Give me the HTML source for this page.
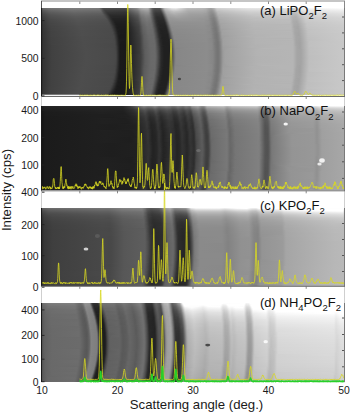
<!DOCTYPE html>
<html><head><meta charset="utf-8"><style>
html,body{margin:0;padding:0;background:#fff;width:350px;height:413px;overflow:hidden;position:relative}
#im{position:absolute;left:0;top:0;width:350px;height:413px}
#im div{position:absolute;left:42px;width:303px;height:1px}
svg{position:absolute;left:0;top:0;display:block}
text{font-family:"Liberation Sans",sans-serif}
</style></head><body>
<div id="im">
<div style="top:8px;background:linear-gradient(90deg,#5c5c5c 0px,#686868 1px,#737373 7px,#7e7e7e 33px,#797979 57px,#4d4d4d 61px,#4b4b4b 83px,#4d4d4d 84px,#737373 87px,#8b8b8b 95px,#a6a6a6 98px,#b3b3b3 103px,#b3b3b3 106px,#a3a3a3 107px,#767676 109px,#656565 110px,#5a5a5a 111px,#535353 113px,#535353 118px,#878787 120px,#b4b4b4 122px,#c2c2c2 123px,#e4e4e4 130px,#e8e8e8 134px,#d1d1d1 140px,#bdbdbd 145px,#bbbbbb 154px,#b6b6b6 163px,#a5a5a5 167px,#a1a1a1 169px,#b3b3b3 172px,#cacaca 174px,#d0d0d0 175px,#e3e3e3 206px,#e7e7e7 233px,#e7e7e7 245px,#d5d5d5 248px,#d2d2d2 252px,#ededed 259px,#f3f3f3 262px,#fbfbfb 302px)"></div>
<div style="top:9px;background:linear-gradient(90deg,#545454 0px,#606060 1px,#6c6c6c 7px,#777777 32px,#737373 57px,#717171 58px,#4d4d4d 61px,#454545 62px,#434343 83px,#454545 84px,#696969 87px,#818181 95px,#a0a0a0 99px,#a9a9a9 103px,#a9a9a9 106px,#9d9d9d 107px,#737373 109px,#545454 111px,#4b4b4b 113px,#4b4b4b 118px,#5c5c5c 119px,#a5a5a5 122px,#b9b9b9 123px,#d6d6d6 130px,#d9d9d9 134px,#c2c2c2 141px,#b4b4b4 146px,#b2b2b2 160px,#adadad 164px,#9f9f9f 167px,#9d9d9d 170px,#aaaaaa 172px,#c9c9c9 175px,#dcdcdc 206px,#e0e0e0 233px,#e0e0e0 245px,#cfcfcf 248px,#cbcbcb 252px,#ebebeb 261px,#f4f4f4 302px)"></div>
<div style="top:10px;background:linear-gradient(90deg,#4d4d4d 0px,#595959 1px,#656565 7px,#707070 30px,#6e6e6e 57px,#6d6d6d 58px,#666666 59px,#4d4d4d 61px,#3f3f3f 63px,#3c3c3c 83px,#3f3f3f 84px,#5f5f5f 87px,#767676 94px,#7e7e7e 96px,#979797 99px,#a1a1a1 104px,#a1a1a1 106px,#989898 107px,#707070 109px,#4f4f4f 111px,#454545 113px,#444444 118px,#4c4c4c 119px,#818181 121px,#acacac 123px,#b5b5b5 124px,#cccccc 131px,#cbcbcb 135px,#afafaf 146px,#adadad 160px,#a9a9a9 164px,#999999 168px,#969696 170px,#a2a2a2 172px,#c2c2c2 175px,#d6d6d6 205px,#dadada 231px,#dadada 245px,#c8c8c8 249px,#c7c7c7 253px,#e5e5e5 261px,#eeeeee 302px)"></div>
<div style="top:11px;background:linear-gradient(90deg,#484848 0px,#545454 1px,#606060 7px,#6c6c6c 32px,#686868 58px,#676767 59px,#4e4e4e 61px,#3b3b3b 64px,#373737 83px,#393939 84px,#575757 87px,#757575 96px,#8f8f8f 99px,#9a9a9a 104px,#9a9a9a 106px,#949494 107px,#5e5e5e 110px,#4e4e4e 111px,#404040 113px,#404040 119px,#898989 122px,#9e9e9e 123px,#aeaeae 124px,#c2c2c2 132px,#bbbbbb 138px,#aaaaaa 146px,#a9a9a9 160px,#a6a6a6 164px,#959595 168px,#919191 170px,#9c9c9c 172px,#bababa 175px,#c1c1c1 180px,#d2d2d2 209px,#d5d5d5 245px,#cecece 247px,#c3c3c3 249px,#c1c1c1 253px,#dcdcdc 260px,#e2e2e2 263px,#e9e9e9 302px)"></div>
<div style="top:12px;background:linear-gradient(90deg,#434343 0px,#4f4f4f 1px,#5b5b5b 7px,#676767 32px,#646464 58px,#5f5f5f 60px,#484848 62px,#363636 65px,#323232 83px,#343434 84px,#505050 87px,#6e6e6e 96px,#898989 99px,#939393 104px,#939393 106px,#8e8e8e 107px,#4e4e4e 111px,#424242 112px,#3a3a3a 114px,#3b3b3b 119px,#494949 120px,#7d7d7d 122px,#a7a7a7 124px,#b9b9b9 131px,#b6b6b6 137px,#a6a6a6 147px,#a5a5a5 160px,#a3a3a3 164px,#919191 168px,#8e8e8e 170px,#969696 172px,#bababa 176px,#cdcdcd 208px,#d1d1d1 238px,#d1d1d1 246px,#bfbfbf 249px,#bbbbbb 253px,#d6d6d6 260px,#dddddd 263px,#e5e5e5 302px)"></div>
<div style="top:13px;background:linear-gradient(90deg,#3f3f3f 0px,#4b4b4b 1px,#585858 8px,#636363 33px,#5f5f5f 59px,#5e5e5e 60px,#444444 63px,#323232 66px,#303030 84px,#4a4a4a 87px,#676767 96px,#838383 99px,#8e8e8e 104px,#8e8e8e 106px,#898989 107px,#3f3f3f 112px,#363636 114px,#373737 119px,#3b3b3b 120px,#717171 122px,#9b9b9b 124px,#a6a6a6 125px,#b3b3b3 132px,#aaaaaa 140px,#a2a2a2 148px,#a2a2a2 160px,#9c9c9c 165px,#8d8d8d 169px,#8b8b8b 171px,#989898 173px,#b6b6b6 176px,#cacaca 209px,#cdcdcd 246px,#bcbcbc 249px,#b8b8b8 253px,#d8d8d8 262px,#e1e1e1 302px)"></div>
<div style="top:14px;background:linear-gradient(90deg,#3b3b3b 0px,#474747 1px,#545454 8px,#606060 33px,#5c5c5c 59px,#5b5b5b 61px,#3a3a3a 65px,#2e2e2e 67px,#2d2d2d 84px,#454545 87px,#616161 96px,#7d7d7d 99px,#898989 104px,#898989 106px,#858585 107px,#7c7c7c 108px,#3f3f3f 112px,#343434 114px,#343434 120px,#494949 121px,#7b7b7b 123px,#a1a1a1 125px,#adadad 133px,#9f9f9f 148px,#9e9e9e 161px,#9b9b9b 165px,#8a8a8a 169px,#878787 171px,#939393 173px,#b2b2b2 176px,#c6c6c6 208px,#cacaca 238px,#cacaca 246px,#b8b8b8 250px,#b7b7b7 254px,#d4d4d4 262px,#dedede 302px)"></div>
<div style="top:15px;background:linear-gradient(90deg,#383838 0px,#454545 1px,#515151 8px,#5d5d5d 34px,#595959 60px,#555555 62px,#303030 67px,#2a2a2a 68px,#2a2a2a 84px,#404040 87px,#5b5b5b 96px,#787878 99px,#858585 104px,#818181 107px,#7b7b7b 108px,#404040 112px,#323232 114px,#313131 120px,#3d3d3d 121px,#717171 123px,#999999 125px,#a1a1a1 127px,#a7a7a7 134px,#9d9d9d 148px,#9c9c9c 161px,#999999 165px,#888888 169px,#858585 171px,#8e8e8e 173px,#adadad 176px,#b2b2b2 179px,#c6c6c6 215px,#c5c5c5 247px,#b6b6b6 250px,#b4b4b4 254px,#d3d3d3 263px,#dbdbdb 302px)"></div>
<div style="top:16px;background:linear-gradient(90deg,#363636 0px,#424242 1px,#4f4f4f 8px,#5a5a5a 34px,#565656 61px,#525252 63px,#2c2c2c 68px,#272727 70px,#272727 84px,#404040 88px,#575757 96px,#737373 99px,#818181 104px,#7e7e7e 107px,#7a7a7a 108px,#363636 113px,#2d2d2d 115px,#313131 121px,#666666 123px,#8f8f8f 125px,#9c9c9c 126px,#a3a3a3 134px,#9b9b9b 149px,#9a9a9a 161px,#949494 166px,#868686 169px,#858585 172px,#9d9d9d 175px,#afafaf 177px,#c2c2c2 213px,#c4c4c4 247px,#b4b4b4 250px,#b0b0b0 254px,#d0d0d0 263px,#d8d8d8 302px)"></div>
<div style="top:17px;background:linear-gradient(90deg,#343434 0px,#404040 1px,#4d4d4d 8px,#585858 34px,#555555 61px,#545454 63px,#282828 69px,#252525 84px,#3c3c3c 88px,#535353 96px,#6f6f6f 99px,#7e7e7e 104px,#7b7b7b 107px,#787878 108px,#444444 112px,#353535 113px,#2c2c2c 115px,#2d2d2d 121px,#404040 122px,#727272 124px,#989898 126px,#9f9f9f 135px,#999999 150px,#989898 162px,#939393 166px,#838383 170px,#818181 172px,#8e8e8e 174px,#acacac 177px,#bfbfbf 211px,#c2c2c2 247px,#b2b2b2 250px,#aeaeae 254px,#cdcdcd 263px,#d6d6d6 302px)"></div>
<div style="top:18px;background:linear-gradient(90deg,#323232 0px,#3e3e3e 1px,#4b4b4b 8px,#565656 34px,#535353 62px,#525252 64px,#2a2a2a 69px,#232323 71px,#232323 84px,#393939 88px,#505050 96px,#717171 100px,#7b7b7b 105px,#767676 108px,#6e6e6e 109px,#373737 113px,#2b2b2b 115px,#2b2b2b 121px,#363636 122px,#696969 124px,#909090 126px,#979797 127px,#9b9b9b 136px,#979797 151px,#959595 163px,#939393 166px,#838383 169px,#7e7e7e 172px,#8a8a8a 174px,#aaaaaa 177px,#bcbcbc 208px,#c0c0c0 238px,#c0c0c0 247px,#afafaf 251px,#afafaf 255px,#cccccc 264px,#d4d4d4 302px)"></div>
<div style="top:19px;background:linear-gradient(90deg,#303030 0px,#3d3d3d 1px,#494949 8px,#555555 35px,#515151 63px,#4f4f4f 65px,#2d2d2d 69px,#222222 71px,#222222 84px,#373737 88px,#4d4d4d 96px,#6f6f6f 100px,#797979 105px,#747474 108px,#6f6f6f 109px,#393939 113px,#2b2b2b 115px,#292929 120px,#2c2c2c 122px,#5f5f5f 124px,#888888 126px,#959595 127px,#989898 137px,#969696 153px,#939393 164px,#929292 166px,#818181 170px,#7d7d7d 172px,#878787 174px,#a6a6a6 177px,#acacac 182px,#bdbdbd 214px,#bcbcbc 248px,#aeaeae 251px,#adadad 255px,#cbcbcb 264px,#d3d3d3 302px)"></div>
<div style="top:20px;background:linear-gradient(90deg,#2f2f2f 0px,#3b3b3b 1px,#484848 8px,#545454 36px,#505050 64px,#4b4b4b 66px,#2a2a2a 70px,#212121 72px,#212121 84px,#383838 89px,#4a4a4a 96px,#6c6c6c 100px,#777777 105px,#707070 109px,#303030 114px,#272727 116px,#292929 122px,#3b3b3b 123px,#6d6d6d 125px,#939393 127px,#969696 138px,#949494 162px,#8d8d8d 167px,#808080 170px,#7c7c7c 172px,#858585 174px,#a2a2a2 177px,#a8a8a8 178px,#bbbbbb 211px,#bcbcbc 248px,#adadad 251px,#ababab 255px,#c9c9c9 264px,#d1d1d1 302px)"></div>
<div style="top:21px;background:linear-gradient(90deg,#2e2e2e 0px,#3a3a3a 1px,#474747 8px,#535353 35px,#4f4f4f 64px,#4e4e4e 66px,#2d2d2d 70px,#202020 73px,#1f1f1f 84px,#363636 89px,#4e4e4e 97px,#6a6a6a 100px,#757575 105px,#707070 109px,#3e3e3e 113px,#303030 114px,#272727 116px,#282828 122px,#323232 123px,#656565 125px,#8b8b8b 127px,#929292 128px,#939393 143px,#939393 162px,#8e8e8e 167px,#7d7d7d 171px,#7c7c7c 173px,#8a8a8a 175px,#a7a7a7 178px,#b9b9b9 211px,#bcbcbc 248px,#acacac 251px,#a9a9a9 255px,#c8c8c8 264px,#d0d0d0 302px)"></div>
<div style="top:22px;background:linear-gradient(90deg,#2d2d2d 0px,#393939 1px,#464646 8px,#525252 36px,#4e4e4e 65px,#4b4b4b 67px,#303030 70px,#1f1f1f 73px,#1f1f1f 84px,#373737 90px,#4b4b4b 97px,#676767 100px,#737373 105px,#6f6f6f 109px,#5b5b5b 111px,#323232 114px,#252525 117px,#292929 123px,#717171 126px,#848484 127px,#909090 128px,#929292 162px,#8e8e8e 167px,#7d7d7d 171px,#7a7a7a 173px,#878787 175px,#a6a6a6 178px,#b8b8b8 211px,#bbbbbb 248px,#acacac 251px,#a8a8a8 255px,#c6c6c6 264px,#cfcfcf 302px)"></div>
<div style="top:23px;background:linear-gradient(90deg,#2c2c2c 0px,#393939 1px,#454545 8px,#515151 36px,#4d4d4d 66px,#4c4c4c 67px,#2c2c2c 71px,#1e1e1e 74px,#1e1e1e 84px,#353535 90px,#494949 97px,#656565 100px,#727272 105px,#6e6e6e 109px,#696969 110px,#353535 114px,#272727 116px,#252525 120px,#262626 123px,#3a3a3a 124px,#6a6a6a 126px,#8f8f8f 128px,#919191 162px,#8e8e8e 167px,#7c7c7c 171px,#797979 173px,#848484 175px,#a3a3a3 178px,#b6b6b6 208px,#bababa 239px,#bababa 248px,#aaaaaa 252px,#a9a9a9 256px,#c6c6c6 265px,#cecece 302px)"></div>
<div style="top:24px;background:linear-gradient(90deg,#2b2b2b 0px,#383838 1px,#454545 8px,#515151 37px,#4d4d4d 66px,#4a4a4a 68px,#2f2f2f 71px,#1d1d1d 74px,#1d1d1d 84px,#373737 91px,#474747 97px,#626262 100px,#717171 105px,#6b6b6b 110px,#2c2c2c 115px,#242424 117px,#252525 123px,#323232 124px,#636363 126px,#898989 128px,#8f8f8f 130px,#919191 162px,#8d8d8d 167px,#7c7c7c 171px,#797979 173px,#828282 175px,#a1a1a1 178px,#a6a6a6 181px,#b7b7b7 213px,#b7b7b7 249px,#a9a9a9 252px,#a8a8a8 256px,#c5c5c5 265px,#cdcdcd 302px)"></div>
<div style="top:25px;background:linear-gradient(90deg,#2b2b2b 0px,#373737 1px,#444444 8px,#505050 37px,#4c4c4c 67px,#4b4b4b 68px,#252525 73px,#1d1d1d 75px,#1d1d1d 84px,#393939 92px,#454545 97px,#606060 100px,#707070 105px,#6d6d6d 110px,#2d2d2d 115px,#232323 118px,#242424 123px,#2a2a2a 124px,#707070 127px,#828282 128px,#8d8d8d 129px,#909090 162px,#8a8a8a 168px,#7c7c7c 171px,#7a7a7a 174px,#939393 177px,#a4a4a4 179px,#b6b6b6 212px,#b8b8b8 249px,#a9a9a9 252px,#a7a7a7 256px,#c5c5c5 265px,#cccccc 302px)"></div>
<div style="top:26px;background:linear-gradient(90deg,#2a2a2a 0px,#373737 1px,#434343 8px,#4f4f4f 37px,#4c4c4c 67px,#484848 69px,#202020 74px,#1c1c1c 77px,#1c1c1c 84px,#3a3a3a 93px,#434343 97px,#646464 101px,#6f6f6f 106px,#6c6c6c 110px,#3d3d3d 114px,#2f2f2f 115px,#232323 118px,#242424 124px,#6a6a6a 127px,#8c8c8c 129px,#909090 162px,#8a8a8a 168px,#7a7a7a 172px,#797979 174px,#868686 176px,#a3a3a3 179px,#b6b6b6 212px,#b8b8b8 249px,#a8a8a8 252px,#a5a5a5 256px,#c4c4c4 265px,#cccccc 302px)"></div>
<div style="top:27px;background:linear-gradient(90deg,#2a2a2a 0px,#373737 1px,#444444 9px,#4f4f4f 38px,#4c4c4c 67px,#4a4a4a 69px,#222222 74px,#1c1c1c 75px,#1c1c1c 84px,#3b3b3b 94px,#424242 97px,#636363 101px,#6e6e6e 106px,#6c6c6c 110px,#595959 112px,#323232 115px,#252525 117px,#232323 122px,#232323 124px,#333333 125px,#636363 127px,#898989 129px,#8d8d8d 134px,#8f8f8f 163px,#8b8b8b 168px,#7a7a7a 172px,#777777 174px,#848484 176px,#a3a3a3 179px,#b5b5b5 212px,#b8b8b8 249px,#a8a8a8 252px,#a5a5a5 256px,#c3c3c3 265px,#cbcbcb 302px)"></div>
<div style="top:28px;background:linear-gradient(90deg,#292929 0px,#363636 1px,#434343 9px,#4f4f4f 39px,#4b4b4b 68px,#464646 70px,#1d1d1d 75px,#1b1b1b 84px,#3a3a3a 94px,#414141 97px,#626262 101px,#6e6e6e 106px,#6c6c6c 110px,#676767 111px,#2a2a2a 116px,#222222 118px,#232323 124px,#2c2c2c 125px,#5d5d5d 127px,#838383 129px,#8b8b8b 130px,#8f8f8f 163px,#8b8b8b 168px,#7b7b7b 171px,#767676 174px,#828282 176px,#a1a1a1 179px,#b4b4b4 210px,#b8b8b8 244px,#b8b8b8 249px,#a7a7a7 253px,#a4a4a4 256px,#c3c3c3 266px,#cbcbcb 302px)"></div>
<div style="top:29px;background:linear-gradient(90deg,#292929 0px,#363636 1px,#434343 9px,#4f4f4f 39px,#4b4b4b 68px,#494949 70px,#1f1f1f 75px,#1b1b1b 79px,#1b1b1b 84px,#3c3c3c 95px,#404040 97px,#616161 101px,#6d6d6d 106px,#696969 111px,#2b2b2b 116px,#222222 118px,#232323 124px,#262626 125px,#6c6c6c 128px,#7e7e7e 129px,#8a8a8a 130px,#8e8e8e 163px,#8b8b8b 168px,#7a7a7a 172px,#767676 174px,#818181 176px,#9f9f9f 179px,#b2b2b2 205px,#b7b7b7 234px,#b7b7b7 249px,#a7a7a7 253px,#a6a6a6 257px,#c1c1c1 265px,#cbcbcb 302px)"></div>
<div style="top:30px;background:linear-gradient(90deg,#292929 0px,#363636 1px,#434343 9px,#4e4e4e 39px,#4a4a4a 69px,#4a4a4a 70px,#202020 75px,#1b1b1b 77px,#1b1b1b 84px,#3b3b3b 95px,#3f3f3f 97px,#606060 101px,#6c6c6c 106px,#6a6a6a 111px,#3a3a3a 115px,#2c2c2c 116px,#212121 119px,#222222 125px,#666666 128px,#8a8a8a 130px,#8e8e8e 163px,#8b8b8b 168px,#7a7a7a 172px,#767676 174px,#7f7f7f 176px,#9d9d9d 179px,#a3a3a3 181px,#b5b5b5 214px,#b5b5b5 250px,#a7a7a7 253px,#a5a5a5 257px,#c2c2c2 266px,#cacaca 302px)"></div>
<div style="top:31px;background:linear-gradient(90deg,#282828 0px,#353535 1px,#424242 9px,#4e4e4e 39px,#4a4a4a 69px,#464646 71px,#222222 75px,#1b1b1b 76px,#1b1b1b 84px,#3a3a3a 95px,#3f3f3f 97px,#5f5f5f 101px,#6c6c6c 106px,#6b6b6b 111px,#3c3c3c 115px,#2e2e2e 116px,#212121 119px,#222222 125px,#313131 126px,#616161 128px,#858585 130px,#8a8a8a 132px,#8e8e8e 163px,#888888 169px,#7a7a7a 172px,#787878 175px,#919191 178px,#a2a2a2 180px,#b4b4b4 213px,#b7b7b7 249px,#a7a7a7 253px,#a5a5a5 257px,#c2c2c2 266px,#cacaca 302px)"></div>
<div style="top:32px;background:linear-gradient(90deg,#282828 0px,#353535 1px,#424242 9px,#4e4e4e 39px,#4a4a4a 69px,#494949 71px,#1c1c1c 76px,#1a1a1a 84px,#3c3c3c 96px,#444444 98px,#5e5e5e 101px,#6b6b6b 106px,#6b6b6b 111px,#4b4b4b 114px,#313131 116px,#242424 118px,#212121 121px,#222222 125px,#2b2b2b 126px,#5b5b5b 128px,#808080 130px,#898989 131px,#8e8e8e 163px,#888888 169px,#787878 173px,#777777 175px,#848484 177px,#a1a1a1 180px,#b4b4b4 213px,#b6b6b6 250px,#a6a6a6 253px,#a4a4a4 257px,#c2c2c2 266px,#cacaca 302px)"></div>
<div style="top:33px;background:linear-gradient(90deg,#282828 0px,#353535 1px,#424242 9px,#4e4e4e 40px,#4a4a4a 70px,#494949 71px,#1d1d1d 76px,#1a1a1a 84px,#3b3b3b 96px,#434343 98px,#5d5d5d 101px,#6b6b6b 106px,#6b6b6b 111px,#646464 112px,#292929 117px,#212121 119px,#222222 125px,#262626 126px,#6a6a6a 129px,#898989 131px,#8e8e8e 163px,#898989 169px,#787878 173px,#767676 175px,#838383 177px,#a1a1a1 180px,#b4b4b4 213px,#b6b6b6 250px,#a6a6a6 253px,#a3a3a3 257px,#c1c1c1 266px,#c9c9c9 302px)"></div>
<div style="top:34px;background:linear-gradient(90deg,#282828 0px,#353535 1px,#424242 9px,#4e4e4e 40px,#4a4a4a 70px,#444444 72px,#1f1f1f 76px,#1a1a1a 78px,#1a1a1a 84px,#3b3b3b 96px,#424242 98px,#5b5b5b 101px,#6a6a6a 106px,#6a6a6a 111px,#666666 112px,#2a2a2a 117px,#212121 120px,#212121 126px,#666666 129px,#888888 131px,#8d8d8d 164px,#898989 169px,#7a7a7a 172px,#757575 175px,#818181 177px,#a1a1a1 180px,#b3b3b3 213px,#b6b6b6 250px,#a7a7a7 253px,#a3a3a3 257px,#c1c1c1 266px,#c9c9c9 302px)"></div>
<div style="top:35px;background:linear-gradient(90deg,#282828 0px,#353535 1px,#424242 9px,#4e4e4e 40px,#4a4a4a 70px,#474747 72px,#202020 76px,#1a1a1a 77px,#1a1a1a 84px,#3b3b3b 96px,#414141 98px,#606060 102px,#6a6a6a 107px,#686868 112px,#383838 116px,#2b2b2b 117px,#212121 120px,#212121 126px,#333333 127px,#616161 129px,#848484 131px,#898989 133px,#8d8d8d 164px,#8a8a8a 169px,#787878 173px,#757575 175px,#808080 177px,#9f9f9f 180px,#b2b2b2 210px,#b6b6b6 241px,#b6b6b6 250px,#a5a5a5 254px,#a3a3a3 257px,#c0c0c0 266px,#c9c9c9 302px)"></div>
<div style="top:36px;background:linear-gradient(90deg,#282828 0px,#353535 1px,#424242 9px,#4d4d4d 40px,#4a4a4a 70px,#494949 72px,#212121 76px,#1a1a1a 77px,#1a1a1a 84px,#3a3a3a 96px,#404040 98px,#5f5f5f 102px,#6a6a6a 107px,#6a6a6a 112px,#2d2d2d 117px,#212121 120px,#212121 126px,#2e2e2e 127px,#5d5d5d 129px,#808080 131px,#888888 132px,#8d8d8d 164px,#8a8a8a 169px,#787878 173px,#757575 175px,#7f7f7f 177px,#9e9e9e 180px,#b1b1b1 206px,#b6b6b6 234px,#b6b6b6 250px,#a5a5a5 254px,#a5a5a5 258px,#c0c0c0 266px,#c9c9c9 302px)"></div>
<div style="top:37px;background:linear-gradient(90deg,#272727 0px,#353535 1px,#414141 9px,#4d4d4d 40px,#4a4a4a 70px,#494949 72px,#1a1a1a 77px,#1a1a1a 84px,#3f3f3f 98px,#5f5f5f 102px,#6a6a6a 107px,#6a6a6a 112px,#2f2f2f 117px,#202020 120px,#212121 126px,#292929 127px,#595959 129px,#7d7d7d 131px,#888888 132px,#8d8d8d 164px,#8a8a8a 169px,#787878 173px,#757575 175px,#7e7e7e 177px,#9d9d9d 180px,#a2a2a2 183px,#b4b4b4 215px,#b6b6b6 250px,#a5a5a5 254px,#a5a5a5 258px,#bfbfbf 266px,#c9c9c9 302px)"></div>
<div style="top:38px;background:linear-gradient(90deg,#272727 0px,#343434 1px,#414141 9px,#4d4d4d 40px,#494949 71px,#494949 72px,#424242 73px,#1b1b1b 77px,#1a1a1a 84px,#3e3e3e 98px,#5e5e5e 102px,#696969 107px,#6a6a6a 112px,#3f3f3f 116px,#282828 118px,#202020 120px,#212121 126px,#252525 127px,#686868 130px,#888888 132px,#8d8d8d 164px,#868686 170px,#787878 173px,#757575 175px,#7d7d7d 177px,#9b9b9b 180px,#a1a1a1 182px,#b3b3b3 215px,#b3b3b3 251px,#a5a5a5 254px,#a4a4a4 258px,#bfbfbf 266px,#c9c9c9 302px)"></div>
<div style="top:39px;background:linear-gradient(90deg,#272727 0px,#343434 1px,#414141 9px,#4d4d4d 41px,#4a4a4a 71px,#444444 73px,#252525 76px,#1c1c1c 77px,#1a1a1a 84px,#3e3e3e 98px,#5e5e5e 102px,#696969 107px,#6a6a6a 112px,#585858 114px,#292929 118px,#202020 121px,#212121 127px,#656565 130px,#878787 132px,#8d8d8d 164px,#878787 170px,#777777 174px,#767676 176px,#8f8f8f 179px,#a1a1a1 181px,#b3b3b3 214px,#b6b6b6 250px,#a5a5a5 254px,#a4a4a4 258px,#bebebe 266px,#c9c9c9 302px)"></div>
<div style="top:40px;background:linear-gradient(90deg,#272727 0px,#343434 1px,#414141 9px,#4d4d4d 41px,#4a4a4a 71px,#464646 73px,#262626 76px,#1d1d1d 77px,#1a1a1a 84px,#3b3b3b 97px,#3d3d3d 98px,#5e5e5e 102px,#696969 108px,#6a6a6a 112px,#646464 113px,#292929 118px,#202020 121px,#212121 127px,#616161 130px,#848484 132px,#888888 136px,#8d8d8d 164px,#878787 170px,#777777 174px,#767676 176px,#8e8e8e 179px,#a0a0a0 181px,#b3b3b3 214px,#b4b4b4 251px,#a5a5a5 254px,#a3a3a3 258px,#bebebe 266px,#c9c9c9 302px)"></div>
<div style="top:41px;background:linear-gradient(90deg,#272727 0px,#343434 1px,#414141 9px,#4d4d4d 42px,#4a4a4a 71px,#484848 73px,#272727 76px,#1e1e1e 77px,#191919 81px,#1c1c1c 85px,#3d3d3d 98px,#5d5d5d 102px,#696969 108px,#6a6a6a 112px,#656565 113px,#2a2a2a 118px,#202020 121px,#212121 127px,#303030 128px,#5e5e5e 130px,#828282 132px,#888888 133px,#8d8d8d 164px,#888888 170px,#777777 174px,#757575 176px,#828282 178px,#a0a0a0 181px,#b3b3b3 214px,#b5b5b5 251px,#a5a5a5 254px,#a3a3a3 258px,#c0c0c0 267px,#c8c8c8 302px)"></div>
<div style="top:42px;background:linear-gradient(90deg,#272727 0px,#343434 1px,#414141 9px,#4d4d4d 42px,#4a4a4a 71px,#484848 73px,#1e1e1e 77px,#1a1a1a 79px,#1a1a1a 84px,#3d3d3d 98px,#5d5d5d 102px,#696969 108px,#6a6a6a 112px,#676767 113px,#2b2b2b 118px,#202020 121px,#202020 127px,#2d2d2d 128px,#5b5b5b 130px,#7f7f7f 132px,#888888 133px,#8c8c8c 165px,#888888 170px,#797979 173px,#747474 176px,#818181 178px,#a0a0a0 181px,#b3b3b3 214px,#b5b5b5 251px,#a5a5a5 254px,#a2a2a2 258px,#c0c0c0 267px,#c8c8c8 302px)"></div>
<div style="top:43px;background:linear-gradient(90deg,#272727 0px,#343434 1px,#414141 9px,#4d4d4d 42px,#494949 72px,#484848 73px,#1f1f1f 77px,#1a1a1a 79px,#1a1a1a 84px,#3c3c3c 98px,#5c5c5c 102px,#696969 108px,#686868 113px,#2d2d2d 118px,#202020 121px,#202020 127px,#2a2a2a 128px,#585858 130px,#7d7d7d 132px,#878787 133px,#8c8c8c 165px,#898989 170px,#797979 173px,#747474 176px,#818181 178px,#a0a0a0 181px,#b3b3b3 214px,#b5b5b5 251px,#a5a5a5 254px,#a2a2a2 258px,#c0c0c0 267px,#c8c8c8 302px)"></div>
<div style="top:44px;background:linear-gradient(90deg,#272727 0px,#343434 1px,#424242 10px,#4d4d4d 42px,#494949 72px,#484848 73px,#202020 77px,#1a1a1a 78px,#191919 84px,#3c3c3c 98px,#5c5c5c 102px,#696969 108px,#696969 113px,#2e2e2e 118px,#202020 121px,#202020 127px,#272727 128px,#696969 131px,#878787 133px,#8c8c8c 165px,#898989 170px,#797979 173px,#747474 176px,#808080 178px,#a0a0a0 181px,#b2b2b2 213px,#b5b5b5 251px,#a6a6a6 254px,#a2a2a2 258px,#c0c0c0 267px,#c8c8c8 302px)"></div>
<div style="top:45px;background:linear-gradient(90deg,#272727 0px,#343434 1px,#414141 10px,#4d4d4d 42px,#494949 72px,#484848 73px,#414141 74px,#202020 77px,#1a1a1a 78px,#191919 84px,#3c3c3c 98px,#5b5b5b 102px,#696969 108px,#6a6a6a 113px,#2f2f2f 118px,#242424 120px,#202020 123px,#202020 127px,#242424 128px,#676767 131px,#878787 133px,#8c8c8c 165px,#898989 170px,#777777 174px,#747474 176px,#7f7f7f 178px,#9f9f9f 181px,#b1b1b1 211px,#b5b5b5 241px,#b5b5b5 251px,#a6a6a6 254px,#a2a2a2 258px,#c0c0c0 267px,#c8c8c8 302px)"></div>
<div style="top:46px;background:linear-gradient(90deg,#272727 0px,#343434 1px,#414141 10px,#4d4d4d 42px,#494949 72px,#494949 73px,#434343 74px,#212121 77px,#1a1a1a 78px,#191919 84px,#3c3c3c 98px,#5b5b5b 102px,#696969 108px,#6a6a6a 113px,#282828 119px,#202020 121px,#212121 128px,#656565 131px,#878787 133px,#8c8c8c 165px,#898989 170px,#777777 174px,#747474 176px,#7f7f7f 178px,#9e9e9e 181px,#b1b1b1 210px,#b5b5b5 239px,#b5b5b5 251px,#a5a5a5 255px,#a2a2a2 258px,#c0c0c0 267px,#c8c8c8 302px)"></div>
<div style="top:47px;background:linear-gradient(90deg,#272727 0px,#343434 1px,#414141 10px,#4d4d4d 43px,#494949 72px,#444444 74px,#222222 77px,#1a1a1a 78px,#191919 84px,#3c3c3c 98px,#5a5a5a 102px,#686868 108px,#6a6a6a 113px,#282828 119px,#202020 122px,#202020 128px,#636363 131px,#868686 133px,#8c8c8c 165px,#898989 170px,#777777 174px,#747474 176px,#7f7f7f 178px,#9d9d9d 181px,#b1b1b1 210px,#b5b5b5 239px,#b5b5b5 251px,#a5a5a5 255px,#a2a2a2 258px,#bfbfbf 267px,#c8c8c8 302px)"></div>
<div style="top:48px;background:linear-gradient(90deg,#272727 0px,#343434 1px,#414141 10px,#4d4d4d 43px,#4a4a4a 72px,#444444 74px,#222222 77px,#1a1a1a 78px,#191919 84px,#3c3c3c 98px,#5a5a5a 102px,#686868 108px,#6a6a6a 113px,#404040 117px,#292929 119px,#202020 122px,#202020 128px,#737373 132px,#848484 133px,#8a8a8a 147px,#8c8c8c 165px,#898989 170px,#787878 174px,#747474 176px,#7e7e7e 178px,#9d9d9d 181px,#a5a5a5 189px,#b5b5b5 222px,#b5b5b5 251px,#a5a5a5 255px,#a2a2a2 258px,#bfbfbf 267px,#c8c8c8 302px)"></div>
<div style="top:49px;background:linear-gradient(90deg,#272727 0px,#343434 1px,#414141 10px,#4d4d4d 43px,#4a4a4a 72px,#454545 74px,#222222 77px,#1a1a1a 78px,#191919 84px,#3c3c3c 98px,#5e5e5e 103px,#696969 109px,#6a6a6a 113px,#414141 117px,#292929 119px,#202020 122px,#202020 128px,#323232 129px,#5f5f5f 131px,#838383 133px,#878787 135px,#8c8c8c 165px,#898989 170px,#787878 174px,#747474 176px,#7e7e7e 178px,#9c9c9c 181px,#a2a2a2 185px,#b3b3b3 216px,#b5b5b5 251px,#a5a5a5 255px,#a4a4a4 259px,#bfbfbf 267px,#c8c8c8 302px)"></div>
<div style="top:50px;background:linear-gradient(90deg,#272727 0px,#343434 1px,#414141 10px,#4d4d4d 43px,#4a4a4a 72px,#464646 74px,#232323 77px,#1a1a1a 78px,#191919 84px,#3c3c3c 98px,#5e5e5e 103px,#696969 109px,#6a6a6a 113px,#585858 115px,#292929 119px,#202020 122px,#202020 128px,#313131 129px,#5e5e5e 131px,#828282 133px,#878787 134px,#8c8c8c 165px,#858585 171px,#787878 174px,#747474 176px,#7e7e7e 178px,#9c9c9c 181px,#a2a2a2 184px,#b3b3b3 216px,#b5b5b5 251px,#a5a5a5 255px,#a4a4a4 259px,#bfbfbf 267px,#c8c8c8 302px)"></div>
<div style="top:51px;background:linear-gradient(90deg,#272727 0px,#343434 1px,#414141 10px,#4d4d4d 43px,#4a4a4a 72px,#474747 74px,#232323 77px,#1a1a1a 78px,#191919 84px,#3b3b3b 98px,#5e5e5e 103px,#696969 109px,#6a6a6a 113px,#585858 115px,#292929 119px,#202020 122px,#202020 128px,#2f2f2f 129px,#5d5d5d 131px,#818181 133px,#878787 134px,#8c8c8c 165px,#868686 171px,#787878 174px,#747474 176px,#7d7d7d 178px,#9b9b9b 181px,#a1a1a1 183px,#b3b3b3 215px,#b5b5b5 251px,#a5a5a5 255px,#a4a4a4 259px,#bfbfbf 267px,#c8c8c8 302px)"></div>
<div style="top:52px;background:linear-gradient(90deg,#272727 0px,#343434 1px,#414141 10px,#4d4d4d 44px,#4a4a4a 72px,#474747 74px,#232323 77px,#1a1a1a 78px,#191919 84px,#3b3b3b 98px,#5e5e5e 103px,#696969 109px,#6a6a6a 113px,#595959 115px,#2a2a2a 119px,#202020 122px,#202020 128px,#2e2e2e 129px,#5c5c5c 131px,#808080 133px,#878787 134px,#8c8c8c 165px,#868686 171px,#787878 174px,#747474 176px,#7d7d7d 178px,#9b9b9b 181px,#a1a1a1 183px,#b3b3b3 215px,#b5b5b5 251px,#a5a5a5 255px,#a4a4a4 259px,#bfbfbf 267px,#c8c8c8 302px)"></div>
<div style="top:53px;background:linear-gradient(90deg,#272727 0px,#343434 1px,#414141 10px,#4d4d4d 44px,#4a4a4a 72px,#474747 74px,#242424 77px,#1a1a1a 78px,#191919 84px,#3b3b3b 98px,#5e5e5e 103px,#696969 109px,#6a6a6a 113px,#646464 114px,#2a2a2a 119px,#202020 122px,#202020 128px,#2d2d2d 129px,#5b5b5b 131px,#7f7f7f 133px,#878787 134px,#8c8c8c 165px,#868686 171px,#787878 174px,#747474 176px,#7d7d7d 178px,#9b9b9b 181px,#a1a1a1 183px,#b3b3b3 215px,#b5b5b5 251px,#a5a5a5 255px,#a4a4a4 259px,#bfbfbf 267px,#c8c8c8 302px)"></div>
<div style="top:54px;background:linear-gradient(90deg,#272727 0px,#343434 1px,#414141 10px,#4d4d4d 44px,#4a4a4a 72px,#484848 74px,#242424 77px,#1a1a1a 78px,#191919 84px,#404040 99px,#5d5d5d 103px,#696969 109px,#6a6a6a 113px,#646464 114px,#2a2a2a 119px,#202020 122px,#202020 128px,#2c2c2c 129px,#5b5b5b 131px,#7f7f7f 133px,#878787 134px,#8c8c8c 165px,#868686 171px,#787878 174px,#747474 176px,#7d7d7d 178px,#9b9b9b 181px,#a1a1a1 183px,#b3b3b3 215px,#b5b5b5 251px,#a5a5a5 255px,#a4a4a4 259px,#bfbfbf 267px,#c8c8c8 302px)"></div>
<div style="top:55px;background:linear-gradient(90deg,#272727 0px,#343434 1px,#414141 10px,#4d4d4d 44px,#4a4a4a 72px,#484848 74px,#242424 77px,#1a1a1a 78px,#191919 84px,#404040 99px,#5d5d5d 103px,#696969 109px,#6a6a6a 113px,#646464 114px,#373737 118px,#2a2a2a 119px,#202020 122px,#202020 128px,#2c2c2c 129px,#5a5a5a 131px,#7f7f7f 133px,#878787 134px,#8c8c8c 165px,#868686 171px,#787878 174px,#747474 176px,#7d7d7d 178px,#9b9b9b 181px,#a1a1a1 183px,#b3b3b3 215px,#b5b5b5 251px,#a5a5a5 255px,#a4a4a4 259px,#bebebe 267px,#c8c8c8 302px)"></div>
<div style="top:56px;background:linear-gradient(90deg,#272727 0px,#343434 1px,#414141 10px,#4d4d4d 44px,#4a4a4a 72px,#484848 74px,#242424 77px,#1a1a1a 78px,#191919 84px,#404040 99px,#5d5d5d 103px,#696969 109px,#6a6a6a 113px,#656565 114px,#373737 118px,#2a2a2a 119px,#202020 122px,#202020 128px,#2c2c2c 129px,#5a5a5a 131px,#7e7e7e 133px,#878787 134px,#8c8c8c 165px,#868686 171px,#787878 174px,#747474 176px,#7d7d7d 178px,#9b9b9b 181px,#a1a1a1 183px,#b2b2b2 215px,#b5b5b5 251px,#a5a5a5 255px,#a4a4a4 259px,#bebebe 267px,#c8c8c8 302px)"></div>
<div style="top:57px;background:linear-gradient(90deg,#272727 0px,#343434 1px,#414141 10px,#4d4d4d 44px,#4a4a4a 72px,#484848 74px,#242424 77px,#1a1a1a 78px,#191919 84px,#404040 99px,#5d5d5d 103px,#696969 109px,#6a6a6a 113px,#656565 114px,#373737 118px,#2a2a2a 119px,#202020 122px,#202020 128px,#2c2c2c 129px,#5a5a5a 131px,#7e7e7e 133px,#878787 134px,#8c8c8c 165px,#868686 171px,#787878 174px,#747474 176px,#7d7d7d 178px,#9a9a9a 181px,#a1a1a1 183px,#b2b2b2 215px,#b5b5b5 251px,#a5a5a5 255px,#a4a4a4 259px,#bebebe 267px,#c8c8c8 302px)"></div>
<div style="top:58px;background:linear-gradient(90deg,#272727 0px,#343434 1px,#414141 10px,#4d4d4d 44px,#4a4a4a 72px,#484848 74px,#242424 77px,#1a1a1a 78px,#191919 84px,#404040 99px,#5d5d5d 103px,#696969 109px,#6a6a6a 113px,#646464 114px,#373737 118px,#2a2a2a 119px,#202020 122px,#202020 128px,#2c2c2c 129px,#5a5a5a 131px,#7f7f7f 133px,#878787 134px,#8c8c8c 165px,#868686 171px,#787878 174px,#747474 176px,#7d7d7d 178px,#9b9b9b 181px,#a1a1a1 183px,#b2b2b2 215px,#b5b5b5 251px,#a5a5a5 255px,#a4a4a4 259px,#bebebe 267px,#c8c8c8 302px)"></div>
<div style="top:59px;background:linear-gradient(90deg,#272727 0px,#343434 1px,#414141 10px,#4d4d4d 44px,#4a4a4a 72px,#484848 74px,#242424 77px,#1a1a1a 78px,#191919 84px,#404040 99px,#5d5d5d 103px,#696969 109px,#6a6a6a 113px,#646464 114px,#2a2a2a 119px,#202020 122px,#202020 128px,#2c2c2c 129px,#5b5b5b 131px,#7f7f7f 133px,#878787 134px,#8c8c8c 165px,#868686 171px,#787878 174px,#747474 176px,#7d7d7d 178px,#9b9b9b 181px,#a1a1a1 183px,#b2b2b2 215px,#b5b5b5 251px,#a5a5a5 255px,#a4a4a4 259px,#bebebe 267px,#c8c8c8 302px)"></div>
<div style="top:60px;background:linear-gradient(90deg,#272727 0px,#343434 1px,#414141 10px,#4d4d4d 44px,#4a4a4a 72px,#474747 74px,#242424 77px,#1a1a1a 78px,#191919 84px,#3b3b3b 98px,#5d5d5d 103px,#696969 109px,#6a6a6a 113px,#646464 114px,#2a2a2a 119px,#202020 122px,#202020 128px,#2d2d2d 129px,#5b5b5b 131px,#7f7f7f 133px,#878787 134px,#8c8c8c 165px,#868686 171px,#787878 174px,#747474 176px,#7d7d7d 178px,#9b9b9b 181px,#a1a1a1 183px,#b2b2b2 215px,#b5b5b5 251px,#a5a5a5 255px,#a4a4a4 259px,#bfbfbf 267px,#c8c8c8 302px)"></div>
<div style="top:61px;background:linear-gradient(90deg,#272727 0px,#343434 1px,#414141 10px,#4d4d4d 44px,#4a4a4a 72px,#474747 74px,#232323 77px,#1a1a1a 78px,#191919 84px,#3b3b3b 98px,#5d5d5d 103px,#696969 109px,#6a6a6a 113px,#595959 115px,#2a2a2a 119px,#202020 122px,#202020 128px,#2e2e2e 129px,#5c5c5c 131px,#808080 133px,#878787 134px,#8c8c8c 165px,#868686 171px,#787878 174px,#747474 176px,#7d7d7d 178px,#9b9b9b 181px,#a1a1a1 183px,#b2b2b2 215px,#b5b5b5 251px,#a5a5a5 255px,#a4a4a4 259px,#bfbfbf 267px,#c8c8c8 302px)"></div>
<div style="top:62px;background:linear-gradient(90deg,#272727 0px,#343434 1px,#414141 10px,#4d4d4d 43px,#4a4a4a 72px,#464646 74px,#232323 77px,#1a1a1a 78px,#191919 84px,#3b3b3b 98px,#5d5d5d 103px,#696969 109px,#6a6a6a 113px,#585858 115px,#292929 119px,#202020 122px,#202020 128px,#2f2f2f 129px,#5d5d5d 131px,#818181 133px,#878787 134px,#8c8c8c 165px,#868686 171px,#787878 174px,#747474 176px,#7d7d7d 178px,#9b9b9b 181px,#a1a1a1 183px,#b2b2b2 215px,#b5b5b5 251px,#a5a5a5 255px,#a4a4a4 259px,#bfbfbf 267px,#c8c8c8 302px)"></div>
<div style="top:63px;background:linear-gradient(90deg,#272727 0px,#343434 1px,#414141 10px,#4d4d4d 43px,#4a4a4a 72px,#464646 74px,#232323 77px,#1a1a1a 78px,#191919 84px,#3b3b3b 98px,#5e5e5e 103px,#696969 109px,#6a6a6a 113px,#585858 115px,#292929 119px,#202020 122px,#202020 128px,#313131 129px,#5e5e5e 131px,#828282 133px,#878787 134px,#8c8c8c 165px,#858585 171px,#787878 174px,#747474 176px,#7d7d7d 178px,#9c9c9c 181px,#a2a2a2 184px,#b3b3b3 216px,#b5b5b5 251px,#a5a5a5 255px,#a4a4a4 259px,#bfbfbf 267px,#c8c8c8 302px)"></div>
<div style="top:64px;background:linear-gradient(90deg,#272727 0px,#343434 1px,#414141 10px,#4d4d4d 43px,#4a4a4a 72px,#454545 74px,#222222 77px,#1a1a1a 78px,#191919 84px,#3b3b3b 98px,#5e5e5e 103px,#696969 109px,#6a6a6a 113px,#414141 117px,#292929 119px,#202020 122px,#202020 128px,#323232 129px,#5f5f5f 131px,#838383 133px,#878787 135px,#8c8c8c 165px,#898989 170px,#777777 174px,#747474 176px,#7e7e7e 178px,#9c9c9c 181px,#a2a2a2 185px,#b3b3b3 216px,#b5b5b5 251px,#a5a5a5 255px,#a4a4a4 259px,#bfbfbf 267px,#c8c8c8 302px)"></div>
<div style="top:65px;background:linear-gradient(90deg,#272727 0px,#343434 1px,#414141 10px,#4d4d4d 43px,#494949 72px,#444444 74px,#222222 77px,#1a1a1a 78px,#191919 84px,#3b3b3b 98px,#595959 102px,#686868 108px,#6a6a6a 113px,#404040 117px,#292929 119px,#202020 122px,#202020 128px,#737373 132px,#848484 133px,#8a8a8a 147px,#8c8c8c 165px,#898989 170px,#777777 174px,#747474 176px,#7e7e7e 178px,#9d9d9d 181px,#a5a5a5 189px,#b5b5b5 222px,#b5b5b5 251px,#a5a5a5 255px,#a2a2a2 258px,#bfbfbf 267px,#c8c8c8 302px)"></div>
<div style="top:66px;background:linear-gradient(90deg,#272727 0px,#343434 1px,#414141 10px,#4d4d4d 43px,#494949 72px,#434343 74px,#212121 77px,#1a1a1a 78px,#191919 84px,#3b3b3b 98px,#5a5a5a 102px,#686868 108px,#6a6a6a 113px,#282828 119px,#202020 122px,#202020 128px,#626262 131px,#868686 133px,#8c8c8c 165px,#898989 170px,#777777 174px,#747474 176px,#7e7e7e 178px,#9d9d9d 181px,#b1b1b1 210px,#b5b5b5 239px,#b5b5b5 251px,#a4a4a4 255px,#a2a2a2 258px,#bfbfbf 267px,#c8c8c8 302px)"></div>
<div style="top:67px;background:linear-gradient(90deg,#272727 0px,#343434 1px,#414141 10px,#4d4d4d 42px,#494949 72px,#484848 73px,#424242 74px,#212121 77px,#1a1a1a 78px,#191919 84px,#3b3b3b 98px,#5a5a5a 102px,#686868 108px,#6a6a6a 113px,#282828 119px,#202020 121px,#212121 128px,#646464 131px,#878787 133px,#8c8c8c 165px,#898989 170px,#777777 174px,#747474 176px,#7f7f7f 178px,#9e9e9e 181px,#b1b1b1 210px,#b5b5b5 239px,#b5b5b5 251px,#a4a4a4 255px,#a2a2a2 258px,#bfbfbf 267px,#c8c8c8 302px)"></div>
<div style="top:68px;background:linear-gradient(90deg,#272727 0px,#343434 1px,#414141 10px,#4d4d4d 42px,#494949 72px,#484848 73px,#414141 74px,#202020 77px,#1a1a1a 78px,#191919 84px,#3c3c3c 98px,#5b5b5b 102px,#686868 108px,#6a6a6a 113px,#2f2f2f 118px,#242424 120px,#202020 123px,#202020 127px,#242424 128px,#666666 131px,#878787 133px,#8c8c8c 165px,#898989 170px,#777777 174px,#747474 176px,#7f7f7f 178px,#9f9f9f 181px,#b1b1b1 211px,#b5b5b5 241px,#b5b5b5 251px,#a6a6a6 254px,#a2a2a2 258px,#c0c0c0 267px,#c8c8c8 302px)"></div>
<div style="top:69px;background:linear-gradient(90deg,#272727 0px,#343434 1px,#414141 10px,#4d4d4d 42px,#494949 72px,#484848 73px,#202020 77px,#1a1a1a 78px,#191919 84px,#3c3c3c 98px,#5b5b5b 102px,#686868 108px,#696969 113px,#2e2e2e 118px,#202020 121px,#202020 127px,#262626 128px,#696969 131px,#878787 133px,#8c8c8c 165px,#898989 170px,#797979 173px,#737373 176px,#808080 178px,#9f9f9f 181px,#b2b2b2 213px,#b5b5b5 251px,#a5a5a5 254px,#a2a2a2 258px,#c0c0c0 267px,#c8c8c8 302px)"></div>
<div style="top:70px;background:linear-gradient(90deg,#272727 0px,#343434 1px,#414141 9px,#4d4d4d 42px,#494949 72px,#484848 73px,#1f1f1f 77px,#1a1a1a 79px,#191919 84px,#3c3c3c 98px,#5b5b5b 102px,#686868 108px,#686868 113px,#2c2c2c 118px,#202020 121px,#202020 127px,#292929 128px,#585858 130px,#7c7c7c 132px,#878787 133px,#8c8c8c 165px,#888888 170px,#797979 173px,#747474 176px,#808080 178px,#a0a0a0 181px,#b2b2b2 214px,#b5b5b5 251px,#a5a5a5 254px,#a2a2a2 258px,#c0c0c0 267px,#c8c8c8 302px)"></div>
<div style="top:71px;background:linear-gradient(90deg,#272727 0px,#343434 1px,#414141 9px,#4d4d4d 42px,#4a4a4a 71px,#484848 73px,#1e1e1e 77px,#191919 79px,#191919 84px,#3c3c3c 98px,#5c5c5c 102px,#686868 108px,#6a6a6a 112px,#676767 113px,#2b2b2b 118px,#202020 121px,#202020 127px,#2c2c2c 128px,#5b5b5b 130px,#7e7e7e 132px,#878787 133px,#8d8d8d 164px,#888888 170px,#787878 173px,#747474 176px,#818181 178px,#a0a0a0 181px,#b2b2b2 214px,#b5b5b5 251px,#a5a5a5 254px,#a2a2a2 258px,#c0c0c0 267px,#c8c8c8 302px)"></div>
<div style="top:72px;background:linear-gradient(90deg,#272727 0px,#343434 1px,#414141 9px,#4d4d4d 42px,#4a4a4a 71px,#484848 73px,#262626 76px,#1d1d1d 77px,#191919 81px,#1c1c1c 85px,#3c3c3c 98px,#5c5c5c 102px,#686868 108px,#6a6a6a 112px,#656565 113px,#2a2a2a 118px,#202020 121px,#202020 127px,#303030 128px,#5e5e5e 130px,#818181 132px,#878787 133px,#8c8c8c 164px,#878787 170px,#777777 174px,#757575 176px,#828282 178px,#a0a0a0 181px,#b2b2b2 214px,#b4b4b4 251px,#a5a5a5 254px,#a2a2a2 258px,#bdbdbd 266px,#c8c8c8 302px)"></div>
<div style="top:73px;background:linear-gradient(90deg,#272727 0px,#343434 1px,#414141 9px,#4d4d4d 41px,#494949 71px,#464646 73px,#252525 76px,#1c1c1c 77px,#191919 84px,#3c3c3c 98px,#5c5c5c 102px,#686868 108px,#6a6a6a 112px,#646464 113px,#292929 118px,#202020 121px,#202020 127px,#616161 130px,#848484 132px,#888888 136px,#8c8c8c 164px,#878787 170px,#767676 174px,#757575 176px,#8e8e8e 179px,#a0a0a0 181px,#b2b2b2 214px,#b4b4b4 251px,#a5a5a5 254px,#a3a3a3 258px,#bebebe 266px,#c8c8c8 302px)"></div>
<div style="top:74px;background:linear-gradient(90deg,#272727 0px,#343434 1px,#414141 9px,#4d4d4d 41px,#494949 71px,#444444 73px,#242424 76px,#1b1b1b 77px,#191919 84px,#3c3c3c 98px,#5d5d5d 102px,#696969 108px,#6a6a6a 112px,#575757 114px,#292929 118px,#202020 121px,#202020 127px,#646464 130px,#868686 132px,#8c8c8c 164px,#868686 170px,#767676 174px,#767676 176px,#8f8f8f 179px,#a0a0a0 181px,#b2b2b2 214px,#b5b5b5 250px,#a5a5a5 254px,#a3a3a3 258px,#bebebe 266px,#c8c8c8 302px)"></div>
<div style="top:75px;background:linear-gradient(90deg,#272727 0px,#343434 1px,#414141 9px,#4d4d4d 40px,#494949 71px,#484848 72px,#424242 73px,#1a1a1a 77px,#191919 84px,#3d3d3d 98px,#5d5d5d 102px,#696969 108px,#6a6a6a 112px,#3e3e3e 116px,#282828 118px,#202020 120px,#202020 126px,#242424 127px,#676767 130px,#878787 132px,#8c8c8c 164px,#868686 170px,#787878 173px,#747474 175px,#7d7d7d 177px,#9b9b9b 180px,#a1a1a1 182px,#b3b3b3 215px,#b3b3b3 251px,#a5a5a5 254px,#a3a3a3 258px,#bebebe 266px,#c8c8c8 302px)"></div>
<div style="top:76px;background:linear-gradient(90deg,#272727 0px,#343434 1px,#414141 9px,#4d4d4d 40px,#4a4a4a 70px,#484848 72px,#1a1a1a 77px,#191919 84px,#3d3d3d 98px,#5d5d5d 102px,#696969 108px,#6a6a6a 112px,#2f2f2f 117px,#202020 120px,#202020 126px,#282828 127px,#585858 129px,#7c7c7c 131px,#878787 132px,#8c8c8c 164px,#898989 169px,#787878 173px,#747474 175px,#7d7d7d 177px,#9c9c9c 180px,#a2a2a2 183px,#b3b3b3 215px,#b5b5b5 250px,#a5a5a5 254px,#a4a4a4 258px,#bebebe 266px,#c8c8c8 302px)"></div>
<div style="top:77px;background:linear-gradient(90deg,#272727 0px,#343434 1px,#414141 9px,#4d4d4d 40px,#4a4a4a 70px,#484848 72px,#212121 76px,#1a1a1a 77px,#191919 84px,#3e3e3e 98px,#5d5d5d 102px,#686868 107px,#696969 112px,#2c2c2c 117px,#202020 120px,#202020 126px,#2d2d2d 127px,#5c5c5c 129px,#7f7f7f 131px,#878787 132px,#8c8c8c 164px,#898989 169px,#777777 173px,#747474 175px,#7e7e7e 177px,#9d9d9d 180px,#b0b0b0 206px,#b5b5b5 234px,#b5b5b5 250px,#a5a5a5 254px,#a4a4a4 258px,#bfbfbf 266px,#c8c8c8 302px)"></div>
<div style="top:78px;background:linear-gradient(90deg,#272727 0px,#343434 1px,#414141 9px,#4d4d4d 40px,#494949 70px,#464646 72px,#1f1f1f 76px,#1a1a1a 77px,#191919 84px,#3e3e3e 98px,#5d5d5d 102px,#686868 107px,#676767 112px,#383838 116px,#2a2a2a 117px,#202020 120px,#202020 126px,#323232 127px,#606060 129px,#838383 131px,#878787 133px,#8c8c8c 164px,#898989 169px,#777777 173px,#747474 175px,#7f7f7f 177px,#9e9e9e 180px,#b1b1b1 210px,#b5b5b5 241px,#b5b5b5 250px,#a4a4a4 254px,#a2a2a2 257px,#bfbfbf 266px,#c8c8c8 302px)"></div>
<div style="top:79px;background:linear-gradient(90deg,#272727 0px,#343434 1px,#414141 9px,#4d4d4d 40px,#494949 70px,#444444 72px,#1e1e1e 76px,#1a1a1a 78px,#191919 84px,#3f3f3f 98px,#595959 101px,#686868 107px,#6a6a6a 111px,#666666 112px,#292929 117px,#202020 120px,#202020 126px,#646464 129px,#868686 131px,#8d8d8d 163px,#888888 169px,#797979 172px,#737373 175px,#808080 177px,#a0a0a0 180px,#b2b2b2 213px,#b5b5b5 250px,#a6a6a6 253px,#a2a2a2 257px,#bfbfbf 266px,#c8c8c8 302px)"></div>
<div style="top:80px;background:linear-gradient(90deg,#272727 0px,#343434 1px,#414141 9px,#4d4d4d 40px,#494949 70px,#484848 71px,#1c1c1c 76px,#191919 84px,#404040 98px,#5a5a5a 101px,#686868 107px,#6a6a6a 111px,#646464 112px,#282828 117px,#202020 119px,#202020 125px,#242424 126px,#686868 129px,#878787 131px,#8c8c8c 163px,#888888 169px,#777777 173px,#747474 175px,#818181 177px,#a0a0a0 180px,#b2b2b2 213px,#b5b5b5 250px,#a5a5a5 253px,#a2a2a2 257px,#c0c0c0 266px,#c8c8c8 302px)"></div>
<div style="top:81px;background:linear-gradient(90deg,#272727 0px,#343434 1px,#414141 9px,#4d4d4d 39px,#494949 69px,#484848 71px,#1b1b1b 76px,#191919 84px,#3b3b3b 97px,#5b5b5b 101px,#686868 107px,#6a6a6a 111px,#4b4b4b 114px,#303030 116px,#232323 118px,#202020 122px,#202020 125px,#292929 126px,#595959 128px,#7e7e7e 130px,#878787 131px,#8c8c8c 163px,#878787 169px,#767676 173px,#757575 175px,#838383 177px,#a0a0a0 180px,#b2b2b2 213px,#b4b4b4 250px,#a5a5a5 253px,#a2a2a2 257px,#c0c0c0 266px,#c8c8c8 302px)"></div>
<div style="top:82px;background:linear-gradient(90deg,#272727 0px,#343434 1px,#414141 9px,#4d4d4d 39px,#494949 69px,#454545 71px,#212121 75px,#1a1a1a 76px,#191919 84px,#3b3b3b 97px,#5b5b5b 101px,#696969 107px,#6a6a6a 111px,#3b3b3b 115px,#2d2d2d 116px,#202020 119px,#202020 125px,#2f2f2f 126px,#5e5e5e 128px,#828282 130px,#878787 132px,#8c8c8c 163px,#868686 169px,#787878 172px,#767676 175px,#8f8f8f 178px,#a0a0a0 180px,#b2b2b2 213px,#b5b5b5 249px,#a5a5a5 253px,#a3a3a3 257px,#bebebe 265px,#c8c8c8 302px)"></div>
<div style="top:83px;background:linear-gradient(90deg,#272727 0px,#343434 1px,#414141 9px,#4d4d4d 39px,#494949 69px,#484848 70px,#1f1f1f 75px,#1a1a1a 77px,#191919 84px,#3b3b3b 97px,#5c5c5c 101px,#696969 107px,#696969 111px,#383838 115px,#2a2a2a 116px,#202020 119px,#202020 125px,#636363 128px,#878787 130px,#8c8c8c 163px,#898989 168px,#787878 172px,#747474 174px,#7d7d7d 176px,#9b9b9b 179px,#a1a1a1 181px,#b3b3b3 214px,#b3b3b3 250px,#a5a5a5 253px,#a3a3a3 257px,#bebebe 265px,#c8c8c8 302px)"></div>
<div style="top:84px;background:linear-gradient(90deg,#282828 0px,#343434 1px,#414141 9px,#4d4d4d 39px,#494949 68px,#484848 70px,#1d1d1d 75px,#191919 79px,#191919 84px,#3b3b3b 97px,#5c5c5c 101px,#686868 106px,#676767 111px,#292929 116px,#212121 118px,#202020 124px,#232323 125px,#686868 128px,#7a7a7a 129px,#878787 130px,#8c8c8c 163px,#898989 168px,#777777 172px,#747474 174px,#7e7e7e 176px,#9d9d9d 179px,#b0b0b0 205px,#b5b5b5 234px,#b5b5b5 249px,#a5a5a5 253px,#a4a4a4 257px,#bebebe 265px,#c8c8c8 302px)"></div>
<div style="top:85px;background:linear-gradient(90deg,#282828 0px,#343434 1px,#414141 9px,#4d4d4d 39px,#494949 68px,#444444 70px,#1b1b1b 75px,#191919 84px,#3c3c3c 97px,#5d5d5d 101px,#686868 106px,#6a6a6a 110px,#656565 111px,#282828 116px,#202020 118px,#202020 124px,#292929 125px,#595959 127px,#7f7f7f 129px,#878787 130px,#8c8c8c 163px,#898989 168px,#797979 171px,#737373 174px,#7f7f7f 176px,#9f9f9f 179px,#b1b1b1 210px,#b5b5b5 244px,#b5b5b5 249px,#a4a4a4 253px,#a2a2a2 256px,#bfbfbf 265px,#c8c8c8 302px)"></div>
<div style="top:86px;background:linear-gradient(90deg,#282828 0px,#343434 1px,#414141 9px,#4d4d4d 38px,#4a4a4a 67px,#484848 69px,#202020 74px,#1a1a1a 75px,#191919 84px,#3c3c3c 97px,#5d5d5d 101px,#686868 106px,#6a6a6a 110px,#575757 112px,#2f2f2f 115px,#232323 117px,#202020 124px,#303030 125px,#5f5f5f 127px,#848484 129px,#898989 137px,#8c8c8c 162px,#888888 168px,#777777 172px,#747474 174px,#818181 176px,#a0a0a0 179px,#b2b2b2 212px,#b5b5b5 249px,#a5a5a5 252px,#a2a2a2 256px,#bfbfbf 265px,#c8c8c8 302px)"></div>
<div style="top:87px;background:linear-gradient(90deg,#282828 0px,#343434 1px,#414141 8px,#4d4d4d 37px,#494949 67px,#454545 69px,#1e1e1e 74px,#191919 77px,#191919 84px,#3c3c3c 97px,#5d5d5d 101px,#686868 106px,#6a6a6a 110px,#3b3b3b 114px,#2c2c2c 115px,#202020 118px,#202020 124px,#646464 127px,#878787 129px,#8c8c8c 162px,#878787 168px,#767676 172px,#757575 174px,#838383 176px,#a0a0a0 179px,#b2b2b2 212px,#b5b5b5 249px,#a5a5a5 252px,#a2a2a2 256px,#c0c0c0 265px,#c8c8c8 302px)"></div>
<div style="top:88px;background:linear-gradient(90deg,#282828 0px,#343434 1px,#414141 8px,#4d4d4d 37px,#494949 67px,#484848 68px,#222222 73px,#1a1a1a 75px,#191919 84px,#3d3d3d 97px,#585858 100px,#686868 105px,#6a6a6a 110px,#2a2a2a 115px,#202020 118px,#202020 123px,#252525 124px,#6a6a6a 127px,#7d7d7d 128px,#878787 129px,#8c8c8c 162px,#868686 168px,#787878 171px,#767676 174px,#8f8f8f 177px,#a0a0a0 179px,#b2b2b2 212px,#b4b4b4 249px,#a5a5a5 252px,#a3a3a3 256px,#c0c0c0 265px,#c8c8c8 302px)"></div>
<div style="top:89px;background:linear-gradient(90deg,#282828 0px,#343434 1px,#414141 8px,#4d4d4d 37px,#494949 66px,#464646 68px,#2c2c2c 71px,#1a1a1a 74px,#191919 84px,#3e3e3e 97px,#595959 100px,#686868 105px,#676767 110px,#292929 115px,#202020 117px,#202020 123px,#2c2c2c 124px,#5c5c5c 126px,#828282 128px,#878787 130px,#8c8c8c 162px,#898989 167px,#777777 171px,#747474 173px,#7e7e7e 175px,#9c9c9c 178px,#a2a2a2 181px,#b3b3b3 213px,#b3b3b3 249px,#a5a5a5 252px,#a3a3a3 256px,#bebebe 264px,#c8c8c8 302px)"></div>
<div style="top:90px;background:linear-gradient(90deg,#282828 0px,#353535 1px,#414141 8px,#4d4d4d 36px,#494949 66px,#484848 67px,#282828 71px,#1a1a1a 74px,#191919 84px,#3e3e3e 97px,#5a5a5a 100px,#686868 105px,#6a6a6a 109px,#656565 110px,#313131 114px,#232323 116px,#202020 121px,#202020 123px,#333333 124px,#626262 126px,#878787 128px,#8c8c8c 162px,#898989 167px,#777777 171px,#747474 173px,#7f7f7f 175px,#9e9e9e 178px,#b1b1b1 208px,#b5b5b5 239px,#b5b5b5 248px,#a5a5a5 252px,#a4a4a4 256px,#bebebe 264px,#c8c8c8 302px)"></div>
<div style="top:91px;background:linear-gradient(90deg,#282828 0px,#353535 1px,#414141 8px,#4d4d4d 36px,#494949 65px,#464646 67px,#2b2b2b 70px,#1a1a1a 73px,#191919 84px,#3f3f3f 97px,#5c5c5c 100px,#686868 105px,#6a6a6a 109px,#565656 111px,#2d2d2d 114px,#202020 117px,#222222 123px,#696969 126px,#7b7b7b 127px,#878787 128px,#8c8c8c 161px,#888888 167px,#777777 171px,#747474 173px,#808080 175px,#a0a0a0 178px,#b2b2b2 211px,#b5b5b5 248px,#a6a6a6 251px,#a2a2a2 255px,#bfbfbf 264px,#c8c8c8 302px)"></div>
<div style="top:92px;background:linear-gradient(90deg,#282828 0px,#353535 1px,#414141 8px,#4d4d4d 35px,#494949 64px,#484848 66px,#272727 70px,#1a1a1a 73px,#191919 84px,#404040 97px,#5c5c5c 100px,#686868 105px,#6a6a6a 109px,#383838 113px,#2a2a2a 114px,#212121 116px,#202020 122px,#2a2a2a 123px,#5b5b5b 125px,#818181 127px,#878787 128px,#8c8c8c 161px,#868686 167px,#767676 171px,#757575 173px,#838383 175px,#a0a0a0 178px,#b2b2b2 211px,#b5b5b5 248px,#a5a5a5 251px,#a2a2a2 255px,#bdbdbd 263px,#c2c2c2 273px,#c8c8c8 302px)"></div>
<div style="top:93px;background:linear-gradient(90deg,#282828 0px,#353535 1px,#414141 8px,#4d4d4d 36px,#494949 64px,#444444 66px,#232323 70px,#1a1a1a 72px,#191919 84px,#3b3b3b 96px,#5d5d5d 100px,#686868 105px,#696969 109px,#292929 114px,#202020 116px,#202020 122px,#323232 123px,#616161 125px,#878787 127px,#8c8c8c 161px,#898989 166px,#787878 170px,#747474 172px,#7d7d7d 174px,#9a9a9a 177px,#a0a0a0 178px,#b2b2b2 211px,#b4b4b4 248px,#a5a5a5 251px,#a2a2a2 255px,#bdbdbd 263px,#c7c7c7 296px,#c8c8c8 302px)"></div>
<div style="top:94px;background:linear-gradient(90deg,#282828 0px,#353535 1px,#414141 8px,#4d4d4d 35px,#494949 63px,#474747 65px,#252525 69px,#1a1a1a 71px,#191919 84px,#3b3b3b 96px,#5d5d5d 100px,#686868 105px,#6a6a6a 108px,#676767 109px,#313131 113px,#232323 115px,#202020 121px,#212121 122px,#686868 125px,#7b7b7b 126px,#878787 127px,#8c8c8c 161px,#898989 166px,#777777 170px,#747474 172px,#7e7e7e 174px,#9c9c9c 177px,#a3a3a3 182px,#b3b3b3 214px,#b3b3b3 248px,#a5a5a5 251px,#a3a3a3 255px,#bebebe 263px,#c8c8c8 302px)"></div>
<div style="top:106px;background:linear-gradient(90deg,#1f1f1f 0px,#252525 3px,#292929 51px,#292929 66px,#292929 80px,#3f3f3f 88px,#858585 102px,#797979 106px,#7e7e7e 110px,#8a8a8a 113px,#777777 117px,#858585 124px,#7e7e7e 128px,#737373 130px,#757575 133px,#828282 136px,#747474 141px,#848484 144px,#7b7b7b 147px,#7c7c7c 148px,#979797 150px,#a7a7a7 156px,#909090 159px,#8b8b8b 160px,#909090 162px,#b7b7b7 165px,#c4c4c4 181px,#b2b2b2 185px,#c1c1c1 190px,#cccccc 214px,#cdcdcd 215px,#a2a2a2 221px,#9f9f9f 223px,#a4a4a4 225px,#bdbdbd 227px,#c5c5c5 228px,#e1e1e1 247px,#e6e6e6 270px,#dedede 274px,#ededed 278px,#f5f5f5 302px)"></div>
<div style="top:107px;background:linear-gradient(90deg,#1c1c1c 0px,#222222 3px,#262626 51px,#262626 66px,#272727 81px,#3d3d3d 90px,#737373 102px,#656565 106px,#696969 110px,#787878 113px,#636363 117px,#737373 124px,#6d6d6d 128px,#616161 130px,#626262 133px,#727272 136px,#626262 141px,#737373 144px,#686868 148px,#858585 150px,#989898 156px,#797979 160px,#7b7b7b 162px,#a6a6a6 165px,#b1b1b1 182px,#a0a0a0 185px,#b0b0b0 190px,#bbbbbb 214px,#b6b6b6 216px,#919191 221px,#8d8d8d 223px,#929292 225px,#b4b4b4 228px,#d0d0d0 248px,#d4d4d4 270px,#cccccc 274px,#dbdbdb 278px,#e3e3e3 302px)"></div>
<div style="top:108px;background:linear-gradient(90deg,#1a1a1a 0px,#202020 3px,#242424 51px,#232323 67px,#242424 81px,#3a3a3a 91px,#616161 101px,#656565 102px,#575757 106px,#5a5a5a 110px,#696969 113px,#565656 117px,#646464 125px,#616161 128px,#555555 130px,#555555 133px,#646464 136px,#565656 141px,#666666 144px,#5c5c5c 148px,#767676 150px,#8b8b8b 156px,#6e6e6e 160px,#6f6f6f 162px,#979797 165px,#a6a6a6 181px,#a6a6a6 182px,#949494 185px,#a3a3a3 190px,#afafaf 215px,#a3a3a3 217px,#808080 222px,#858585 225px,#a7a7a7 228px,#c3c3c3 248px,#c8c8c8 270px,#bfbfbf 274px,#cecece 278px,#d6d6d6 302px)"></div>
<div style="top:109px;background:linear-gradient(90deg,#191919 0px,#1f1f1f 3px,#232323 51px,#222222 67px,#242424 82px,#343434 91px,#565656 101px,#5b5b5b 102px,#525252 105px,#4c4c4c 107px,#525252 111px,#5d5d5d 113px,#575757 115px,#4d4d4d 117px,#525252 121px,#5b5b5b 125px,#535353 129px,#4b4b4b 131px,#4f4f4f 134px,#5a5a5a 136px,#535353 139px,#4d4d4d 141px,#5b5b5b 144px,#565656 147px,#535353 148px,#5b5b5b 149px,#6a6a6a 150px,#757575 152px,#818181 156px,#757575 158px,#666666 160px,#656565 162px,#6e6e6e 163px,#8b8b8b 165px,#919191 166px,#9e9e9e 182px,#8c8c8c 185px,#9b9b9b 191px,#a5a5a5 215px,#a3a3a3 216px,#777777 222px,#7b7b7b 225px,#9e9e9e 228px,#bababa 248px,#bebebe 270px,#b6b6b6 274px,#c5c5c5 278px,#cdcdcd 302px)"></div>
<div style="top:110px;background:linear-gradient(90deg,#181818 0px,#1e1e1e 3px,#222222 51px,#232323 60px,#212121 81px,#2f2f2f 91px,#535353 103px,#444444 107px,#494949 111px,#545454 113px,#555555 114px,#434343 118px,#535353 125px,#4d4d4d 129px,#434343 131px,#474747 134px,#535353 137px,#464646 141px,#474747 142px,#555555 145px,#4c4c4c 148px,#515151 149px,#6a6a6a 151px,#7a7a7a 156px,#787878 157px,#616161 160px,#5e5e5e 162px,#646464 163px,#818181 165px,#8a8a8a 166px,#979797 182px,#868686 185px,#898989 187px,#949494 191px,#9e9e9e 215px,#9c9c9c 216px,#707070 222px,#737373 225px,#979797 228px,#b3b3b3 248px,#b8b8b8 270px,#aeaeae 274px,#bebebe 278px,#c5c5c5 302px)"></div>
<div style="top:111px;background:linear-gradient(90deg,#171717 0px,#1d1d1d 3px,#212121 51px,#222222 60px,#202020 81px,#2f2f2f 92px,#484848 101px,#4e4e4e 103px,#3d3d3d 107px,#424242 111px,#505050 114px,#3d3d3d 118px,#4d4d4d 125px,#484848 129px,#3d3d3d 131px,#404040 134px,#4e4e4e 137px,#404040 142px,#505050 145px,#474747 148px,#484848 149px,#646464 151px,#757575 157px,#575757 161px,#5c5c5c 163px,#848484 166px,#919191 182px,#808080 186px,#8e8e8e 191px,#999999 215px,#989898 216px,#6b6b6b 222px,#6d6d6d 225px,#919191 228px,#adadad 247px,#b0b0b0 271px,#a9a9a9 274px,#b8b8b8 278px,#c0c0c0 302px)"></div>
<div style="top:112px;background:linear-gradient(90deg,#171717 0px,#1c1c1c 3px,#202020 51px,#212121 60px,#202020 82px,#2c2c2c 92px,#434343 101px,#4a4a4a 103px,#383838 107px,#3c3c3c 111px,#4c4c4c 114px,#373737 118px,#494949 125px,#454545 129px,#393939 131px,#3b3b3b 134px,#4a4a4a 137px,#3b3b3b 142px,#4c4c4c 145px,#414141 149px,#5f5f5f 151px,#727272 157px,#525252 161px,#555555 163px,#808080 166px,#8d8d8d 182px,#848484 184px,#7b7b7b 186px,#8a8a8a 191px,#959595 215px,#949494 216px,#676767 222px,#686868 225px,#8c8c8c 228px,#a9a9a9 247px,#acacac 271px,#a5a5a5 274px,#b4b4b4 279px,#bcbcbc 302px)"></div>
<div style="top:113px;background:linear-gradient(90deg,#161616 0px,#1c1c1c 3px,#202020 51px,#212121 60px,#1f1f1f 82px,#2a2a2a 92px,#3e3e3e 101px,#464646 103px,#353535 107px,#383838 111px,#474747 114px,#343434 118px,#444444 126px,#414141 129px,#363636 131px,#373737 134px,#464646 137px,#373737 142px,#484848 145px,#3d3d3d 149px,#585858 151px,#6e6e6e 157px,#505050 161px,#515151 163px,#7a7a7a 166px,#888888 183px,#777777 186px,#868686 191px,#919191 215px,#919191 216px,#646464 222px,#656565 225px,#888888 228px,#a5a5a5 246px,#a9a9a9 271px,#a1a1a1 274px,#b1b1b1 279px,#b8b8b8 302px)"></div>
<div style="top:114px;background:linear-gradient(90deg,#161616 0px,#1c1c1c 3px,#1f1f1f 52px,#1f1f1f 67px,#202020 84px,#2b2b2b 93px,#3f3f3f 102px,#434343 103px,#313131 108px,#383838 112px,#434343 114px,#373737 117px,#323232 119px,#424242 126px,#3a3a3a 130px,#323232 132px,#373737 135px,#424242 137px,#353535 142px,#444444 145px,#3b3b3b 149px,#444444 150px,#535353 151px,#5d5d5d 153px,#6b6b6b 157px,#5d5d5d 159px,#4e4e4e 161px,#4e4e4e 163px,#666666 165px,#747474 166px,#7b7b7b 168px,#868686 183px,#747474 186px,#838383 191px,#8e8e8e 215px,#8f8f8f 216px,#626262 222px,#626262 225px,#848484 228px,#9c9c9c 242px,#a5a5a5 253px,#a6a6a6 271px,#9f9f9f 274px,#aeaeae 279px,#b5b5b5 302px)"></div>
<div style="top:115px;background:linear-gradient(90deg,#161616 0px,#1c1c1c 3px,#1f1f1f 52px,#1f1f1f 68px,#212121 86px,#292929 93px,#3c3c3c 102px,#3f3f3f 104px,#2f2f2f 108px,#353535 112px,#3f3f3f 114px,#404040 115px,#2f2f2f 119px,#3f3f3f 126px,#393939 130px,#303030 132px,#343434 135px,#3f3f3f 137px,#3d3d3d 139px,#333333 142px,#3a3a3a 144px,#424242 146px,#393939 149px,#3f3f3f 150px,#4e4e4e 151px,#575757 152px,#686868 157px,#656565 158px,#4d4d4d 161px,#4b4b4b 163px,#535353 164px,#707070 166px,#777777 167px,#858585 183px,#727272 186px,#818181 191px,#8c8c8c 215px,#8c8c8c 216px,#606060 222px,#5f5f5f 225px,#818181 228px,#8b8b8b 232px,#a1a1a1 249px,#a4a4a4 271px,#9d9d9d 274px,#ababab 279px,#b3b3b3 302px)"></div>
<div style="top:116px;background:linear-gradient(90deg,#151515 0px,#1b1b1b 3px,#1f1f1f 52px,#1f1f1f 68px,#202020 86px,#272727 93px,#393939 102px,#3e3e3e 104px,#2c2c2c 108px,#323232 112px,#3e3e3e 115px,#2c2c2c 119px,#3d3d3d 126px,#383838 130px,#2e2e2e 132px,#313131 135px,#3f3f3f 138px,#313131 143px,#414141 146px,#383838 149px,#3a3a3a 150px,#555555 152px,#656565 157px,#656565 158px,#4c4c4c 161px,#484848 162px,#4e4e4e 164px,#6b6b6b 166px,#757575 167px,#828282 183px,#717171 186px,#808080 192px,#8a8a8a 215px,#8a8a8a 216px,#5e5e5e 222px,#5d5d5d 225px,#727272 227px,#7e7e7e 228px,#858585 230px,#9f9f9f 249px,#a2a2a2 271px,#9b9b9b 274px,#aaaaaa 279px,#b1b1b1 302px)"></div>
<div style="top:117px;background:linear-gradient(90deg,#151515 0px,#1b1b1b 3px,#1f1f1f 52px,#1e1e1e 68px,#212121 87px,#262626 93px,#373737 102px,#3d3d3d 104px,#2a2a2a 108px,#2f2f2f 112px,#3d3d3d 115px,#2a2a2a 119px,#3c3c3c 126px,#373737 130px,#2c2c2c 132px,#2f2f2f 135px,#3d3d3d 138px,#2f2f2f 143px,#3f3f3f 146px,#363636 150px,#525252 152px,#656565 158px,#464646 162px,#4a4a4a 164px,#747474 167px,#818181 183px,#707070 186px,#737373 188px,#7e7e7e 192px,#898989 215px,#898989 216px,#5d5d5d 222px,#5c5c5c 225px,#636363 226px,#7c7c7c 228px,#848484 230px,#9d9d9d 249px,#a1a1a1 271px,#999999 274px,#a8a8a8 279px,#afafaf 302px)"></div>
<div style="top:118px;background:linear-gradient(90deg,#151515 0px,#1b1b1b 3px,#1f1f1f 52px,#212121 62px,#1e1e1e 82px,#252525 93px,#353535 102px,#3c3c3c 104px,#292929 108px,#2d2d2d 112px,#3d3d3d 115px,#292929 119px,#3b3b3b 126px,#373737 130px,#2b2b2b 132px,#2d2d2d 135px,#3c3c3c 138px,#2d2d2d 143px,#3e3e3e 146px,#333333 150px,#505050 152px,#646464 158px,#454545 162px,#474747 164px,#727272 167px,#7f7f7f 183px,#6e6e6e 187px,#7d7d7d 192px,#878787 215px,#878787 216px,#5c5c5c 222px,#5a5a5a 224px,#5a5a5a 225px,#616161 226px,#797979 228px,#818181 229px,#9c9c9c 249px,#9f9f9f 271px,#999999 275px,#a7a7a7 279px,#aeaeae 302px)"></div>
<div style="top:119px;background:linear-gradient(90deg,#151515 0px,#1b1b1b 3px,#1f1f1f 52px,#202020 61px,#1f1f1f 85px,#242424 93px,#343434 102px,#3b3b3b 104px,#282828 108px,#2b2b2b 112px,#3b3b3b 115px,#282828 119px,#393939 127px,#363636 130px,#2a2a2a 132px,#2b2b2b 135px,#3a3a3a 138px,#2c2c2c 143px,#3c3c3c 146px,#323232 150px,#4d4d4d 152px,#636363 158px,#454545 162px,#454545 164px,#6f6f6f 167px,#7e7e7e 183px,#767676 185px,#6c6c6c 187px,#7b7b7b 192px,#868686 216px,#7a7a7a 218px,#5b5b5b 222px,#585858 224px,#595959 225px,#5f5f5f 226px,#787878 228px,#7f7f7f 229px,#9b9b9b 249px,#9e9e9e 271px,#979797 275px,#a5a5a5 279px,#adadad 302px)"></div>
<div style="top:120px;background:linear-gradient(90deg,#151515 0px,#1b1b1b 3px,#1f1f1f 52px,#202020 61px,#1f1f1f 85px,#252525 94px,#323232 102px,#393939 104px,#282828 108px,#2a2a2a 112px,#393939 115px,#2d2d2d 118px,#282828 120px,#383838 127px,#353535 130px,#292929 133px,#2e2e2e 136px,#393939 138px,#2b2b2b 143px,#3a3a3a 146px,#313131 150px,#3b3b3b 151px,#4a4a4a 152px,#545454 154px,#616161 158px,#454545 162px,#444444 164px,#5d5d5d 166px,#6b6b6b 167px,#717171 169px,#7c7c7c 184px,#6b6b6b 187px,#7a7a7a 192px,#858585 216px,#797979 218px,#5b5b5b 222px,#575757 224px,#5d5d5d 226px,#767676 228px,#7e7e7e 229px,#9a9a9a 249px,#9e9e9e 271px,#969696 275px,#a4a4a4 279px,#acacac 302px)"></div>
<div style="top:121px;background:linear-gradient(90deg,#151515 0px,#1b1b1b 3px,#1f1f1f 52px,#202020 61px,#1f1f1f 86px,#252525 94px,#343434 103px,#373737 105px,#262626 109px,#2c2c2c 113px,#373737 115px,#323232 117px,#272727 120px,#373737 127px,#303030 131px,#282828 133px,#2c2c2c 136px,#373737 138px,#343434 140px,#2b2b2b 143px,#333333 145px,#3a3a3a 147px,#313131 150px,#383838 151px,#474747 152px,#4f4f4f 153px,#606060 158px,#5d5d5d 159px,#454545 162px,#434343 164px,#4b4b4b 165px,#696969 167px,#707070 168px,#7c7c7c 184px,#6a6a6a 187px,#7a7a7a 192px,#848484 216px,#797979 218px,#565656 223px,#5b5b5b 226px,#7d7d7d 229px,#999999 249px,#9d9d9d 271px,#959595 275px,#a4a4a4 279px,#ababab 302px)"></div>
<div style="top:122px;background:linear-gradient(90deg,#151515 0px,#1b1b1b 3px,#1f1f1f 52px,#202020 61px,#1f1f1f 87px,#242424 94px,#333333 103px,#373737 105px,#252525 109px,#2b2b2b 113px,#363636 115px,#373737 116px,#262626 120px,#363636 127px,#313131 131px,#272727 133px,#2b2b2b 136px,#383838 139px,#2b2b2b 143px,#2b2b2b 144px,#3a3a3a 147px,#313131 150px,#353535 151px,#4e4e4e 153px,#5f5f5f 158px,#5d5d5d 159px,#454545 162px,#424242 164px,#494949 165px,#666666 167px,#6f6f6f 168px,#7c7c7c 184px,#696969 187px,#797979 192px,#848484 216px,#818181 217px,#555555 223px,#5a5a5a 226px,#7d7d7d 229px,#989898 249px,#9c9c9c 271px,#949494 275px,#a3a3a3 279px,#ababab 302px)"></div>
<div style="top:123px;background:linear-gradient(90deg,#151515 0px,#1b1b1b 3px,#1f1f1f 52px,#202020 62px,#1e1e1e 85px,#232323 94px,#323232 103px,#373737 105px,#252525 109px,#2a2a2a 113px,#373737 116px,#252525 120px,#363636 127px,#313131 131px,#262626 133px,#2a2a2a 136px,#373737 139px,#2a2a2a 144px,#393939 147px,#303030 150px,#323232 151px,#4d4d4d 153px,#5e5e5e 158px,#5e5e5e 159px,#454545 162px,#414141 163px,#464646 165px,#636363 167px,#6e6e6e 168px,#7b7b7b 184px,#696969 187px,#787878 192px,#838383 216px,#818181 217px,#545454 223px,#595959 226px,#7c7c7c 229px,#979797 249px,#9c9c9c 271px,#949494 275px,#a2a2a2 279px,#aaaaaa 302px)"></div>
<div style="top:124px;background:linear-gradient(90deg,#151515 0px,#1b1b1b 3px,#1f1f1f 53px,#1e1e1e 69px,#212121 93px,#313131 103px,#373737 105px,#242424 109px,#282828 113px,#373737 116px,#242424 120px,#363636 127px,#313131 131px,#262626 133px,#282828 136px,#373737 139px,#292929 144px,#393939 147px,#303030 151px,#4c4c4c 153px,#5f5f5f 159px,#404040 163px,#444444 165px,#6e6e6e 168px,#7b7b7b 184px,#696969 187px,#787878 192px,#838383 216px,#818181 217px,#545454 223px,#585858 226px,#7b7b7b 229px,#979797 249px,#9c9c9c 271px,#939393 275px,#a2a2a2 279px,#a9a9a9 302px)"></div>
<div style="top:125px;background:linear-gradient(90deg,#151515 0px,#1b1b1b 3px,#1f1f1f 53px,#1e1e1e 69px,#202020 93px,#313131 103px,#373737 105px,#232323 109px,#272727 113px,#373737 116px,#232323 120px,#353535 127px,#313131 131px,#252525 133px,#272727 136px,#373737 139px,#272727 144px,#393939 147px,#2d2d2d 151px,#4b4b4b 153px,#5f5f5f 159px,#3f3f3f 163px,#414141 165px,#6d6d6d 168px,#7a7a7a 184px,#6a6a6a 187px,#717171 190px,#787878 194px,#828282 216px,#818181 217px,#535353 223px,#575757 226px,#7b7b7b 229px,#979797 249px,#9b9b9b 271px,#929292 275px,#a1a1a1 279px,#a9a9a9 302px)"></div>
<div style="top:126px;background:linear-gradient(90deg,#151515 0px,#1b1b1b 3px,#1f1f1f 53px,#1e1e1e 69px,#202020 93px,#303030 103px,#373737 105px,#242424 109px,#272727 113px,#363636 116px,#242424 120px,#353535 127px,#313131 131px,#262626 133px,#272727 136px,#363636 139px,#272727 144px,#383838 147px,#2d2d2d 151px,#494949 153px,#5f5f5f 159px,#404040 163px,#414141 165px,#6b6b6b 168px,#7a7a7a 184px,#6a6a6a 187px,#6d6d6d 189px,#777777 193px,#828282 216px,#818181 217px,#535353 223px,#565656 226px,#7a7a7a 229px,#969696 249px,#9b9b9b 271px,#929292 275px,#a1a1a1 279px,#a9a9a9 302px)"></div>
<div style="top:127px;background:linear-gradient(90deg,#151515 0px,#1b1b1b 3px,#1f1f1f 53px,#1e1e1e 69px,#202020 93px,#2f2f2f 103px,#363636 105px,#242424 109px,#262626 113px,#353535 116px,#242424 120px,#313131 126px,#333333 129px,#313131 131px,#262626 133px,#272727 136px,#353535 139px,#272727 144px,#373737 147px,#2d2d2d 151px,#474747 153px,#5e5e5e 159px,#404040 163px,#404040 165px,#696969 168px,#707070 172px,#7a7a7a 184px,#6a6a6a 187px,#686868 188px,#767676 192px,#828282 216px,#818181 217px,#535353 223px,#555555 226px,#7a7a7a 229px,#969696 249px,#9b9b9b 271px,#919191 275px,#a1a1a1 279px,#a8a8a8 302px)"></div>
<div style="top:128px;background:linear-gradient(90deg,#151515 0px,#1b1b1b 3px,#1f1f1f 53px,#1e1e1e 69px,#202020 93px,#2f2f2f 103px,#353535 105px,#242424 109px,#262626 113px,#353535 116px,#292929 119px,#242424 121px,#343434 128px,#2c2c2c 132px,#252525 134px,#2a2a2a 137px,#353535 139px,#272727 144px,#363636 147px,#2d2d2d 151px,#363636 152px,#454545 153px,#505050 155px,#5d5d5d 159px,#414141 163px,#404040 165px,#595959 167px,#676767 168px,#6e6e6e 170px,#797979 184px,#717171 186px,#686868 188px,#777777 193px,#818181 216px,#818181 217px,#535353 223px,#545454 226px,#797979 229px,#959595 248px,#989898 272px,#919191 275px,#a0a0a0 279px,#a8a8a8 302px)"></div>
<div style="top:129px;background:linear-gradient(90deg,#151515 0px,#1b1b1b 3px,#1f1f1f 53px,#1e1e1e 69px,#212121 94px,#313131 104px,#333333 106px,#232323 110px,#292929 114px,#343434 116px,#2e2e2e 118px,#242424 120px,#2a2a2a 124px,#343434 128px,#2d2d2d 132px,#252525 134px,#292929 137px,#343434 139px,#313131 141px,#282828 144px,#2f2f2f 146px,#373737 148px,#2e2e2e 151px,#343434 152px,#434343 153px,#4c4c4c 154px,#5d5d5d 159px,#595959 160px,#414141 163px,#404040 165px,#484848 166px,#666666 168px,#6c6c6c 169px,#777777 185px,#676767 188px,#767676 193px,#818181 216px,#818181 217px,#535353 223px,#545454 226px,#797979 229px,#959595 248px,#989898 272px,#919191 275px,#a1a1a1 280px,#a8a8a8 302px)"></div>
<div style="top:130px;background:linear-gradient(90deg,#151515 0px,#1b1b1b 3px,#1f1f1f 53px,#212121 63px,#1e1e1e 85px,#222222 95px,#313131 104px,#343434 106px,#222222 110px,#282828 114px,#333333 116px,#343434 117px,#232323 121px,#343434 128px,#2d2d2d 132px,#242424 134px,#282828 137px,#333333 139px,#313131 141px,#282828 144px,#2f2f2f 146px,#373737 148px,#2e2e2e 151px,#333333 152px,#424242 153px,#4c4c4c 154px,#5c5c5c 159px,#5a5a5a 160px,#424242 163px,#3f3f3f 165px,#474747 166px,#646464 168px,#6c6c6c 169px,#787878 185px,#676767 188px,#767676 193px,#818181 216px,#818181 217px,#535353 223px,#545454 226px,#787878 229px,#949494 247px,#989898 272px,#919191 275px,#a0a0a0 280px,#a8a8a8 302px)"></div>
<div style="top:131px;background:linear-gradient(90deg,#151515 0px,#1b1b1b 3px,#1f1f1f 53px,#202020 62px,#1f1f1f 90px,#242424 96px,#303030 104px,#343434 106px,#222222 110px,#282828 114px,#343434 117px,#232323 121px,#343434 128px,#2e2e2e 132px,#242424 134px,#282828 137px,#353535 140px,#282828 144px,#282828 145px,#373737 148px,#2e2e2e 151px,#313131 152px,#4b4b4b 154px,#5c5c5c 159px,#5b5b5b 160px,#424242 163px,#3e3e3e 164px,#454545 166px,#626262 168px,#6c6c6c 169px,#787878 185px,#666666 188px,#767676 193px,#818181 216px,#818181 217px,#535353 223px,#545454 226px,#777777 229px,#949494 247px,#989898 272px,#919191 275px,#a0a0a0 280px,#a8a8a8 302px)"></div>
<div style="top:132px;background:linear-gradient(90deg,#151515 0px,#1b1b1b 3px,#1f1f1f 53px,#202020 62px,#1f1f1f 90px,#242424 96px,#303030 104px,#343434 106px,#222222 110px,#272727 114px,#343434 117px,#222222 121px,#333333 128px,#2e2e2e 132px,#242424 134px,#272727 137px,#353535 140px,#272727 145px,#373737 148px,#2e2e2e 151px,#303030 152px,#4b4b4b 154px,#5b5b5b 159px,#5b5b5b 160px,#434343 163px,#3e3e3e 164px,#444444 166px,#616161 168px,#6c6c6c 169px,#787878 185px,#666666 188px,#757575 192px,#818181 216px,#818181 217px,#535353 223px,#545454 226px,#777777 229px,#939393 246px,#9a9a9a 271px,#919191 275px,#a0a0a0 280px,#a7a7a7 302px)"></div>
<div style="top:133px;background:linear-gradient(90deg,#151515 0px,#1b1b1b 3px,#1f1f1f 53px,#202020 62px,#1f1f1f 91px,#242424 96px,#303030 104px,#353535 106px,#222222 110px,#272727 114px,#353535 117px,#222222 121px,#333333 128px,#2f2f2f 132px,#242424 134px,#272727 137px,#353535 140px,#272727 145px,#373737 148px,#2e2e2e 152px,#4a4a4a 154px,#5c5c5c 160px,#434343 163px,#3e3e3e 164px,#424242 166px,#6c6c6c 169px,#797979 185px,#666666 188px,#767676 193px,#808080 216px,#818181 217px,#535353 223px,#535353 226px,#767676 229px,#909090 244px,#989898 259px,#989898 272px,#919191 275px,#a0a0a0 280px,#a7a7a7 302px)"></div>
<div style="top:134px;background:linear-gradient(90deg,#151515 0px,#1b1b1b 3px,#1f1f1f 53px,#202020 62px,#1f1f1f 91px,#242424 96px,#2f2f2f 104px,#353535 106px,#222222 110px,#262626 114px,#353535 117px,#222222 121px,#333333 128px,#2f2f2f 132px,#242424 134px,#262626 137px,#353535 140px,#262626 145px,#373737 148px,#2d2d2d 152px,#4a4a4a 154px,#5d5d5d 160px,#3e3e3e 164px,#414141 166px,#6b6b6b 169px,#797979 185px,#666666 188px,#767676 193px,#808080 216px,#818181 217px,#535353 223px,#535353 226px,#767676 229px,#878787 238px,#959595 250px,#989898 272px,#919191 275px,#a0a0a0 280px,#a7a7a7 302px)"></div>
<div style="top:135px;background:linear-gradient(90deg,#151515 0px,#1b1b1b 3px,#1f1f1f 53px,#202020 62px,#1f1f1f 92px,#2f2f2f 104px,#353535 106px,#212121 110px,#262626 114px,#353535 117px,#212121 121px,#333333 128px,#2f2f2f 132px,#232323 134px,#262626 137px,#353535 140px,#262626 145px,#373737 148px,#2c2c2c 152px,#4a4a4a 154px,#5d5d5d 160px,#3d3d3d 164px,#404040 166px,#6b6b6b 169px,#797979 185px,#666666 188px,#767676 193px,#808080 216px,#818181 217px,#545454 223px,#535353 226px,#757575 229px,#818181 234px,#959595 250px,#989898 272px,#919191 275px,#a0a0a0 280px,#a7a7a7 302px)"></div>
<div style="top:136px;background:linear-gradient(90deg,#151515 0px,#1b1b1b 3px,#1f1f1f 53px,#202020 62px,#1f1f1f 93px,#2f2f2f 104px,#353535 106px,#222222 110px,#252525 114px,#353535 117px,#222222 121px,#333333 128px,#2f2f2f 132px,#242424 134px,#252525 137px,#353535 140px,#262626 145px,#373737 148px,#2c2c2c 152px,#494949 154px,#5d5d5d 160px,#3e3e3e 164px,#3f3f3f 166px,#6b6b6b 169px,#797979 185px,#666666 188px,#757575 193px,#808080 216px,#808080 217px,#545454 223px,#535353 226px,#757575 229px,#7d7d7d 232px,#959595 250px,#989898 272px,#919191 275px,#a0a0a0 280px,#a7a7a7 302px)"></div>
<div style="top:137px;background:linear-gradient(90deg,#151515 0px,#1b1b1b 3px,#1f1f1f 53px,#202020 63px,#1e1e1e 88px,#212121 95px,#2e2e2e 104px,#353535 106px,#222222 110px,#252525 114px,#353535 117px,#222222 121px,#333333 128px,#2f2f2f 132px,#242424 134px,#252525 137px,#353535 140px,#262626 145px,#373737 148px,#2c2c2c 152px,#484848 154px,#5d5d5d 160px,#3e3e3e 164px,#3f3f3f 166px,#6a6a6a 169px,#797979 185px,#676767 188px,#757575 193px,#808080 216px,#808080 217px,#545454 223px,#535353 226px,#686868 228px,#747474 229px,#7d7d7d 232px,#959595 250px,#989898 272px,#919191 275px,#a0a0a0 280px,#a7a7a7 302px)"></div>
<div style="top:138px;background:linear-gradient(90deg,#151515 0px,#1b1b1b 3px,#1f1f1f 53px,#202020 63px,#1e1e1e 89px,#232323 96px,#2e2e2e 104px,#353535 106px,#222222 110px,#252525 114px,#343434 117px,#222222 121px,#323232 129px,#2f2f2f 132px,#242424 134px,#252525 137px,#343434 140px,#262626 145px,#363636 148px,#2c2c2c 152px,#474747 154px,#5d5d5d 160px,#3e3e3e 164px,#3f3f3f 166px,#696969 169px,#787878 185px,#676767 188px,#757575 193px,#808080 216px,#808080 217px,#545454 223px,#535353 226px,#686868 228px,#747474 229px,#7b7b7b 231px,#959595 250px,#989898 272px,#919191 275px,#a0a0a0 280px,#a7a7a7 302px)"></div>
<div style="top:139px;background:linear-gradient(90deg,#151515 0px,#1b1b1b 3px,#1f1f1f 53px,#202020 63px,#1e1e1e 89px,#232323 96px,#2e2e2e 104px,#343434 106px,#222222 110px,#252525 114px,#343434 117px,#222222 121px,#303030 127px,#313131 130px,#2f2f2f 132px,#252525 134px,#252525 137px,#343434 140px,#262626 145px,#363636 148px,#2c2c2c 152px,#464646 154px,#5c5c5c 160px,#3f3f3f 164px,#3f3f3f 166px,#686868 169px,#707070 175px,#787878 185px,#676767 188px,#757575 193px,#808080 216px,#808080 217px,#545454 223px,#535353 226px,#686868 228px,#747474 229px,#7b7b7b 231px,#959595 250px,#989898 272px,#919191 275px,#9f9f9f 280px,#a7a7a7 302px)"></div>
<div style="top:140px;background:linear-gradient(90deg,#151515 0px,#1b1b1b 3px,#1f1f1f 53px,#202020 63px,#1e1e1e 89px,#232323 96px,#2e2e2e 104px,#343434 106px,#232323 110px,#252525 114px,#343434 117px,#232323 121px,#2f2f2f 127px,#313131 130px,#2b2b2b 133px,#242424 135px,#292929 138px,#343434 140px,#262626 145px,#363636 148px,#2c2c2c 152px,#454545 154px,#565656 158px,#5c5c5c 160px,#3f3f3f 164px,#3f3f3f 166px,#676767 169px,#6d6d6d 172px,#787878 185px,#676767 188px,#707070 191px,#767676 195px,#808080 217px,#545454 223px,#535353 226px,#676767 228px,#747474 229px,#7b7b7b 231px,#959595 250px,#989898 272px,#919191 275px,#9f9f9f 280px,#a7a7a7 302px)"></div>
<div style="top:141px;background:linear-gradient(90deg,#151515 0px,#1b1b1b 3px,#1f1f1f 53px,#202020 63px,#1e1e1e 89px,#222222 96px,#2d2d2d 104px,#343434 106px,#232323 110px,#252525 114px,#333333 117px,#232323 121px,#2f2f2f 127px,#313131 130px,#2b2b2b 133px,#242424 135px,#292929 138px,#333333 140px,#262626 145px,#353535 148px,#2c2c2c 152px,#353535 153px,#444444 154px,#525252 157px,#5c5c5c 160px,#3f3f3f 164px,#3f3f3f 166px,#585858 168px,#666666 169px,#6c6c6c 171px,#787878 185px,#686868 188px,#6c6c6c 190px,#757575 193px,#808080 216px,#7b7b7b 218px,#545454 223px,#535353 226px,#5a5a5a 227px,#737373 229px,#7b7b7b 231px,#959595 250px,#989898 272px,#919191 275px,#9f9f9f 280px,#a7a7a7 302px)"></div>
<div style="top:142px;background:linear-gradient(90deg,#151515 0px,#1b1b1b 3px,#1f1f1f 53px,#202020 63px,#1e1e1e 89px,#222222 96px,#2d2d2d 104px,#343434 106px,#222222 111px,#292929 115px,#333333 117px,#282828 120px,#222222 122px,#323232 129px,#2b2b2b 133px,#242424 135px,#292929 138px,#333333 140px,#262626 145px,#353535 148px,#2c2c2c 152px,#353535 153px,#444444 154px,#4f4f4f 156px,#5c5c5c 160px,#4e4e4e 162px,#404040 164px,#3f3f3f 166px,#575757 168px,#666666 169px,#6c6c6c 171px,#787878 185px,#686868 188px,#6b6b6b 190px,#757575 193px,#808080 216px,#7c7c7c 218px,#545454 223px,#535353 226px,#5a5a5a 227px,#737373 229px,#7b7b7b 231px,#959595 250px,#989898 272px,#919191 275px,#9f9f9f 280px,#a7a7a7 302px)"></div>
<div style="top:143px;background:linear-gradient(90deg,#151515 0px,#1b1b1b 3px,#1f1f1f 54px,#1e1e1e 70px,#202020 95px,#2d2d2d 104px,#343434 106px,#222222 111px,#282828 115px,#333333 117px,#2d2d2d 119px,#232323 121px,#292929 125px,#333333 129px,#2b2b2b 133px,#242424 135px,#282828 138px,#333333 140px,#2c2c2c 143px,#262626 145px,#353535 148px,#2f2f2f 151px,#2c2c2c 152px,#343434 153px,#434343 154px,#4e4e4e 156px,#5c5c5c 160px,#4f4f4f 162px,#404040 164px,#3f3f3f 166px,#484848 167px,#656565 169px,#6b6b6b 170px,#787878 185px,#686868 188px,#6b6b6b 190px,#757575 193px,#808080 216px,#7c7c7c 218px,#545454 223px,#535353 226px,#5a5a5a 227px,#737373 229px,#7b7b7b 231px,#959595 250px,#989898 272px,#919191 275px,#9f9f9f 280px,#a7a7a7 302px)"></div>
<div style="top:144px;background:linear-gradient(90deg,#151515 0px,#1b1b1b 3px,#1f1f1f 54px,#1e1e1e 70px,#202020 95px,#303030 105px,#323232 107px,#232323 110px,#252525 114px,#333333 117px,#2d2d2d 119px,#232323 121px,#292929 125px,#333333 129px,#2c2c2c 133px,#232323 135px,#282828 138px,#333333 140px,#2d2d2d 143px,#262626 145px,#2f2f2f 147px,#353535 148px,#323232 150px,#2c2c2c 152px,#343434 153px,#434343 154px,#4e4e4e 156px,#5c5c5c 160px,#585858 161px,#404040 164px,#3f3f3f 166px,#484848 167px,#656565 169px,#6b6b6b 170px,#787878 185px,#686868 188px,#6b6b6b 190px,#767676 194px,#808080 217px,#737373 219px,#555555 223px,#525252 225px,#535353 226px,#5a5a5a 227px,#737373 229px,#7b7b7b 231px,#959595 250px,#989898 272px,#929292 276px,#9f9f9f 280px,#a7a7a7 302px)"></div>
<div style="top:145px;background:linear-gradient(90deg,#151515 0px,#1b1b1b 3px,#1f1f1f 54px,#1e1e1e 70px,#202020 95px,#303030 105px,#323232 107px,#222222 111px,#282828 115px,#333333 117px,#2d2d2d 119px,#232323 121px,#292929 125px,#333333 129px,#2c2c2c 133px,#232323 135px,#282828 138px,#333333 140px,#303030 142px,#262626 145px,#2e2e2e 147px,#353535 149px,#2c2c2c 152px,#333333 153px,#424242 154px,#4b4b4b 155px,#5c5c5c 160px,#585858 161px,#404040 164px,#3f3f3f 166px,#474747 167px,#646464 169px,#6b6b6b 170px,#787878 185px,#686868 188px,#6b6b6b 190px,#767676 194px,#808080 217px,#737373 219px,#555555 223px,#525252 225px,#535353 226px,#5a5a5a 227px,#737373 229px,#797979 230px,#959595 250px,#989898 272px,#929292 276px,#9f9f9f 280px,#a7a7a7 302px)"></div>
<div style="top:146px;background:linear-gradient(90deg,#151515 0px,#1b1b1b 3px,#1f1f1f 54px,#1e1e1e 70px,#202020 95px,#303030 105px,#323232 107px,#222222 111px,#282828 115px,#333333 117px,#2d2d2d 119px,#222222 122px,#333333 129px,#2c2c2c 133px,#232323 135px,#282828 138px,#333333 140px,#303030 142px,#262626 145px,#2e2e2e 147px,#353535 149px,#2c2c2c 152px,#333333 153px,#424242 154px,#4b4b4b 155px,#5c5c5c 160px,#585858 161px,#404040 164px,#3f3f3f 166px,#474747 167px,#646464 169px,#6b6b6b 170px,#787878 185px,#686868 188px,#6b6b6b 190px,#767676 194px,#808080 217px,#747474 219px,#555555 223px,#525252 225px,#535353 226px,#5a5a5a 227px,#727272 229px,#797979 230px,#959595 250px,#989898 272px,#929292 276px,#9f9f9f 280px,#a7a7a7 302px)"></div>
<div style="top:147px;background:linear-gradient(90deg,#151515 0px,#1b1b1b 3px,#1f1f1f 54px,#1e1e1e 70px,#202020 95px,#303030 105px,#323232 107px,#222222 111px,#282828 115px,#323232 117px,#323232 118px,#232323 121px,#262626 124px,#333333 129px,#2c2c2c 133px,#232323 135px,#282828 138px,#323232 140px,#303030 142px,#272727 145px,#2e2e2e 147px,#363636 149px,#2d2d2d 152px,#333333 153px,#424242 154px,#4b4b4b 155px,#5b5b5b 160px,#585858 161px,#404040 164px,#3f3f3f 166px,#474747 167px,#646464 169px,#6b6b6b 170px,#787878 185px,#686868 188px,#676767 189px,#757575 193px,#808080 216px,#7c7c7c 218px,#555555 223px,#525252 225px,#535353 226px,#595959 227px,#727272 229px,#797979 230px,#949494 250px,#989898 272px,#929292 276px,#9f9f9f 280px,#a7a7a7 302px)"></div>
<div style="top:148px;background:linear-gradient(90deg,#151515 0px,#1b1b1b 3px,#1f1f1f 54px,#1e1e1e 70px,#202020 95px,#303030 105px,#333333 107px,#222222 111px,#282828 115px,#323232 117px,#333333 118px,#242424 121px,#262626 124px,#333333 129px,#2c2c2c 133px,#232323 135px,#282828 138px,#323232 140px,#303030 142px,#272727 145px,#2e2e2e 147px,#363636 149px,#2d2d2d 152px,#333333 153px,#424242 154px,#4b4b4b 155px,#5b5b5b 160px,#585858 161px,#414141 164px,#3f3f3f 166px,#464646 167px,#646464 169px,#6b6b6b 170px,#787878 185px,#686868 188px,#676767 189px,#757575 193px,#808080 216px,#7c7c7c 218px,#555555 223px,#525252 225px,#535353 226px,#595959 227px,#727272 229px,#797979 230px,#949494 250px,#989898 272px,#929292 276px,#9f9f9f 280px,#a7a7a7 302px)"></div>
<div style="top:149px;background:linear-gradient(90deg,#151515 0px,#1b1b1b 3px,#1f1f1f 54px,#1e1e1e 70px,#202020 95px,#303030 105px,#333333 107px,#222222 111px,#282828 115px,#323232 117px,#333333 118px,#242424 121px,#262626 124px,#333333 129px,#2c2c2c 133px,#232323 135px,#282828 138px,#323232 140px,#303030 142px,#272727 145px,#2e2e2e 147px,#363636 149px,#2d2d2d 152px,#333333 153px,#424242 154px,#4b4b4b 155px,#5b5b5b 160px,#595959 161px,#414141 164px,#3f3f3f 166px,#464646 167px,#646464 169px,#6b6b6b 170px,#787878 185px,#686868 188px,#676767 189px,#757575 193px,#808080 217px,#747474 219px,#555555 223px,#525252 225px,#535353 226px,#595959 227px,#727272 229px,#797979 230px,#949494 250px,#989898 272px,#929292 276px,#9f9f9f 280px,#a7a7a7 302px)"></div>
<div style="top:150px;background:linear-gradient(90deg,#151515 0px,#1b1b1b 3px,#1f1f1f 54px,#1e1e1e 70px,#202020 95px,#303030 105px,#333333 107px,#222222 111px,#282828 115px,#323232 117px,#333333 118px,#242424 121px,#262626 124px,#333333 129px,#2c2c2c 133px,#232323 135px,#282828 138px,#323232 140px,#303030 142px,#272727 145px,#2e2e2e 147px,#363636 149px,#2d2d2d 152px,#333333 153px,#424242 154px,#4b4b4b 155px,#5b5b5b 160px,#595959 161px,#414141 164px,#3f3f3f 166px,#464646 167px,#646464 169px,#6b6b6b 170px,#787878 185px,#686868 188px,#676767 189px,#757575 193px,#808080 217px,#747474 219px,#555555 223px,#525252 225px,#535353 226px,#595959 227px,#727272 229px,#797979 230px,#949494 250px,#989898 272px,#929292 276px,#9f9f9f 280px,#a7a7a7 302px)"></div>
<div style="top:151px;background:linear-gradient(90deg,#151515 0px,#1b1b1b 3px,#1f1f1f 54px,#1e1e1e 70px,#202020 95px,#303030 105px,#333333 107px,#222222 111px,#282828 115px,#323232 117px,#333333 118px,#242424 121px,#262626 124px,#333333 129px,#2c2c2c 133px,#232323 135px,#282828 138px,#323232 140px,#303030 142px,#272727 145px,#2e2e2e 147px,#363636 149px,#2d2d2d 152px,#333333 153px,#424242 154px,#4b4b4b 155px,#5b5b5b 160px,#585858 161px,#404040 164px,#3f3f3f 166px,#464646 167px,#646464 169px,#6b6b6b 170px,#787878 185px,#686868 188px,#676767 189px,#757575 193px,#808080 216px,#7c7c7c 218px,#555555 223px,#525252 225px,#535353 226px,#595959 227px,#727272 229px,#797979 230px,#949494 250px,#989898 272px,#929292 276px,#9f9f9f 280px,#a7a7a7 302px)"></div>
<div style="top:152px;background:linear-gradient(90deg,#151515 0px,#1b1b1b 3px,#1f1f1f 54px,#1e1e1e 70px,#202020 95px,#303030 105px,#323232 107px,#222222 111px,#282828 115px,#323232 117px,#323232 118px,#232323 121px,#262626 124px,#333333 129px,#2c2c2c 133px,#232323 135px,#282828 138px,#323232 140px,#303030 142px,#262626 145px,#2e2e2e 147px,#353535 149px,#2c2c2c 152px,#333333 153px,#424242 154px,#4b4b4b 155px,#5b5b5b 160px,#585858 161px,#404040 164px,#3f3f3f 166px,#474747 167px,#646464 169px,#6b6b6b 170px,#787878 185px,#686868 188px,#676767 189px,#757575 193px,#808080 216px,#7c7c7c 218px,#555555 223px,#525252 225px,#535353 226px,#595959 227px,#727272 229px,#797979 230px,#949494 250px,#989898 272px,#929292 276px,#9f9f9f 280px,#a7a7a7 302px)"></div>
<div style="top:153px;background:linear-gradient(90deg,#151515 0px,#1b1b1b 3px,#1f1f1f 54px,#1e1e1e 70px,#202020 95px,#303030 105px,#323232 107px,#222222 111px,#282828 115px,#333333 117px,#2d2d2d 119px,#222222 122px,#323232 129px,#2c2c2c 133px,#232323 135px,#282828 138px,#333333 140px,#303030 142px,#262626 145px,#2e2e2e 147px,#353535 149px,#2c2c2c 152px,#333333 153px,#424242 154px,#4b4b4b 155px,#5b5b5b 160px,#585858 161px,#404040 164px,#3f3f3f 166px,#474747 167px,#646464 169px,#6b6b6b 170px,#787878 185px,#686868 188px,#6b6b6b 190px,#767676 194px,#808080 217px,#737373 219px,#555555 223px,#525252 225px,#535353 226px,#5a5a5a 227px,#727272 229px,#797979 230px,#949494 250px,#989898 272px,#929292 276px,#9f9f9f 280px,#a7a7a7 302px)"></div>
<div style="top:154px;background:linear-gradient(90deg,#151515 0px,#1b1b1b 3px,#1f1f1f 54px,#1e1e1e 70px,#202020 95px,#303030 105px,#323232 107px,#222222 111px,#282828 115px,#333333 117px,#2d2d2d 119px,#232323 121px,#292929 125px,#323232 129px,#2c2c2c 133px,#232323 135px,#282828 138px,#333333 140px,#303030 142px,#262626 145px,#2e2e2e 147px,#353535 149px,#2c2c2c 152px,#333333 153px,#424242 154px,#4b4b4b 155px,#5c5c5c 160px,#585858 161px,#404040 164px,#3f3f3f 166px,#474747 167px,#646464 169px,#6b6b6b 170px,#787878 185px,#686868 188px,#6b6b6b 190px,#767676 194px,#808080 217px,#737373 219px,#555555 223px,#525252 225px,#535353 226px,#5a5a5a 227px,#737373 229px,#797979 230px,#949494 250px,#989898 272px,#929292 276px,#9f9f9f 280px,#a7a7a7 302px)"></div>
<div style="top:155px;background:linear-gradient(90deg,#151515 0px,#1b1b1b 3px,#1f1f1f 54px,#1e1e1e 70px,#202020 95px,#303030 105px,#323232 107px,#232323 110px,#252525 114px,#333333 117px,#2d2d2d 119px,#232323 121px,#292929 125px,#323232 129px,#2c2c2c 133px,#232323 135px,#282828 138px,#333333 140px,#2c2c2c 143px,#262626 145px,#2e2e2e 147px,#343434 148px,#323232 150px,#2c2c2c 152px,#343434 153px,#434343 154px,#4e4e4e 156px,#5c5c5c 160px,#585858 161px,#404040 164px,#3f3f3f 166px,#474747 167px,#656565 169px,#6b6b6b 170px,#787878 185px,#686868 188px,#6b6b6b 190px,#767676 194px,#808080 217px,#737373 219px,#545454 223px,#525252 225px,#535353 226px,#5a5a5a 227px,#737373 229px,#7b7b7b 231px,#949494 250px,#989898 272px,#929292 276px,#9f9f9f 280px,#a7a7a7 302px)"></div>
<div style="top:156px;background:linear-gradient(90deg,#151515 0px,#1b1b1b 3px,#1f1f1f 54px,#1e1e1e 70px,#202020 95px,#2d2d2d 104px,#343434 106px,#222222 111px,#282828 115px,#333333 117px,#2d2d2d 119px,#232323 121px,#292929 125px,#323232 129px,#2b2b2b 133px,#232323 135px,#282828 138px,#333333 140px,#2c2c2c 143px,#262626 145px,#353535 148px,#2f2f2f 151px,#2c2c2c 152px,#343434 153px,#434343 154px,#4e4e4e 156px,#5c5c5c 160px,#4f4f4f 162px,#404040 164px,#3f3f3f 166px,#484848 167px,#656565 169px,#6b6b6b 170px,#787878 185px,#686868 188px,#6b6b6b 190px,#757575 193px,#808080 216px,#7c7c7c 218px,#545454 223px,#535353 226px,#5a5a5a 227px,#737373 229px,#7b7b7b 231px,#949494 250px,#989898 272px,#919191 275px,#9f9f9f 280px,#a7a7a7 302px)"></div>
<div style="top:157px;background:linear-gradient(90deg,#151515 0px,#1b1b1b 3px,#1f1f1f 53px,#202020 63px,#1e1e1e 90px,#222222 96px,#2d2d2d 104px,#343434 106px,#222222 111px,#282828 115px,#333333 117px,#282828 120px,#222222 122px,#323232 129px,#2b2b2b 133px,#232323 135px,#282828 138px,#333333 140px,#262626 145px,#353535 148px,#2c2c2c 152px,#353535 153px,#444444 154px,#4e4e4e 156px,#5c5c5c 160px,#4e4e4e 162px,#404040 164px,#3f3f3f 166px,#575757 168px,#666666 169px,#6c6c6c 171px,#787878 185px,#686868 188px,#6b6b6b 190px,#757575 193px,#808080 216px,#7b7b7b 218px,#545454 223px,#535353 226px,#5a5a5a 227px,#737373 229px,#7b7b7b 231px,#949494 250px,#989898 272px,#919191 275px,#9f9f9f 280px,#a7a7a7 302px)"></div>
<div style="top:158px;background:linear-gradient(90deg,#151515 0px,#1b1b1b 3px,#1f1f1f 53px,#202020 63px,#1e1e1e 89px,#222222 96px,#2d2d2d 104px,#343434 106px,#232323 110px,#252525 114px,#333333 117px,#232323 121px,#2f2f2f 127px,#313131 130px,#2b2b2b 133px,#232323 135px,#292929 138px,#333333 140px,#262626 145px,#353535 148px,#2c2c2c 152px,#353535 153px,#444444 154px,#525252 157px,#5c5c5c 160px,#3f3f3f 164px,#3f3f3f 166px,#585858 168px,#666666 169px,#6c6c6c 171px,#787878 185px,#676767 188px,#6b6b6b 190px,#757575 193px,#808080 216px,#7b7b7b 218px,#545454 223px,#535353 226px,#5a5a5a 227px,#737373 229px,#7b7b7b 231px,#949494 250px,#989898 272px,#919191 275px,#9f9f9f 280px,#a7a7a7 302px)"></div>
<div style="top:159px;background:linear-gradient(90deg,#151515 0px,#1b1b1b 3px,#1f1f1f 53px,#202020 63px,#1e1e1e 89px,#222222 96px,#2d2d2d 104px,#343434 106px,#222222 110px,#252525 114px,#343434 117px,#222222 121px,#2f2f2f 127px,#313131 130px,#2b2b2b 133px,#232323 135px,#292929 138px,#343434 140px,#262626 145px,#353535 148px,#2c2c2c 152px,#454545 154px,#555555 158px,#5c5c5c 160px,#3f3f3f 164px,#3f3f3f 166px,#676767 169px,#6d6d6d 172px,#787878 185px,#676767 188px,#6f6f6f 191px,#767676 195px,#808080 217px,#545454 223px,#535353 226px,#676767 228px,#737373 229px,#7b7b7b 231px,#949494 250px,#989898 272px,#919191 275px,#9f9f9f 280px,#a7a7a7 302px)"></div>
<div style="top:160px;background:linear-gradient(90deg,#151515 0px,#1b1b1b 3px,#1f1f1f 53px,#202020 63px,#1e1e1e 89px,#232323 96px,#2e2e2e 104px,#343434 106px,#222222 110px,#252525 114px,#343434 117px,#222222 121px,#2f2f2f 127px,#313131 130px,#2f2f2f 132px,#242424 134px,#252525 137px,#343434 140px,#262626 145px,#363636 148px,#2c2c2c 152px,#464646 154px,#5c5c5c 160px,#3f3f3f 164px,#3f3f3f 166px,#686868 169px,#707070 175px,#787878 185px,#676767 188px,#757575 193px,#808080 216px,#808080 217px,#545454 223px,#535353 226px,#676767 228px,#747474 229px,#7b7b7b 231px,#949494 250px,#989898 272px,#919191 275px,#9f9f9f 280px,#a7a7a7 302px)"></div>
<div style="top:161px;background:linear-gradient(90deg,#151515 0px,#1b1b1b 3px,#1f1f1f 53px,#202020 63px,#1e1e1e 89px,#232323 96px,#2e2e2e 104px,#343434 106px,#222222 110px,#252525 114px,#343434 117px,#222222 121px,#323232 129px,#2f2f2f 132px,#242424 134px,#252525 137px,#343434 140px,#262626 145px,#363636 148px,#2c2c2c 152px,#464646 154px,#5c5c5c 160px,#3e3e3e 164px,#3f3f3f 166px,#686868 169px,#787878 185px,#676767 188px,#757575 193px,#808080 216px,#808080 217px,#545454 223px,#535353 226px,#686868 228px,#747474 229px,#7b7b7b 231px,#949494 250px,#989898 272px,#909090 275px,#9f9f9f 280px,#a7a7a7 302px)"></div>
<div style="top:162px;background:linear-gradient(90deg,#151515 0px,#1b1b1b 3px,#1f1f1f 53px,#202020 63px,#1e1e1e 89px,#232323 96px,#2e2e2e 104px,#353535 106px,#222222 110px,#252525 114px,#343434 117px,#222222 121px,#333333 128px,#2f2f2f 132px,#242424 134px,#252525 137px,#343434 140px,#252525 145px,#363636 148px,#2b2b2b 152px,#474747 154px,#5d5d5d 160px,#3e3e3e 164px,#3f3f3f 166px,#696969 169px,#787878 185px,#666666 188px,#757575 193px,#808080 216px,#808080 217px,#545454 223px,#535353 226px,#686868 228px,#747474 229px,#7d7d7d 232px,#949494 250px,#989898 272px,#909090 275px,#9f9f9f 280px,#a7a7a7 302px)"></div>
<div style="top:163px;background:linear-gradient(90deg,#151515 0px,#1b1b1b 3px,#1f1f1f 53px,#202020 62px,#1f1f1f 94px,#2e2e2e 104px,#353535 106px,#212121 110px,#252525 114px,#353535 117px,#212121 121px,#333333 128px,#2f2f2f 132px,#232323 134px,#252525 137px,#353535 140px,#252525 145px,#373737 148px,#2b2b2b 152px,#484848 154px,#5d5d5d 160px,#3d3d3d 164px,#3f3f3f 166px,#6a6a6a 169px,#787878 185px,#666666 188px,#757575 193px,#808080 216px,#808080 217px,#535353 223px,#535353 226px,#757575 229px,#7d7d7d 232px,#959595 250px,#989898 272px,#909090 275px,#9f9f9f 280px,#a7a7a7 302px)"></div>
<div style="top:164px;background:linear-gradient(90deg,#151515 0px,#1b1b1b 3px,#1f1f1f 53px,#202020 62px,#1f1f1f 93px,#2e2e2e 104px,#353535 106px,#212121 110px,#252525 114px,#353535 117px,#212121 121px,#333333 128px,#2f2f2f 132px,#232323 134px,#252525 137px,#353535 140px,#252525 145px,#373737 148px,#2b2b2b 152px,#494949 154px,#5d5d5d 160px,#3d3d3d 164px,#3f3f3f 166px,#6b6b6b 169px,#787878 185px,#666666 188px,#757575 193px,#808080 216px,#808080 217px,#535353 223px,#535353 226px,#757575 229px,#808080 234px,#959595 250px,#989898 272px,#909090 275px,#9f9f9f 280px,#a7a7a7 302px)"></div>
<div style="top:165px;background:linear-gradient(90deg,#151515 0px,#1b1b1b 3px,#1f1f1f 53px,#202020 62px,#1f1f1f 92px,#2f2f2f 104px,#343434 106px,#212121 110px,#262626 114px,#343434 117px,#212121 121px,#333333 128px,#2e2e2e 132px,#232323 134px,#262626 137px,#353535 140px,#262626 145px,#373737 148px,#2d2d2d 152px,#494949 154px,#5c5c5c 160px,#3d3d3d 164px,#404040 166px,#6b6b6b 169px,#787878 185px,#656565 188px,#757575 193px,#808080 216px,#808080 217px,#535353 223px,#535353 226px,#757575 229px,#878787 238px,#959595 250px,#979797 272px,#909090 275px,#9f9f9f 280px,#a7a7a7 302px)"></div>
<div style="top:166px;background:linear-gradient(90deg,#151515 0px,#1b1b1b 3px,#1f1f1f 53px,#202020 62px,#1f1f1f 92px,#2f2f2f 104px,#343434 106px,#212121 110px,#262626 114px,#343434 117px,#212121 121px,#333333 128px,#2e2e2e 132px,#232323 134px,#262626 137px,#343434 140px,#262626 145px,#363636 148px,#2e2e2e 152px,#4a4a4a 154px,#5b5b5b 160px,#434343 163px,#3d3d3d 164px,#424242 166px,#6b6b6b 169px,#787878 185px,#656565 188px,#757575 193px,#808080 216px,#808080 217px,#535353 223px,#535353 226px,#767676 229px,#8f8f8f 244px,#989898 259px,#979797 272px,#909090 275px,#9f9f9f 280px,#a7a7a7 302px)"></div>
<div style="top:167px;background:linear-gradient(90deg,#151515 0px,#1b1b1b 3px,#1f1f1f 53px,#202020 62px,#1f1f1f 92px,#2f2f2f 104px,#343434 106px,#212121 110px,#262626 114px,#343434 117px,#222222 121px,#333333 128px,#2d2d2d 132px,#232323 134px,#262626 137px,#343434 140px,#272727 145px,#363636 148px,#2d2d2d 151px,#2f2f2f 152px,#4a4a4a 154px,#5b5b5b 159px,#5b5b5b 160px,#424242 163px,#3d3d3d 164px,#434343 166px,#606060 168px,#6b6b6b 169px,#787878 185px,#656565 188px,#757575 192px,#808080 216px,#808080 217px,#525252 223px,#535353 226px,#767676 229px,#929292 246px,#999999 271px,#909090 275px,#9f9f9f 280px,#a7a7a7 302px)"></div>
<div style="top:168px;background:linear-gradient(90deg,#151515 0px,#1b1b1b 3px,#1f1f1f 53px,#202020 62px,#1f1f1f 91px,#2c2c2c 103px,#333333 106px,#212121 110px,#272727 114px,#333333 117px,#222222 121px,#333333 128px,#2d2d2d 132px,#232323 134px,#272727 137px,#343434 140px,#272727 144px,#272727 145px,#363636 148px,#2d2d2d 151px,#303030 152px,#4a4a4a 154px,#5b5b5b 159px,#5a5a5a 160px,#424242 163px,#3d3d3d 164px,#444444 166px,#626262 168px,#6b6b6b 169px,#777777 185px,#666666 188px,#757575 193px,#808080 216px,#808080 217px,#525252 223px,#535353 226px,#767676 229px,#939393 247px,#979797 272px,#909090 275px,#9f9f9f 280px,#a7a7a7 302px)"></div>
<div style="top:169px;background:linear-gradient(90deg,#151515 0px,#1b1b1b 3px,#1f1f1f 53px,#212121 63px,#1e1e1e 86px,#222222 95px,#303030 104px,#333333 106px,#212121 110px,#272727 114px,#323232 116px,#333333 117px,#222222 121px,#333333 128px,#2c2c2c 132px,#232323 134px,#272727 137px,#323232 139px,#303030 141px,#272727 144px,#2e2e2e 146px,#363636 148px,#2d2d2d 151px,#323232 152px,#414141 153px,#4b4b4b 154px,#5b5b5b 159px,#595959 160px,#414141 163px,#3e3e3e 165px,#464646 166px,#636363 168px,#6b6b6b 169px,#777777 185px,#666666 188px,#757575 193px,#808080 216px,#808080 217px,#525252 223px,#535353 226px,#777777 229px,#939393 247px,#979797 272px,#909090 275px,#9f9f9f 280px,#a7a7a7 302px)"></div>
<div style="top:170px;background:linear-gradient(90deg,#151515 0px,#1b1b1b 3px,#1f1f1f 53px,#1e1e1e 69px,#202020 94px,#303030 104px,#323232 106px,#222222 110px,#282828 114px,#333333 116px,#2d2d2d 118px,#232323 120px,#292929 124px,#323232 128px,#2c2c2c 132px,#232323 134px,#282828 137px,#333333 139px,#303030 141px,#262626 144px,#2e2e2e 146px,#353535 148px,#2c2c2c 151px,#333333 152px,#424242 153px,#4b4b4b 154px,#5c5c5c 159px,#585858 160px,#404040 163px,#3f3f3f 165px,#474747 166px,#646464 168px,#6b6b6b 169px,#767676 185px,#666666 188px,#757575 193px,#808080 216px,#808080 217px,#525252 223px,#535353 226px,#777777 229px,#949494 248px,#979797 272px,#909090 275px,#9f9f9f 280px,#a7a7a7 302px)"></div>
<div style="top:171px;background:linear-gradient(90deg,#151515 0px,#1b1b1b 3px,#1f1f1f 53px,#1e1e1e 69px,#202020 94px,#2d2d2d 103px,#343434 105px,#232323 109px,#252525 113px,#333333 116px,#282828 119px,#222222 121px,#323232 128px,#2b2b2b 132px,#232323 134px,#282828 137px,#333333 139px,#262626 144px,#353535 147px,#2c2c2c 151px,#353535 152px,#444444 153px,#4f4f4f 155px,#5c5c5c 159px,#3f3f3f 163px,#3f3f3f 165px,#575757 167px,#666666 168px,#6c6c6c 170px,#787878 184px,#6f6f6f 186px,#666666 188px,#757575 193px,#808080 216px,#808080 217px,#515151 223px,#535353 226px,#787878 229px,#949494 248px,#979797 272px,#909090 275px,#9f9f9f 279px,#a7a7a7 302px)"></div>
<div style="top:172px;background:linear-gradient(90deg,#151515 0px,#1b1b1b 3px,#1f1f1f 53px,#1e1e1e 69px,#202020 94px,#2e2e2e 103px,#343434 105px,#222222 109px,#252525 113px,#343434 116px,#222222 120px,#2f2f2f 126px,#313131 129px,#2f2f2f 131px,#242424 133px,#252525 136px,#343434 139px,#262626 144px,#363636 147px,#2c2c2c 151px,#454545 153px,#5c5c5c 159px,#3f3f3f 163px,#3f3f3f 165px,#686868 168px,#6e6e6e 172px,#787878 184px,#686868 187px,#676767 188px,#757575 192px,#808080 216px,#808080 217px,#515151 223px,#535353 226px,#787878 229px,#949494 249px,#999999 271px,#909090 275px,#9f9f9f 279px,#a7a7a7 302px)"></div>
<div style="top:173px;background:linear-gradient(90deg,#151515 0px,#1b1b1b 3px,#1f1f1f 53px,#1e1e1e 69px,#212121 94px,#2e2e2e 103px,#353535 105px,#222222 109px,#252525 113px,#343434 116px,#222222 120px,#333333 127px,#2f2f2f 131px,#242424 133px,#252525 136px,#343434 139px,#252525 144px,#363636 147px,#2b2b2b 151px,#474747 153px,#5d5d5d 159px,#3e3e3e 163px,#3f3f3f 165px,#696969 168px,#787878 184px,#686868 187px,#6b6b6b 189px,#757575 193px,#808080 216px,#7f7f7f 217px,#515151 223px,#545454 226px,#787878 229px,#949494 249px,#999999 271px,#909090 275px,#9f9f9f 279px,#a7a7a7 302px)"></div>
<div style="top:174px;background:linear-gradient(90deg,#151515 0px,#1b1b1b 3px,#1f1f1f 53px,#1e1e1e 69px,#212121 94px,#2e2e2e 103px,#353535 105px,#212121 109px,#252525 113px,#353535 116px,#212121 120px,#333333 127px,#2f2f2f 131px,#232323 133px,#252525 136px,#353535 139px,#252525 144px,#373737 147px,#2b2b2b 151px,#494949 153px,#5d5d5d 159px,#3d3d3d 163px,#3f3f3f 165px,#6b6b6b 168px,#787878 184px,#676767 187px,#6f6f6f 190px,#767676 194px,#808080 216px,#7f7f7f 217px,#515151 223px,#545454 226px,#797979 229px,#949494 249px,#999999 271px,#909090 275px,#9f9f9f 279px,#a7a7a7 302px)"></div>
<div style="top:175px;background:linear-gradient(90deg,#151515 0px,#1b1b1b 3px,#1f1f1f 53px,#1e1e1e 69px,#1f1f1f 93px,#2f2f2f 103px,#343434 105px,#212121 109px,#262626 113px,#343434 116px,#212121 120px,#333333 127px,#2e2e2e 131px,#232323 133px,#262626 136px,#353535 139px,#262626 144px,#373737 147px,#2d2d2d 151px,#494949 153px,#5c5c5c 159px,#3d3d3d 163px,#414141 165px,#6b6b6b 168px,#787878 184px,#676767 187px,#757575 192px,#808080 216px,#7e7e7e 217px,#515151 223px,#555555 226px,#797979 229px,#949494 249px,#999999 271px,#909090 275px,#9f9f9f 279px,#a7a7a7 302px)"></div>
<div style="top:176px;background:linear-gradient(90deg,#151515 0px,#1b1b1b 3px,#1f1f1f 52px,#202020 62px,#1e1e1e 87px,#212121 94px,#2f2f2f 103px,#343434 105px,#212121 109px,#262626 113px,#343434 116px,#222222 120px,#333333 127px,#2d2d2d 131px,#232323 133px,#262626 136px,#343434 139px,#272727 144px,#363636 147px,#2d2d2d 150px,#2f2f2f 151px,#4a4a4a 153px,#5b5b5b 158px,#5b5b5b 159px,#424242 162px,#3d3d3d 163px,#434343 165px,#6b6b6b 168px,#787878 184px,#666666 187px,#757575 192px,#808080 216px,#7e7e7e 217px,#515151 223px,#565656 226px,#797979 229px,#949494 249px,#999999 271px,#909090 275px,#9f9f9f 279px,#a7a7a7 302px)"></div>
<div style="top:177px;background:linear-gradient(90deg,#151515 0px,#1b1b1b 3px,#1f1f1f 52px,#202020 61px,#1f1f1f 92px,#303030 103px,#333333 105px,#212121 109px,#272727 113px,#323232 115px,#333333 116px,#222222 120px,#333333 127px,#2d2d2d 131px,#232323 133px,#272727 136px,#343434 139px,#272727 143px,#272727 144px,#363636 147px,#2d2d2d 150px,#313131 151px,#4a4a4a 153px,#5b5b5b 158px,#595959 159px,#414141 162px,#3e3e3e 164px,#454545 165px,#626262 167px,#6b6b6b 168px,#787878 184px,#656565 187px,#757575 192px,#808080 216px,#7d7d7d 217px,#515151 223px,#565656 226px,#797979 229px,#949494 249px,#999999 271px,#919191 275px,#9f9f9f 279px,#a7a7a7 302px)"></div>
<div style="top:178px;background:linear-gradient(90deg,#151515 0px,#1b1b1b 3px,#1f1f1f 52px,#202020 61px,#1f1f1f 91px,#2d2d2d 102px,#333333 104px,#2d2d2d 106px,#222222 109px,#282828 113px,#323232 115px,#2d2d2d 117px,#222222 120px,#323232 127px,#2c2c2c 131px,#232323 133px,#282828 136px,#323232 138px,#303030 140px,#262626 143px,#2e2e2e 145px,#353535 147px,#2c2c2c 150px,#333333 151px,#424242 152px,#4b4b4b 153px,#5b5b5b 158px,#585858 159px,#404040 162px,#3f3f3f 164px,#474747 165px,#646464 167px,#6b6b6b 168px,#777777 184px,#656565 187px,#757575 192px,#808080 216px,#757575 218px,#515151 223px,#575757 226px,#797979 229px,#949494 249px,#999999 271px,#919191 275px,#9f9f9f 279px,#a7a7a7 302px)"></div>
<div style="top:179px;background:linear-gradient(90deg,#151515 0px,#1b1b1b 3px,#1f1f1f 52px,#202020 61px,#1f1f1f 90px,#2d2d2d 102px,#343434 104px,#232323 108px,#252525 112px,#333333 115px,#282828 118px,#222222 120px,#323232 127px,#2f2f2f 130px,#232323 133px,#292929 136px,#333333 138px,#262626 143px,#353535 146px,#2c2c2c 150px,#353535 151px,#444444 152px,#4f4f4f 154px,#5c5c5c 158px,#3f3f3f 162px,#3f3f3f 164px,#585858 166px,#666666 167px,#6c6c6c 169px,#777777 184px,#666666 187px,#757575 192px,#808080 216px,#747474 218px,#565656 222px,#525252 224px,#585858 226px,#717171 228px,#797979 229px,#949494 249px,#989898 271px,#919191 275px,#9f9f9f 279px,#a7a7a7 302px)"></div>
<div style="top:180px;background:linear-gradient(90deg,#151515 0px,#1b1b1b 3px,#1f1f1f 52px,#202020 61px,#1f1f1f 90px,#2e2e2e 102px,#343434 104px,#222222 108px,#252525 112px,#343434 115px,#222222 119px,#323232 127px,#2f2f2f 130px,#242424 132px,#252525 135px,#343434 138px,#262626 143px,#363636 146px,#2c2c2c 150px,#464646 152px,#5c5c5c 158px,#3e3e3e 162px,#3f3f3f 164px,#686868 167px,#787878 183px,#707070 185px,#666666 187px,#757575 192px,#808080 216px,#737373 218px,#555555 222px,#525252 224px,#535353 225px,#585858 226px,#717171 228px,#797979 229px,#949494 249px,#989898 271px,#919191 275px,#9f9f9f 279px,#a7a7a7 302px)"></div>
<div style="top:181px;background:linear-gradient(90deg,#151515 0px,#1b1b1b 3px,#1f1f1f 52px,#212121 62px,#1e1e1e 84px,#212121 93px,#2e2e2e 102px,#353535 104px,#212121 108px,#252525 112px,#353535 115px,#212121 119px,#333333 126px,#2f2f2f 130px,#232323 132px,#252525 135px,#353535 138px,#252525 143px,#373737 146px,#2b2b2b 150px,#494949 152px,#5d5d5d 158px,#3d3d3d 162px,#3f3f3f 164px,#6b6b6b 167px,#787878 183px,#676767 187px,#757575 192px,#808080 215px,#808080 216px,#555555 222px,#525252 224px,#535353 225px,#595959 226px,#727272 228px,#797979 229px,#949494 249px,#989898 271px,#929292 275px,#9f9f9f 279px,#a7a7a7 302px)"></div>
<div style="top:182px;background:linear-gradient(90deg,#151515 0px,#1b1b1b 3px,#1f1f1f 52px,#1e1e1e 68px,#1f1f1f 92px,#2f2f2f 102px,#343434 104px,#212121 108px,#262626 112px,#343434 115px,#212121 119px,#333333 126px,#2e2e2e 130px,#232323 132px,#262626 135px,#353535 138px,#262626 143px,#373737 146px,#2d2d2d 150px,#494949 152px,#5c5c5c 158px,#3d3d3d 162px,#414141 164px,#6b6b6b 167px,#787878 183px,#686868 186px,#6b6b6b 188px,#757575 192px,#808080 215px,#808080 216px,#545454 222px,#535353 225px,#5a5a5a 226px,#737373 228px,#7b7b7b 230px,#949494 249px,#989898 271px,#919191 274px,#9f9f9f 279px,#a7a7a7 302px)"></div>
<div style="top:183px;background:linear-gradient(90deg,#151515 0px,#1b1b1b 3px,#1f1f1f 52px,#1e1e1e 68px,#1f1f1f 92px,#2f2f2f 102px,#333333 104px,#212121 108px,#272727 112px,#333333 115px,#222222 119px,#333333 126px,#2d2d2d 130px,#232323 132px,#272727 135px,#343434 138px,#272727 143px,#363636 146px,#2d2d2d 149px,#303030 150px,#4a4a4a 152px,#5b5b5b 157px,#5a5a5a 158px,#424242 161px,#3d3d3d 162px,#434343 164px,#616161 166px,#6b6b6b 167px,#787878 183px,#676767 186px,#757575 192px,#808080 215px,#808080 216px,#545454 222px,#535353 225px,#686868 227px,#747474 228px,#7b7b7b 230px,#949494 249px,#989898 271px,#919191 274px,#9f9f9f 279px,#a7a7a7 302px)"></div>
<div style="top:184px;background:linear-gradient(90deg,#151515 0px,#1b1b1b 3px,#1f1f1f 52px,#1e1e1e 68px,#202020 92px,#303030 102px,#333333 104px,#212121 108px,#282828 112px,#323232 114px,#333333 115px,#222222 119px,#333333 126px,#2c2c2c 130px,#232323 132px,#282828 135px,#323232 137px,#303030 139px,#272727 142px,#2e2e2e 144px,#363636 146px,#2d2d2d 149px,#323232 150px,#414141 151px,#4b4b4b 152px,#5b5b5b 157px,#595959 158px,#414141 161px,#3e3e3e 163px,#464646 164px,#636363 166px,#6b6b6b 167px,#787878 183px,#666666 186px,#757575 191px,#808080 215px,#808080 216px,#535353 222px,#535353 225px,#757575 228px,#7f7f7f 232px,#959595 249px,#989898 271px,#909090 274px,#9f9f9f 279px,#a7a7a7 302px)"></div>
<div style="top:185px;background:linear-gradient(90deg,#151515 0px,#1b1b1b 3px,#1f1f1f 52px,#1f1f1f 67px,#202020 92px,#2d2d2d 101px,#343434 103px,#232323 107px,#252525 111px,#333333 114px,#282828 117px,#222222 119px,#323232 126px,#2b2b2b 130px,#232323 132px,#282828 135px,#333333 137px,#262626 142px,#353535 145px,#2c2c2c 149px,#353535 150px,#444444 151px,#4f4f4f 153px,#5c5c5c 157px,#3f3f3f 161px,#3f3f3f 163px,#575757 165px,#666666 166px,#6c6c6c 168px,#787878 183px,#656565 186px,#757575 191px,#808080 215px,#808080 216px,#535353 222px,#535353 225px,#757575 228px,#8e8e8e 242px,#969696 253px,#979797 271px,#909090 274px,#9f9f9f 279px,#a7a7a7 302px)"></div>
<div style="top:186px;background:linear-gradient(90deg,#151515 0px,#1b1b1b 3px,#1f1f1f 51px,#202020 60px,#1f1f1f 90px,#2e2e2e 101px,#343434 103px,#222222 107px,#252525 111px,#343434 114px,#222222 118px,#323232 126px,#2f2f2f 129px,#242424 131px,#252525 134px,#343434 137px,#262626 142px,#363636 145px,#2c2c2c 149px,#464646 151px,#5c5c5c 157px,#3e3e3e 161px,#3f3f3f 163px,#686868 166px,#777777 183px,#656565 186px,#757575 191px,#808080 215px,#808080 216px,#525252 222px,#535353 225px,#767676 228px,#939393 246px,#979797 271px,#909090 274px,#9f9f9f 279px,#a7a7a7 302px)"></div>
<div style="top:187px;background:linear-gradient(90deg,#151515 0px,#1b1b1b 3px,#1f1f1f 51px,#202020 60px,#1f1f1f 89px,#2e2e2e 101px,#353535 103px,#212121 107px,#252525 111px,#353535 114px,#212121 118px,#333333 125px,#2f2f2f 129px,#232323 131px,#252525 134px,#353535 137px,#252525 142px,#373737 145px,#2b2b2b 149px,#494949 151px,#5d5d5d 157px,#3d3d3d 161px,#3f3f3f 163px,#6b6b6b 166px,#787878 182px,#707070 184px,#666666 186px,#757575 191px,#808080 215px,#7f7f7f 216px,#525252 222px,#535353 225px,#777777 228px,#949494 247px,#979797 271px,#909090 274px,#9f9f9f 279px,#a7a7a7 302px)"></div>
<div style="top:188px;background:linear-gradient(90deg,#151515 0px,#1b1b1b 3px,#1f1f1f 51px,#202020 60px,#1e1e1e 88px,#232323 93px,#2f2f2f 101px,#343434 103px,#212121 107px,#262626 111px,#343434 114px,#212121 118px,#333333 125px,#2e2e2e 129px,#232323 131px,#262626 134px,#343434 137px,#262626 142px,#363636 145px,#2d2d2d 148px,#2e2e2e 149px,#4a4a4a 151px,#5b5b5b 157px,#434343 160px,#3d3d3d 161px,#424242 163px,#6b6b6b 166px,#787878 182px,#676767 186px,#757575 191px,#808080 215px,#7f7f7f 216px,#515151 222px,#535353 225px,#787878 228px,#949494 247px,#979797 271px,#909090 274px,#9f9f9f 278px,#a7a7a7 302px)"></div>
<div style="top:189px;background:linear-gradient(90deg,#151515 0px,#1b1b1b 3px,#1f1f1f 51px,#202020 60px,#1f1f1f 88px,#2a2a2a 99px,#333333 103px,#212121 107px,#272727 111px,#323232 113px,#333333 114px,#222222 118px,#333333 125px,#2d2d2d 129px,#232323 131px,#272727 134px,#343434 137px,#272727 141px,#272727 142px,#363636 145px,#2d2d2d 148px,#313131 149px,#4a4a4a 151px,#5b5b5b 156px,#595959 157px,#414141 160px,#3e3e3e 162px,#454545 163px,#626262 165px,#6b6b6b 166px,#787878 182px,#686868 185px,#6b6b6b 187px,#757575 191px,#808080 215px,#7e7e7e 216px,#515151 222px,#545454 225px,#797979 228px,#949494 248px,#999999 270px,#909090 274px,#9f9f9f 278px,#a7a7a7 302px)"></div>
<div style="top:208px;background:linear-gradient(90deg,#565656 0px,#606060 1px,#6b6b6b 7px,#757575 59px,#757575 67px,#828282 81px,#878787 100px,#767676 103px,#636363 105px,#585858 109px,#646464 117px,#787878 120px,#9b9b9b 122px,#afafaf 128px,#8b8b8b 132px,#888888 134px,#8f8f8f 140px,#969696 144px,#bebebe 147px,#e2e2e2 149px,#f3f3f3 154px,#f4f4f4 177px,#eaeaea 183px,#fbfbfb 195px,#ffffff 205px,#ededed 209px,#e9e9e9 214px,#fefefe 217px,#fefefe 302px)"></div>
<div style="top:209px;background:linear-gradient(90deg,#4e4e4e 0px,#585858 1px,#636363 7px,#6d6d6d 59px,#6c6c6c 66px,#7b7b7b 80px,#808080 100px,#707070 103px,#5c5c5c 105px,#505050 109px,#595959 117px,#6c6c6c 120px,#909090 122px,#a4a4a4 128px,#808080 132px,#7a7a7a 133px,#7e7e7e 139px,#858585 144px,#ababab 147px,#cdcdcd 149px,#e0e0e0 154px,#e1e1e1 177px,#d7d7d7 183px,#e8e8e8 195px,#ececec 205px,#dadada 210px,#d7d7d7 214px,#eaeaea 217px,#f5f5f5 239px,#ffffff 242px,#ffffff 301px,#f3f3f3 302px)"></div>
<div style="top:210px;background:linear-gradient(90deg,#474747 0px,#515151 1px,#5c5c5c 7px,#676767 59px,#676767 67px,#757575 80px,#7b7b7b 100px,#6b6b6b 103px,#575757 105px,#494949 109px,#515151 117px,#636363 120px,#858585 122px,#8f8f8f 124px,#9a9a9a 128px,#828282 131px,#6f6f6f 133px,#727272 139px,#787878 144px,#9b9b9b 147px,#bababa 149px,#cccccc 153px,#d1d1d1 157px,#d0d0d0 178px,#c7c7c7 183px,#d9d9d9 195px,#dcdcdc 205px,#cacaca 210px,#c7c7c7 214px,#dddddd 218px,#e5e5e5 239px,#f1f1f1 242px,#ffffff 278px,#ffffff 301px,#eaeaea 302px)"></div>
<div style="top:211px;background:linear-gradient(90deg,#424242 0px,#4b4b4b 1px,#575757 7px,#616161 59px,#616161 67px,#707070 80px,#747474 101px,#5e5e5e 104px,#4d4d4d 106px,#434343 110px,#4b4b4b 117px,#5b5b5b 120px,#7c7c7c 122px,#858585 123px,#929292 128px,#8e8e8e 129px,#656565 133px,#656565 139px,#6c6c6c 144px,#818181 146px,#adadad 149px,#b5b5b5 150px,#c3c3c3 155px,#c3c3c3 178px,#bababa 183px,#cccccc 196px,#cfcfcf 205px,#bdbdbd 210px,#bababa 214px,#c5c5c5 216px,#cfcfcf 218px,#d7d7d7 239px,#e3e3e3 242px,#f5f5f5 275px,#fbfbfb 301px,#e2e2e2 302px)"></div>
<div style="top:212px;background:linear-gradient(90deg,#3d3d3d 0px,#474747 1px,#515151 6px,#5d5d5d 59px,#5d5d5d 67px,#6b6b6b 80px,#707070 101px,#494949 106px,#3f3f3f 110px,#484848 118px,#545454 120px,#5f5f5f 121px,#737373 122px,#7f7f7f 123px,#8b8b8b 128px,#898989 129px,#6a6a6a 132px,#5d5d5d 133px,#5b5b5b 139px,#616161 144px,#686868 145px,#a1a1a1 149px,#ababab 150px,#b9b9b9 155px,#b9b9b9 178px,#b1b1b1 183px,#c1c1c1 197px,#c2c2c2 206px,#b4b4b4 210px,#b3b3b3 215px,#c4c4c4 218px,#cbcbcb 239px,#d8d8d8 242px,#e9e9e9 275px,#f0f0f0 301px,#dcdcdc 302px)"></div>
<div style="top:213px;background:linear-gradient(90deg,#393939 0px,#434343 1px,#4d4d4d 6px,#595959 59px,#595959 67px,#686868 80px,#6e6e6e 101px,#4f4f4f 105px,#464646 106px,#3b3b3b 110px,#434343 118px,#575757 121px,#6b6b6b 122px,#7a7a7a 123px,#858585 129px,#656565 132px,#585858 133px,#515151 137px,#585858 144px,#5c5c5c 145px,#a3a3a3 150px,#b2b2b2 156px,#b2b2b2 178px,#aaaaaa 184px,#b9b9b9 197px,#bababa 206px,#acacac 210px,#ababab 215px,#bcbcbc 218px,#c2c2c2 239px,#cfcfcf 242px,#e0e0e0 275px,#e7e7e7 301px,#d6d6d6 302px)"></div>
<div style="top:214px;background:linear-gradient(90deg,#363636 0px,#404040 1px,#4a4a4a 6px,#565656 59px,#565656 67px,#656565 80px,#6c6c6c 101px,#575757 104px,#434343 106px,#383838 110px,#3e3e3e 118px,#505050 121px,#767676 123px,#828282 129px,#545454 133px,#4e4e4e 134px,#4b4b4b 139px,#525252 145px,#9c9c9c 150px,#ababab 156px,#ababab 178px,#a4a4a4 184px,#b2b2b2 197px,#b4b4b4 206px,#a5a5a5 211px,#a4a4a4 215px,#b5b5b5 218px,#bababa 239px,#c7c7c7 242px,#d8d8d8 275px,#dfdfdf 301px,#d2d2d2 302px)"></div>
<div style="top:215px;background:linear-gradient(90deg,#343434 0px,#424242 2px,#4a4a4a 10px,#535353 60px,#535353 67px,#626262 80px,#696969 101px,#565656 104px,#424242 106px,#363636 110px,#3b3b3b 118px,#4b4b4b 121px,#717171 123px,#7f7f7f 129px,#5e5e5e 132px,#505050 133px,#484848 134px,#454545 139px,#4b4b4b 145px,#959595 150px,#a6a6a6 156px,#a6a6a6 178px,#9e9e9e 184px,#adadad 197px,#afafaf 206px,#a0a0a0 211px,#9e9e9e 215px,#b0b0b0 218px,#b5b5b5 239px,#c1c1c1 243px,#d2d2d2 275px,#d9d9d9 301px,#cecece 302px)"></div>
<div style="top:216px;background:linear-gradient(90deg,#323232 0px,#404040 2px,#484848 10px,#515151 60px,#515151 67px,#606060 81px,#676767 101px,#4c4c4c 105px,#424242 106px,#343434 111px,#383838 118px,#474747 121px,#6b6b6b 123px,#737373 125px,#7b7b7b 129px,#686868 131px,#444444 134px,#404040 139px,#454545 145px,#6f6f6f 148px,#8e8e8e 150px,#a0a0a0 155px,#a0a0a0 179px,#999999 184px,#a8a8a8 197px,#ababab 206px,#9b9b9b 211px,#999999 215px,#ababab 218px,#b0b0b0 239px,#bcbcbc 243px,#cdcdcd 275px,#d4d4d4 301px,#cacaca 302px)"></div>
<div style="top:217px;background:linear-gradient(90deg,#303030 0px,#3e3e3e 2px,#464646 10px,#505050 60px,#4f4f4f 67px,#5f5f5f 81px,#656565 101px,#545454 104px,#414141 106px,#333333 110px,#363636 118px,#444444 121px,#525252 122px,#666666 123px,#6e6e6e 124px,#787878 129px,#727272 130px,#414141 134px,#3d3d3d 140px,#414141 145px,#595959 147px,#888888 150px,#939393 152px,#9d9d9d 156px,#9d9d9d 179px,#959595 184px,#a4a4a4 197px,#a7a7a7 206px,#979797 211px,#959595 215px,#a7a7a7 218px,#acacac 239px,#b8b8b8 243px,#c7c7c7 274px,#cfcfcf 301px,#c8c8c8 302px)"></div>
<div style="top:218px;background:linear-gradient(90deg,#2f2f2f 0px,#3d3d3d 2px,#454545 10px,#4f4f4f 60px,#4d4d4d 67px,#5d5d5d 81px,#646464 101px,#5a5a5a 103px,#3b3b3b 107px,#313131 111px,#373737 119px,#414141 121px,#4e4e4e 122px,#616161 123px,#6c6c6c 124px,#767676 129px,#727272 130px,#3e3e3e 134px,#393939 140px,#3d3d3d 145px,#454545 146px,#838383 150px,#8c8c8c 151px,#9a9a9a 156px,#9a9a9a 179px,#929292 184px,#a1a1a1 197px,#a4a4a4 206px,#949494 211px,#929292 215px,#a3a3a3 218px,#acacac 240px,#b5b5b5 243px,#c3c3c3 274px,#cbcbcb 301px,#c5c5c5 302px)"></div>
<div style="top:219px;background:linear-gradient(90deg,#2e2e2e 0px,#3c3c3c 2px,#444444 10px,#4d4d4d 60px,#4e4e4e 68px,#5c5c5c 81px,#616161 102px,#3a3a3a 107px,#2f2f2f 111px,#353535 119px,#3f3f3f 121px,#494949 122px,#5d5d5d 123px,#6a6a6a 124px,#747474 129px,#717171 130px,#3d3d3d 134px,#353535 139px,#3a3a3a 145px,#3f3f3f 146px,#6e6e6e 149px,#7e7e7e 150px,#898989 151px,#979797 156px,#979797 179px,#8f8f8f 184px,#9e9e9e 197px,#a1a1a1 206px,#929292 211px,#8f8f8f 215px,#a0a0a0 218px,#a9a9a9 240px,#b3b3b3 243px,#c1c1c1 275px,#c8c8c8 301px,#c3c3c3 302px)"></div>
<div style="top:220px;background:linear-gradient(90deg,#2d2d2d 0px,#3b3b3b 2px,#434343 10px,#4d4d4d 60px,#4d4d4d 68px,#5b5b5b 81px,#616161 102px,#424242 106px,#393939 107px,#2e2e2e 111px,#333333 119px,#454545 122px,#686868 124px,#727272 129px,#717171 130px,#3d3d3d 134px,#343434 138px,#373737 145px,#3b3b3b 146px,#696969 149px,#878787 151px,#959595 157px,#959595 179px,#8d8d8d 184px,#9c9c9c 197px,#9f9f9f 206px,#909090 211px,#8d8d8d 215px,#9f9f9f 219px,#a6a6a6 240px,#b0b0b0 243px,#c4c4c4 296px,#c6c6c6 301px,#c1c1c1 302px)"></div>
<div style="top:221px;background:linear-gradient(90deg,#2c2c2c 0px,#3a3a3a 2px,#424242 11px,#4c4c4c 60px,#4c4c4c 68px,#5a5a5a 81px,#616161 102px,#424242 106px,#393939 107px,#2e2e2e 111px,#323232 119px,#424242 122px,#676767 124px,#717171 130px,#3d3d3d 134px,#353535 136px,#313131 140px,#373737 146px,#656565 149px,#848484 151px,#939393 157px,#939393 179px,#8c8c8c 185px,#9b9b9b 198px,#9b9b9b 207px,#8e8e8e 211px,#8b8b8b 215px,#9e9e9e 219px,#a4a4a4 240px,#aeaeae 243px,#c2c2c2 296px,#c3c3c3 301px,#c0c0c0 302px)"></div>
<div style="top:222px;background:linear-gradient(90deg,#2b2b2b 0px,#3a3a3a 2px,#424242 11px,#4b4b4b 60px,#4b4b4b 68px,#5a5a5a 81px,#616161 102px,#4d4d4d 105px,#393939 107px,#2d2d2d 111px,#303030 119px,#3f3f3f 122px,#656565 124px,#717171 130px,#3d3d3d 134px,#353535 135px,#2f2f2f 140px,#343434 146px,#616161 149px,#828282 151px,#929292 157px,#929292 179px,#8b8b8b 185px,#999999 198px,#9a9a9a 207px,#8c8c8c 211px,#8a8a8a 215px,#9c9c9c 219px,#a2a2a2 240px,#adadad 244px,#c0c0c0 294px,#c2c2c2 301px,#bfbfbf 302px)"></div>
<div style="top:223px;background:linear-gradient(90deg,#2b2b2b 0px,#393939 2px,#414141 11px,#4b4b4b 60px,#4a4a4a 68px,#595959 81px,#606060 102px,#444444 106px,#393939 107px,#2d2d2d 111px,#2f2f2f 119px,#3d3d3d 122px,#626262 124px,#6f6f6f 130px,#3d3d3d 134px,#343434 135px,#2e2e2e 140px,#323232 146px,#5d5d5d 149px,#7f7f7f 151px,#909090 157px,#919191 179px,#898989 185px,#989898 198px,#999999 207px,#8b8b8b 211px,#8b8b8b 216px,#9b9b9b 219px,#a1a1a1 240px,#acacac 244px,#bebebe 292px,#bebebe 302px)"></div>
<div style="top:224px;background:linear-gradient(90deg,#2a2a2a 0px,#393939 2px,#414141 11px,#4a4a4a 60px,#4a4a4a 68px,#595959 81px,#606060 102px,#444444 106px,#3a3a3a 107px,#2c2c2c 112px,#2f2f2f 119px,#3c3c3c 122px,#5f5f5f 124px,#676767 126px,#6e6e6e 130px,#4b4b4b 133px,#333333 135px,#2d2d2d 140px,#313131 146px,#5a5a5a 149px,#7d7d7d 151px,#8f8f8f 156px,#909090 179px,#888888 185px,#979797 198px,#989898 207px,#8a8a8a 211px,#898989 216px,#9a9a9a 219px,#a0a0a0 240px,#ababab 244px,#bdbdbd 292px,#bdbdbd 302px)"></div>
<div style="top:225px;background:linear-gradient(90deg,#2a2a2a 0px,#383838 2px,#404040 11px,#4a4a4a 61px,#494949 68px,#595959 82px,#5f5f5f 102px,#4e4e4e 105px,#3b3b3b 107px,#2c2c2c 112px,#2e2e2e 119px,#3b3b3b 122px,#5d5d5d 124px,#646464 125px,#6d6d6d 130px,#595959 132px,#323232 135px,#2c2c2c 140px,#2f2f2f 146px,#484848 148px,#7a7a7a 151px,#848484 153px,#8e8e8e 157px,#8e8e8e 180px,#878787 185px,#969696 198px,#979797 207px,#888888 212px,#888888 216px,#999999 219px,#9e9e9e 240px,#a9a9a9 243px,#bcbcbc 292px,#bcbcbc 302px)"></div>
<div style="top:226px;background:linear-gradient(90deg,#2a2a2a 0px,#383838 2px,#404040 11px,#4a4a4a 61px,#4a4a4a 69px,#585858 82px,#5f5f5f 102px,#4e4e4e 105px,#363636 108px,#2b2b2b 112px,#313131 120px,#3a3a3a 122px,#474747 123px,#5a5a5a 124px,#646464 125px,#6d6d6d 130px,#666666 131px,#323232 135px,#2b2b2b 141px,#2e2e2e 146px,#373737 147px,#545454 149px,#787878 151px,#808080 152px,#8e8e8e 157px,#8d8d8d 180px,#868686 185px,#959595 198px,#979797 207px,#888888 212px,#868686 216px,#989898 219px,#9d9d9d 240px,#a9a9a9 243px,#bbbbbb 292px,#bcbcbc 302px)"></div>
<div style="top:227px;background:linear-gradient(90deg,#2a2a2a 0px,#383838 2px,#404040 11px,#494949 61px,#494949 68px,#585858 82px,#5f5f5f 102px,#555555 104px,#363636 108px,#2b2b2b 112px,#303030 120px,#393939 122px,#454545 123px,#585858 124px,#636363 125px,#6c6c6c 130px,#676767 131px,#323232 135px,#2b2b2b 141px,#2e2e2e 146px,#353535 147px,#515151 149px,#767676 151px,#7f7f7f 152px,#8d8d8d 157px,#8c8c8c 180px,#858585 185px,#949494 198px,#969696 207px,#878787 212px,#858585 216px,#979797 219px,#9c9c9c 240px,#a8a8a8 243px,#bababa 292px,#bbbbbb 302px)"></div>
<div style="top:228px;background:linear-gradient(90deg,#292929 0px,#383838 2px,#404040 11px,#494949 61px,#484848 68px,#585858 82px,#5c5c5c 103px,#363636 108px,#2b2b2b 112px,#2f2f2f 120px,#393939 122px,#434343 123px,#565656 124px,#626262 125px,#6b6b6b 130px,#686868 131px,#333333 135px,#292929 140px,#2d2d2d 146px,#333333 147px,#616161 150px,#747474 151px,#7e7e7e 152px,#8c8c8c 157px,#8c8c8c 180px,#848484 185px,#949494 198px,#969696 207px,#878787 212px,#848484 216px,#979797 219px,#9c9c9c 240px,#a7a7a7 243px,#bababa 292px,#bbbbbb 302px)"></div>
<div style="top:229px;background:linear-gradient(90deg,#292929 0px,#373737 2px,#3f3f3f 11px,#494949 61px,#484848 68px,#585858 82px,#5d5d5d 103px,#363636 108px,#2b2b2b 112px,#2f2f2f 120px,#383838 122px,#414141 123px,#626262 125px,#6b6b6b 130px,#686868 131px,#333333 135px,#292929 140px,#2c2c2c 146px,#313131 147px,#5f5f5f 150px,#727272 151px,#7e7e7e 152px,#8c8c8c 158px,#8c8c8c 180px,#848484 185px,#939393 198px,#969696 207px,#868686 212px,#848484 216px,#969696 219px,#9b9b9b 240px,#a7a7a7 243px,#b9b9b9 292px,#bbbbbb 302px)"></div>
<div style="top:230px;background:linear-gradient(90deg,#292929 0px,#373737 2px,#3f3f3f 11px,#494949 61px,#484848 68px,#585858 82px,#5d5d5d 103px,#3f3f3f 107px,#363636 108px,#2b2b2b 113px,#2e2e2e 120px,#3f3f3f 123px,#626262 125px,#696969 131px,#343434 135px,#2b2b2b 138px,#2a2a2a 142px,#2f2f2f 147px,#5d5d5d 150px,#707070 151px,#7d7d7d 152px,#8c8c8c 158px,#8b8b8b 180px,#838383 185px,#939393 198px,#969696 207px,#868686 212px,#838383 216px,#959595 219px,#9b9b9b 240px,#a7a7a7 244px,#b9b9b9 292px,#bababa 302px)"></div>
<div style="top:231px;background:linear-gradient(90deg,#292929 0px,#373737 2px,#3f3f3f 11px,#494949 61px,#484848 68px,#575757 82px,#5e5e5e 103px,#3f3f3f 107px,#363636 108px,#2b2b2b 112px,#2d2d2d 120px,#3d3d3d 123px,#616161 125px,#6a6a6a 131px,#353535 135px,#2d2d2d 137px,#292929 141px,#2e2e2e 147px,#5b5b5b 150px,#7c7c7c 152px,#8b8b8b 158px,#8b8b8b 180px,#838383 185px,#929292 198px,#959595 207px,#868686 212px,#838383 216px,#959595 219px,#9a9a9a 240px,#a7a7a7 244px,#b9b9b9 293px,#bababa 302px)"></div>
<div style="top:232px;background:linear-gradient(90deg,#292929 0px,#373737 2px,#3f3f3f 11px,#494949 61px,#494949 69px,#575757 82px,#5e5e5e 103px,#404040 107px,#363636 108px,#2a2a2a 112px,#2d2d2d 120px,#3c3c3c 123px,#616161 125px,#6b6b6b 131px,#363636 135px,#2e2e2e 136px,#282828 141px,#2c2c2c 147px,#5a5a5a 150px,#7c7c7c 152px,#8b8b8b 158px,#8b8b8b 180px,#838383 185px,#929292 198px,#959595 207px,#858585 212px,#838383 216px,#949494 219px,#9a9a9a 240px,#a6a6a6 244px,#b9b9b9 293px,#bababa 302px)"></div>
<div style="top:233px;background:linear-gradient(90deg,#292929 0px,#373737 2px,#3f3f3f 11px,#494949 61px,#494949 69px,#575757 82px,#5e5e5e 103px,#4a4a4a 106px,#363636 108px,#2a2a2a 112px,#2d2d2d 120px,#3b3b3b 123px,#606060 125px,#6b6b6b 131px,#363636 135px,#2e2e2e 136px,#282828 141px,#2b2b2b 147px,#585858 150px,#7b7b7b 152px,#8b8b8b 158px,#8b8b8b 180px,#838383 185px,#929292 199px,#959595 207px,#858585 212px,#828282 216px,#949494 219px,#9a9a9a 240px,#a6a6a6 244px,#b8b8b8 293px,#bababa 302px)"></div>
<div style="top:234px;background:linear-gradient(90deg,#292929 0px,#373737 2px,#3f3f3f 11px,#494949 61px,#494949 69px,#575757 82px,#5e5e5e 103px,#414141 107px,#373737 108px,#2b2b2b 112px,#2c2c2c 120px,#3a3a3a 123px,#5f5f5f 125px,#6b6b6b 131px,#373737 135px,#2e2e2e 136px,#282828 141px,#2b2b2b 147px,#575757 150px,#7a7a7a 152px,#8b8b8b 158px,#8b8b8b 180px,#848484 186px,#929292 199px,#959595 207px,#858585 212px,#828282 216px,#939393 219px,#9a9a9a 240px,#a6a6a6 244px,#b8b8b8 293px,#bababa 302px)"></div>
<div style="top:235px;background:linear-gradient(90deg,#292929 0px,#373737 2px,#3f3f3f 11px,#494949 61px,#494949 69px,#575757 82px,#5e5e5e 103px,#424242 107px,#383838 108px,#2a2a2a 113px,#2c2c2c 120px,#3a3a3a 123px,#5e5e5e 125px,#6a6a6a 131px,#2e2e2e 136px,#272727 141px,#2b2b2b 147px,#565656 150px,#797979 152px,#8b8b8b 158px,#8b8b8b 180px,#838383 186px,#929292 199px,#959595 207px,#858585 212px,#828282 216px,#939393 219px,#9c9c9c 241px,#a6a6a6 244px,#b8b8b8 293px,#bababa 302px)"></div>
<div style="top:236px;background:linear-gradient(90deg,#292929 0px,#373737 2px,#3f3f3f 11px,#494949 61px,#484848 69px,#575757 82px,#5e5e5e 103px,#424242 107px,#383838 108px,#2a2a2a 113px,#2c2c2c 120px,#393939 123px,#5d5d5d 125px,#656565 128px,#6a6a6a 131px,#464646 134px,#2e2e2e 136px,#272727 141px,#2b2b2b 147px,#545454 150px,#787878 152px,#8a8a8a 158px,#8b8b8b 180px,#838383 186px,#929292 199px,#949494 207px,#858585 212px,#828282 216px,#939393 219px,#9c9c9c 241px,#a6a6a6 244px,#b8b8b8 293px,#b9b9b9 302px)"></div>
<div style="top:237px;background:linear-gradient(90deg,#292929 0px,#373737 2px,#3f3f3f 11px,#494949 61px,#484848 69px,#575757 82px,#5e5e5e 103px,#434343 107px,#393939 108px,#2a2a2a 113px,#2c2c2c 120px,#393939 123px,#5c5c5c 125px,#636363 127px,#6a6a6a 131px,#474747 134px,#2e2e2e 136px,#272727 141px,#2b2b2b 147px,#444444 149px,#777777 152px,#898989 157px,#8b8b8b 180px,#838383 186px,#929292 199px,#929292 208px,#858585 212px,#828282 216px,#959595 220px,#9c9c9c 241px,#a5a5a5 244px,#b8b8b8 293px,#b9b9b9 302px)"></div>
<div style="top:238px;background:linear-gradient(90deg,#292929 0px,#373737 2px,#3f3f3f 11px,#494949 61px,#484848 69px,#575757 82px,#5e5e5e 103px,#434343 107px,#343434 109px,#2a2a2a 113px,#2c2c2c 120px,#393939 123px,#5b5b5b 125px,#626262 126px,#6a6a6a 131px,#555555 133px,#2e2e2e 136px,#272727 141px,#2a2a2a 147px,#434343 149px,#767676 152px,#838383 155px,#8a8a8a 158px,#8b8b8b 180px,#838383 186px,#919191 199px,#929292 208px,#858585 212px,#828282 216px,#949494 220px,#9c9c9c 241px,#a5a5a5 244px,#b8b8b8 293px,#b9b9b9 302px)"></div>
<div style="top:239px;background:linear-gradient(90deg,#292929 0px,#373737 2px,#3f3f3f 11px,#494949 61px,#484848 69px,#575757 82px,#5e5e5e 103px,#434343 107px,#343434 109px,#2a2a2a 113px,#2c2c2c 120px,#393939 123px,#5a5a5a 125px,#616161 126px,#6a6a6a 131px,#555555 133px,#2e2e2e 136px,#272727 141px,#2a2a2a 147px,#424242 149px,#767676 152px,#808080 154px,#8a8a8a 158px,#8b8b8b 180px,#838383 186px,#919191 199px,#929292 208px,#858585 212px,#828282 216px,#949494 220px,#9c9c9c 241px,#a5a5a5 244px,#b8b8b8 293px,#b9b9b9 302px)"></div>
<div style="top:240px;background:linear-gradient(90deg,#292929 0px,#373737 2px,#3f3f3f 11px,#494949 61px,#484848 69px,#575757 82px,#5e5e5e 103px,#444444 107px,#343434 109px,#2a2a2a 113px,#2f2f2f 121px,#383838 123px,#464646 124px,#595959 125px,#616161 126px,#6a6a6a 131px,#626262 132px,#2e2e2e 136px,#272727 141px,#2a2a2a 147px,#333333 148px,#636363 151px,#757575 152px,#808080 154px,#8a8a8a 158px,#8b8b8b 180px,#838383 186px,#919191 199px,#929292 208px,#858585 212px,#828282 216px,#949494 220px,#9b9b9b 241px,#a5a5a5 244px,#b8b8b8 293px,#b9b9b9 302px)"></div>
<div style="top:241px;background:linear-gradient(90deg,#292929 0px,#373737 2px,#3f3f3f 11px,#494949 61px,#484848 69px,#575757 82px,#5e5e5e 103px,#4d4d4d 106px,#343434 109px,#2a2a2a 113px,#2f2f2f 121px,#383838 123px,#464646 124px,#595959 125px,#616161 126px,#6a6a6a 131px,#636363 132px,#2e2e2e 136px,#272727 142px,#2a2a2a 147px,#333333 148px,#505050 150px,#747474 152px,#7d7d7d 153px,#8a8a8a 158px,#8b8b8b 180px,#828282 186px,#919191 199px,#929292 208px,#848484 212px,#828282 216px,#949494 220px,#9b9b9b 241px,#a5a5a5 244px,#b7b7b7 293px,#b9b9b9 302px)"></div>
<div style="top:242px;background:linear-gradient(90deg,#292929 0px,#373737 2px,#3f3f3f 11px,#494949 61px,#484848 69px,#575757 82px,#5e5e5e 103px,#4d4d4d 106px,#343434 109px,#2a2a2a 113px,#2f2f2f 121px,#383838 123px,#454545 124px,#585858 125px,#616161 126px,#696969 131px,#636363 132px,#2e2e2e 136px,#272727 142px,#2a2a2a 147px,#323232 148px,#505050 150px,#747474 152px,#7c7c7c 153px,#8a8a8a 158px,#8b8b8b 180px,#828282 186px,#919191 199px,#929292 208px,#848484 212px,#828282 216px,#949494 220px,#9b9b9b 241px,#a5a5a5 244px,#b7b7b7 293px,#b9b9b9 302px)"></div>
<div style="top:243px;background:linear-gradient(90deg,#292929 0px,#373737 2px,#3f3f3f 11px,#494949 61px,#484848 69px,#575757 82px,#5e5e5e 103px,#4d4d4d 106px,#343434 109px,#2a2a2a 113px,#2f2f2f 121px,#383838 123px,#454545 124px,#585858 125px,#616161 126px,#696969 131px,#636363 132px,#2e2e2e 136px,#272727 142px,#2a2a2a 147px,#323232 148px,#4f4f4f 150px,#747474 152px,#7c7c7c 153px,#8a8a8a 158px,#898989 181px,#828282 186px,#919191 199px,#929292 208px,#848484 212px,#828282 216px,#949494 220px,#9b9b9b 241px,#a5a5a5 244px,#b7b7b7 293px,#b9b9b9 302px)"></div>
<div style="top:244px;background:linear-gradient(90deg,#292929 0px,#373737 2px,#3f3f3f 11px,#494949 61px,#484848 69px,#575757 82px,#5e5e5e 103px,#4d4d4d 106px,#343434 109px,#2a2a2a 113px,#2f2f2f 121px,#383838 123px,#444444 124px,#575757 125px,#616161 126px,#696969 131px,#636363 132px,#2e2e2e 136px,#272727 142px,#2a2a2a 147px,#323232 148px,#4f4f4f 150px,#737373 152px,#7c7c7c 153px,#8a8a8a 158px,#898989 181px,#828282 186px,#919191 199px,#929292 208px,#848484 212px,#828282 216px,#949494 220px,#9b9b9b 241px,#a5a5a5 244px,#b7b7b7 293px,#b9b9b9 302px)"></div>
<div style="top:245px;background:linear-gradient(90deg,#292929 0px,#373737 2px,#3f3f3f 11px,#494949 61px,#484848 69px,#575757 82px,#5e5e5e 103px,#4d4d4d 106px,#343434 109px,#2a2a2a 113px,#2e2e2e 121px,#383838 123px,#444444 124px,#575757 125px,#616161 126px,#696969 131px,#646464 132px,#2e2e2e 136px,#272727 142px,#2a2a2a 147px,#323232 148px,#4e4e4e 150px,#737373 152px,#7c7c7c 153px,#8a8a8a 158px,#898989 181px,#828282 186px,#919191 199px,#929292 208px,#848484 212px,#828282 216px,#949494 220px,#9b9b9b 241px,#a5a5a5 244px,#b7b7b7 293px,#b9b9b9 302px)"></div>
<div style="top:246px;background:linear-gradient(90deg,#292929 0px,#373737 2px,#3f3f3f 11px,#494949 61px,#484848 69px,#575757 82px,#5e5e5e 103px,#4d4d4d 106px,#353535 109px,#2a2a2a 113px,#2e2e2e 121px,#383838 123px,#444444 124px,#575757 125px,#616161 126px,#696969 131px,#646464 132px,#2e2e2e 136px,#272727 142px,#2a2a2a 147px,#313131 148px,#4e4e4e 150px,#737373 152px,#7c7c7c 153px,#8a8a8a 158px,#898989 181px,#828282 186px,#919191 199px,#929292 208px,#848484 212px,#828282 216px,#949494 220px,#9b9b9b 241px,#a5a5a5 244px,#b7b7b7 293px,#b9b9b9 302px)"></div>
<div style="top:247px;background:linear-gradient(90deg,#292929 0px,#373737 2px,#3f3f3f 11px,#494949 61px,#484848 69px,#575757 82px,#5e5e5e 103px,#4d4d4d 106px,#353535 109px,#2a2a2a 113px,#2e2e2e 121px,#383838 123px,#444444 124px,#575757 125px,#616161 126px,#696969 131px,#646464 132px,#2e2e2e 136px,#272727 142px,#2a2a2a 147px,#313131 148px,#4e4e4e 150px,#737373 152px,#7c7c7c 153px,#8a8a8a 158px,#898989 181px,#828282 186px,#919191 199px,#929292 208px,#848484 212px,#828282 216px,#949494 220px,#9b9b9b 241px,#a5a5a5 244px,#b7b7b7 293px,#b9b9b9 302px)"></div>
<div style="top:248px;background:linear-gradient(90deg,#292929 0px,#373737 2px,#3f3f3f 11px,#494949 61px,#484848 69px,#575757 82px,#5e5e5e 103px,#4d4d4d 106px,#353535 109px,#2a2a2a 113px,#2e2e2e 121px,#383838 123px,#444444 124px,#575757 125px,#616161 126px,#696969 131px,#646464 132px,#2e2e2e 136px,#272727 142px,#2a2a2a 147px,#313131 148px,#4e4e4e 150px,#737373 152px,#7c7c7c 153px,#8a8a8a 158px,#898989 181px,#828282 186px,#919191 199px,#929292 208px,#848484 212px,#828282 216px,#949494 220px,#9b9b9b 241px,#a5a5a5 244px,#b7b7b7 293px,#b9b9b9 302px)"></div>
<div style="top:249px;background:linear-gradient(90deg,#292929 0px,#373737 2px,#3f3f3f 11px,#494949 61px,#484848 69px,#575757 82px,#5e5e5e 103px,#4d4d4d 106px,#343434 109px,#2a2a2a 113px,#2e2e2e 121px,#383838 123px,#444444 124px,#575757 125px,#616161 126px,#696969 131px,#646464 132px,#2e2e2e 136px,#272727 142px,#2a2a2a 147px,#313131 148px,#4e4e4e 150px,#737373 152px,#7c7c7c 153px,#8a8a8a 158px,#898989 181px,#828282 186px,#919191 199px,#929292 208px,#848484 212px,#828282 216px,#949494 220px,#9b9b9b 241px,#a5a5a5 244px,#b7b7b7 293px,#b9b9b9 302px)"></div>
<div style="top:250px;background:linear-gradient(90deg,#292929 0px,#373737 2px,#3f3f3f 11px,#494949 61px,#484848 69px,#575757 82px,#5e5e5e 103px,#4d4d4d 106px,#343434 109px,#2a2a2a 113px,#2e2e2e 121px,#383838 123px,#444444 124px,#575757 125px,#616161 126px,#696969 131px,#636363 132px,#2e2e2e 136px,#272727 142px,#2a2a2a 147px,#313131 148px,#4e4e4e 150px,#737373 152px,#7c7c7c 153px,#8a8a8a 158px,#898989 181px,#828282 186px,#919191 199px,#929292 208px,#848484 212px,#828282 216px,#949494 220px,#9b9b9b 241px,#a5a5a5 244px,#b7b7b7 293px,#b9b9b9 302px)"></div>
<div style="top:251px;background:linear-gradient(90deg,#292929 0px,#373737 2px,#3f3f3f 11px,#494949 61px,#484848 69px,#575757 82px,#5e5e5e 103px,#4d4d4d 106px,#343434 109px,#2a2a2a 113px,#2e2e2e 121px,#383838 123px,#444444 124px,#575757 125px,#616161 126px,#696969 131px,#636363 132px,#2e2e2e 136px,#272727 142px,#2a2a2a 147px,#323232 148px,#4f4f4f 150px,#737373 152px,#7c7c7c 153px,#8a8a8a 158px,#898989 181px,#828282 186px,#919191 199px,#929292 208px,#848484 212px,#828282 216px,#949494 220px,#9b9b9b 241px,#a5a5a5 244px,#b7b7b7 293px,#b9b9b9 302px)"></div>
<div style="top:252px;background:linear-gradient(90deg,#292929 0px,#373737 2px,#3f3f3f 11px,#494949 61px,#484848 69px,#575757 82px,#5e5e5e 103px,#4d4d4d 106px,#343434 109px,#2a2a2a 113px,#2f2f2f 121px,#383838 123px,#444444 124px,#575757 125px,#616161 126px,#696969 131px,#636363 132px,#2e2e2e 136px,#272727 142px,#2a2a2a 147px,#323232 148px,#4f4f4f 150px,#737373 152px,#7c7c7c 153px,#8a8a8a 158px,#898989 181px,#828282 186px,#919191 199px,#929292 208px,#848484 212px,#828282 216px,#949494 220px,#9b9b9b 241px,#a5a5a5 244px,#b7b7b7 293px,#b9b9b9 302px)"></div>
<div style="top:253px;background:linear-gradient(90deg,#292929 0px,#373737 2px,#3f3f3f 11px,#494949 61px,#484848 69px,#575757 82px,#5e5e5e 103px,#4d4d4d 106px,#343434 109px,#2a2a2a 113px,#2f2f2f 121px,#383838 123px,#454545 124px,#585858 125px,#616161 126px,#696969 131px,#636363 132px,#2e2e2e 136px,#272727 142px,#2a2a2a 147px,#323232 148px,#4f4f4f 150px,#747474 152px,#7c7c7c 153px,#8a8a8a 158px,#8a8a8a 180px,#828282 186px,#919191 199px,#929292 208px,#848484 212px,#828282 216px,#949494 220px,#9b9b9b 241px,#a5a5a5 244px,#b7b7b7 293px,#b9b9b9 302px)"></div>
<div style="top:254px;background:linear-gradient(90deg,#292929 0px,#373737 2px,#3f3f3f 11px,#494949 61px,#484848 69px,#575757 82px,#5e5e5e 103px,#4d4d4d 106px,#343434 109px,#2a2a2a 113px,#2f2f2f 121px,#383838 123px,#454545 124px,#585858 125px,#616161 126px,#696969 131px,#626262 132px,#2e2e2e 136px,#262626 141px,#2a2a2a 147px,#333333 148px,#505050 150px,#747474 152px,#7c7c7c 153px,#8a8a8a 158px,#8a8a8a 180px,#828282 186px,#919191 199px,#929292 208px,#848484 212px,#828282 216px,#949494 220px,#9b9b9b 241px,#a5a5a5 244px,#b7b7b7 293px,#b9b9b9 302px)"></div>
<div style="top:255px;background:linear-gradient(90deg,#292929 0px,#373737 2px,#3f3f3f 11px,#494949 61px,#484848 69px,#575757 82px,#5e5e5e 103px,#444444 107px,#343434 109px,#2a2a2a 113px,#2f2f2f 121px,#383838 123px,#464646 124px,#595959 125px,#616161 126px,#696969 131px,#626262 132px,#2e2e2e 136px,#262626 141px,#2a2a2a 147px,#333333 148px,#636363 151px,#757575 152px,#7f7f7f 154px,#8a8a8a 158px,#8a8a8a 180px,#828282 186px,#919191 199px,#929292 208px,#848484 212px,#828282 216px,#949494 220px,#9b9b9b 241px,#a5a5a5 244px,#b7b7b7 293px,#b9b9b9 302px)"></div>
<div style="top:256px;background:linear-gradient(90deg,#292929 0px,#373737 2px,#3f3f3f 11px,#494949 61px,#484848 69px,#575757 82px,#5e5e5e 103px,#434343 107px,#343434 109px,#2a2a2a 113px,#2c2c2c 120px,#383838 123px,#5a5a5a 125px,#616161 126px,#696969 131px,#555555 133px,#2e2e2e 136px,#262626 141px,#2a2a2a 147px,#424242 149px,#757575 152px,#808080 154px,#8a8a8a 158px,#8a8a8a 180px,#828282 186px,#919191 199px,#919191 208px,#848484 212px,#818181 216px,#949494 220px,#9b9b9b 241px,#a5a5a5 244px,#b7b7b7 293px,#b9b9b9 302px)"></div>
<div style="top:257px;background:linear-gradient(90deg,#292929 0px,#373737 2px,#3f3f3f 11px,#494949 61px,#484848 69px,#575757 82px,#5e5e5e 103px,#434343 107px,#343434 109px,#2a2a2a 113px,#2c2c2c 120px,#393939 123px,#5a5a5a 125px,#616161 126px,#6a6a6a 131px,#545454 133px,#2e2e2e 136px,#262626 141px,#2a2a2a 147px,#434343 149px,#767676 152px,#838383 155px,#8a8a8a 158px,#8a8a8a 180px,#828282 186px,#919191 199px,#919191 208px,#848484 212px,#818181 216px,#949494 220px,#9b9b9b 241px,#a5a5a5 244px,#b7b7b7 293px,#b9b9b9 302px)"></div>
<div style="top:258px;background:linear-gradient(90deg,#292929 0px,#373737 2px,#3f3f3f 11px,#494949 61px,#484848 69px,#575757 82px,#5e5e5e 103px,#424242 107px,#383838 108px,#2a2a2a 113px,#2c2c2c 120px,#393939 123px,#5b5b5b 125px,#636363 127px,#6a6a6a 131px,#464646 134px,#2e2e2e 136px,#262626 141px,#2a2a2a 147px,#434343 149px,#777777 152px,#898989 157px,#8a8a8a 180px,#828282 186px,#919191 199px,#919191 208px,#848484 212px,#818181 216px,#949494 220px,#9b9b9b 241px,#a5a5a5 244px,#b7b7b7 293px,#b9b9b9 302px)"></div>
<div style="top:259px;background:linear-gradient(90deg,#292929 0px,#373737 2px,#3f3f3f 11px,#494949 61px,#484848 69px,#575757 82px,#5e5e5e 103px,#424242 107px,#383838 108px,#2a2a2a 113px,#2c2c2c 120px,#393939 123px,#5c5c5c 125px,#656565 128px,#6a6a6a 131px,#464646 134px,#2d2d2d 136px,#262626 141px,#2a2a2a 147px,#545454 150px,#777777 152px,#8a8a8a 158px,#8a8a8a 180px,#828282 186px,#919191 199px,#949494 207px,#848484 212px,#818181 216px,#929292 219px,#9c9c9c 241px,#a5a5a5 244px,#b7b7b7 293px,#b9b9b9 302px)"></div>
<div style="top:260px;background:linear-gradient(90deg,#292929 0px,#373737 2px,#3f3f3f 11px,#484848 61px,#484848 69px,#575757 82px,#5e5e5e 103px,#414141 107px,#373737 108px,#2a2a2a 113px,#2c2c2c 120px,#393939 123px,#5d5d5d 125px,#6a6a6a 131px,#2d2d2d 136px,#272727 141px,#2a2a2a 147px,#555555 150px,#787878 152px,#8a8a8a 158px,#8a8a8a 180px,#838383 186px,#919191 199px,#949494 207px,#848484 212px,#818181 216px,#929292 219px,#9c9c9c 241px,#a5a5a5 244px,#b7b7b7 293px,#b9b9b9 302px)"></div>
<div style="top:261px;background:linear-gradient(90deg,#292929 0px,#373737 2px,#3f3f3f 11px,#484848 61px,#484848 69px,#575757 82px,#5e5e5e 103px,#414141 107px,#373737 108px,#2a2a2a 112px,#2c2c2c 120px,#3a3a3a 123px,#5e5e5e 125px,#6a6a6a 131px,#363636 135px,#2d2d2d 136px,#272727 141px,#2a2a2a 147px,#565656 150px,#797979 152px,#8a8a8a 158px,#8a8a8a 180px,#838383 186px,#919191 199px,#949494 207px,#848484 212px,#818181 216px,#929292 219px,#999999 240px,#a5a5a5 244px,#b7b7b7 293px,#b9b9b9 302px)"></div>
<div style="top:262px;background:linear-gradient(90deg,#292929 0px,#373737 2px,#3f3f3f 11px,#484848 61px,#484848 69px,#575757 82px,#5e5e5e 103px,#4a4a4a 106px,#363636 108px,#2a2a2a 112px,#2c2c2c 120px,#3a3a3a 123px,#606060 125px,#6a6a6a 131px,#353535 135px,#2d2d2d 136px,#272727 141px,#2a2a2a 147px,#575757 150px,#7a7a7a 152px,#8a8a8a 158px,#8a8a8a 180px,#818181 185px,#919191 199px,#949494 207px,#848484 212px,#818181 216px,#939393 219px,#999999 240px,#a5a5a5 244px,#b7b7b7 293px,#b9b9b9 302px)"></div>
<div style="top:263px;background:linear-gradient(90deg,#292929 0px,#373737 2px,#3f3f3f 11px,#484848 61px,#494949 69px,#575757 82px,#5e5e5e 103px,#3f3f3f 107px,#363636 108px,#2a2a2a 112px,#2c2c2c 120px,#3b3b3b 123px,#606060 125px,#696969 131px,#343434 135px,#2d2d2d 136px,#272727 141px,#2b2b2b 147px,#585858 150px,#7b7b7b 152px,#8a8a8a 158px,#8a8a8a 180px,#818181 185px,#919191 198px,#949494 207px,#848484 212px,#818181 216px,#939393 219px,#999999 240px,#a5a5a5 244px,#b7b7b7 293px,#b9b9b9 302px)"></div>
<div style="top:264px;background:linear-gradient(90deg,#292929 0px,#373737 2px,#3f3f3f 11px,#484848 61px,#474747 68px,#575757 82px,#5d5d5d 103px,#3f3f3f 107px,#363636 108px,#2a2a2a 112px,#2d2d2d 120px,#3c3c3c 123px,#606060 125px,#686868 131px,#333333 135px,#2b2b2b 137px,#272727 141px,#2c2c2c 147px,#5a5a5a 150px,#7b7b7b 152px,#8a8a8a 158px,#8a8a8a 180px,#818181 185px,#919191 198px,#949494 207px,#848484 212px,#818181 216px,#939393 219px,#999999 240px,#a5a5a5 244px,#b7b7b7 293px,#b9b9b9 302px)"></div>
<div style="top:265px;background:linear-gradient(90deg,#292929 0px,#373737 2px,#3f3f3f 11px,#484848 61px,#474747 68px,#575757 82px,#5d5d5d 103px,#3e3e3e 107px,#353535 108px,#2a2a2a 113px,#2d2d2d 120px,#3e3e3e 123px,#606060 125px,#676767 131px,#323232 135px,#292929 138px,#272727 142px,#2d2d2d 147px,#5b5b5b 150px,#7b7b7b 152px,#8a8a8a 158px,#898989 180px,#818181 185px,#919191 198px,#949494 207px,#848484 212px,#818181 216px,#949494 219px,#999999 240px,#a5a5a5 244px,#b7b7b7 292px,#b9b9b9 302px)"></div>
<div style="top:266px;background:linear-gradient(90deg,#292929 0px,#373737 2px,#3f3f3f 11px,#484848 61px,#474747 68px,#575757 82px,#5c5c5c 103px,#353535 108px,#2a2a2a 112px,#2d2d2d 120px,#373737 122px,#3f3f3f 123px,#606060 125px,#696969 130px,#666666 131px,#313131 135px,#262626 140px,#2a2a2a 146px,#2e2e2e 147px,#5c5c5c 150px,#6f6f6f 151px,#7b7b7b 152px,#8a8a8a 158px,#898989 180px,#818181 185px,#919191 198px,#949494 207px,#848484 212px,#818181 216px,#949494 219px,#999999 240px,#a5a5a5 243px,#b7b7b7 292px,#b9b9b9 302px)"></div>
<div style="top:267px;background:linear-gradient(90deg,#292929 0px,#373737 2px,#3f3f3f 11px,#484848 61px,#484848 68px,#575757 82px,#5c5c5c 103px,#353535 108px,#2a2a2a 112px,#2e2e2e 120px,#373737 122px,#414141 123px,#545454 124px,#616161 125px,#696969 130px,#656565 131px,#303030 135px,#262626 140px,#2a2a2a 146px,#2f2f2f 147px,#5e5e5e 150px,#707070 151px,#7c7c7c 152px,#8a8a8a 157px,#898989 180px,#828282 185px,#919191 198px,#939393 207px,#848484 212px,#828282 216px,#949494 219px,#999999 240px,#a5a5a5 243px,#b7b7b7 292px,#b9b9b9 302px)"></div>
<div style="top:268px;background:linear-gradient(90deg,#292929 0px,#373737 2px,#3f3f3f 11px,#484848 61px,#484848 68px,#575757 82px,#5e5e5e 102px,#545454 104px,#353535 108px,#2a2a2a 112px,#2e2e2e 120px,#383838 122px,#434343 123px,#565656 124px,#616161 125px,#696969 130px,#646464 131px,#2e2e2e 135px,#272727 141px,#2a2a2a 146px,#313131 147px,#4e4e4e 149px,#727272 151px,#7c7c7c 152px,#8a8a8a 157px,#898989 180px,#828282 185px,#919191 198px,#939393 207px,#848484 212px,#828282 216px,#949494 219px,#999999 240px,#a5a5a5 243px,#b7b7b7 292px,#b9b9b9 302px)"></div>
<div style="top:269px;background:linear-gradient(90deg,#292929 0px,#373737 2px,#3f3f3f 11px,#484848 61px,#494949 69px,#575757 82px,#5e5e5e 102px,#4d4d4d 105px,#343434 108px,#2a2a2a 112px,#2f2f2f 120px,#383838 122px,#454545 123px,#585858 124px,#616161 125px,#696969 130px,#636363 131px,#2e2e2e 135px,#272727 141px,#2a2a2a 146px,#323232 147px,#4f4f4f 149px,#747474 151px,#7c7c7c 152px,#8a8a8a 157px,#898989 180px,#828282 185px,#919191 198px,#939393 207px,#848484 212px,#828282 216px,#949494 219px,#999999 240px,#a5a5a5 243px,#b7b7b7 292px,#b9b9b9 302px)"></div>
<div style="top:270px;background:linear-gradient(90deg,#292929 0px,#373737 2px,#3f3f3f 11px,#484848 61px,#484848 68px,#575757 82px,#5e5e5e 102px,#4c4c4c 105px,#393939 107px,#2a2a2a 112px,#2c2c2c 119px,#383838 122px,#5a5a5a 124px,#616161 125px,#696969 130px,#555555 132px,#2e2e2e 135px,#262626 140px,#2a2a2a 146px,#424242 148px,#757575 151px,#7f7f7f 153px,#8a8a8a 157px,#898989 180px,#828282 185px,#919191 198px,#939393 207px,#848484 212px,#838383 216px,#949494 219px,#9a9a9a 240px,#a5a5a5 243px,#b7b7b7 292px,#b9b9b9 302px)"></div>
<div style="top:271px;background:linear-gradient(90deg,#292929 0px,#373737 2px,#3f3f3f 11px,#494949 60px,#484848 68px,#575757 81px,#5e5e5e 102px,#424242 106px,#383838 107px,#2a2a2a 112px,#2c2c2c 119px,#393939 122px,#5c5c5c 124px,#636363 126px,#6a6a6a 130px,#464646 133px,#2e2e2e 135px,#262626 140px,#2a2a2a 146px,#535353 149px,#777777 151px,#898989 156px,#8a8a8a 179px,#828282 185px,#919191 198px,#929292 207px,#848484 211px,#838383 216px,#949494 219px,#9a9a9a 240px,#a5a5a5 244px,#b7b7b7 292px,#b9b9b9 302px)"></div>
<div style="top:272px;background:linear-gradient(90deg,#292929 0px,#373737 2px,#3f3f3f 11px,#494949 60px,#484848 68px,#575757 81px,#5e5e5e 102px,#414141 106px,#373737 107px,#2a2a2a 112px,#2c2c2c 119px,#393939 122px,#5e5e5e 124px,#6a6a6a 130px,#373737 134px,#2d2d2d 135px,#272727 140px,#2a2a2a 146px,#555555 149px,#797979 151px,#8a8a8a 157px,#8a8a8a 179px,#828282 185px,#919191 198px,#929292 207px,#848484 211px,#848484 216px,#949494 219px,#9a9a9a 240px,#a5a5a5 244px,#b7b7b7 292px,#b9b9b9 302px)"></div>
<div style="top:273px;background:linear-gradient(90deg,#292929 0px,#373737 2px,#3f3f3f 11px,#494949 60px,#484848 68px,#575757 81px,#5e5e5e 102px,#4a4a4a 105px,#363636 107px,#2a2a2a 111px,#2c2c2c 119px,#3a3a3a 122px,#606060 124px,#6a6a6a 130px,#353535 134px,#2d2d2d 135px,#272727 140px,#2a2a2a 146px,#575757 149px,#7a7a7a 151px,#8a8a8a 157px,#8a8a8a 179px,#828282 185px,#919191 198px,#929292 207px,#848484 211px,#828282 215px,#949494 219px,#9a9a9a 240px,#a5a5a5 244px,#b7b7b7 292px,#b9b9b9 302px)"></div>
<div style="top:274px;background:linear-gradient(90deg,#292929 0px,#373737 2px,#3f3f3f 11px,#494949 60px,#484848 68px,#575757 81px,#5e5e5e 102px,#3f3f3f 106px,#363636 107px,#2a2a2a 111px,#2d2d2d 119px,#3c3c3c 122px,#606060 124px,#696969 130px,#333333 134px,#2b2b2b 136px,#272727 140px,#2c2c2c 146px,#595959 149px,#7b7b7b 151px,#8a8a8a 157px,#8a8a8a 179px,#838383 185px,#919191 198px,#919191 207px,#848484 211px,#818181 215px,#949494 219px,#9b9b9b 240px,#a5a5a5 243px,#b7b7b7 292px,#b9b9b9 302px)"></div>
<div style="top:275px;background:linear-gradient(90deg,#292929 0px,#373737 2px,#3f3f3f 10px,#494949 60px,#484848 68px,#575757 81px,#5d5d5d 102px,#3e3e3e 106px,#353535 107px,#2a2a2a 112px,#2d2d2d 119px,#3f3f3f 122px,#606060 124px,#696969 129px,#676767 130px,#323232 134px,#272727 138px,#2a2a2a 145px,#2d2d2d 146px,#5c5c5c 149px,#6e6e6e 150px,#7b7b7b 151px,#8a8a8a 157px,#8a8a8a 179px,#818181 184px,#919191 197px,#949494 206px,#848484 211px,#818181 215px,#949494 219px,#9b9b9b 240px,#a5a5a5 243px,#b7b7b7 292px,#b9b9b9 302px)"></div>
<div style="top:276px;background:linear-gradient(90deg,#292929 0px,#373737 2px,#3f3f3f 10px,#484848 60px,#494949 68px,#575757 81px,#5c5c5c 102px,#353535 107px,#2a2a2a 111px,#2e2e2e 119px,#373737 121px,#414141 122px,#545454 123px,#616161 124px,#696969 129px,#656565 130px,#303030 134px,#262626 139px,#2a2a2a 145px,#2f2f2f 146px,#5e5e5e 149px,#707070 150px,#7c7c7c 151px,#8a8a8a 156px,#898989 179px,#818181 184px,#919191 197px,#949494 206px,#848484 211px,#818181 215px,#929292 218px,#9b9b9b 240px,#a5a5a5 243px,#b7b7b7 292px,#b9b9b9 302px)"></div>
<div style="top:277px;background:linear-gradient(90deg,#292929 0px,#373737 2px,#3f3f3f 10px,#484848 60px,#474747 67px,#575757 81px,#5e5e5e 101px,#545454 103px,#353535 107px,#2a2a2a 111px,#2e2e2e 119px,#383838 121px,#444444 122px,#575757 123px,#616161 124px,#696969 129px,#646464 130px,#2e2e2e 134px,#272727 140px,#2a2a2a 145px,#313131 146px,#4e4e4e 148px,#737373 150px,#7c7c7c 151px,#8a8a8a 156px,#898989 179px,#818181 184px,#919191 197px,#949494 206px,#848484 211px,#818181 215px,#939393 218px,#9c9c9c 240px,#a5a5a5 243px,#b7b7b7 292px,#b9b9b9 302px)"></div>
<div style="top:278px;background:linear-gradient(90deg,#292929 0px,#373737 2px,#3f3f3f 10px,#484848 60px,#474747 67px,#575757 81px,#5e5e5e 101px,#4d4d4d 104px,#3a3a3a 106px,#2b2b2b 110px,#2c2c2c 118px,#383838 121px,#464646 122px,#595959 123px,#616161 124px,#696969 129px,#626262 130px,#2e2e2e 134px,#262626 139px,#2a2a2a 145px,#424242 147px,#757575 150px,#7f7f7f 152px,#8a8a8a 156px,#898989 179px,#828282 184px,#919191 197px,#949494 206px,#848484 211px,#818181 215px,#939393 218px,#999999 239px,#a5a5a5 243px,#b7b7b7 292px,#b9b9b9 302px)"></div>
<div style="top:279px;background:linear-gradient(90deg,#292929 0px,#373737 2px,#3f3f3f 10px,#484848 60px,#484848 67px,#575757 81px,#5e5e5e 101px,#434343 105px,#383838 106px,#2a2a2a 111px,#2c2c2c 118px,#393939 121px,#5c5c5c 123px,#636363 125px,#6a6a6a 129px,#464646 132px,#2d2d2d 134px,#262626 139px,#2a2a2a 145px,#535353 148px,#777777 150px,#898989 155px,#898989 179px,#828282 184px,#919191 197px,#939393 206px,#848484 211px,#818181 215px,#949494 218px,#999999 239px,#a5a5a5 243px,#b7b7b7 292px,#b9b9b9 302px)"></div>
<div style="top:280px;background:linear-gradient(90deg,#292929 0px,#373737 2px,#3f3f3f 10px,#484848 60px,#484848 67px,#575757 80px,#5e5e5e 101px,#4b4b4b 104px,#373737 106px,#2a2a2a 110px,#2c2c2c 118px,#3a3a3a 121px,#5f5f5f 123px,#6a6a6a 129px,#363636 133px,#2d2d2d 134px,#272727 139px,#2a2a2a 145px,#565656 148px,#797979 150px,#8a8a8a 156px,#8a8a8a 178px,#828282 184px,#919191 197px,#939393 206px,#848484 211px,#828282 215px,#949494 218px,#999999 239px,#a5a5a5 243px,#b7b7b7 292px,#b9b9b9 302px)"></div>
<div style="top:281px;background:linear-gradient(90deg,#292929 0px,#323232 1px,#3d3d3d 6px,#494949 59px,#484848 67px,#575757 80px,#5e5e5e 101px,#4a4a4a 104px,#363636 106px,#2a2a2a 110px,#2c2c2c 118px,#3c3c3c 121px,#606060 123px,#696969 129px,#343434 133px,#2d2d2d 134px,#272727 139px,#2b2b2b 145px,#595959 148px,#7b7b7b 150px,#8a8a8a 156px,#8a8a8a 178px,#828282 184px,#919191 197px,#929292 206px,#848484 211px,#838383 215px,#949494 218px,#999999 239px,#a5a5a5 242px,#b7b7b7 292px,#b9b9b9 302px)"></div>
<div style="top:282px;background:linear-gradient(90deg,#292929 0px,#323232 1px,#3d3d3d 6px,#494949 59px,#484848 67px,#575757 80px,#5d5d5d 101px,#3e3e3e 105px,#353535 106px,#2a2a2a 111px,#2d2d2d 118px,#3f3f3f 121px,#606060 123px,#696969 128px,#676767 129px,#323232 133px,#272727 137px,#2a2a2a 144px,#2d2d2d 145px,#5c5c5c 148px,#6e6e6e 149px,#7b7b7b 150px,#8a8a8a 156px,#8a8a8a 178px,#838383 184px,#919191 197px,#929292 206px,#848484 210px,#838383 215px,#949494 218px,#999999 239px,#a5a5a5 242px,#b7b7b7 291px,#b9b9b9 302px)"></div>
<div style="top:283px;background:linear-gradient(90deg,#292929 0px,#323232 1px,#3d3d3d 6px,#494949 59px,#484848 67px,#575757 80px,#5c5c5c 101px,#353535 106px,#2a2a2a 110px,#2e2e2e 118px,#373737 120px,#424242 121px,#555555 122px,#616161 123px,#696969 128px,#656565 129px,#2f2f2f 133px,#262626 138px,#2a2a2a 144px,#303030 145px,#5f5f5f 148px,#717171 149px,#7c7c7c 150px,#8a8a8a 155px,#8a8a8a 178px,#818181 183px,#919191 197px,#929292 206px,#848484 210px,#848484 215px,#949494 218px,#9a9a9a 239px,#a5a5a5 243px,#b7b7b7 291px,#b9b9b9 302px)"></div>
<div style="top:284px;background:linear-gradient(90deg,#292929 0px,#323232 1px,#3e3e3e 7px,#494949 59px,#484848 67px,#575757 80px,#5e5e5e 100px,#545454 102px,#343434 106px,#2a2a2a 110px,#2f2f2f 118px,#383838 120px,#454545 121px,#585858 122px,#616161 123px,#696969 128px,#636363 129px,#2e2e2e 133px,#272727 139px,#2a2a2a 144px,#323232 145px,#4f4f4f 147px,#747474 149px,#7c7c7c 150px,#8a8a8a 155px,#898989 178px,#818181 183px,#919191 196px,#949494 205px,#848484 210px,#828282 214px,#949494 218px,#9a9a9a 239px,#a5a5a5 243px,#b7b7b7 291px,#b9b9b9 302px)"></div>
<div style="top:285px;background:linear-gradient(90deg,#292929 0px,#333333 1px,#3e3e3e 7px,#494949 59px,#494949 67px,#575757 80px,#5e5e5e 100px,#4c4c4c 103px,#393939 105px,#2a2a2a 110px,#2c2c2c 117px,#393939 120px,#5b5b5b 122px,#636363 124px,#6a6a6a 128px,#545454 130px,#2e2e2e 133px,#262626 138px,#2a2a2a 144px,#434343 146px,#767676 149px,#868686 153px,#8a8a8a 158px,#898989 178px,#828282 183px,#919191 196px,#949494 205px,#848484 210px,#818181 214px,#949494 218px,#9b9b9b 239px,#a5a5a5 242px,#b7b7b7 291px,#b9b9b9 302px)"></div>
<div style="top:303px;background:linear-gradient(90deg,#626262 0px,#707070 1px,#7c7c7c 7px,#808080 32px,#6e6e6e 37px,#6b6b6b 39px,#7a7a7a 41px,#929292 42px,#949494 44px,#919191 47px,#8c8c8c 48px,#5b5b5b 49px,#3f3f3f 50px,#313131 51px,#313131 55px,#383838 56px,#4e4e4e 57px,#717171 60px,#777777 68px,#757575 72px,#6d6d6d 75px,#727272 79px,#7a7a7a 81px,#717171 87px,#6e6e6e 89px,#838383 98px,#737373 100px,#5f5f5f 102px,#3c3c3c 104px,#373737 110px,#4b4b4b 111px,#5a5a5a 112px,#6d6d6d 114px,#585858 118px,#6f6f6f 119px,#999999 120px,#b3b3b3 122px,#b9b9b9 126px,#929292 128px,#5f5f5f 130px,#787878 134px,#939393 136px,#aaaaaa 138px,#ededed 140px,#ffffff 141px,#ffffff 180px,#fdfdfd 182px,#ffffff 203px,#f1f1f1 204px,#f5f5f5 207px,#ffffff 208px,#ffffff 302px)"></div>
<div style="top:304px;background:linear-gradient(90deg,#5e5e5e 0px,#6c6c6c 1px,#787878 7px,#7c7c7c 32px,#6b6b6b 37px,#686868 39px,#747474 41px,#929292 43px,#8d8d8d 48px,#434343 50px,#2f2f2f 51px,#2d2d2d 56px,#545454 58px,#717171 61px,#737373 72px,#6a6a6a 75px,#6d6d6d 79px,#767676 82px,#6c6c6c 88px,#696969 89px,#7f7f7f 98px,#7c7c7c 99px,#5d5d5d 102px,#3b3b3b 104px,#363636 106px,#333333 110px,#545454 112px,#686868 114px,#555555 118px,#636363 119px,#909090 120px,#aeaeae 122px,#b8b8b8 126px,#929292 128px,#5a5a5a 130px,#6e6e6e 134px,#898989 136px,#9b9b9b 138px,#dcdcdc 140px,#f7f7f7 141px,#ffffff 142px,#ffffff 179px,#f3f3f3 181px,#f8f8f8 184px,#ffffff 185px,#ffffff 202px,#f9f9f9 203px,#eaeaea 204px,#ededed 207px,#fafafa 208px,#ffffff 210px,#ffffff 302px)"></div>
<div style="top:305px;background:linear-gradient(90deg,#5b5b5b 0px,#696969 1px,#767676 7px,#787878 33px,#696969 37px,#676767 40px,#7a7a7a 42px,#909090 43px,#8b8b8b 48px,#767676 49px,#484848 50px,#343434 51px,#2a2a2a 52px,#2a2a2a 56px,#353535 57px,#4a4a4a 58px,#6d6d6d 61px,#717171 72px,#666666 75px,#696969 79px,#737373 82px,#6a6a6a 88px,#696969 90px,#7c7c7c 98px,#7b7b7b 99px,#5c5c5c 102px,#3b3b3b 104px,#343434 105px,#313131 110px,#3d3d3d 111px,#505050 112px,#636363 114px,#5e5e5e 116px,#545454 118px,#585858 119px,#858585 120px,#9c9c9c 121px,#a9a9a9 122px,#b4b4b4 126px,#a6a6a6 127px,#929292 128px,#5b5b5b 130px,#585858 131px,#676767 134px,#888888 137px,#909090 138px,#e8e8e8 141px,#ffffff 142px,#fdfdfd 159px,#fafafa 161px,#ffffff 164px,#fdfdfd 179px,#ebebeb 181px,#efefef 184px,#ffffff 186px,#ffffff 202px,#e5e5e5 204px,#e5e5e5 207px,#ffffff 209px,#ffffff 302px)"></div>
<div style="top:306px;background:linear-gradient(90deg,#595959 0px,#676767 1px,#727272 6px,#767676 33px,#676767 37px,#636363 40px,#727272 42px,#8c8c8c 43px,#898989 48px,#848484 49px,#555555 50px,#393939 51px,#282828 52px,#2a2a2a 57px,#505050 59px,#666666 61px,#6c6c6c 62px,#6f6f6f 72px,#646464 75px,#666666 79px,#717171 82px,#696969 88px,#656565 90px,#797979 98px,#7b7b7b 99px,#5c5c5c 102px,#3c3c3c 104px,#323232 105px,#2e2e2e 110px,#383838 111px,#4c4c4c 112px,#5f5f5f 114px,#626262 115px,#4e4e4e 119px,#7c7c7c 120px,#979797 121px,#a4a4a4 122px,#acacac 124px,#b1b1b1 126px,#a7a7a7 127px,#939393 128px,#5c5c5c 130px,#535353 131px,#606060 134px,#808080 137px,#888888 138px,#9f9f9f 139px,#dbdbdb 141px,#f4f4f4 142px,#fdfdfd 143px,#fdfdfd 156px,#f3f3f3 161px,#fefefe 166px,#ffffff 178px,#e5e5e5 181px,#e8e8e8 184px,#ffffff 187px,#fbfbfb 189px,#ffffff 194px,#fcfcfc 202px,#dfdfdf 204px,#dbdbdb 205px,#dedede 207px,#e8e8e8 208px,#f8f8f8 209px,#ffffff 210px,#ffffff 302px)"></div>
<div style="top:307px;background:linear-gradient(90deg,#575757 0px,#646464 1px,#717171 6px,#757575 33px,#646464 38px,#606060 40px,#6e6e6e 42px,#828282 43px,#8b8b8b 44px,#868686 49px,#3e3e3e 51px,#2a2a2a 52px,#262626 54px,#262626 57px,#353535 58px,#4a4a4a 59px,#6a6a6a 62px,#6c6c6c 73px,#626262 76px,#676767 80px,#6f6f6f 83px,#656565 89px,#626262 90px,#777777 98px,#787878 99px,#5c5c5c 102px,#303030 105px,#2c2c2c 110px,#323232 111px,#474747 112px,#5c5c5c 114px,#606060 115px,#4b4b4b 119px,#737373 120px,#939393 121px,#a0a0a0 122px,#a9a9a9 123px,#afafaf 126px,#a8a8a8 127px,#7c7c7c 129px,#5e5e5e 130px,#4f4f4f 131px,#5b5b5b 134px,#808080 138px,#939393 139px,#cecece 141px,#e7e7e7 142px,#f4f4f4 143px,#fdfdfd 150px,#f1f1f1 159px,#ececec 161px,#f8f8f8 166px,#fafafa 178px,#e0e0e0 181px,#e2e2e2 184px,#fafafa 187px,#f6f6f6 190px,#fefefe 193px,#ffffff 201px,#f8f8f8 202px,#dbdbdb 204px,#d5d5d5 205px,#d7d7d7 207px,#e0e0e0 208px,#ffffff 210px,#ffffff 302px)"></div>
<div style="top:308px;background:linear-gradient(90deg,#555555 0px,#636363 1px,#6d6d6d 5px,#747474 33px,#626262 38px,#5f5f5f 40px,#6b6b6b 42px,#8a8a8a 44px,#858585 49px,#717171 50px,#454545 51px,#2f2f2f 52px,#242424 53px,#242424 57px,#2b2b2b 58px,#404040 59px,#5a5a5a 61px,#666666 62px,#6b6b6b 73px,#606060 76px,#646464 80px,#6e6e6e 83px,#676767 88px,#616161 90px,#777777 99px,#727272 100px,#505050 103px,#2e2e2e 105px,#2b2b2b 110px,#2e2e2e 111px,#424242 112px,#595959 114px,#5f5f5f 115px,#4a4a4a 119px,#6a6a6a 120px,#8f8f8f 121px,#a7a7a7 123px,#adadad 126px,#aaaaaa 127px,#7e7e7e 129px,#616161 130px,#4c4c4c 131px,#5c5c5c 135px,#727272 137px,#797979 138px,#888888 139px,#c3c3c3 141px,#dcdcdc 142px,#ededed 143px,#f8f8f8 150px,#ececec 159px,#e7e7e7 161px,#f3f3f3 166px,#f4f4f4 178px,#dcdcdc 181px,#dbdbdb 183px,#e2e2e2 185px,#f3f3f3 187px,#f4f4f4 188px,#f0f0f0 190px,#f9f9f9 194px,#fafafa 201px,#f4f4f4 202px,#d7d7d7 204px,#cfcfcf 205px,#d2d2d2 207px,#d9d9d9 208px,#f8f8f8 210px,#ffffff 211px,#ffffff 225px,#f7f7f7 227px,#ffffff 234px,#ffffff 302px)"></div>
<div style="top:309px;background:linear-gradient(90deg,#545454 0px,#616161 1px,#6c6c6c 5px,#727272 33px,#616161 38px,#5f5f5f 41px,#6f6f6f 43px,#898989 44px,#848484 49px,#7f7f7f 50px,#535353 51px,#353535 52px,#232323 53px,#232323 58px,#4a4a4a 60px,#616161 62px,#676767 63px,#6b6b6b 73px,#5f5f5f 76px,#626262 80px,#6d6d6d 83px,#666666 88px,#616161 91px,#717171 97px,#757575 99px,#737373 100px,#515151 103px,#2d2d2d 105px,#292929 111px,#3d3d3d 112px,#565656 114px,#5f5f5f 115px,#4a4a4a 119px,#616161 120px,#8c8c8c 121px,#a6a6a6 123px,#acacac 127px,#818181 129px,#484848 131px,#565656 135px,#6d6d6d 137px,#7e7e7e 139px,#b9b9b9 141px,#e6e6e6 143px,#f2f2f2 150px,#e7e7e7 159px,#e2e2e2 161px,#eeeeee 166px,#efefef 178px,#e1e1e1 180px,#d8d8d8 181px,#d4d4d4 182px,#dcdcdc 185px,#ededed 187px,#f0f0f0 188px,#ebebeb 190px,#f4f4f4 194px,#f5f5f5 201px,#f1f1f1 202px,#d4d4d4 204px,#cacaca 205px,#cccccc 207px,#d2d2d2 208px,#f2f2f2 210px,#fefefe 211px,#fefefe 225px,#f2f2f2 227px,#f8f8f8 231px,#ffffff 233px,#ffffff 302px)"></div>
<div style="top:310px;background:linear-gradient(90deg,#535353 0px,#606060 1px,#696969 4px,#6e6e6e 11px,#707070 34px,#616161 38px,#5c5c5c 41px,#6c6c6c 43px,#838383 44px,#878787 45px,#838383 50px,#3a3a3a 52px,#262626 53px,#222222 55px,#222222 58px,#2e2e2e 59px,#444444 60px,#666666 63px,#6a6a6a 73px,#5e5e5e 77px,#636363 81px,#6b6b6b 83px,#636363 89px,#5f5f5f 91px,#6f6f6f 97px,#747474 100px,#525252 103px,#2f2f2f 105px,#282828 111px,#4a4a4a 113px,#5d5d5d 115px,#4a4a4a 119px,#595959 120px,#878787 121px,#a4a4a4 123px,#acacac 127px,#848484 129px,#474747 131px,#515151 135px,#676767 137px,#747474 139px,#b0b0b0 141px,#e0e0e0 143px,#ededed 151px,#e3e3e3 159px,#dfdfdf 162px,#e9e9e9 166px,#ebebeb 178px,#e7e7e7 179px,#d4d4d4 181px,#cfcfcf 182px,#d6d6d6 185px,#e7e7e7 187px,#ececec 188px,#e6e6e6 190px,#efefef 194px,#f1f1f1 201px,#eeeeee 202px,#c5c5c5 205px,#cccccc 208px,#f9f9f9 211px,#ffffff 224px,#ededed 227px,#f3f3f3 231px,#ffffff 233px,#ffffff 302px)"></div>
<div style="top:311px;background:linear-gradient(90deg,#525252 0px,#5f5f5f 1px,#686868 4px,#6d6d6d 10px,#707070 34px,#5f5f5f 39px,#5b5b5b 41px,#696969 43px,#878787 45px,#828282 50px,#6e6e6e 51px,#414141 52px,#2c2c2c 53px,#212121 54px,#212121 58px,#262626 59px,#3c3c3c 60px,#575757 62px,#636363 63px,#676767 74px,#5d5d5d 77px,#616161 81px,#6a6a6a 84px,#636363 89px,#5d5d5d 91px,#727272 99px,#747474 100px,#535353 103px,#313131 105px,#2b2b2b 106px,#272727 111px,#474747 113px,#5b5b5b 115px,#505050 118px,#4a4a4a 119px,#525252 120px,#7f7f7f 121px,#939393 122px,#a1a1a1 123px,#ababab 127px,#868686 129px,#494949 131px,#464646 132px,#4d4d4d 135px,#696969 138px,#6f6f6f 139px,#a8a8a8 141px,#d8d8d8 143px,#e3e3e3 147px,#e8e8e8 151px,#dfdfdf 159px,#dadada 162px,#e5e5e5 167px,#e7e7e7 178px,#e4e4e4 179px,#cbcbcb 182px,#d1d1d1 185px,#e8e8e8 188px,#e2e2e2 190px,#ebebeb 194px,#ebebeb 202px,#c1c1c1 205px,#c6c6c6 208px,#f5f5f5 211px,#fdfdfd 224px,#e9e9e9 227px,#efefef 231px,#ffffff 234px,#ffffff 302px)"></div>
<div style="top:312px;background:linear-gradient(90deg,#515151 0px,#5e5e5e 1px,#676767 4px,#6d6d6d 10px,#707070 34px,#5e5e5e 39px,#5b5b5b 41px,#666666 43px,#727272 44px,#868686 45px,#828282 50px,#7a7a7a 51px,#4e4e4e 52px,#313131 53px,#202020 54px,#202020 59px,#474747 61px,#5e5e5e 63px,#646464 64px,#676767 74px,#5c5c5c 77px,#606060 81px,#6a6a6a 84px,#636363 89px,#5d5d5d 91px,#737373 100px,#545454 103px,#323232 105px,#2a2a2a 106px,#272727 111px,#323232 112px,#454545 113px,#585858 115px,#595959 116px,#4a4a4a 119px,#4a4a4a 120px,#787878 121px,#919191 122px,#9e9e9e 123px,#a5a5a5 125px,#aaaaaa 127px,#9d9d9d 128px,#878787 129px,#4c4c4c 131px,#444444 132px,#4a4a4a 135px,#656565 138px,#6b6b6b 139px,#828282 140px,#b8b8b8 142px,#d0d0d0 143px,#d8d8d8 144px,#e5e5e5 151px,#dcdcdc 159px,#d6d6d6 162px,#e1e1e1 167px,#e1e1e1 179px,#c7c7c7 182px,#cccccc 185px,#e5e5e5 188px,#dddddd 190px,#e7e7e7 194px,#e9e9e9 202px,#bdbdbd 205px,#c1c1c1 208px,#f0f0f0 211px,#f9f9f9 224px,#e6e6e6 227px,#ebebeb 231px,#fcfcfc 234px,#ffffff 290px,#fbfbfb 294px,#ffffff 298px,#ffffff 302px)"></div>
<div style="top:313px;background:linear-gradient(90deg,#505050 0px,#5d5d5d 1px,#676767 4px,#6c6c6c 10px,#6f6f6f 34px,#5e5e5e 39px,#5c5c5c 42px,#6b6b6b 44px,#868686 45px,#808080 51px,#373737 53px,#232323 54px,#202020 59px,#2d2d2d 60px,#434343 61px,#646464 64px,#686868 74px,#5c5c5c 77px,#5e5e5e 81px,#6a6a6a 84px,#636363 89px,#5d5d5d 92px,#6e6e6e 98px,#727272 100px,#6c6c6c 101px,#464646 104px,#343434 105px,#292929 106px,#262626 111px,#2f2f2f 112px,#434343 113px,#575757 115px,#595959 116px,#444444 120px,#727272 121px,#8e8e8e 122px,#9c9c9c 123px,#a3a3a3 124px,#a9a9a9 127px,#9f9f9f 128px,#6f6f6f 130px,#4f4f4f 131px,#424242 132px,#474747 135px,#666666 139px,#7a7a7a 140px,#b1b1b1 142px,#c8c8c8 143px,#d4d4d4 144px,#e2e2e2 151px,#d6d6d6 160px,#d2d2d2 162px,#dedede 167px,#dfdfdf 179px,#c4c4c4 182px,#c8c8c8 185px,#e2e2e2 188px,#dadada 190px,#e4e4e4 194px,#e6e6e6 202px,#bbbbbb 205px,#bebebe 208px,#ebebeb 211px,#f6f6f6 224px,#e3e3e3 227px,#e7e7e7 231px,#f8f8f8 234px,#ffffff 283px,#fefefe 292px,#f7f7f7 294px,#ffffff 297px,#ffffff 302px)"></div>
<div style="top:314px;background:linear-gradient(90deg,#505050 0px,#5d5d5d 1px,#646464 3px,#6b6b6b 9px,#6d6d6d 35px,#5e5e5e 39px,#5a5a5a 42px,#696969 44px,#7f7f7f 45px,#858585 46px,#808080 51px,#686868 52px,#3c3c3c 53px,#282828 54px,#1f1f1f 55px,#1f1f1f 59px,#262626 60px,#3c3c3c 61px,#636363 64px,#676767 74px,#5c5c5c 77px,#5d5d5d 81px,#696969 84px,#606060 90px,#5c5c5c 92px,#6d6d6d 98px,#727272 100px,#6e6e6e 101px,#484848 104px,#363636 105px,#292929 106px,#262626 111px,#2c2c2c 112px,#404040 113px,#555555 115px,#5a5a5a 116px,#444444 120px,#6b6b6b 121px,#8c8c8c 122px,#a3a3a3 124px,#a8a8a8 127px,#a1a1a1 128px,#727272 130px,#525252 131px,#404040 132px,#454545 135px,#4a4a4a 136px,#636363 139px,#737373 140px,#ababab 142px,#c1c1c1 143px,#d0d0d0 144px,#dfdfdf 151px,#d3d3d3 160px,#cfcfcf 162px,#dbdbdb 167px,#dddddd 179px,#c1c1c1 182px,#c5c5c5 185px,#dedede 188px,#d7d7d7 190px,#e1e1e1 194px,#e3e3e3 202px,#bababa 205px,#bbbbbb 208px,#e7e7e7 211px,#ececec 214px,#f2f2f2 224px,#e1e1e1 227px,#e4e4e4 231px,#f7f7f7 235px,#fbfbfb 292px,#f4f4f4 294px,#fdfdfd 298px,#ffffff 302px)"></div>
<div style="top:315px;background:linear-gradient(90deg,#4f4f4f 0px,#5c5c5c 1px,#646464 3px,#6b6b6b 9px,#6d6d6d 35px,#5c5c5c 40px,#595959 42px,#676767 44px,#858585 46px,#808080 51px,#737373 52px,#474747 53px,#2d2d2d 54px,#1f1f1f 55px,#1f1f1f 60px,#474747 62px,#5f5f5f 64px,#646464 67px,#656565 75px,#5b5b5b 78px,#5f5f5f 82px,#686868 85px,#616161 90px,#5b5b5b 92px,#6d6d6d 98px,#717171 100px,#6f6f6f 101px,#4a4a4a 104px,#292929 106px,#252525 111px,#292929 112px,#3d3d3d 113px,#535353 115px,#5a5a5a 116px,#454545 120px,#8a8a8a 122px,#a2a2a2 124px,#a7a7a7 127px,#a3a3a3 128px,#757575 130px,#555555 131px,#3e3e3e 132px,#474747 136px,#595959 138px,#5f5f5f 139px,#6c6c6c 140px,#a5a5a5 142px,#bbbbbb 143px,#cccccc 144px,#dcdcdc 151px,#d3d3d3 159px,#cccccc 162px,#d8d8d8 167px,#dadada 179px,#bfbfbf 182px,#c2c2c2 185px,#dadada 188px,#d5d5d5 190px,#dedede 194px,#e0e0e0 202px,#c7c7c7 204px,#b8b8b8 205px,#b7b7b7 207px,#b8b8b8 208px,#d3d3d3 210px,#e3e3e3 211px,#e9e9e9 213px,#f0f0f0 224px,#dfdfdf 227px,#e0e0e0 230px,#ebebeb 233px,#f4f4f4 235px,#f8f8f8 292px,#f1f1f1 294px,#fbfbfb 298px,#fcfcfc 302px)"></div>
<div style="top:316px;background:linear-gradient(90deg,#4f4f4f 0px,#5c5c5c 1px,#636363 3px,#6b6b6b 9px,#6e6e6e 35px,#5c5c5c 40px,#595959 42px,#656565 44px,#717171 45px,#858585 46px,#7f7f7f 52px,#535353 53px,#323232 54px,#1e1e1e 55px,#1e1e1e 60px,#444444 62px,#5c5c5c 64px,#636363 65px,#656565 75px,#5b5b5b 78px,#5e5e5e 82px,#686868 85px,#616161 90px,#5b5b5b 92px,#707070 100px,#707070 101px,#4c4c4c 104px,#282828 106px,#262626 112px,#3a3a3a 113px,#525252 115px,#5a5a5a 116px,#454545 120px,#5f5f5f 121px,#888888 122px,#a2a2a2 124px,#a5a5a5 128px,#797979 130px,#3d3d3d 132px,#434343 136px,#565656 138px,#666666 140px,#9f9f9f 142px,#c9c9c9 144px,#d9d9d9 151px,#cfcfcf 160px,#cacaca 162px,#d5d5d5 167px,#d7d7d7 179px,#bebebe 182px,#bfbfbf 185px,#d7d7d7 188px,#d4d4d4 191px,#dbdbdb 194px,#dddddd 202px,#d4d4d4 203px,#b7b7b7 205px,#b3b3b3 206px,#b5b5b5 208px,#bfbfbf 209px,#dfdfdf 211px,#e6e6e6 212px,#ededed 224px,#dadada 228px,#e2e2e2 232px,#f1f1f1 235px,#f6f6f6 292px,#eeeeee 294px,#f8f8f8 298px,#f9f9f9 302px)"></div>
<div style="top:317px;background:linear-gradient(90deg,#4f4f4f 0px,#5c5c5c 1px,#636363 3px,#6a6a6a 9px,#6e6e6e 35px,#5c5c5c 40px,#5b5b5b 43px,#6a6a6a 45px,#858585 46px,#7f7f7f 52px,#5e5e5e 53px,#373737 54px,#232323 55px,#1e1e1e 57px,#1e1e1e 60px,#292929 61px,#404040 62px,#626262 65px,#666666 75px,#5a5a5a 78px,#5d5d5d 82px,#686868 85px,#616161 90px,#5b5b5b 92px,#717171 101px,#4d4d4d 104px,#292929 106px,#242424 112px,#474747 114px,#5a5a5a 116px,#464646 120px,#595959 121px,#868686 122px,#a1a1a1 124px,#a8a8a8 128px,#7c7c7c 130px,#3c3c3c 132px,#404040 136px,#545454 138px,#606060 140px,#9a9a9a 142px,#c6c6c6 144px,#d7d7d7 151px,#cdcdcd 160px,#c8c8c8 162px,#d3d3d3 167px,#d5d5d5 179px,#bcbcbc 182px,#bdbdbd 185px,#d4d4d4 188px,#d1d1d1 191px,#d9d9d9 195px,#dbdbdb 202px,#d3d3d3 203px,#b6b6b6 205px,#b1b1b1 206px,#b3b3b3 208px,#bcbcbc 209px,#dbdbdb 211px,#e3e3e3 212px,#ebebeb 224px,#e1e1e1 226px,#d8d8d8 228px,#e0e0e0 232px,#efefef 235px,#f4f4f4 292px,#ececec 294px,#f6f6f6 298px,#f7f7f7 302px)"></div>
<div style="top:318px;background:linear-gradient(90deg,#4e4e4e 0px,#5b5b5b 1px,#636363 3px,#6a6a6a 9px,#6e6e6e 35px,#5c5c5c 40px,#595959 43px,#686868 45px,#808080 46px,#838383 48px,#7f7f7f 52px,#696969 53px,#3c3c3c 54px,#282828 55px,#1e1e1e 56px,#1e1e1e 60px,#242424 61px,#3a3a3a 62px,#626262 65px,#666666 75px,#5a5a5a 78px,#5c5c5c 82px,#686868 85px,#5f5f5f 91px,#5c5c5c 93px,#6f6f6f 100px,#717171 101px,#4e4e4e 104px,#2b2b2b 106px,#242424 112px,#454545 114px,#595959 116px,#464646 120px,#545454 121px,#818181 122px,#a0a0a0 124px,#a7a7a7 128px,#7e7e7e 130px,#3e3e3e 132px,#3e3e3e 136px,#565656 139px,#5b5b5b 140px,#949494 142px,#c2c2c2 144px,#d4d4d4 151px,#cbcbcb 160px,#c7c7c7 163px,#d1d1d1 167px,#d3d3d3 179px,#c4c4c4 181px,#bbbbbb 182px,#b9b9b9 184px,#c0c0c0 186px,#d1d1d1 188px,#d3d3d3 189px,#cfcfcf 191px,#d7d7d7 195px,#d9d9d9 202px,#d2d2d2 203px,#b5b5b5 205px,#aeaeae 206px,#b1b1b1 208px,#b8b8b8 209px,#d8d8d8 211px,#e1e1e1 212px,#e9e9e9 224px,#e0e0e0 226px,#d5d5d5 228px,#dddddd 232px,#ededed 235px,#f2f2f2 292px,#e9e9e9 294px,#f3f3f3 298px,#f5f5f5 302px)"></div>
<div style="top:319px;background:linear-gradient(90deg,#4e4e4e 0px,#5b5b5b 1px,#636363 3px,#6a6a6a 9px,#6b6b6b 36px,#5d5d5d 40px,#585858 43px,#676767 45px,#7a7a7a 46px,#848484 47px,#7f7f7f 52px,#737373 53px,#474747 54px,#2d2d2d 55px,#1e1e1e 56px,#1e1e1e 61px,#474747 63px,#5f5f5f 65px,#666666 75px,#5a5a5a 79px,#5f5f5f 83px,#676767 85px,#626262 90px,#5b5b5b 93px,#6d6d6d 99px,#717171 101px,#5c5c5c 103px,#3f3f3f 105px,#2d2d2d 106px,#272727 108px,#242424 112px,#444444 114px,#575757 116px,#4d4d4d 119px,#474747 120px,#4e4e4e 121px,#7c7c7c 122px,#909090 123px,#9e9e9e 124px,#a7a7a7 128px,#969696 129px,#808080 130px,#404040 132px,#3a3a3a 133px,#3d3d3d 136px,#545454 139px,#595959 140px,#a7a7a7 143px,#bdbdbd 144px,#c6c6c6 146px,#d2d2d2 152px,#c9c9c9 160px,#c5c5c5 163px,#cfcfcf 167px,#d1d1d1 179px,#c3c3c3 181px,#bababa 182px,#b6b6b6 183px,#bdbdbd 186px,#cecece 188px,#d1d1d1 189px,#cccccc 191px,#d5d5d5 195px,#d7d7d7 202px,#d1d1d1 203px,#b5b5b5 205px,#adadad 206px,#afafaf 208px,#b5b5b5 209px,#d5d5d5 211px,#dfdfdf 212px,#e5e5e5 225px,#d3d3d3 228px,#dbdbdb 232px,#ebebeb 235px,#f1f1f1 292px,#e7e7e7 294px,#f2f2f2 298px,#f3f3f3 302px)"></div>
<div style="top:320px;background:linear-gradient(90deg,#4e4e4e 0px,#5b5b5b 1px,#626262 3px,#6a6a6a 9px,#6c6c6c 36px,#5b5b5b 41px,#585858 43px,#656565 45px,#848484 47px,#7d7d7d 53px,#515151 54px,#313131 55px,#1e1e1e 56px,#1e1e1e 61px,#444444 63px,#5d5d5d 65px,#626262 67px,#636363 76px,#5a5a5a 79px,#5e5e5e 83px,#676767 86px,#5f5f5f 91px,#5a5a5a 93px,#6c6c6c 99px,#707070 101px,#6a6a6a 102px,#414141 105px,#2e2e2e 106px,#272727 107px,#242424 112px,#303030 113px,#434343 114px,#565656 116px,#575757 117px,#474747 120px,#494949 121px,#777777 122px,#8f8f8f 123px,#9c9c9c 124px,#a3a3a3 126px,#a6a6a6 128px,#989898 129px,#818181 130px,#434343 132px,#393939 133px,#3b3b3b 136px,#575757 140px,#6e6e6e 141px,#a3a3a3 143px,#b9b9b9 144px,#c2c2c2 145px,#d1d1d1 152px,#c7c7c7 160px,#c3c3c3 163px,#cdcdcd 167px,#cfcfcf 179px,#cbcbcb 180px,#b9b9b9 182px,#b4b4b4 183px,#bbbbbb 186px,#cccccc 188px,#d0d0d0 189px,#cacaca 191px,#d4d4d4 195px,#d5d5d5 202px,#d1d1d1 203px,#b4b4b4 205px,#ababab 206px,#adadad 208px,#b3b3b3 209px,#d2d2d2 211px,#dddddd 212px,#e4e4e4 225px,#d2d2d2 228px,#d9d9d9 232px,#e9e9e9 235px,#efefef 292px,#e5e5e5 294px,#f0f0f0 298px,#f1f1f1 302px)"></div>
<div style="top:321px;background:linear-gradient(90deg,#4e4e4e 0px,#5a5a5a 1px,#626262 3px,#6a6a6a 9px,#6c6c6c 36px,#5b5b5b 41px,#585858 43px,#636363 45px,#6e6e6e 46px,#848484 47px,#7e7e7e 53px,#353535 55px,#212121 56px,#1e1e1e 58px,#1e1e1e 61px,#2b2b2b 62px,#424242 63px,#5a5a5a 65px,#626262 66px,#646464 76px,#5a5a5a 79px,#5d5d5d 83px,#676767 86px,#606060 91px,#5a5a5a 93px,#6c6c6c 99px,#707070 101px,#6b6b6b 102px,#424242 105px,#303030 106px,#272727 107px,#242424 112px,#2e2e2e 113px,#424242 114px,#555555 116px,#575757 117px,#444444 121px,#737373 122px,#8d8d8d 123px,#9b9b9b 124px,#a1a1a1 125px,#a6a6a6 128px,#9a9a9a 129px,#838383 130px,#686868 131px,#464646 132px,#393939 133px,#3a3a3a 136px,#555555 140px,#696969 141px,#9e9e9e 143px,#b5b5b5 144px,#c0c0c0 145px,#cfcfcf 152px,#c6c6c6 160px,#c1c1c1 163px,#cccccc 168px,#cecece 179px,#cacaca 180px,#b3b3b3 183px,#b9b9b9 186px,#cecece 189px,#c9c9c9 191px,#d2d2d2 195px,#d3d3d3 202px,#d0d0d0 203px,#b3b3b3 205px,#a9a9a9 206px,#b0b0b0 209px,#dcdcdc 212px,#e2e2e2 225px,#d0d0d0 228px,#d7d7d7 232px,#e8e8e8 235px,#eeeeee 292px,#e4e4e4 294px,#eeeeee 298px,#f0f0f0 302px)"></div>
<div style="top:322px;background:linear-gradient(90deg,#4e4e4e 0px,#5a5a5a 1px,#626262 3px,#6a6a6a 9px,#6d6d6d 36px,#5b5b5b 41px,#5a5a5a 44px,#696969 46px,#848484 47px,#7f7f7f 53px,#646464 54px,#393939 55px,#252525 56px,#1d1d1d 57px,#1d1d1d 61px,#262626 62px,#3d3d3d 63px,#585858 65px,#626262 66px,#656565 76px,#5a5a5a 79px,#5c5c5c 83px,#676767 86px,#606060 91px,#5a5a5a 93px,#707070 101px,#6c6c6c 102px,#444444 105px,#323232 106px,#272727 107px,#242424 112px,#2c2c2c 113px,#404040 114px,#545454 116px,#575757 117px,#424242 121px,#6e6e6e 122px,#8c8c8c 123px,#999999 124px,#a1a1a1 125px,#a5a5a5 128px,#9b9b9b 129px,#6a6a6a 131px,#494949 132px,#383838 133px,#393939 136px,#535353 140px,#646464 141px,#9b9b9b 143px,#b1b1b1 144px,#bebebe 145px,#cecece 152px,#c5c5c5 160px,#bfbfbf 163px,#cacaca 168px,#cacaca 180px,#b1b1b1 183px,#b7b7b7 186px,#cdcdcd 189px,#c7c7c7 191px,#d0d0d0 195px,#cfcfcf 203px,#a8a8a8 206px,#aeaeae 209px,#dadada 212px,#e1e1e1 225px,#cecece 228px,#d5d5d5 232px,#e6e6e6 235px,#ececec 292px,#e2e2e2 294px,#ededed 298px,#eeeeee 302px)"></div>
<div style="top:323px;background:linear-gradient(90deg,#4e4e4e 0px,#5a5a5a 1px,#626262 3px,#6a6a6a 9px,#6d6d6d 36px,#5c5c5c 41px,#595959 44px,#686868 46px,#7f7f7f 47px,#828282 49px,#7f7f7f 53px,#6d6d6d 54px,#404040 55px,#292929 56px,#1d1d1d 57px,#1d1d1d 61px,#222222 62px,#393939 63px,#565656 65px,#616161 66px,#656565 76px,#595959 79px,#5c5c5c 83px,#676767 86px,#616161 91px,#5a5a5a 93px,#707070 101px,#6d6d6d 102px,#454545 105px,#333333 106px,#272727 107px,#242424 112px,#2a2a2a 113px,#3f3f3f 114px,#535353 116px,#585858 117px,#424242 121px,#6a6a6a 122px,#8b8b8b 123px,#a1a1a1 125px,#a5a5a5 128px,#9d9d9d 129px,#6d6d6d 131px,#4b4b4b 132px,#373737 133px,#383838 136px,#3c3c3c 137px,#515151 140px,#606060 141px,#979797 143px,#aeaeae 144px,#bcbcbc 145px,#cccccc 152px,#c1c1c1 161px,#bebebe 163px,#c9c9c9 168px,#c9c9c9 180px,#b0b0b0 183px,#b5b5b5 186px,#cccccc 189px,#c5c5c5 191px,#cfcfcf 195px,#cfcfcf 203px,#a6a6a6 206px,#ababab 209px,#d9d9d9 212px,#e0e0e0 225px,#cdcdcd 228px,#d3d3d3 232px,#e5e5e5 235px,#ebebeb 292px,#e1e1e1 294px,#ebebeb 298px,#ededed 302px)"></div>
<div style="top:324px;background:linear-gradient(90deg,#4e4e4e 0px,#5a5a5a 1px,#626262 3px,#6a6a6a 9px,#6d6d6d 36px,#5c5c5c 41px,#585858 44px,#676767 46px,#7a7a7a 47px,#838383 48px,#7f7f7f 53px,#757575 54px,#484848 55px,#2d2d2d 56px,#1d1d1d 57px,#1e1e1e 62px,#353535 63px,#474747 64px,#606060 66px,#656565 76px,#5a5a5a 79px,#5b5b5b 83px,#676767 86px,#616161 91px,#5b5b5b 93px,#6f6f6f 101px,#6e6e6e 102px,#474747 105px,#272727 107px,#242424 112px,#292929 113px,#3d3d3d 114px,#525252 116px,#585858 117px,#434343 121px,#898989 123px,#a1a1a1 125px,#a5a5a5 128px,#9f9f9f 129px,#6f6f6f 131px,#4e4e4e 132px,#363636 133px,#3a3a3a 137px,#4f4f4f 140px,#5c5c5c 141px,#949494 143px,#aaaaaa 144px,#bbbbbb 145px,#cbcbcb 152px,#c0c0c0 161px,#bcbcbc 163px,#c8c8c8 168px,#c8c8c8 180px,#afafaf 183px,#b3b3b3 186px,#cbcbcb 189px,#c4c4c4 191px,#cecece 195px,#cfcfcf 203px,#a5a5a5 206px,#a9a9a9 209px,#d8d8d8 212px,#e0e0e0 225px,#cccccc 228px,#d1d1d1 232px,#e3e3e3 235px,#e9e9e9 292px,#e0e0e0 294px,#eaeaea 298px,#ebebeb 302px)"></div>
<div style="top:325px;background:linear-gradient(90deg,#4d4d4d 0px,#5a5a5a 1px,#626262 3px,#696969 9px,#6d6d6d 36px,#5c5c5c 41px,#575757 44px,#656565 46px,#838383 48px,#7d7d7d 54px,#505050 55px,#313131 56px,#1d1d1d 57px,#1d1d1d 62px,#454545 64px,#5e5e5e 66px,#656565 75px,#626262 77px,#5a5a5a 80px,#5e5e5e 84px,#676767 87px,#5e5e5e 92px,#5b5b5b 94px,#6f6f6f 101px,#6f6f6f 102px,#484848 105px,#272727 107px,#242424 112px,#272727 113px,#3b3b3b 114px,#525252 116px,#585858 117px,#434343 121px,#626262 122px,#888888 123px,#a1a1a1 125px,#a4a4a4 128px,#a1a1a1 129px,#717171 131px,#505050 132px,#363636 133px,#383838 137px,#494949 139px,#4e4e4e 140px,#585858 141px,#919191 143px,#b9b9b9 145px,#cacaca 152px,#c2c2c2 160px,#bbbbbb 163px,#c7c7c7 168px,#c8c8c8 180px,#adadad 183px,#b1b1b1 186px,#cacaca 189px,#c2c2c2 191px,#cdcdcd 195px,#cecece 203px,#a4a4a4 206px,#a8a8a8 209px,#d6d6d6 212px,#dedede 225px,#cbcbcb 228px,#d0d0d0 232px,#e2e2e2 235px,#e8e8e8 292px,#dfdfdf 294px,#e9e9e9 299px,#eaeaea 302px)"></div>
<div style="top:326px;background:linear-gradient(90deg,#4d4d4d 0px,#5a5a5a 1px,#626262 3px,#6a6a6a 10px,#6b6b6b 37px,#5b5b5b 42px,#585858 44px,#646464 46px,#838383 48px,#7e7e7e 54px,#343434 56px,#202020 57px,#1d1d1d 62px,#2e2e2e 63px,#434343 64px,#5d5d5d 66px,#626262 68px,#636363 77px,#5a5a5a 80px,#5e5e5e 84px,#676767 87px,#5e5e5e 92px,#5b5b5b 94px,#6d6d6d 100px,#6f6f6f 102px,#494949 105px,#272727 107px,#252525 113px,#393939 114px,#515151 116px,#595959 117px,#444444 121px,#5e5e5e 122px,#878787 123px,#a1a1a1 125px,#a2a2a2 129px,#747474 131px,#353535 133px,#373737 137px,#484848 139px,#555555 141px,#8e8e8e 143px,#b8b8b8 145px,#c9c9c9 152px,#c1c1c1 160px,#bababa 163px,#c5c5c5 168px,#c7c7c7 180px,#acacac 183px,#b0b0b0 186px,#c9c9c9 189px,#c1c1c1 191px,#cbcbcb 195px,#cdcdcd 203px,#a4a4a4 206px,#a7a7a7 209px,#d4d4d4 212px,#dddddd 225px,#cacaca 228px,#cfcfcf 232px,#e1e1e1 235px,#e7e7e7 292px,#dedede 294px,#e8e8e8 299px,#e9e9e9 302px)"></div>
<div style="top:327px;background:linear-gradient(90deg,#4d4d4d 0px,#5a5a5a 1px,#626262 3px,#6a6a6a 10px,#6b6b6b 37px,#5b5b5b 42px,#585858 44px,#636363 46px,#6d6d6d 47px,#838383 48px,#7e7e7e 54px,#5f5f5f 55px,#373737 56px,#232323 57px,#1d1d1d 58px,#1d1d1d 62px,#2a2a2a 63px,#414141 64px,#5b5b5b 66px,#616161 67px,#636363 77px,#595959 80px,#5d5d5d 84px,#676767 87px,#5f5f5f 92px,#5a5a5a 94px,#6c6c6c 100px,#707070 102px,#4b4b4b 105px,#272727 107px,#242424 113px,#383838 114px,#505050 116px,#595959 117px,#444444 121px,#5b5b5b 122px,#868686 123px,#a1a1a1 125px,#a4a4a4 129px,#767676 131px,#353535 133px,#353535 137px,#474747 139px,#515151 141px,#8b8b8b 143px,#b7b7b7 145px,#c8c8c8 152px,#bdbdbd 161px,#b9b9b9 163px,#c4c4c4 168px,#c6c6c6 180px,#acacac 183px,#afafaf 186px,#c8c8c8 189px,#c1c1c1 191px,#cacaca 195px,#cccccc 203px,#a4a4a4 206px,#a6a6a6 209px,#d2d2d2 212px,#dcdcdc 225px,#c9c9c9 228px,#cecece 232px,#dfdfdf 235px,#e6e6e6 292px,#dedede 294px,#e7e7e7 299px,#e8e8e8 302px)"></div>
<div style="top:328px;background:linear-gradient(90deg,#4d4d4d 0px,#5a5a5a 1px,#626262 3px,#696969 10px,#6c6c6c 37px,#5b5b5b 42px,#585858 44px,#626262 46px,#696969 47px,#848484 48px,#7e7e7e 54px,#666666 55px,#3a3a3a 56px,#262626 57px,#1d1d1d 58px,#1d1d1d 62px,#272727 63px,#3f3f3f 64px,#595959 66px,#616161 67px,#646464 77px,#595959 80px,#5d5d5d 84px,#676767 87px,#5f5f5f 92px,#5a5a5a 94px,#6c6c6c 100px,#717171 102px,#4c4c4c 105px,#282828 107px,#232323 113px,#464646 115px,#595959 117px,#454545 121px,#585858 122px,#858585 123px,#a0a0a0 125px,#a5a5a5 129px,#787878 131px,#343434 133px,#343434 137px,#454545 139px,#4e4e4e 141px,#898989 143px,#b6b6b6 145px,#c7c7c7 152px,#bdbdbd 161px,#b8b8b8 163px,#c3c3c3 168px,#c5c5c5 180px,#acacac 183px,#aeaeae 186px,#c6c6c6 189px,#c0c0c0 191px,#cacaca 195px,#cbcbcb 203px,#a3a3a3 206px,#a5a5a5 209px,#d1d1d1 212px,#dbdbdb 225px,#c9c9c9 228px,#cdcdcd 232px,#dedede 235px,#e5e5e5 292px,#dddddd 294px,#e6e6e6 299px,#e7e7e7 302px)"></div>
<div style="top:329px;background:linear-gradient(90deg,#4d4d4d 0px,#595959 1px,#626262 3px,#696969 10px,#6c6c6c 37px,#5b5b5b 42px,#5a5a5a 45px,#686868 47px,#818181 48px,#7f7f7f 53px,#7e7e7e 54px,#6c6c6c 55px,#3f3f3f 56px,#292929 57px,#1d1d1d 58px,#1d1d1d 62px,#242424 63px,#3c3c3c 64px,#585858 66px,#616161 67px,#646464 77px,#595959 80px,#5c5c5c 84px,#676767 87px,#5f5f5f 92px,#595959 94px,#6c6c6c 100px,#707070 102px,#4c4c4c 105px,#292929 107px,#232323 113px,#454545 115px,#585858 117px,#454545 121px,#555555 122px,#828282 123px,#9f9f9f 125px,#a5a5a5 129px,#797979 131px,#363636 133px,#333333 137px,#494949 140px,#4d4d4d 141px,#868686 143px,#b3b3b3 145px,#c6c6c6 152px,#bcbcbc 161px,#b7b7b7 163px,#c3c3c3 168px,#c4c4c4 180px,#ababab 183px,#adadad 186px,#c5c5c5 189px,#bfbfbf 191px,#c9c9c9 195px,#cacaca 203px,#a3a3a3 206px,#a4a4a4 209px,#cfcfcf 212px,#d4d4d4 215px,#dadada 225px,#c8c8c8 228px,#cccccc 232px,#dddddd 235px,#e4e4e4 290px,#e1e1e1 293px,#dcdcdc 294px,#e5e5e5 299px,#e6e6e6 302px)"></div>
<div style="top:330px;background:linear-gradient(90deg,#4d4d4d 0px,#595959 1px,#626262 3px,#696969 10px,#6c6c6c 37px,#5b5b5b 42px,#595959 45px,#676767 47px,#7d7d7d 48px,#838383 49px,#7e7e7e 54px,#727272 55px,#454545 56px,#2c2c2c 57px,#1d1d1d 58px,#1d1d1d 62px,#212121 63px,#393939 64px,#565656 66px,#616161 67px,#656565 77px,#595959 80px,#5c5c5c 84px,#676767 87px,#606060 92px,#595959 94px,#6c6c6c 100px,#707070 102px,#4d4d4d 105px,#2a2a2a 107px,#232323 113px,#444444 115px,#585858 117px,#454545 121px,#525252 122px,#7f7f7f 123px,#9f9f9f 125px,#a4a4a4 129px,#7a7a7a 131px,#383838 133px,#333333 135px,#333333 137px,#484848 140px,#4c4c4c 141px,#838383 143px,#b1b1b1 145px,#c5c5c5 152px,#bbbbbb 161px,#b7b7b7 163px,#c2c2c2 168px,#c4c4c4 180px,#ababab 183px,#acacac 186px,#c4c4c4 189px,#bfbfbf 191px,#c8c8c8 195px,#cacaca 203px,#a3a3a3 206px,#a2a2a2 208px,#a3a3a3 209px,#bebebe 211px,#cecece 212px,#d3d3d3 214px,#dadada 225px,#c8c8c8 228px,#cbcbcb 232px,#dcdcdc 235px,#e3e3e3 286px,#e4e4e4 292px,#dbdbdb 294px,#e5e5e5 300px,#e6e6e6 302px)"></div>
<div style="top:331px;background:linear-gradient(90deg,#4d4d4d 0px,#595959 1px,#626262 3px,#696969 10px,#6d6d6d 37px,#5b5b5b 42px,#585858 45px,#666666 47px,#7a7a7a 48px,#838383 49px,#7f7f7f 54px,#777777 55px,#4a4a4a 56px,#2e2e2e 57px,#1d1d1d 58px,#1f1f1f 63px,#373737 64px,#555555 66px,#616161 67px,#656565 77px,#595959 80px,#5b5b5b 84px,#676767 87px,#606060 92px,#595959 94px,#6e6e6e 101px,#707070 102px,#4e4e4e 105px,#2b2b2b 107px,#252525 110px,#232323 113px,#444444 115px,#575757 117px,#4c4c4c 120px,#464646 121px,#4f4f4f 122px,#7d7d7d 123px,#909090 124px,#9e9e9e 125px,#a4a4a4 129px,#7b7b7b 131px,#3a3a3a 133px,#333333 134px,#323232 137px,#474747 140px,#4b4b4b 141px,#999999 144px,#afafaf 145px,#b8b8b8 147px,#c4c4c4 153px,#bbbbbb 161px,#b6b6b6 163px,#c1c1c1 168px,#c3c3c3 180px,#ababab 183px,#acacac 186px,#c3c3c3 189px,#bfbfbf 192px,#c7c7c7 195px,#c9c9c9 203px,#a3a3a3 206px,#a1a1a1 208px,#a2a2a2 209px,#bcbcbc 211px,#cccccc 212px,#d2d2d2 214px,#d9d9d9 225px,#c7c7c7 228px,#cacaca 232px,#dbdbdb 235px,#e2e2e2 283px,#e3e3e3 292px,#dbdbdb 294px,#e4e4e4 300px,#e5e5e5 302px)"></div>
<div style="top:332px;background:linear-gradient(90deg,#4d4d4d 0px,#595959 1px,#626262 3px,#696969 10px,#6d6d6d 37px,#5c5c5c 42px,#575757 45px,#666666 47px,#777777 48px,#838383 49px,#7c7c7c 55px,#4f4f4f 56px,#303030 57px,#1d1d1d 58px,#1d1d1d 63px,#474747 65px,#606060 67px,#656565 77px,#595959 80px,#5b5b5b 84px,#676767 87px,#606060 92px,#5a5a5a 94px,#707070 102px,#5b5b5b 104px,#3e3e3e 106px,#2c2c2c 107px,#262626 109px,#232323 113px,#434343 115px,#575757 117px,#4c4c4c 120px,#464646 121px,#4d4d4d 122px,#7b7b7b 123px,#909090 124px,#9d9d9d 125px,#a4a4a4 129px,#939393 130px,#7c7c7c 131px,#3b3b3b 133px,#333333 134px,#323232 137px,#464646 140px,#4a4a4a 141px,#979797 144px,#adadad 145px,#b7b7b7 147px,#c4c4c4 153px,#bababa 161px,#b7b7b7 164px,#c0c0c0 168px,#c2c2c2 180px,#aaaaaa 183px,#ababab 186px,#c2c2c2 189px,#bfbfbf 192px,#c6c6c6 195px,#c8c8c8 203px,#b0b0b0 205px,#a3a3a3 206px,#a0a0a0 208px,#a1a1a1 209px,#bbbbbb 211px,#cbcbcb 212px,#d1d1d1 213px,#d8d8d8 225px,#c7c7c7 228px,#cacaca 232px,#dcdcdc 236px,#e2e2e2 292px,#dadada 294px,#e4e4e4 300px,#e4e4e4 302px)"></div>
<div style="top:333px;background:linear-gradient(90deg,#4d4d4d 0px,#595959 1px,#606060 2px,#696969 9px,#6d6d6d 37px,#5c5c5c 42px,#575757 45px,#656565 47px,#838383 49px,#7e7e7e 55px,#545454 56px,#323232 57px,#1e1e1e 58px,#1d1d1d 63px,#464646 65px,#5f5f5f 67px,#656565 77px,#5a5a5a 80px,#5b5b5b 84px,#666666 87px,#606060 92px,#5a5a5a 94px,#707070 102px,#5c5c5c 104px,#3e3e3e 106px,#2c2c2c 107px,#272727 108px,#232323 113px,#434343 115px,#565656 117px,#515151 119px,#464646 121px,#4b4b4b 122px,#797979 123px,#8f8f8f 124px,#9c9c9c 125px,#a3a3a3 128px,#a4a4a4 129px,#949494 130px,#7d7d7d 131px,#3c3c3c 133px,#323232 134px,#313131 137px,#494949 141px,#606060 142px,#959595 144px,#acacac 145px,#b4b4b4 146px,#c3c3c3 153px,#bababa 161px,#b6b6b6 164px,#c0c0c0 168px,#c2c2c2 180px,#aaaaaa 183px,#aaaaaa 186px,#c1c1c1 189px,#bebebe 192px,#c6c6c6 195px,#c8c8c8 203px,#b0b0b0 205px,#a2a2a2 206px,#9e9e9e 207px,#a1a1a1 209px,#bababa 211px,#cacaca 212px,#d0d0d0 213px,#d7d7d7 225px,#c6c6c6 228px,#c9c9c9 232px,#dcdcdc 236px,#e2e2e2 292px,#dadada 294px,#e3e3e3 300px,#e4e4e4 302px)"></div>
<div style="top:334px;background:linear-gradient(90deg,#4d4d4d 0px,#595959 1px,#606060 2px,#696969 10px,#6d6d6d 37px,#5c5c5c 42px,#575757 45px,#646464 47px,#838383 49px,#7e7e7e 55px,#343434 57px,#202020 58px,#1d1d1d 63px,#454545 65px,#5e5e5e 67px,#656565 77px,#595959 81px,#5e5e5e 85px,#666666 87px,#616161 92px,#5a5a5a 94px,#707070 102px,#696969 103px,#3f3f3f 106px,#2d2d2d 107px,#272727 108px,#232323 113px,#303030 114px,#434343 115px,#565656 117px,#515151 119px,#474747 121px,#494949 122px,#777777 123px,#8e8e8e 124px,#9c9c9c 125px,#a2a2a2 127px,#a4a4a4 129px,#959595 130px,#7e7e7e 131px,#3d3d3d 133px,#323232 134px,#313131 137px,#494949 141px,#5e5e5e 142px,#949494 144px,#aaaaaa 145px,#b3b3b3 146px,#c2c2c2 153px,#b9b9b9 161px,#b5b5b5 164px,#bfbfbf 168px,#c1c1c1 180px,#aaaaaa 183px,#aaaaaa 186px,#c0c0c0 189px,#bdbdbd 192px,#c5c5c5 196px,#c7c7c7 203px,#b0b0b0 205px,#a2a2a2 206px,#9e9e9e 207px,#a0a0a0 209px,#aaaaaa 210px,#c9c9c9 212px,#cfcfcf 213px,#d7d7d7 225px,#c6c6c6 228px,#c8c8c8 232px,#dbdbdb 236px,#e1e1e1 292px,#d9d9d9 295px,#e2e2e2 299px,#e3e3e3 302px)"></div>
<div style="top:335px;background:linear-gradient(90deg,#4d4d4d 0px,#595959 1px,#606060 2px,#696969 10px,#6d6d6d 37px,#5a5a5a 43px,#575757 45px,#646464 47px,#707070 48px,#838383 49px,#7e7e7e 55px,#353535 57px,#222222 58px,#1d1d1d 60px,#1d1d1d 63px,#444444 65px,#5e5e5e 67px,#636363 71px,#656565 77px,#595959 81px,#5e5e5e 85px,#666666 88px,#5d5d5d 93px,#5c5c5c 95px,#707070 102px,#696969 103px,#404040 106px,#2e2e2e 107px,#272727 108px,#232323 113px,#303030 114px,#424242 115px,#555555 117px,#565656 118px,#474747 121px,#474747 122px,#757575 123px,#8e8e8e 124px,#9b9b9b 125px,#a2a2a2 127px,#a3a3a3 129px,#959595 130px,#7e7e7e 131px,#3e3e3e 133px,#323232 134px,#303030 137px,#484848 141px,#5c5c5c 142px,#929292 144px,#a9a9a9 145px,#b3b3b3 146px,#c2c2c2 153px,#b9b9b9 161px,#b5b5b5 164px,#bebebe 168px,#c0c0c0 180px,#a9a9a9 183px,#a8a8a8 185px,#afafaf 187px,#bfbfbf 189px,#bcbcbc 192px,#c5c5c5 196px,#c6c6c6 203px,#bebebe 204px,#a2a2a2 206px,#9d9d9d 207px,#a0a0a0 209px,#a9a9a9 210px,#c8c8c8 212px,#cfcfcf 213px,#d6d6d6 225px,#c5c5c5 228px,#c6c6c6 231px,#d2d2d2 234px,#dbdbdb 236px,#e0e0e0 292px,#d8d8d8 295px,#e1e1e1 299px,#e2e2e2 302px)"></div>
<div style="top:336px;background:linear-gradient(90deg,#4d4d4d 0px,#595959 1px,#606060 2px,#696969 10px,#6d6d6d 37px,#5a5a5a 43px,#575757 45px,#636363 47px,#6e6e6e 48px,#838383 49px,#7e7e7e 55px,#5f5f5f 56px,#373737 57px,#232323 58px,#1d1d1d 59px,#1d1d1d 63px,#2d2d2d 64px,#434343 65px,#5d5d5d 67px,#626262 69px,#656565 77px,#595959 81px,#5e5e5e 85px,#666666 88px,#5e5e5e 93px,#5c5c5c 95px,#707070 102px,#696969 103px,#404040 106px,#2e2e2e 107px,#272727 108px,#232323 113px,#2f2f2f 114px,#424242 115px,#555555 117px,#565656 118px,#474747 121px,#464646 122px,#747474 123px,#8d8d8d 124px,#9b9b9b 125px,#a1a1a1 126px,#a3a3a3 129px,#969696 130px,#7f7f7f 131px,#626262 132px,#3f3f3f 133px,#313131 134px,#303030 137px,#474747 141px,#5b5b5b 142px,#919191 144px,#a8a8a8 145px,#b2b2b2 146px,#c1c1c1 153px,#b8b8b8 161px,#b4b4b4 164px,#bebebe 168px,#c0c0c0 180px,#a9a9a9 183px,#a7a7a7 185px,#aeaeae 187px,#bebebe 189px,#c0c0c0 190px,#bcbcbc 192px,#c4c4c4 196px,#c6c6c6 203px,#bebebe 204px,#a2a2a2 206px,#9d9d9d 207px,#9f9f9f 209px,#a8a8a8 210px,#c7c7c7 212px,#cecece 213px,#d6d6d6 225px,#c5c5c5 228px,#c6c6c6 231px,#d1d1d1 234px,#dadada 236px,#e0e0e0 292px,#d8d8d8 295px,#e1e1e1 299px,#e2e2e2 302px)"></div>
<div style="top:337px;background:linear-gradient(90deg,#4d4d4d 0px,#595959 1px,#606060 2px,#696969 10px,#6a6a6a 38px,#5b5b5b 43px,#585858 45px,#636363 47px,#6d6d6d 48px,#838383 49px,#7e7e7e 55px,#616161 56px,#383838 57px,#242424 58px,#1d1d1d 59px,#1d1d1d 63px,#2c2c2c 64px,#434343 65px,#5c5c5c 67px,#626262 69px,#636363 78px,#595959 81px,#5e5e5e 85px,#666666 88px,#5e5e5e 93px,#5b5b5b 95px,#707070 102px,#6a6a6a 103px,#414141 106px,#2f2f2f 107px,#272727 108px,#232323 113px,#2e2e2e 114px,#424242 115px,#555555 117px,#565656 118px,#444444 122px,#727272 123px,#8d8d8d 124px,#9a9a9a 125px,#a1a1a1 126px,#a3a3a3 129px,#969696 130px,#7f7f7f 131px,#626262 132px,#404040 133px,#313131 134px,#2f2f2f 137px,#474747 141px,#5a5a5a 142px,#909090 144px,#a6a6a6 145px,#b2b2b2 146px,#c1c1c1 153px,#b8b8b8 161px,#b4b4b4 164px,#bdbdbd 168px,#bfbfbf 180px,#b2b2b2 182px,#a9a9a9 183px,#a7a7a7 185px,#adadad 187px,#bdbdbd 189px,#bfbfbf 190px,#bbbbbb 192px,#c4c4c4 196px,#c5c5c5 203px,#bdbdbd 204px,#a2a2a2 206px,#9c9c9c 207px,#9f9f9f 209px,#a7a7a7 210px,#c6c6c6 212px,#cecece 213px,#d5d5d5 225px,#c2c2c2 229px,#cbcbcb 233px,#d9d9d9 236px,#dfdfdf 292px,#d7d7d7 295px,#e0e0e0 299px,#e1e1e1 302px)"></div>
<div style="top:338px;background:linear-gradient(90deg,#4d4d4d 0px,#595959 1px,#606060 2px,#696969 10px,#6b6b6b 38px,#5b5b5b 43px,#585858 45px,#636363 47px,#6c6c6c 48px,#838383 49px,#7e7e7e 55px,#646464 56px,#393939 57px,#252525 58px,#1d1d1d 59px,#1d1d1d 63px,#2b2b2b 64px,#424242 65px,#5c5c5c 67px,#616161 68px,#636363 78px,#595959 81px,#5d5d5d 85px,#666666 88px,#5e5e5e 93px,#5b5b5b 95px,#707070 102px,#6a6a6a 103px,#414141 106px,#2f2f2f 107px,#272727 108px,#232323 113px,#2e2e2e 114px,#414141 115px,#555555 117px,#565656 118px,#434343 122px,#717171 123px,#8d8d8d 124px,#9a9a9a 125px,#a1a1a1 126px,#a3a3a3 129px,#979797 130px,#808080 131px,#636363 132px,#414141 133px,#313131 134px,#2f2f2f 137px,#464646 141px,#585858 142px,#8f8f8f 144px,#a5a5a5 145px,#b1b1b1 146px,#c0c0c0 153px,#b7b7b7 161px,#b3b3b3 164px,#bdbdbd 169px,#bfbfbf 180px,#b1b1b1 182px,#a8a8a8 183px,#a6a6a6 185px,#adadad 187px,#bdbdbd 189px,#bfbfbf 190px,#bbbbbb 192px,#c3c3c3 196px,#c5c5c5 203px,#bdbdbd 204px,#a1a1a1 206px,#9c9c9c 207px,#9e9e9e 209px,#a7a7a7 210px,#c5c5c5 212px,#cdcdcd 213px,#d5d5d5 225px,#c2c2c2 229px,#cacaca 233px,#d9d9d9 236px,#dfdfdf 292px,#d7d7d7 295px,#e0e0e0 299px,#e1e1e1 302px)"></div>
<div style="top:339px;background:linear-gradient(90deg,#4d4d4d 0px,#595959 1px,#606060 2px,#696969 10px,#6b6b6b 38px,#5b5b5b 43px,#585858 45px,#626262 47px,#6b6b6b 48px,#838383 49px,#7e7e7e 55px,#666666 56px,#3a3a3a 57px,#262626 58px,#1d1d1d 59px,#1d1d1d 63px,#2a2a2a 64px,#424242 65px,#5b5b5b 67px,#616161 68px,#636363 78px,#595959 81px,#5d5d5d 85px,#666666 88px,#5e5e5e 93px,#5b5b5b 95px,#6f6f6f 102px,#6a6a6a 103px,#424242 106px,#303030 107px,#272727 108px,#232323 113px,#2e2e2e 114px,#414141 115px,#545454 117px,#575757 118px,#424242 122px,#717171 123px,#8c8c8c 124px,#9a9a9a 125px,#a1a1a1 126px,#a3a3a3 129px,#979797 130px,#808080 131px,#636363 132px,#414141 133px,#303030 134px,#2f2f2f 137px,#454545 141px,#575757 142px,#8e8e8e 144px,#a5a5a5 145px,#b1b1b1 146px,#c0c0c0 153px,#b7b7b7 161px,#b3b3b3 164px,#bdbdbd 169px,#bebebe 180px,#b1b1b1 182px,#a8a8a8 183px,#a6a6a6 185px,#acacac 187px,#bcbcbc 189px,#bebebe 190px,#bababa 192px,#c3c3c3 196px,#c4c4c4 203px,#bdbdbd 204px,#a1a1a1 206px,#9b9b9b 207px,#9e9e9e 209px,#a6a6a6 210px,#c5c5c5 212px,#cdcdcd 213px,#d4d4d4 225px,#c1c1c1 229px,#cacaca 233px,#d8d8d8 236px,#dedede 292px,#d6d6d6 295px,#dfdfdf 299px,#e0e0e0 302px)"></div>
<div style="top:340px;background:linear-gradient(90deg,#4d4d4d 0px,#595959 1px,#606060 2px,#696969 10px,#6b6b6b 38px,#5b5b5b 43px,#585858 45px,#626262 47px,#6a6a6a 48px,#838383 49px,#7e7e7e 55px,#676767 56px,#3a3a3a 57px,#262626 58px,#1d1d1d 59px,#1d1d1d 63px,#2a2a2a 64px,#414141 65px,#5b5b5b 67px,#616161 68px,#636363 78px,#595959 81px,#5d5d5d 85px,#666666 88px,#5e5e5e 93px,#5b5b5b 95px,#6f6f6f 102px,#6a6a6a 103px,#424242 106px,#303030 107px,#272727 108px,#232323 113px,#2d2d2d 114px,#414141 115px,#545454 117px,#575757 118px,#424242 122px,#707070 123px,#8c8c8c 124px,#9a9a9a 125px,#a0a0a0 126px,#a3a3a3 129px,#979797 130px,#808080 131px,#646464 132px,#414141 133px,#303030 134px,#2e2e2e 137px,#454545 141px,#565656 142px,#8d8d8d 144px,#a4a4a4 145px,#b0b0b0 146px,#c0c0c0 153px,#b7b7b7 161px,#b2b2b2 164px,#bcbcbc 169px,#bebebe 180px,#b1b1b1 182px,#a8a8a8 183px,#a5a5a5 185px,#ababab 187px,#bcbcbc 189px,#bebebe 190px,#bababa 192px,#c2c2c2 196px,#c4c4c4 203px,#bdbdbd 204px,#a1a1a1 206px,#9b9b9b 207px,#9d9d9d 209px,#a6a6a6 210px,#c4c4c4 212px,#cccccc 213px,#d4d4d4 225px,#c1c1c1 229px,#c9c9c9 233px,#d8d8d8 236px,#dedede 292px,#d6d6d6 295px,#dfdfdf 299px,#e0e0e0 302px)"></div>
<div style="top:341px;background:linear-gradient(90deg,#4d4d4d 0px,#595959 1px,#606060 2px,#696969 10px,#6b6b6b 38px,#5b5b5b 43px,#585858 45px,#626262 47px,#696969 48px,#838383 49px,#7e7e7e 55px,#686868 56px,#3b3b3b 57px,#272727 58px,#1d1d1d 59px,#1d1d1d 63px,#292929 64px,#414141 65px,#5b5b5b 67px,#616161 68px,#636363 78px,#595959 81px,#5d5d5d 85px,#676767 88px,#5e5e5e 93px,#5b5b5b 95px,#6f6f6f 102px,#6b6b6b 103px,#424242 106px,#303030 107px,#272727 108px,#232323 113px,#2d2d2d 114px,#414141 115px,#545454 117px,#575757 118px,#414141 122px,#707070 123px,#8c8c8c 124px,#999999 125px,#a0a0a0 126px,#a3a3a3 129px,#979797 130px,#808080 131px,#646464 132px,#414141 133px,#303030 134px,#2e2e2e 137px,#444444 141px,#565656 142px,#8d8d8d 144px,#a3a3a3 145px,#b0b0b0 146px,#bfbfbf 153px,#b6b6b6 161px,#b2b2b2 164px,#bcbcbc 169px,#bdbdbd 180px,#b0b0b0 182px,#a7a7a7 183px,#a5a5a5 185px,#ababab 187px,#bbbbbb 189px,#bebebe 190px,#b9b9b9 192px,#c2c2c2 196px,#c3c3c3 203px,#bcbcbc 204px,#a1a1a1 206px,#9a9a9a 207px,#9d9d9d 209px,#a5a5a5 210px,#c4c4c4 212px,#cccccc 213px,#d3d3d3 225px,#c0c0c0 229px,#c9c9c9 233px,#d8d8d8 236px,#dedede 292px,#d5d5d5 295px,#dedede 299px,#e0e0e0 302px)"></div>
<div style="top:342px;background:linear-gradient(90deg,#4d4d4d 0px,#595959 1px,#606060 2px,#696969 10px,#6b6b6b 38px,#5b5b5b 43px,#585858 45px,#626262 47px,#696969 48px,#838383 49px,#7e7e7e 55px,#686868 56px,#3b3b3b 57px,#272727 58px,#1d1d1d 59px,#1d1d1d 63px,#292929 64px,#414141 65px,#5b5b5b 67px,#616161 68px,#636363 78px,#595959 81px,#5d5d5d 85px,#676767 88px,#5e5e5e 93px,#5b5b5b 95px,#6f6f6f 102px,#6b6b6b 103px,#424242 106px,#303030 107px,#272727 108px,#232323 113px,#2d2d2d 114px,#414141 115px,#545454 117px,#575757 118px,#414141 122px,#6f6f6f 123px,#8c8c8c 124px,#999999 125px,#a0a0a0 126px,#a3a3a3 129px,#979797 130px,#808080 131px,#646464 132px,#414141 133px,#303030 134px,#2e2e2e 137px,#444444 141px,#555555 142px,#8c8c8c 144px,#a3a3a3 145px,#afafaf 146px,#bfbfbf 153px,#b6b6b6 161px,#b1b1b1 164px,#bcbcbc 169px,#bdbdbd 180px,#b0b0b0 182px,#a7a7a7 183px,#a3a3a3 184px,#ababab 187px,#bbbbbb 189px,#bdbdbd 190px,#b9b9b9 192px,#c1c1c1 196px,#c3c3c3 203px,#bcbcbc 204px,#a0a0a0 206px,#9a9a9a 207px,#9c9c9c 209px,#a5a5a5 210px,#c3c3c3 212px,#cbcbcb 213px,#d3d3d3 225px,#c0c0c0 229px,#c8c8c8 233px,#d7d7d7 236px,#dddddd 292px,#d5d5d5 295px,#dedede 299px,#dfdfdf 302px)"></div>
<div style="top:343px;background:linear-gradient(90deg,#4d4d4d 0px,#595959 1px,#606060 2px,#696969 10px,#6b6b6b 38px,#5b5b5b 43px,#585858 45px,#626262 47px,#696969 48px,#838383 49px,#7e7e7e 55px,#686868 56px,#3b3b3b 57px,#272727 58px,#1d1d1d 59px,#1d1d1d 63px,#292929 64px,#414141 65px,#5b5b5b 67px,#616161 68px,#636363 78px,#595959 81px,#5d5d5d 85px,#676767 88px,#5e5e5e 93px,#5b5b5b 95px,#6f6f6f 102px,#6b6b6b 103px,#424242 106px,#303030 107px,#272727 108px,#232323 113px,#2d2d2d 114px,#414141 115px,#545454 117px,#575757 118px,#414141 122px,#6f6f6f 123px,#8c8c8c 124px,#999999 125px,#a0a0a0 126px,#a3a3a3 129px,#979797 130px,#808080 131px,#646464 132px,#414141 133px,#2f2f2f 134px,#2d2d2d 137px,#444444 141px,#555555 142px,#8c8c8c 144px,#a2a2a2 145px,#afafaf 146px,#bebebe 153px,#b6b6b6 161px,#b1b1b1 164px,#bbbbbb 169px,#bdbdbd 180px,#b0b0b0 182px,#a7a7a7 183px,#a3a3a3 184px,#aaaaaa 187px,#bbbbbb 189px,#bdbdbd 190px,#b9b9b9 192px,#c1c1c1 196px,#c3c3c3 203px,#bcbcbc 204px,#a0a0a0 206px,#9a9a9a 207px,#9c9c9c 209px,#a4a4a4 210px,#c3c3c3 212px,#cbcbcb 213px,#d2d2d2 225px,#c0c0c0 229px,#c8c8c8 233px,#d7d7d7 236px,#dddddd 292px,#d4d4d4 295px,#dedede 299px,#dfdfdf 302px)"></div>
<div style="top:344px;background:linear-gradient(90deg,#4d4d4d 0px,#595959 1px,#606060 2px,#696969 10px,#6b6b6b 38px,#5b5b5b 43px,#585858 45px,#626262 47px,#696969 48px,#838383 49px,#7e7e7e 55px,#686868 56px,#3b3b3b 57px,#272727 58px,#1d1d1d 59px,#1d1d1d 63px,#292929 64px,#414141 65px,#5b5b5b 67px,#616161 68px,#636363 78px,#595959 81px,#5d5d5d 85px,#666666 88px,#5e5e5e 93px,#5b5b5b 95px,#6f6f6f 102px,#6b6b6b 103px,#424242 106px,#303030 107px,#272727 108px,#232323 113px,#2d2d2d 114px,#414141 115px,#545454 117px,#575757 118px,#414141 122px,#707070 123px,#8c8c8c 124px,#999999 125px,#a0a0a0 126px,#a2a2a2 129px,#979797 130px,#808080 131px,#636363 132px,#414141 133px,#2f2f2f 134px,#2d2d2d 137px,#434343 141px,#555555 142px,#8b8b8b 144px,#a2a2a2 145px,#afafaf 146px,#bebebe 153px,#b5b5b5 161px,#b1b1b1 164px,#bbbbbb 169px,#bcbcbc 180px,#afafaf 182px,#a6a6a6 183px,#a4a4a4 185px,#aaaaaa 187px,#bababa 189px,#bcbcbc 190px,#b8b8b8 192px,#c1c1c1 196px,#c2c2c2 203px,#bbbbbb 204px,#9f9f9f 206px,#999999 207px,#9c9c9c 209px,#a4a4a4 210px,#c2c2c2 212px,#cbcbcb 213px,#d2d2d2 225px,#bfbfbf 229px,#c7c7c7 233px,#d6d6d6 236px,#dcdcdc 292px,#d4d4d4 295px,#dddddd 299px,#dedede 302px)"></div>
<div style="top:345px;background:linear-gradient(90deg,#4d4d4d 0px,#595959 1px,#606060 2px,#696969 10px,#6b6b6b 38px,#5b5b5b 43px,#585858 45px,#626262 47px,#6a6a6a 48px,#838383 49px,#7e7e7e 55px,#676767 56px,#3a3a3a 57px,#262626 58px,#1d1d1d 59px,#1d1d1d 63px,#2a2a2a 64px,#414141 65px,#5b5b5b 67px,#616161 68px,#636363 78px,#595959 81px,#5d5d5d 85px,#666666 88px,#5e5e5e 93px,#5b5b5b 95px,#6f6f6f 102px,#6a6a6a 103px,#424242 106px,#303030 107px,#272727 108px,#232323 113px,#2d2d2d 114px,#414141 115px,#545454 117px,#575757 118px,#424242 122px,#707070 123px,#8c8c8c 124px,#9a9a9a 125px,#a0a0a0 126px,#a2a2a2 129px,#979797 130px,#7f7f7f 131px,#636363 132px,#404040 133px,#2f2f2f 134px,#2d2d2d 137px,#434343 141px,#545454 142px,#8b8b8b 144px,#a2a2a2 145px,#aeaeae 146px,#bebebe 153px,#b5b5b5 161px,#b0b0b0 164px,#bababa 169px,#bcbcbc 180px,#afafaf 182px,#a6a6a6 183px,#a4a4a4 185px,#aaaaaa 187px,#bababa 189px,#bcbcbc 190px,#b8b8b8 192px,#c0c0c0 196px,#c2c2c2 203px,#bbbbbb 204px,#9f9f9f 206px,#999999 207px,#9b9b9b 209px,#a4a4a4 210px,#c2c2c2 212px,#cacaca 213px,#d2d2d2 225px,#bfbfbf 229px,#c7c7c7 233px,#d6d6d6 236px,#dcdcdc 292px,#d4d4d4 295px,#dddddd 299px,#dedede 302px)"></div>
<div style="top:346px;background:linear-gradient(90deg,#4d4d4d 0px,#595959 1px,#606060 2px,#696969 10px,#6b6b6b 38px,#5b5b5b 43px,#585858 45px,#626262 47px,#6b6b6b 48px,#838383 49px,#7e7e7e 55px,#666666 56px,#3a3a3a 57px,#262626 58px,#1d1d1d 59px,#1d1d1d 63px,#2a2a2a 64px,#424242 65px,#5b5b5b 67px,#616161 68px,#636363 78px,#595959 81px,#5d5d5d 85px,#666666 88px,#5e5e5e 93px,#5b5b5b 95px,#6f6f6f 102px,#6a6a6a 103px,#424242 106px,#303030 107px,#272727 108px,#232323 113px,#2e2e2e 114px,#414141 115px,#545454 117px,#575757 118px,#424242 122px,#717171 123px,#8c8c8c 124px,#9a9a9a 125px,#a0a0a0 126px,#a2a2a2 129px,#969696 130px,#7f7f7f 131px,#626262 132px,#3f3f3f 133px,#2f2f2f 134px,#2c2c2c 137px,#434343 141px,#555555 142px,#8b8b8b 144px,#a2a2a2 145px,#aeaeae 146px,#bdbdbd 153px,#b4b4b4 161px,#b0b0b0 164px,#bababa 169px,#bcbcbc 180px,#aeaeae 182px,#a6a6a6 183px,#a3a3a3 185px,#a9a9a9 187px,#bababa 189px,#bcbcbc 190px,#b8b8b8 192px,#c0c0c0 196px,#c2c2c2 203px,#bababa 204px,#9f9f9f 206px,#999999 207px,#9b9b9b 209px,#a4a4a4 210px,#c2c2c2 212px,#cacaca 213px,#d1d1d1 225px,#bebebe 229px,#c7c7c7 233px,#d6d6d6 236px,#dcdcdc 292px,#d3d3d3 295px,#dcdcdc 299px,#dedede 302px)"></div>
<div style="top:347px;background:linear-gradient(90deg,#4d4d4d 0px,#595959 1px,#606060 2px,#696969 10px,#6b6b6b 38px,#5b5b5b 43px,#585858 45px,#636363 47px,#6c6c6c 48px,#838383 49px,#7e7e7e 55px,#646464 56px,#393939 57px,#252525 58px,#1d1d1d 59px,#1d1d1d 63px,#2b2b2b 64px,#424242 65px,#5c5c5c 67px,#616161 68px,#636363 78px,#595959 81px,#5d5d5d 85px,#666666 88px,#5e5e5e 93px,#5b5b5b 95px,#707070 102px,#6a6a6a 103px,#414141 106px,#2f2f2f 107px,#272727 108px,#232323 113px,#2e2e2e 114px,#414141 115px,#555555 117px,#565656 118px,#434343 122px,#717171 123px,#8d8d8d 124px,#9a9a9a 125px,#a0a0a0 126px,#a2a2a2 129px,#969696 130px,#7e7e7e 131px,#616161 132px,#3f3f3f 133px,#2f2f2f 134px,#2c2c2c 137px,#434343 141px,#555555 142px,#8b8b8b 144px,#a2a2a2 145px,#aeaeae 146px,#bdbdbd 153px,#b4b4b4 161px,#b0b0b0 164px,#bababa 169px,#bbbbbb 180px,#aeaeae 182px,#a5a5a5 183px,#a3a3a3 185px,#a9a9a9 187px,#bababa 189px,#bbbbbb 190px,#b8b8b8 192px,#c0c0c0 196px,#c1c1c1 203px,#bababa 204px,#9e9e9e 206px,#989898 207px,#9b9b9b 209px,#a3a3a3 210px,#c2c2c2 212px,#cacaca 213px,#d1d1d1 225px,#bebebe 229px,#c7c7c7 233px,#d5d5d5 236px,#dbdbdb 292px,#d3d3d3 295px,#dcdcdc 299px,#dddddd 302px)"></div>
<div style="top:348px;background:linear-gradient(90deg,#4d4d4d 0px,#595959 1px,#606060 2px,#696969 10px,#6a6a6a 38px,#5b5b5b 43px,#585858 45px,#636363 47px,#6d6d6d 48px,#838383 49px,#7e7e7e 55px,#616161 56px,#383838 57px,#242424 58px,#1d1d1d 59px,#1d1d1d 63px,#2c2c2c 64px,#434343 65px,#5c5c5c 67px,#626262 69px,#636363 78px,#595959 81px,#5e5e5e 85px,#666666 88px,#5e5e5e 93px,#5b5b5b 95px,#707070 102px,#6a6a6a 103px,#414141 106px,#2f2f2f 107px,#272727 108px,#232323 113px,#2e2e2e 114px,#424242 115px,#555555 117px,#565656 118px,#444444 122px,#727272 123px,#8d8d8d 124px,#9a9a9a 125px,#a0a0a0 126px,#a2a2a2 129px,#959595 130px,#7e7e7e 131px,#606060 132px,#3e3e3e 133px,#2e2e2e 134px,#2c2c2c 137px,#424242 141px,#555555 142px,#8c8c8c 144px,#a2a2a2 145px,#adadad 146px,#bdbdbd 153px,#b4b4b4 161px,#b0b0b0 164px,#b9b9b9 168px,#bbbbbb 180px,#adadad 182px,#a5a5a5 183px,#a3a3a3 185px,#a9a9a9 187px,#b9b9b9 189px,#bbbbbb 190px,#b7b7b7 192px,#bfbfbf 196px,#c1c1c1 203px,#b9b9b9 204px,#9e9e9e 206px,#989898 207px,#9b9b9b 209px,#a3a3a3 210px,#c2c2c2 212px,#c9c9c9 213px,#d1d1d1 225px,#c0c0c0 228px,#c1c1c1 231px,#cccccc 234px,#d5d5d5 236px,#dbdbdb 292px,#d3d3d3 295px,#dcdcdc 299px,#dddddd 302px)"></div>
<div style="top:349px;background:linear-gradient(90deg,#4d4d4d 0px,#595959 1px,#606060 2px,#696969 10px,#6d6d6d 37px,#5a5a5a 43px,#575757 45px,#636363 47px,#6e6e6e 48px,#838383 49px,#7e7e7e 55px,#5f5f5f 56px,#373737 57px,#232323 58px,#1d1d1d 59px,#1d1d1d 63px,#2d2d2d 64px,#434343 65px,#5d5d5d 67px,#626262 69px,#656565 77px,#595959 81px,#5e5e5e 85px,#666666 88px,#5e5e5e 93px,#5c5c5c 95px,#707070 102px,#696969 103px,#404040 106px,#2e2e2e 107px,#272727 108px,#232323 113px,#2f2f2f 114px,#424242 115px,#555555 117px,#565656 118px,#474747 121px,#464646 122px,#747474 123px,#8d8d8d 124px,#9b9b9b 125px,#a0a0a0 126px,#a2a2a2 129px,#949494 130px,#7d7d7d 131px,#5f5f5f 132px,#3c3c3c 133px,#2e2e2e 134px,#2c2c2c 137px,#424242 141px,#565656 142px,#8c8c8c 144px,#a3a3a3 145px,#adadad 146px,#bcbcbc 153px,#b3b3b3 161px,#afafaf 164px,#b9b9b9 168px,#bbbbbb 180px,#adadad 182px,#a4a4a4 183px,#a2a2a2 185px,#a9a9a9 187px,#b9b9b9 189px,#bbbbbb 190px,#b7b7b7 192px,#bfbfbf 196px,#c1c1c1 203px,#b9b9b9 204px,#9d9d9d 206px,#989898 207px,#9a9a9a 209px,#a3a3a3 210px,#c2c2c2 212px,#c9c9c9 213px,#d0d0d0 225px,#c0c0c0 228px,#c1c1c1 231px,#cccccc 234px,#d5d5d5 236px,#dbdbdb 292px,#d3d3d3 295px,#dbdbdb 299px,#dddddd 302px)"></div>
<div style="top:350px;background:linear-gradient(90deg,#4d4d4d 0px,#595959 1px,#606060 2px,#696969 10px,#6d6d6d 37px,#5a5a5a 43px,#575757 45px,#646464 47px,#707070 48px,#838383 49px,#7e7e7e 55px,#353535 57px,#222222 58px,#1d1d1d 60px,#1d1d1d 63px,#444444 65px,#5e5e5e 67px,#626262 71px,#656565 77px,#595959 81px,#5e5e5e 85px,#666666 88px,#5d5d5d 93px,#5c5c5c 95px,#707070 102px,#696969 103px,#404040 106px,#2e2e2e 107px,#272727 108px,#232323 113px,#303030 114px,#424242 115px,#555555 117px,#565656 118px,#474747 121px,#474747 122px,#757575 123px,#8e8e8e 124px,#9b9b9b 125px,#a1a1a1 127px,#a2a2a2 129px,#939393 130px,#7c7c7c 131px,#3b3b3b 133px,#2e2e2e 134px,#2b2b2b 137px,#424242 141px,#565656 142px,#8d8d8d 144px,#a3a3a3 145px,#adadad 146px,#bcbcbc 153px,#b3b3b3 161px,#afafaf 164px,#b9b9b9 168px,#bbbbbb 180px,#a4a4a4 183px,#a2a2a2 185px,#a9a9a9 187px,#b9b9b9 189px,#b7b7b7 192px,#bfbfbf 196px,#c0c0c0 203px,#b8b8b8 204px,#9c9c9c 206px,#979797 207px,#9a9a9a 209px,#a3a3a3 210px,#c2c2c2 212px,#c9c9c9 213px,#d0d0d0 225px,#bfbfbf 228px,#c0c0c0 231px,#cccccc 234px,#d5d5d5 236px,#dadada 292px,#d2d2d2 295px,#dbdbdb 299px,#dcdcdc 302px)"></div>
<div style="top:351px;background:linear-gradient(90deg,#4d4d4d 0px,#595959 1px,#606060 2px,#696969 10px,#6d6d6d 37px,#5c5c5c 42px,#575757 45px,#646464 47px,#838383 49px,#7e7e7e 55px,#343434 57px,#202020 58px,#1d1d1d 63px,#454545 65px,#5e5e5e 67px,#656565 77px,#595959 81px,#5e5e5e 85px,#666666 87px,#616161 92px,#5a5a5a 94px,#707070 102px,#696969 103px,#3f3f3f 106px,#2d2d2d 107px,#272727 108px,#232323 113px,#303030 114px,#434343 115px,#565656 117px,#515151 119px,#474747 121px,#494949 122px,#777777 123px,#8e8e8e 124px,#9b9b9b 125px,#a1a1a1 127px,#a2a2a2 129px,#939393 130px,#7b7b7b 131px,#3a3a3a 133px,#2e2e2e 134px,#2b2b2b 137px,#424242 141px,#575757 142px,#8d8d8d 144px,#a4a4a4 145px,#adadad 146px,#bcbcbc 153px,#b3b3b3 161px,#afafaf 164px,#b9b9b9 168px,#bababa 180px,#a3a3a3 183px,#a3a3a3 186px,#b9b9b9 189px,#b7b7b7 192px,#bebebe 196px,#c0c0c0 203px,#b7b7b7 204px,#9c9c9c 206px,#979797 207px,#9a9a9a 209px,#a3a3a3 210px,#c2c2c2 212px,#c8c8c8 213px,#d0d0d0 225px,#bfbfbf 228px,#c1c1c1 232px,#d4d4d4 236px,#dadada 292px,#d2d2d2 295px,#dbdbdb 299px,#dcdcdc 302px)"></div>
<div style="top:352px;background:linear-gradient(90deg,#4d4d4d 0px,#595959 1px,#606060 2px,#696969 9px,#6d6d6d 37px,#5c5c5c 42px,#575757 45px,#656565 47px,#838383 49px,#7e7e7e 55px,#545454 56px,#323232 57px,#1e1e1e 58px,#1d1d1d 63px,#464646 65px,#5f5f5f 67px,#656565 77px,#5a5a5a 80px,#5b5b5b 84px,#666666 87px,#606060 92px,#5a5a5a 94px,#707070 102px,#5b5b5b 104px,#3e3e3e 106px,#2c2c2c 107px,#272727 108px,#232323 113px,#434343 115px,#565656 117px,#515151 119px,#464646 121px,#4b4b4b 122px,#787878 123px,#8f8f8f 124px,#9c9c9c 125px,#a1a1a1 128px,#a2a2a2 129px,#919191 130px,#7a7a7a 131px,#383838 133px,#2d2d2d 134px,#2b2b2b 137px,#424242 141px,#585858 142px,#767676 143px,#a4a4a4 145px,#adadad 146px,#bbbbbb 153px,#b2b2b2 161px,#afafaf 164px,#b8b8b8 168px,#bababa 180px,#a3a3a3 183px,#a3a3a3 186px,#b9b9b9 189px,#b6b6b6 192px,#bebebe 196px,#c0c0c0 203px,#a9a9a9 205px,#9b9b9b 206px,#979797 207px,#999999 209px,#b3b3b3 211px,#c2c2c2 212px,#c8c8c8 213px,#d0d0d0 225px,#bebebe 228px,#c1c1c1 232px,#d4d4d4 236px,#dadada 292px,#d2d2d2 294px,#dbdbdb 300px,#dcdcdc 302px)"></div>
<div style="top:353px;background:linear-gradient(90deg,#4d4d4d 0px,#595959 1px,#626262 3px,#696969 10px,#6d6d6d 37px,#5c5c5c 42px,#575757 45px,#666666 47px,#777777 48px,#838383 49px,#7c7c7c 55px,#4f4f4f 56px,#303030 57px,#1d1d1d 58px,#1d1d1d 63px,#474747 65px,#606060 67px,#656565 77px,#595959 80px,#5b5b5b 84px,#676767 87px,#606060 92px,#5a5a5a 94px,#707070 102px,#5b5b5b 104px,#3e3e3e 106px,#2c2c2c 107px,#262626 109px,#232323 113px,#434343 115px,#575757 117px,#4c4c4c 120px,#464646 121px,#4d4d4d 122px,#7a7a7a 123px,#8f8f8f 124px,#9d9d9d 125px,#a2a2a2 129px,#909090 130px,#797979 131px,#363636 133px,#2d2d2d 134px,#2a2a2a 137px,#424242 141px,#595959 142px,#777777 143px,#a5a5a5 145px,#afafaf 147px,#bbbbbb 153px,#b2b2b2 161px,#afafaf 164px,#b8b8b8 168px,#bababa 180px,#a2a2a2 183px,#a3a3a3 186px,#b9b9b9 189px,#b6b6b6 192px,#bebebe 196px,#bfbfbf 203px,#a8a8a8 205px,#9a9a9a 206px,#989898 208px,#999999 209px,#b3b3b3 211px,#c2c2c2 212px,#c8c8c8 213px,#cfcfcf 225px,#bebebe 228px,#c1c1c1 232px,#d4d4d4 236px,#d9d9d9 292px,#d1d1d1 294px,#dbdbdb 300px,#dbdbdb 302px)"></div>
<div style="top:354px;background:linear-gradient(90deg,#4d4d4d 0px,#595959 1px,#626262 3px,#696969 10px,#6d6d6d 37px,#5b5b5b 42px,#585858 45px,#666666 47px,#7a7a7a 48px,#838383 49px,#7f7f7f 54px,#777777 55px,#4a4a4a 56px,#2e2e2e 57px,#1d1d1d 58px,#1f1f1f 63px,#363636 64px,#555555 66px,#616161 67px,#656565 77px,#595959 80px,#5b5b5b 84px,#676767 87px,#606060 92px,#595959 94px,#6e6e6e 101px,#707070 102px,#4e4e4e 105px,#2b2b2b 107px,#252525 110px,#232323 113px,#444444 115px,#575757 117px,#4c4c4c 120px,#464646 121px,#4f4f4f 122px,#7d7d7d 123px,#909090 124px,#9d9d9d 125px,#a2a2a2 129px,#777777 131px,#343434 133px,#2d2d2d 134px,#2a2a2a 137px,#3d3d3d 140px,#414141 141px,#8f8f8f 144px,#a6a6a6 145px,#afafaf 147px,#bbbbbb 153px,#b2b2b2 161px,#adadad 163px,#b8b8b8 168px,#b9b9b9 180px,#a1a1a1 183px,#a2a2a2 186px,#b9b9b9 189px,#b6b6b6 192px,#bdbdbd 195px,#bfbfbf 203px,#a7a7a7 205px,#9a9a9a 206px,#989898 208px,#999999 209px,#b3b3b3 211px,#c2c2c2 212px,#c8c8c8 214px,#cfcfcf 225px,#bdbdbd 228px,#c1c1c1 232px,#d1d1d1 235px,#d9d9d9 283px,#d9d9d9 292px,#d1d1d1 294px,#dadada 300px,#dbdbdb 302px)"></div>
<div style="top:355px;background:linear-gradient(90deg,#4d4d4d 0px,#595959 1px,#626262 3px,#696969 10px,#6c6c6c 37px,#5b5b5b 42px,#595959 45px,#676767 47px,#7d7d7d 48px,#838383 49px,#7e7e7e 54px,#727272 55px,#454545 56px,#2c2c2c 57px,#1d1d1d 58px,#1d1d1d 62px,#212121 63px,#393939 64px,#565656 66px,#616161 67px,#646464 77px,#595959 80px,#5c5c5c 84px,#676767 87px,#606060 92px,#595959 94px,#6c6c6c 100px,#707070 102px,#4d4d4d 105px,#2a2a2a 107px,#232323 113px,#444444 115px,#585858 117px,#454545 121px,#525252 122px,#7f7f7f 123px,#9e9e9e 125px,#a2a2a2 129px,#767676 131px,#323232 133px,#2c2c2c 135px,#2a2a2a 137px,#3d3d3d 140px,#414141 141px,#797979 143px,#a7a7a7 145px,#bbbbbb 152px,#b1b1b1 161px,#acacac 163px,#b7b7b7 168px,#b9b9b9 180px,#a1a1a1 183px,#a2a2a2 186px,#b9b9b9 189px,#b4b4b4 191px,#bdbdbd 196px,#bfbfbf 203px,#999999 206px,#979797 208px,#999999 209px,#c3c3c3 212px,#c8c8c8 214px,#cfcfcf 225px,#bdbdbd 228px,#c0c0c0 232px,#d1d1d1 235px,#d9d9d9 286px,#d9d9d9 292px,#d1d1d1 294px,#dadada 300px,#dbdbdb 302px)"></div>
<div style="top:356px;background:linear-gradient(90deg,#4d4d4d 0px,#595959 1px,#626262 3px,#696969 10px,#6c6c6c 37px,#5b5b5b 42px,#595959 45px,#686868 47px,#808080 48px,#7f7f7f 53px,#7e7e7e 54px,#6c6c6c 55px,#3f3f3f 56px,#292929 57px,#1d1d1d 58px,#1d1d1d 62px,#242424 63px,#3c3c3c 64px,#585858 66px,#616161 67px,#646464 77px,#595959 80px,#5c5c5c 84px,#676767 87px,#5f5f5f 92px,#595959 94px,#6c6c6c 100px,#707070 102px,#4c4c4c 105px,#292929 107px,#232323 113px,#454545 115px,#585858 117px,#454545 121px,#555555 122px,#828282 123px,#9f9f9f 125px,#a2a2a2 129px,#747474 131px,#303030 133px,#2a2a2a 137px,#3d3d3d 140px,#414141 141px,#7b7b7b 143px,#a8a8a8 145px,#bababa 152px,#b1b1b1 161px,#acacac 163px,#b7b7b7 168px,#b9b9b9 180px,#a0a0a0 183px,#a2a2a2 186px,#b9b9b9 189px,#b4b4b4 191px,#bdbdbd 195px,#bfbfbf 203px,#989898 206px,#989898 209px,#c3c3c3 212px,#c8c8c8 215px,#cecece 225px,#bcbcbc 228px,#c0c0c0 232px,#d1d1d1 235px,#d8d8d8 290px,#d5d5d5 293px,#d0d0d0 294px,#d9d9d9 299px,#dbdbdb 302px)"></div>
<div style="top:357px;background:linear-gradient(90deg,#4d4d4d 0px,#595959 1px,#626262 3px,#696969 10px,#6c6c6c 37px,#5b5b5b 42px,#585858 44px,#626262 46px,#696969 47px,#838383 48px,#7e7e7e 54px,#666666 55px,#3a3a3a 56px,#262626 57px,#1d1d1d 58px,#1d1d1d 62px,#272727 63px,#3e3e3e 64px,#595959 66px,#616161 67px,#646464 77px,#595959 80px,#5d5d5d 84px,#676767 87px,#5f5f5f 92px,#5a5a5a 94px,#6c6c6c 100px,#707070 102px,#4b4b4b 105px,#282828 107px,#232323 113px,#464646 115px,#595959 117px,#444444 121px,#585858 122px,#858585 123px,#a0a0a0 125px,#a2a2a2 129px,#737373 131px,#2d2d2d 133px,#292929 137px,#393939 139px,#414141 141px,#7c7c7c 143px,#a9a9a9 145px,#bababa 152px,#b0b0b0 161px,#acacac 163px,#b7b7b7 168px,#b9b9b9 180px,#9f9f9f 183px,#a2a2a2 186px,#b9b9b9 189px,#b3b3b3 191px,#bdbdbd 195px,#bebebe 203px,#979797 206px,#989898 209px,#c3c3c3 212px,#cecece 225px,#bcbcbc 228px,#c0c0c0 232px,#d1d1d1 235px,#d8d8d8 292px,#d0d0d0 294px,#d9d9d9 299px,#dadada 302px)"></div>
<div style="top:358px;background:linear-gradient(90deg,#4d4d4d 0px,#595959 1px,#626262 3px,#696969 10px,#6b6b6b 37px,#5b5b5b 42px,#585858 44px,#636363 46px,#6d6d6d 47px,#838383 48px,#7e7e7e 54px,#5f5f5f 55px,#373737 56px,#232323 57px,#1d1d1d 58px,#1d1d1d 62px,#2a2a2a 63px,#414141 64px,#5b5b5b 66px,#616161 67px,#636363 77px,#595959 80px,#5d5d5d 84px,#676767 87px,#5f5f5f 92px,#5a5a5a 94px,#6c6c6c 100px,#707070 102px,#4a4a4a 105px,#272727 107px,#242424 113px,#383838 114px,#505050 116px,#595959 117px,#444444 121px,#5b5b5b 122px,#868686 123px,#a0a0a0 125px,#a0a0a0 129px,#707070 131px,#2d2d2d 133px,#2a2a2a 137px,#393939 139px,#434343 141px,#7d7d7d 143px,#a9a9a9 145px,#bababa 152px,#b0b0b0 161px,#ababab 163px,#b7b7b7 168px,#b8b8b8 180px,#9e9e9e 183px,#a2a2a2 186px,#b9b9b9 189px,#b3b3b3 191px,#bcbcbc 195px,#bebebe 203px,#969696 206px,#989898 209px,#c4c4c4 212px,#cecece 225px,#bbbbbb 228px,#c0c0c0 232px,#d1d1d1 235px,#d8d8d8 292px,#cfcfcf 294px,#d9d9d9 299px,#dadada 302px)"></div>
<div style="top:359px;background:linear-gradient(90deg,#4d4d4d 0px,#5a5a5a 1px,#626262 3px,#696969 10px,#6b6b6b 37px,#5c5c5c 41px,#575757 44px,#646464 46px,#838383 48px,#7e7e7e 54px,#343434 56px,#202020 57px,#1d1d1d 62px,#2d2d2d 63px,#434343 64px,#5c5c5c 66px,#626262 68px,#636363 77px,#595959 80px,#5e5e5e 84px,#666666 87px,#5e5e5e 92px,#5a5a5a 94px,#6c6c6c 100px,#6f6f6f 102px,#494949 105px,#272727 107px,#252525 113px,#393939 114px,#515151 116px,#585858 117px,#444444 121px,#5e5e5e 122px,#878787 123px,#a0a0a0 125px,#9e9e9e 129px,#6e6e6e 131px,#2d2d2d 133px,#2a2a2a 137px,#454545 141px,#7f7f7f 143px,#a9a9a9 145px,#bababa 152px,#afafaf 161px,#ababab 163px,#b6b6b6 168px,#b8b8b8 180px,#9e9e9e 183px,#a1a1a1 186px,#bababa 189px,#b2b2b2 191px,#bcbcbc 195px,#bebebe 203px,#959595 206px,#989898 209px,#c4c4c4 212px,#cecece 225px,#bbbbbb 228px,#bfbfbf 232px,#d1d1d1 235px,#d8d8d8 292px,#cfcfcf 294px,#d9d9d9 299px,#dadada 302px)"></div>
<div style="top:360px;background:linear-gradient(90deg,#4d4d4d 0px,#5a5a5a 1px,#626262 3px,#696969 9px,#6d6d6d 36px,#5c5c5c 41px,#575757 44px,#656565 46px,#838383 48px,#7c7c7c 54px,#505050 55px,#303030 56px,#1d1d1d 57px,#1d1d1d 62px,#454545 64px,#5e5e5e 66px,#646464 75px,#626262 77px,#595959 80px,#5e5e5e 84px,#666666 87px,#5e5e5e 92px,#5b5b5b 94px,#6f6f6f 101px,#6e6e6e 102px,#484848 105px,#272727 107px,#242424 112px,#272727 113px,#3b3b3b 114px,#515151 116px,#585858 117px,#434343 121px,#626262 122px,#888888 123px,#a0a0a0 125px,#a1a1a1 128px,#9c9c9c 129px,#6b6b6b 131px,#484848 132px,#2c2c2c 133px,#2a2a2a 137px,#3d3d3d 140px,#474747 141px,#808080 143px,#a9a9a9 145px,#b9b9b9 152px,#afafaf 161px,#ababab 163px,#b6b6b6 168px,#b7b7b7 180px,#9d9d9d 183px,#a1a1a1 186px,#b9b9b9 189px,#b2b2b2 191px,#bcbcbc 195px,#bdbdbd 203px,#949494 206px,#989898 209px,#c5c5c5 212px,#cdcdcd 225px,#bababa 228px,#bfbfbf 232px,#d1d1d1 235px,#d7d7d7 292px,#cecece 294px,#d8d8d8 299px,#d9d9d9 302px)"></div>
<div style="top:361px;background:linear-gradient(90deg,#4d4d4d 0px,#5a5a5a 1px,#626262 3px,#696969 9px,#6d6d6d 36px,#5c5c5c 41px,#575757 44px,#666666 46px,#7a7a7a 47px,#838383 48px,#7e7e7e 53px,#757575 54px,#484848 55px,#2d2d2d 56px,#1d1d1d 57px,#1e1e1e 62px,#353535 63px,#474747 64px,#606060 66px,#656565 76px,#595959 79px,#5b5b5b 83px,#676767 86px,#616161 91px,#5a5a5a 93px,#6f6f6f 101px,#6d6d6d 102px,#464646 105px,#272727 107px,#232323 112px,#282828 113px,#3c3c3c 114px,#525252 116px,#585858 117px,#424242 121px,#898989 123px,#a0a0a0 125px,#a1a1a1 128px,#9a9a9a 129px,#686868 131px,#454545 132px,#2c2c2c 133px,#2b2b2b 137px,#3d3d3d 140px,#4a4a4a 141px,#828282 143px,#999999 144px,#a9a9a9 145px,#b9b9b9 152px,#aeaeae 161px,#ababab 163px,#b6b6b6 168px,#b6b6b6 180px,#9d9d9d 183px,#a2a2a2 186px,#b9b9b9 189px,#b2b2b2 191px,#bbbbbb 195px,#bcbcbc 203px,#949494 206px,#989898 209px,#c5c5c5 212px,#cdcdcd 225px,#b9b9b9 228px,#bfbfbf 232px,#d1d1d1 235px,#d7d7d7 292px,#cecece 294px,#d7d7d7 298px,#d9d9d9 302px)"></div>
<div style="top:362px;background:linear-gradient(90deg,#4d4d4d 0px,#5a5a5a 1px,#626262 3px,#696969 9px,#6d6d6d 36px,#5b5b5b 41px,#595959 44px,#676767 46px,#7f7f7f 47px,#828282 49px,#7e7e7e 53px,#6d6d6d 54px,#3f3f3f 55px,#292929 56px,#1d1d1d 57px,#1d1d1d 61px,#222222 62px,#393939 63px,#555555 65px,#616161 66px,#656565 76px,#595959 79px,#5b5b5b 83px,#676767 86px,#606060 91px,#5a5a5a 93px,#6f6f6f 101px,#6c6c6c 102px,#454545 105px,#333333 106px,#272727 107px,#232323 112px,#2a2a2a 113px,#3e3e3e 114px,#535353 116px,#575757 117px,#424242 121px,#6a6a6a 122px,#8a8a8a 123px,#a0a0a0 125px,#a1a1a1 128px,#989898 129px,#656565 131px,#424242 132px,#2c2c2c 133px,#292929 136px,#2b2b2b 137px,#3d3d3d 140px,#4c4c4c 141px,#848484 143px,#9a9a9a 144px,#a9a9a9 145px,#b9b9b9 152px,#aeaeae 161px,#aaaaaa 163px,#b5b5b5 168px,#b5b5b5 180px,#9d9d9d 183px,#a2a2a2 186px,#b8b8b8 189px,#b2b2b2 191px,#bbbbbb 195px,#bbbbbb 203px,#939393 206px,#989898 209px,#c5c5c5 212px,#cccccc 225px,#b9b9b9 228px,#bfbfbf 232px,#d1d1d1 235px,#d7d7d7 292px,#cdcdcd 294px,#d7d7d7 298px,#d9d9d9 302px)"></div>
<div style="top:363px;background:linear-gradient(90deg,#4d4d4d 0px,#5a5a5a 1px,#626262 3px,#696969 9px,#6c6c6c 36px,#5b5b5b 41px,#5a5a5a 44px,#696969 46px,#838383 47px,#7e7e7e 53px,#646464 54px,#393939 55px,#252525 56px,#1d1d1d 57px,#1d1d1d 61px,#262626 62px,#3d3d3d 63px,#585858 65px,#616161 66px,#646464 76px,#595959 79px,#5c5c5c 83px,#676767 86px,#606060 91px,#595959 93px,#6f6f6f 101px,#6b6b6b 102px,#434343 105px,#313131 106px,#272727 107px,#232323 112px,#2c2c2c 113px,#404040 114px,#545454 116px,#575757 117px,#414141 121px,#6e6e6e 122px,#8c8c8c 123px,#999999 124px,#a0a0a0 125px,#a1a1a1 128px,#969696 129px,#7e7e7e 130px,#616161 131px,#3e3e3e 132px,#2c2c2c 133px,#282828 136px,#3d3d3d 140px,#4e4e4e 141px,#868686 143px,#9c9c9c 144px,#a9a9a9 145px,#b8b8b8 152px,#adadad 161px,#aaaaaa 163px,#b5b5b5 168px,#b4b4b4 180px,#9d9d9d 183px,#a2a2a2 186px,#b8b8b8 189px,#b2b2b2 191px,#bbbbbb 195px,#bababa 203px,#939393 206px,#999999 209px,#c4c4c4 212px,#cbcbcb 225px,#b9b9b9 228px,#bfbfbf 232px,#d0d0d0 235px,#d6d6d6 292px,#cdcdcd 294px,#d7d7d7 298px,#d8d8d8 302px)"></div>
<div style="top:364px;background:linear-gradient(90deg,#4d4d4d 0px,#5a5a5a 1px,#626262 3px,#696969 9px,#6c6c6c 36px,#5b5b5b 41px,#585858 43px,#636363 45px,#6e6e6e 46px,#838383 47px,#7e7e7e 53px,#353535 55px,#212121 56px,#1d1d1d 58px,#1d1d1d 61px,#2a2a2a 62px,#414141 63px,#5a5a5a 65px,#616161 66px,#636363 76px,#595959 79px,#5d5d5d 83px,#676767 86px,#5f5f5f 91px,#595959 93px,#6b6b6b 99px,#707070 101px,#6a6a6a 102px,#424242 105px,#303030 106px,#272727 107px,#232323 112px,#2e2e2e 113px,#414141 114px,#555555 116px,#565656 117px,#444444 121px,#727272 122px,#8d8d8d 123px,#9a9a9a 124px,#a0a0a0 125px,#a1a1a1 128px,#949494 129px,#7c7c7c 130px,#5e5e5e 131px,#3b3b3b 132px,#2b2b2b 133px,#282828 136px,#3d3d3d 140px,#515151 141px,#888888 143px,#9e9e9e 144px,#a9a9a9 145px,#b8b8b8 152px,#afafaf 160px,#aaaaaa 163px,#b5b5b5 168px,#b6b6b6 179px,#b3b3b3 180px,#9c9c9c 183px,#a2a2a2 186px,#b7b7b7 189px,#b2b2b2 191px,#bababa 195px,#bcbcbc 202px,#b9b9b9 203px,#939393 206px,#9a9a9a 209px,#c4c4c4 212px,#cbcbcb 225px,#b8b8b8 228px,#bfbfbf 232px,#d0d0d0 235px,#d6d6d6 292px,#cccccc 294px,#d6d6d6 298px,#d8d8d8 302px)"></div>
<div style="top:365px;background:linear-gradient(90deg,#4d4d4d 0px,#5a5a5a 1px,#626262 3px,#696969 9px,#6b6b6b 36px,#5a5a5a 41px,#575757 43px,#646464 45px,#838383 47px,#7c7c7c 53px,#505050 54px,#303030 55px,#1d1d1d 56px,#1d1d1d 61px,#444444 63px,#5c5c5c 65px,#626262 67px,#636363 76px,#595959 79px,#5d5d5d 83px,#666666 86px,#5f5f5f 91px,#5a5a5a 93px,#6c6c6c 99px,#707070 101px,#696969 102px,#404040 105px,#2e2e2e 106px,#272727 107px,#232323 112px,#303030 113px,#424242 114px,#565656 116px,#565656 117px,#474747 120px,#484848 121px,#767676 122px,#8e8e8e 123px,#9b9b9b 124px,#a0a0a0 126px,#a1a1a1 128px,#919191 129px,#797979 130px,#373737 132px,#2b2b2b 133px,#272727 136px,#3d3d3d 140px,#545454 141px,#717171 142px,#a0a0a0 144px,#a8a8a8 145px,#b7b7b7 152px,#afafaf 160px,#aaaaaa 163px,#b4b4b4 168px,#b6b6b6 179px,#b2b2b2 180px,#a1a1a1 182px,#9c9c9c 183px,#a2a2a2 186px,#b3b3b3 188px,#b6b6b6 189px,#b1b1b1 191px,#bababa 195px,#bbbbbb 202px,#b7b7b7 203px,#9c9c9c 205px,#929292 206px,#959595 208px,#9a9a9a 209px,#b8b8b8 211px,#c4c4c4 212px,#cacaca 225px,#b8b8b8 228px,#bfbfbf 232px,#d0d0d0 235px,#d5d5d5 292px,#cccccc 294px,#d6d6d6 298px,#d7d7d7 302px)"></div>
<div style="top:366px;background:linear-gradient(90deg,#4d4d4d 0px,#5a5a5a 1px,#626262 3px,#696969 9px,#6a6a6a 36px,#5c5c5c 40px,#575757 43px,#666666 45px,#797979 46px,#838383 47px,#7e7e7e 52px,#737373 53px,#464646 54px,#2c2c2c 55px,#1d1d1d 56px,#1d1d1d 61px,#464646 63px,#5f5f5f 65px,#656565 75px,#595959 79px,#5e5e5e 83px,#666666 85px,#616161 90px,#5a5a5a 93px,#6c6c6c 99px,#707070 101px,#5b5b5b 103px,#3e3e3e 105px,#2c2c2c 106px,#262626 108px,#232323 112px,#434343 114px,#575757 116px,#4c4c4c 119px,#464646 120px,#4d4d4d 121px,#7b7b7b 122px,#909090 123px,#9d9d9d 124px,#a1a1a1 128px,#8e8e8e 129px,#777777 130px,#333333 132px,#2b2b2b 133px,#272727 136px,#3a3a3a 139px,#3d3d3d 140px,#747474 142px,#a2a2a2 144px,#ababab 146px,#b7b7b7 152px,#aeaeae 160px,#aaaaaa 163px,#b4b4b4 167px,#b5b5b5 179px,#a8a8a8 181px,#9c9c9c 183px,#a3a3a3 186px,#b3b3b3 188px,#b6b6b6 189px,#b1b1b1 191px,#bababa 195px,#bbbbbb 202px,#b6b6b6 203px,#9a9a9a 205px,#929292 206px,#959595 208px,#9b9b9b 209px,#b9b9b9 211px,#c3c3c3 212px,#c9c9c9 225px,#b8b8b8 228px,#bfbfbf 232px,#cfcfcf 235px,#d5d5d5 292px,#cbcbcb 294px,#d6d6d6 298px,#d7d7d7 302px)"></div>
<div style="top:367px;background:linear-gradient(90deg,#4d4d4d 0px,#5a5a5a 1px,#626262 3px,#696969 9px,#6d6d6d 35px,#5b5b5b 40px,#585858 43px,#676767 45px,#7f7f7f 46px,#828282 48px,#7e7e7e 52px,#686868 53px,#3b3b3b 54px,#272727 55px,#1d1d1d 56px,#1d1d1d 60px,#232323 61px,#393939 62px,#616161 65px,#656565 75px,#595959 78px,#5b5b5b 82px,#676767 85px,#5e5e5e 91px,#5b5b5b 93px,#6e6e6e 100px,#707070 101px,#4d4d4d 104px,#2a2a2a 106px,#232323 112px,#444444 114px,#585858 116px,#454545 120px,#535353 121px,#808080 122px,#9e9e9e 124px,#a1a1a1 128px,#747474 130px,#2f2f2f 132px,#272727 136px,#3a3a3a 139px,#3e3e3e 140px,#777777 142px,#a4a4a4 144px,#b6b6b6 152px,#adadad 160px,#aaaaaa 163px,#b3b3b3 167px,#b5b5b5 179px,#9e9e9e 182px,#9d9d9d 184px,#a3a3a3 186px,#b3b3b3 188px,#b5b5b5 189px,#b1b1b1 191px,#b9b9b9 195px,#bbbbbb 202px,#b4b4b4 203px,#999999 205px,#929292 206px,#949494 208px,#9c9c9c 209px,#bababa 211px,#c3c3c3 212px,#cacaca 224px,#c2c2c2 226px,#b8b8b8 228px,#bfbfbf 232px,#cfcfcf 235px,#d4d4d4 292px,#cbcbcb 294px,#d5d5d5 298px,#d7d7d7 302px)"></div>
<div style="top:368px;background:linear-gradient(90deg,#4d4d4d 0px,#5a5a5a 1px,#626262 3px,#696969 9px,#6d6d6d 35px,#5b5b5b 40px,#5a5a5a 43px,#696969 45px,#838383 46px,#7e7e7e 52px,#5d5d5d 53px,#363636 54px,#222222 55px,#1d1d1d 57px,#1d1d1d 60px,#282828 61px,#3e3e3e 62px,#616161 65px,#646464 75px,#595959 78px,#5c5c5c 82px,#676767 85px,#606060 90px,#5a5a5a 92px,#707070 101px,#4c4c4c 104px,#282828 106px,#232323 112px,#454545 114px,#595959 116px,#444444 120px,#585858 121px,#858585 122px,#a0a0a0 124px,#a1a1a1 128px,#717171 130px,#2b2b2b 132px,#262626 136px,#363636 138px,#3f3f3f 140px,#7a7a7a 142px,#a6a6a6 144px,#b6b6b6 151px,#adadad 160px,#a8a8a8 162px,#b3b3b3 167px,#b5b5b5 179px,#9d9d9d 182px,#9e9e9e 185px,#b4b4b4 188px,#b1b1b1 191px,#b9b9b9 195px,#bababa 202px,#b3b3b3 203px,#979797 205px,#929292 206px,#949494 208px,#9d9d9d 209px,#bbbbbb 211px,#c3c3c3 212px,#cacaca 224px,#c1c1c1 226px,#b7b7b7 228px,#bfbfbf 232px,#cecece 235px,#d3d3d3 292px,#cbcbcb 294px,#d5d5d5 298px,#d6d6d6 302px)"></div>
<div style="top:369px;background:linear-gradient(90deg,#4d4d4d 0px,#5a5a5a 1px,#626262 3px,#696969 9px,#6c6c6c 35px,#5b5b5b 40px,#585858 42px,#636363 44px,#707070 45px,#838383 46px,#7d7d7d 52px,#515151 53px,#313131 54px,#1d1d1d 55px,#1d1d1d 60px,#434343 62px,#5a5a5a 64px,#616161 65px,#646464 75px,#595959 78px,#5d5d5d 82px,#676767 85px,#606060 90px,#595959 92px,#6f6f6f 100px,#6f6f6f 101px,#4a4a4a 104px,#272727 106px,#252525 112px,#393939 113px,#505050 115px,#595959 116px,#444444 120px,#5d5d5d 121px,#878787 122px,#a0a0a0 124px,#9e9e9e 128px,#6c6c6c 130px,#2b2b2b 132px,#272727 136px,#424242 140px,#7c7c7c 142px,#a6a6a6 144px,#b6b6b6 151px,#acacac 160px,#a7a7a7 162px,#b3b3b3 167px,#b4b4b4 179px,#9c9c9c 182px,#9d9d9d 185px,#b4b4b4 188px,#b1b1b1 191px,#b8b8b8 195px,#bababa 202px,#b1b1b1 203px,#969696 205px,#919191 206px,#949494 208px,#9d9d9d 209px,#bbbbbb 211px,#c2c2c2 212px,#c9c9c9 224px,#b7b7b7 228px,#bfbfbf 232px,#cecece 235px,#d3d3d3 292px,#cacaca 294px,#d4d4d4 298px,#d6d6d6 302px)"></div>
<div style="top:370px;background:linear-gradient(90deg,#4e4e4e 0px,#5b5b5b 1px,#626262 3px,#696969 9px,#6c6c6c 35px,#5c5c5c 39px,#575757 42px,#656565 44px,#838383 46px,#7e7e7e 51px,#727272 52px,#454545 53px,#2b2b2b 54px,#1d1d1d 55px,#1d1d1d 60px,#464646 62px,#5d5d5d 64px,#626262 67px,#636363 75px,#595959 78px,#5e5e5e 82px,#666666 85px,#5f5f5f 90px,#595959 92px,#6d6d6d 99px,#6d6d6d 101px,#484848 104px,#272727 106px,#242424 111px,#272727 112px,#3b3b3b 113px,#515151 115px,#585858 116px,#434343 120px,#888888 122px,#a0a0a0 124px,#a1a1a1 127px,#9b9b9b 128px,#686868 130px,#454545 131px,#2b2b2b 132px,#282828 136px,#3a3a3a 139px,#464646 140px,#7e7e7e 142px,#959595 143px,#a5a5a5 144px,#b6b6b6 151px,#ababab 160px,#a7a7a7 162px,#b2b2b2 167px,#b4b4b4 179px,#9b9b9b 182px,#9d9d9d 185px,#b4b4b4 188px,#afafaf 190px,#b8b8b8 194px,#b9b9b9 202px,#a2a2a2 204px,#949494 205px,#929292 207px,#939393 208px,#adadad 210px,#bcbcbc 211px,#c2c2c2 213px,#c9c9c9 224px,#b8b8b8 227px,#bbbbbb 231px,#cdcdcd 235px,#d2d2d2 292px,#cacaca 294px,#d4d4d4 298px,#d5d5d5 302px)"></div>
<div style="top:371px;background:linear-gradient(90deg,#4e4e4e 0px,#5b5b5b 1px,#626262 3px,#696969 9px,#6b6b6b 35px,#5c5c5c 39px,#575757 42px,#676767 44px,#7d7d7d 45px,#838383 46px,#7e7e7e 51px,#666666 52px,#3a3a3a 53px,#262626 54px,#1d1d1d 55px,#1d1d1d 59px,#242424 60px,#3a3a3a 61px,#606060 64px,#656565 74px,#5a5a5a 77px,#5b5b5b 81px,#676767 84px,#5e5e5e 90px,#5a5a5a 92px,#6b6b6b 98px,#6f6f6f 100px,#6c6c6c 101px,#464646 104px,#343434 105px,#272727 106px,#232323 111px,#2a2a2a 112px,#3e3e3e 113px,#535353 115px,#575757 116px,#424242 120px,#696969 121px,#8a8a8a 122px,#a0a0a0 124px,#a1a1a1 127px,#989898 128px,#636363 130px,#404040 131px,#2a2a2a 132px,#262626 135px,#282828 136px,#3a3a3a 139px,#494949 140px,#818181 142px,#979797 143px,#a5a5a5 144px,#b5b5b5 151px,#ababab 160px,#a6a6a6 162px,#b2b2b2 167px,#b3b3b3 179px,#999999 182px,#9d9d9d 185px,#b5b5b5 188px,#aeaeae 190px,#b7b7b7 194px,#b9b9b9 202px,#929292 205px,#939393 208px,#bdbdbd 211px,#c2c2c2 214px,#c9c9c9 224px,#b7b7b7 227px,#bababa 231px,#cdcdcd 235px,#d1d1d1 292px,#cacaca 294px,#d3d3d3 298px,#d5d5d5 302px)"></div>
<div style="top:372px;background:linear-gradient(90deg,#4e4e4e 0px,#5b5b5b 1px,#646464 4px,#696969 10px,#6d6d6d 34px,#5b5b5b 39px,#595959 42px,#696969 44px,#838383 45px,#7e7e7e 51px,#343434 53px,#202020 54px,#1d1d1d 59px,#2a2a2a 60px,#404040 61px,#616161 64px,#656565 74px,#595959 77px,#5b5b5b 81px,#676767 84px,#616161 89px,#5b5b5b 92px,#6e6e6e 99px,#707070 100px,#6a6a6a 101px,#434343 104px,#313131 105px,#272727 106px,#232323 111px,#2c2c2c 112px,#404040 113px,#545454 115px,#575757 116px,#414141 120px,#6f6f6f 121px,#8c8c8c 122px,#999999 123px,#a0a0a0 124px,#a1a1a1 127px,#949494 128px,#7c7c7c 129px,#5e5e5e 130px,#3b3b3b 131px,#2a2a2a 132px,#252525 135px,#3a3a3a 139px,#4d4d4d 140px,#848484 142px,#9a9a9a 143px,#a5a5a5 144px,#b4b4b4 151px,#aaaaaa 160px,#a6a6a6 162px,#b1b1b1 167px,#b2b2b2 179px,#989898 182px,#9c9c9c 185px,#b5b5b5 188px,#adadad 190px,#b7b7b7 194px,#b8b8b8 202px,#909090 205px,#939393 208px,#bebebe 211px,#c8c8c8 224px,#b6b6b6 227px,#bababa 231px,#cacaca 234px,#d2d2d2 286px,#d0d0d0 292px,#cacaca 294px,#d3d3d3 298px,#d4d4d4 302px)"></div>
<div style="top:373px;background:linear-gradient(90deg,#4e4e4e 0px,#5b5b5b 1px,#646464 4px,#696969 10px,#6d6d6d 34px,#5b5b5b 39px,#585858 41px,#636363 43px,#6f6f6f 44px,#838383 45px,#7f7f7f 50px,#777777 51px,#4b4b4b 52px,#2e2e2e 53px,#1d1d1d 54px,#1d1d1d 59px,#444444 61px,#5b5b5b 63px,#616161 64px,#646464 74px,#595959 77px,#5c5c5c 81px,#676767 84px,#606060 89px,#5a5a5a 91px,#707070 100px,#515151 103px,#2f2f2f 105px,#272727 106px,#232323 111px,#2f2f2f 112px,#424242 113px,#555555 115px,#565656 116px,#474747 119px,#474747 120px,#757575 121px,#8e8e8e 122px,#9b9b9b 123px,#a0a0a0 125px,#a1a1a1 127px,#919191 128px,#797979 129px,#363636 131px,#292929 132px,#252525 135px,#3a3a3a 139px,#505050 140px,#6e6e6e 141px,#9d9d9d 143px,#a5a5a5 144px,#b4b4b4 151px,#a9a9a9 160px,#a6a6a6 162px,#b1b1b1 167px,#b1b1b1 179px,#989898 182px,#9d9d9d 185px,#b4b4b4 188px,#adadad 190px,#b6b6b6 194px,#b8b8b8 202px,#8e8e8e 205px,#929292 208px,#bfbfbf 211px,#c7c7c7 224px,#b5b5b5 227px,#bababa 231px,#cacaca 234px,#d2d2d2 291px,#c9c9c9 294px,#d2d2d2 298px,#d4d4d4 302px)"></div>
<div style="top:374px;background:linear-gradient(90deg,#4e4e4e 0px,#5b5b5b 1px,#646464 4px,#696969 10px,#6c6c6c 34px,#5b5b5b 39px,#575757 41px,#656565 43px,#767676 44px,#838383 45px,#7e7e7e 50px,#6a6a6a 51px,#3d3d3d 52px,#282828 53px,#1d1d1d 54px,#1d1d1d 58px,#222222 59px,#383838 60px,#535353 62px,#5f5f5f 63px,#636363 74px,#595959 77px,#5d5d5d 81px,#666666 84px,#5f5f5f 89px,#595959 91px,#6e6e6e 99px,#707070 100px,#4f4f4f 103px,#2c2c2c 105px,#272727 106px,#232323 111px,#434343 113px,#575757 115px,#4c4c4c 118px,#464646 119px,#4e4e4e 120px,#7b7b7b 121px,#909090 122px,#9d9d9d 123px,#a1a1a1 127px,#757575 129px,#303030 131px,#292929 132px,#242424 135px,#363636 138px,#3a3a3a 139px,#727272 141px,#a0a0a0 143px,#b3b3b3 150px,#aaaaaa 159px,#a6a6a6 162px,#b0b0b0 167px,#b2b2b2 178px,#afafaf 179px,#989898 182px,#9d9d9d 185px,#b3b3b3 188px,#adadad 190px,#b6b6b6 194px,#b6b6b6 202px,#8e8e8e 205px,#939393 208px,#bfbfbf 211px,#c7c7c7 224px,#b4b4b4 227px,#b9b9b9 231px,#cacaca 234px,#d1d1d1 291px,#c9c9c9 294px,#d2d2d2 298px,#d3d3d3 302px)"></div>
<div style="top:375px;background:linear-gradient(90deg,#4e4e4e 0px,#5b5b5b 1px,#646464 4px,#696969 10px,#6b6b6b 34px,#5c5c5c 38px,#575757 41px,#676767 43px,#7e7e7e 44px,#838383 45px,#7e7e7e 50px,#353535 52px,#212121 53px,#1d1d1d 55px,#1d1d1d 58px,#292929 59px,#3f3f3f 60px,#616161 63px,#656565 73px,#595959 77px,#5e5e5e 81px,#676767 83px,#5e5e5e 89px,#5a5a5a 91px,#6d6d6d 98px,#6f6f6f 100px,#4d4d4d 103px,#2a2a2a 105px,#232323 111px,#454545 113px,#585858 115px,#454545 119px,#545454 120px,#828282 121px,#9f9f9f 123px,#a1a1a1 127px,#717171 129px,#2b2b2b 131px,#242424 135px,#333333 137px,#3a3a3a 139px,#757575 141px,#a2a2a2 143px,#b2b2b2 151px,#a9a9a9 159px,#a5a5a5 162px,#afafaf 167px,#b1b1b1 178px,#adadad 179px,#9c9c9c 181px,#979797 182px,#9d9d9d 185px,#aeaeae 187px,#b2b2b2 188px,#acacac 190px,#b5b5b5 194px,#b7b7b7 201px,#b4b4b4 202px,#8d8d8d 205px,#939393 208px,#bebebe 211px,#c6c6c6 224px,#b3b3b3 227px,#b9b9b9 231px,#cacaca 234px,#d0d0d0 291px,#c8c8c8 293px,#d2d2d2 299px,#d2d2d2 302px)"></div>
<div style="top:376px;background:linear-gradient(90deg,#4e4e4e 0px,#5b5b5b 1px,#666666 5px,#6b6b6b 23px,#6b6b6b 34px,#5b5b5b 38px,#595959 41px,#696969 43px,#838383 44px,#7f7f7f 49px,#797979 50px,#4d4d4d 51px,#2f2f2f 52px,#1d1d1d 53px,#1d1d1d 58px,#444444 60px,#5b5b5b 62px,#616161 63px,#656565 73px,#595959 76px,#5c5c5c 80px,#676767 83px,#5d5d5d 89px,#5b5b5b 91px,#6d6d6d 98px,#6d6d6d 100px,#4b4b4b 103px,#272727 105px,#232323 111px,#373737 112px,#505050 114px,#595959 115px,#444444 119px,#5b5b5b 120px,#868686 121px,#a0a0a0 123px,#9e9e9e 127px,#6d6d6d 129px,#2a2a2a 131px,#242424 135px,#3e3e3e 139px,#787878 141px,#a2a2a2 143px,#b2b2b2 150px,#a9a9a9 159px,#a5a5a5 162px,#afafaf 166px,#b0b0b0 178px,#a3a3a3 180px,#9a9a9a 181px,#989898 183px,#9e9e9e 185px,#aeaeae 187px,#b1b1b1 188px,#acacac 190px,#b4b4b4 194px,#b6b6b6 201px,#b1b1b1 202px,#969696 204px,#8d8d8d 205px,#8f8f8f 207px,#949494 208px,#bebebe 211px,#c5c5c5 224px,#b2b2b2 227px,#b8b8b8 231px,#cacaca 234px,#d0d0d0 291px,#c7c7c7 293px,#d1d1d1 299px,#d2d2d2 302px)"></div>
<div style="top:377px;background:linear-gradient(90deg,#4e4e4e 0px,#5b5b5b 1px,#686868 6px,#6d6d6d 33px,#5b5b5b 38px,#585858 40px,#636363 42px,#838383 44px,#7e7e7e 49px,#6a6a6a 50px,#3d3d3d 51px,#282828 52px,#1d1d1d 53px,#1d1d1d 57px,#242424 58px,#393939 59px,#535353 61px,#5e5e5e 62px,#646464 73px,#595959 76px,#5d5d5d 80px,#676767 83px,#5d5d5d 89px,#5c5c5c 91px,#6e6e6e 98px,#707070 99px,#6b6b6b 100px,#494949 103px,#272727 105px,#242424 110px,#262626 111px,#3b3b3b 112px,#515151 114px,#585858 115px,#434343 119px,#636363 120px,#888888 121px,#a0a0a0 123px,#a1a1a1 126px,#9a9a9a 127px,#676767 129px,#434343 130px,#292929 131px,#252525 135px,#363636 138px,#434343 139px,#7b7b7b 141px,#929292 142px,#a1a1a1 143px,#b1b1b1 150px,#a7a7a7 159px,#a3a3a3 161px,#aeaeae 166px,#b0b0b0 178px,#989898 181px,#999999 184px,#aeaeae 187px,#acacac 190px,#b4b4b4 194px,#b5b5b5 201px,#afafaf 202px,#949494 204px,#8c8c8c 205px,#8f8f8f 207px,#959595 208px,#b3b3b3 210px,#bdbdbd 211px,#c3c3c3 224px,#b2b2b2 227px,#b8b8b8 231px,#c9c9c9 234px,#cfcfcf 291px,#c6c6c6 293px,#d0d0d0 298px,#d1d1d1 302px)"></div>
<div style="top:378px;background:linear-gradient(90deg,#4e4e4e 0px,#5c5c5c 1px,#686868 6px,#6d6d6d 33px,#5b5b5b 38px,#575757 40px,#656565 42px,#797979 43px,#838383 44px,#7e7e7e 49px,#353535 51px,#212121 52px,#1d1d1d 54px,#1d1d1d 57px,#2c2c2c 58px,#414141 59px,#616161 62px,#636363 73px,#595959 76px,#5e5e5e 80px,#666666 82px,#5f5f5f 88px,#595959 90px,#6c6c6c 97px,#707070 99px,#5e5e5e 101px,#464646 103px,#272727 105px,#232323 110px,#2a2a2a 111px,#3e3e3e 112px,#535353 114px,#575757 115px,#424242 119px,#6a6a6a 120px,#8a8a8a 121px,#989898 122px,#a0a0a0 123px,#a1a1a1 126px,#969696 127px,#616161 129px,#3d3d3d 130px,#292929 131px,#232323 134px,#2d2d2d 136px,#363636 138px,#474747 139px,#7e7e7e 141px,#959595 142px,#a1a1a1 143px,#b1b1b1 150px,#a6a6a6 159px,#a2a2a2 161px,#adadad 166px,#afafaf 178px,#969696 181px,#989898 184px,#aeaeae 187px,#ababab 190px,#b3b3b3 194px,#b4b4b4 201px,#adadad 202px,#919191 204px,#8c8c8c 205px,#8e8e8e 207px,#969696 208px,#b4b4b4 210px,#bcbcbc 211px,#c2c2c2 224px,#b1b1b1 227px,#b8b8b8 231px,#c8c8c8 234px,#cecece 291px,#c5c5c5 293px,#cfcfcf 298px,#d0d0d0 302px)"></div>
<div style="top:379px;background:linear-gradient(90deg,#4e4e4e 0px,#5c5c5c 1px,#686868 6px,#6c6c6c 33px,#5c5c5c 37px,#585858 40px,#686868 42px,#828282 43px,#7f7f7f 48px,#797979 49px,#4a4a4a 50px,#2e2e2e 51px,#1d1d1d 52px,#1f1f1f 57px,#454545 59px,#5b5b5b 61px,#616161 62px,#656565 72px,#595959 75px,#5b5b5b 79px,#676767 82px,#5e5e5e 88px,#5a5a5a 90px,#6d6d6d 97px,#707070 99px,#515151 102px,#313131 104px,#272727 105px,#232323 110px,#2d2d2d 111px,#414141 112px,#545454 114px,#575757 115px,#434343 119px,#717171 120px,#8d8d8d 121px,#9a9a9a 122px,#a0a0a0 123px,#a1a1a1 126px,#929292 127px,#7a7a7a 128px,#5b5b5b 129px,#373737 130px,#282828 131px,#232323 134px,#363636 138px,#4b4b4b 139px,#696969 140px,#989898 142px,#a1a1a1 143px,#b0b0b0 150px,#a5a5a5 159px,#a1a1a1 161px,#acacac 166px,#aeaeae 178px,#959595 181px,#979797 184px,#afafaf 187px,#a9a9a9 189px,#b2b2b2 193px,#b4b4b4 201px,#9d9d9d 203px,#8f8f8f 204px,#8b8b8b 205px,#8e8e8e 207px,#979797 208px,#b5b5b5 210px,#bcbcbc 211px,#c3c3c3 223px,#b1b1b1 227px,#b8b8b8 231px,#c7c7c7 234px,#cdcdcd 291px,#c4c4c4 293px,#cecece 297px,#cfcfcf 302px)"></div>
<div style="top:380px;background:linear-gradient(90deg,#4e4e4e 0px,#5c5c5c 1px,#696969 7px,#6b6b6b 33px,#5b5b5b 37px,#5a5a5a 40px,#6d6d6d 42px,#838383 43px,#7e7e7e 48px,#6a6a6a 49px,#3a3a3a 50px,#262626 51px,#1d1d1d 52px,#1d1d1d 56px,#282828 57px,#3d3d3d 58px,#606060 61px,#646464 72px,#595959 75px,#5c5c5c 79px,#676767 82px,#5d5d5d 88px,#5b5b5b 90px,#6d6d6d 97px,#6f6f6f 99px,#4f4f4f 102px,#2e2e2e 104px,#272727 105px,#232323 110px,#303030 111px,#434343 112px,#565656 114px,#515151 116px,#464646 118px,#4b4b4b 119px,#797979 120px,#8f8f8f 121px,#9c9c9c 122px,#a1a1a1 125px,#a1a1a1 126px,#8e8e8e 127px,#767676 128px,#313131 130px,#282828 131px,#222222 134px,#333333 137px,#363636 138px,#6d6d6d 140px,#9b9b9b 142px,#aeaeae 149px,#a6a6a6 158px,#a1a1a1 161px,#acacac 166px,#adadad 178px,#939393 181px,#979797 184px,#afafaf 187px,#a8a8a8 189px,#b1b1b1 193px,#b3b3b3 201px,#8d8d8d 204px,#8d8d8d 207px,#b6b6b6 210px,#bbbbbb 212px,#c2c2c2 223px,#b0b0b0 227px,#b8b8b8 231px,#c6c6c6 234px,#cccccc 291px,#c2c2c2 293px,#cdcdcd 297px,#cecece 302px)"></div>
<div style="top:381px;background:linear-gradient(90deg,#4e4e4e 0px,#5c5c5c 1px,#696969 7px,#6d6d6d 32px,#5b5b5b 37px,#585858 39px,#646464 41px,#838383 43px,#7e7e7e 48px,#333333 50px,#1f1f1f 51px,#1d1d1d 56px,#434343 58px,#616161 61px,#636363 72px,#595959 75px,#5d5d5d 79px,#666666 82px,#5c5c5c 88px,#595959 89px,#6e6e6e 97px,#6d6d6d 99px,#4d4d4d 102px,#2b2b2b 104px,#262626 106px,#232323 110px,#444444 112px,#585858 114px,#454545 118px,#535353 119px,#818181 120px,#9f9f9f 122px,#a1a1a1 126px,#717171 128px,#2a2a2a 130px,#212121 134px,#2f2f2f 136px,#373737 138px,#717171 140px,#9d9d9d 142px,#aeaeae 150px,#a5a5a5 158px,#a0a0a0 161px,#ababab 166px,#aaaaaa 178px,#929292 181px,#979797 184px,#aeaeae 187px,#a7a7a7 189px,#b0b0b0 193px,#b2b2b2 201px,#8a8a8a 204px,#8c8c8c 207px,#b7b7b7 210px,#c1c1c1 223px,#b0b0b0 226px,#b3b3b3 230px,#c5c5c5 234px,#cbcbcb 291px,#c1c1c1 293px,#cccccc 297px,#cdcdcd 302px)"></div>
</div>
<svg width="350" height="413" viewBox="0 0 350 413">
<defs><filter id="bl" x="-50%" y="-50%" width="200%" height="200%"><feGaussianBlur stdDeviation="0.6"/></filter></defs>
<ellipse cx="179.4" cy="79.0" rx="1.6" ry="1.2" fill="#444444" filter="url(#bl)"/>
<ellipse cx="285.7" cy="124.0" rx="2.2" ry="1.6" fill="#f4f4f4" filter="url(#bl)"/>
<ellipse cx="322.0" cy="160.5" rx="2.8" ry="2.2" fill="#f0f0f0" filter="url(#bl)"/>
<ellipse cx="319.5" cy="164.0" rx="2.2" ry="1.6" fill="#e8e8e8" filter="url(#bl)"/>
<ellipse cx="198.5" cy="150.5" rx="2.2" ry="1.5" fill="#6a6a6a" filter="url(#bl)"/>
<ellipse cx="86.0" cy="249.1" rx="2.4" ry="1.5" fill="#d0d0d0" filter="url(#bl)"/>
<ellipse cx="97.4" cy="236.0" rx="2.5" ry="2.0" fill="#5a5a5a" filter="url(#bl)"/>
<ellipse cx="207.7" cy="345.1" rx="2.5" ry="1.3" fill="#4a4a4a" filter="url(#bl)"/>
<ellipse cx="265.7" cy="341.7" rx="2.2" ry="1.6" fill="#f8f8f8" filter="url(#bl)"/>
<line x1="42" y1="95.2" x2="79.5" y2="95.2" stroke="#f0f0f0" stroke-width="1"/>
<polyline points="79.50,95.0 79.75,95.4 80.25,95.1 81.25,95.3 81.50,95.0 81.75,95.0 82.00,95.4 82.25,95.2 82.50,95.3 82.75,95.0 83.25,95.3 83.50,95.1 83.75,95.4 84.00,95.4 84.25,95.0 84.50,95.0 85.00,95.4 85.50,95.1 85.75,95.2 86.00,95.0 86.75,95.2 87.50,95.1 88.25,95.0 88.50,95.4 89.25,95.0 89.50,95.4 89.75,95.4 90.00,95.0 91.00,95.4 91.25,95.2 91.50,95.4 92.00,95.1 92.75,95.4 93.25,95.2 93.50,95.0 94.00,95.3 94.50,95.0 95.25,95.3 96.00,95.2 96.25,95.3 97.00,95.2 97.50,95.0 98.00,95.4 98.75,95.0 99.25,95.4 99.75,95.2 100.00,95.4 100.25,95.1 100.75,95.4 101.50,95.1 102.00,95.4 102.25,95.0 102.50,95.3 104.25,95.2 104.50,95.0 104.75,95.4 105.25,95.0 107.25,95.2 107.50,95.0 109.25,95.4 109.50,95.1 109.75,95.4 110.75,95.0 111.00,95.3 111.50,95.0 111.75,95.3 112.25,95.0 112.75,95.2 113.25,95.1 113.50,95.3 114.25,95.2 114.50,95.0 115.00,95.2 115.50,95.0 115.75,95.4 116.25,95.1 116.75,95.4 117.00,95.0 117.50,95.0 117.75,95.3 118.00,95.0 118.25,95.3 119.00,95.1 119.25,95.4 120.00,95.1 120.25,95.3 121.00,95.1 121.25,95.3 121.50,95.0 122.00,95.4 122.50,95.1 122.75,95.4 123.00,95.1 123.25,95.4 124.25,95.0 124.50,95.4 124.75,95.0 125.00,95.3 125.25,95.4 125.50,95.0 125.75,94.2 126.00,92.8 126.25,89.0 126.50,81.2 126.75,68.3 127.00,50.3 127.25,30.0 127.50,12.7 127.75,4.5 128.00,8.1 128.25,22.3 128.75,61.7 129.00,76.3 129.25,85.4 129.50,88.5 129.75,86.3 130.00,78.4 130.50,52.9 130.75,45.0 131.00,45.8 131.25,53.3 131.50,63.6 131.75,72.7 132.00,79.5 132.25,84.0 132.50,87.4 133.00,92.2 133.25,93.6 133.75,95.1 134.00,94.9 134.25,95.3 134.50,95.0 134.75,95.0 135.00,95.4 135.25,95.1 135.50,95.3 136.00,95.4 136.75,95.1 137.00,95.4 137.25,95.3 137.75,95.4 138.00,95.0 138.25,95.2 139.00,95.0 139.25,95.4 139.75,95.4 140.00,95.1 140.25,95.1 140.50,94.9 140.75,93.7 141.00,91.6 141.25,87.6 141.50,82.4 141.75,77.9 142.00,76.4 142.25,78.1 142.75,87.7 143.00,91.4 143.25,93.9 143.50,94.9 143.75,94.8 144.00,95.3 144.25,95.0 144.50,95.0 144.75,95.4 145.00,95.0 145.25,95.1 145.50,95.4 146.00,95.0 146.50,95.1 146.75,95.3 147.00,95.0 147.25,95.4 147.50,95.1 147.75,95.4 148.00,95.4 148.25,95.1 148.75,95.2 149.00,95.0 149.25,95.3 149.50,95.0 149.75,95.0 150.00,95.4 150.25,95.1 151.25,95.0 151.50,95.4 152.00,95.4 152.25,95.0 153.00,95.4 153.25,95.2 153.75,95.3 154.00,95.1 154.25,95.2 155.00,95.0 155.25,95.1 155.50,95.4 155.75,95.2 156.50,95.4 157.50,95.1 157.75,95.4 158.00,95.4 158.25,95.1 159.25,95.2 159.75,95.0 160.25,95.0 160.50,95.2 160.75,95.0 161.00,95.0 161.25,95.3 161.50,95.1 161.75,95.3 162.00,95.2 162.25,95.4 162.50,95.0 163.00,95.3 163.25,95.0 163.50,95.4 163.75,95.0 164.25,95.4 165.00,95.0 165.50,95.4 165.75,95.1 166.00,95.4 166.25,95.0 166.50,95.4 166.75,95.0 167.25,95.4 168.50,95.1 169.00,93.8 169.25,91.8 169.50,88.4 169.75,82.2 170.00,72.9 170.25,61.8 170.50,51.0 170.75,42.5 171.00,39.2 171.25,42.4 171.50,51.0 172.00,73.0 172.25,82.0 172.50,88.1 172.75,91.7 173.00,93.9 173.25,94.6 173.50,95.1 173.75,94.9 174.00,95.1 174.75,95.1 175.00,95.4 175.50,95.2 175.75,95.3 176.25,95.0 176.50,95.2 177.75,95.3 178.00,95.1 178.50,95.2 179.75,95.4 180.00,95.1 180.25,95.3 180.50,95.0 181.25,95.4 181.50,95.0 181.75,95.3 182.00,95.4 182.25,95.1 182.75,95.4 183.00,95.1 184.50,95.4 185.00,95.0 186.00,95.3 186.25,95.0 186.50,95.3 187.50,95.0 187.75,95.3 188.00,95.0 188.25,95.4 189.00,95.1 189.25,95.4 189.50,95.4 189.75,95.0 190.00,95.3 191.00,95.2 191.50,95.4 191.75,95.1 192.00,95.4 192.50,95.0 193.00,95.0 193.25,95.4 193.50,95.4 193.75,95.0 194.00,95.3 194.50,95.0 195.00,95.1 195.25,95.3 195.50,95.0 196.00,95.2 196.25,95.0 196.50,95.3 197.00,95.4 197.25,95.1 197.75,95.2 198.00,95.1 198.25,95.2 198.50,95.1 199.50,95.4 200.00,95.2 201.50,95.0 201.75,95.4 202.00,95.0 202.25,95.3 202.50,95.2 202.75,95.4 203.25,95.4 203.50,95.0 204.00,95.2 205.00,95.2 205.25,95.0 205.75,95.2 206.25,95.1 206.50,95.3 208.00,95.0 208.75,95.4 209.25,95.2 209.50,95.4 209.75,95.2 210.00,95.4 210.25,95.2 210.75,95.4 211.00,95.1 211.25,95.0 211.50,95.3 212.25,95.0 213.00,95.2 213.25,95.4 214.50,95.2 216.25,95.3 218.25,95.1 218.75,95.4 219.25,95.0 219.50,95.4 220.25,95.0 220.75,95.3 221.50,95.1 222.00,93.5 222.25,91.9 222.75,87.0 223.00,86.3 223.25,87.1 223.50,89.1 224.00,93.7 224.25,94.4 224.75,95.3 225.75,95.3 226.00,95.0 226.75,95.4 227.00,95.1 227.25,95.3 227.50,95.1 227.75,95.2 228.00,95.0 228.25,95.3 228.50,95.4 229.00,95.1 229.25,95.4 229.75,95.4 230.00,95.0 230.25,95.4 230.75,95.1 231.50,95.3 231.75,95.0 232.00,95.3 232.25,95.0 232.50,95.4 232.75,95.2 233.00,95.4 233.75,95.1 234.00,95.2 234.50,95.0 234.75,95.3 235.00,95.1 235.25,95.3 235.50,95.1 236.00,95.3 236.50,95.0 237.00,95.2 237.75,95.0 238.25,95.4 238.50,95.1 238.75,95.0 239.00,95.3 239.50,95.4 240.00,95.1 240.25,95.4 240.50,95.0 240.75,95.3 241.00,95.0 242.25,95.1 242.50,95.4 243.25,95.1 243.50,95.3 243.75,95.1 244.50,95.4 244.75,95.0 245.00,95.3 245.25,95.4 245.50,95.1 246.25,95.4 246.50,95.1 246.75,95.4 247.00,95.3 247.25,95.0 247.50,95.4 247.75,95.0 248.25,95.3 248.50,95.0 248.75,95.1 249.00,95.0 249.75,95.4 250.00,95.0 250.25,95.0 250.50,95.4 250.75,95.0 251.75,95.0 252.00,95.3 253.25,95.1 253.75,95.4 254.50,95.0 254.75,95.4 255.25,95.1 256.00,95.2 256.25,95.0 256.75,95.2 257.00,95.0 257.25,95.4 257.50,95.2 258.75,95.3 259.00,95.1 259.25,95.4 259.50,95.0 259.75,95.4 260.25,95.4 260.50,95.0 260.75,95.0 261.00,95.4 261.50,95.1 261.75,95.4 262.00,95.0 262.25,95.2 262.75,95.0 263.50,95.4 263.75,95.0 264.00,95.2 264.25,95.0 264.50,95.4 264.75,95.0 265.50,95.3 266.00,95.0 266.25,95.3 266.75,95.4 267.00,95.1 268.25,95.1 268.75,95.4 269.25,95.0 269.50,95.3 269.75,95.2 270.00,95.4 271.00,95.2 271.50,95.4 272.00,95.0 272.50,95.2 272.75,95.0 273.25,95.2 273.50,95.0 273.75,95.4 275.00,95.1 275.25,95.3 276.00,95.0 276.25,95.4 276.50,95.1 277.00,95.0 277.25,95.4 277.50,95.2 279.25,95.4 279.50,95.0 280.25,95.4 281.25,95.1 281.50,95.4 282.25,95.2 282.50,95.4 283.00,95.0 283.25,95.0 283.50,95.3 284.00,95.4 284.25,95.0 284.75,95.3 285.00,95.0 285.50,95.2 286.00,95.0 286.50,95.3 287.25,95.0 287.50,95.4 288.00,95.0 288.25,95.4 288.50,95.0 289.00,95.4 289.50,95.1 289.75,95.4 290.00,95.2 290.50,95.4 290.75,95.2 291.50,95.4 292.50,95.2 293.00,94.3 293.25,94.2 294.25,91.6 294.75,91.4 295.25,91.6 295.50,92.6 296.50,94.2 296.75,93.8 297.50,93.6 297.75,93.4 298.25,93.3 299.75,95.1 300.00,95.0 300.25,95.2 301.50,95.2 301.75,95.4 302.00,95.0 302.50,95.4 303.50,94.7 303.75,94.7 305.00,92.3 305.25,91.6 305.50,91.3 306.00,91.2 306.75,92.4 307.00,93.0 307.75,94.2 308.75,94.5 309.25,93.6 309.50,93.7 309.75,93.1 310.75,93.7 311.00,94.2 311.50,94.8 311.75,94.9 312.00,95.3 312.50,94.9 312.75,95.0 313.00,95.4 313.25,95.1 314.00,95.2 314.25,95.4 314.50,95.1 315.00,95.4 315.25,95.0 315.75,95.4 316.50,95.1 316.75,95.4 317.00,95.4 317.25,95.0 317.50,95.2 318.00,95.3 318.25,95.0 320.00,95.3 320.25,95.0 320.75,95.3 321.00,95.1 321.50,95.4 321.75,95.0 322.00,95.4 322.25,95.0 322.75,95.4 323.00,95.1 323.50,95.2 324.00,95.4 324.25,95.1 324.75,95.4 325.25,95.1 325.50,95.3 325.75,95.1 326.00,95.2 326.25,95.0 326.50,95.4 326.75,95.3 327.25,95.4 327.50,95.1 328.50,95.4 328.75,95.1 329.25,95.3 330.00,95.0 330.75,95.4 331.00,95.2 331.25,95.3 331.50,95.0 332.25,95.3 332.75,95.1 333.75,95.3 334.00,95.0 334.25,95.4 335.00,95.0 335.50,95.3 336.25,95.4 336.50,95.1 338.00,95.0 338.50,95.3 339.00,95.3 339.50,95.0 340.00,95.4 340.50,95.0 341.25,95.3 341.50,95.0 342.25,95.4 342.50,95.1 343.00,95.2 343.25,95.0 343.50,95.1 344.00,95.1" fill="none" stroke="#d8d822" stroke-width="0.80" stroke-linejoin="round"/>
<polyline points="42.00,189.1 42.25,189.1 42.50,186.6 42.75,186.6 43.00,188.7 43.50,188.3 43.75,187.3 44.00,188.1 44.50,188.0 44.75,186.8 45.00,187.6 45.25,187.5 45.75,189.2 46.00,189.1 46.25,187.9 46.75,187.2 47.00,186.5 47.25,186.5 47.50,187.7 47.75,187.3 48.00,187.5 48.25,188.9 48.50,187.9 48.75,188.0 49.00,187.1 49.25,186.5 49.50,187.3 49.75,186.8 50.00,187.8 50.25,189.2 50.50,188.3 50.75,186.9 51.00,188.9 51.50,188.4 51.75,188.9 52.25,188.0 52.50,185.9 52.75,186.2 53.00,183.9 53.25,179.2 53.50,179.0 53.75,178.4 54.00,178.8 54.50,183.5 54.75,186.7 55.00,186.8 55.25,188.3 55.50,187.3 55.75,188.8 56.00,188.9 56.25,187.7 56.50,188.0 56.75,189.0 57.50,187.0 57.75,187.3 58.00,188.4 58.25,186.9 58.50,188.9 58.75,187.1 59.00,188.9 59.25,187.2 59.50,188.8 59.75,187.3 60.00,185.0 60.25,181.5 60.50,176.6 60.75,170.9 61.00,166.6 61.25,166.7 61.50,171.7 61.75,178.6 62.00,182.6 62.25,184.2 62.50,187.9 62.75,188.2 63.00,188.9 63.25,186.9 63.50,188.5 63.75,186.5 64.00,188.2 64.25,187.0 64.50,186.5 64.75,187.5 65.00,184.0 65.25,183.3 65.50,182.3 65.75,179.3 66.00,179.1 66.25,182.1 66.50,182.6 66.75,185.4 67.00,184.9 67.25,186.7 67.50,186.6 67.75,188.2 68.00,186.6 68.25,189.1 68.50,186.5 68.75,188.4 69.00,186.5 69.25,187.1 69.50,188.7 69.75,186.8 70.00,186.9 70.25,188.3 70.75,186.5 71.00,189.2 71.25,186.8 71.50,186.5 72.00,188.1 72.25,188.5 72.50,186.7 72.75,187.3 73.00,186.5 73.25,187.6 73.50,188.5 73.75,188.3 74.00,188.6 74.25,188.0 74.50,188.0 74.75,187.2 75.25,184.9 75.50,185.7 75.75,184.4 76.00,183.7 76.25,184.8 76.50,186.3 76.75,184.6 77.00,186.4 77.25,186.3 77.50,187.1 77.75,186.3 78.00,188.8 78.25,187.0 78.50,188.0 78.75,187.5 79.00,186.4 79.25,188.0 79.50,186.8 80.00,186.5 80.25,186.9 80.50,186.7 80.75,188.2 81.00,187.8 81.25,189.2 81.50,189.0 81.75,189.2 82.00,187.0 82.25,187.6 82.50,187.1 82.75,188.0 83.00,188.0 83.25,188.4 83.50,188.0 83.75,186.5 84.00,186.6 84.25,186.5 84.50,184.6 84.75,184.2 85.00,184.8 85.25,183.8 85.50,185.4 85.75,184.3 86.00,184.3 86.50,185.6 86.75,186.0 87.00,187.2 87.25,187.3 87.50,187.0 87.75,188.1 88.00,186.9 88.25,188.9 88.50,189.1 89.00,187.6 89.50,188.0 89.75,186.5 90.00,187.6 90.25,187.9 90.50,186.9 90.75,186.7 91.00,188.6 91.25,187.4 91.50,187.9 91.75,189.0 92.25,187.2 92.50,189.2 92.75,187.4 93.00,186.4 93.25,188.3 93.50,186.6 93.75,187.0 94.00,188.3 94.25,187.5 94.50,185.1 94.75,185.7 95.00,184.8 95.25,184.2 95.50,182.7 95.75,183.2 96.00,181.6 96.50,183.0 96.75,185.3 97.00,183.6 97.25,186.1 97.50,184.9 97.75,186.1 98.00,185.5 98.25,185.3 98.50,185.6 99.00,182.4 99.50,181.1 99.75,182.9 100.00,182.2 100.25,183.2 100.50,182.7 100.75,181.3 101.00,183.6 101.25,184.4 101.50,184.5 102.00,183.6 102.25,183.7 102.50,184.4 102.75,182.8 103.00,183.6 103.25,183.7 103.50,185.5 103.75,185.7 104.00,186.8 104.25,187.1 104.50,186.2 104.75,186.4 105.00,187.4 105.25,186.9 106.00,188.8 106.25,187.4 106.50,186.9 106.75,182.4 107.25,175.6 107.50,169.0 107.75,168.6 108.00,170.2 108.25,175.0 108.50,182.2 108.75,185.8 109.00,186.5 109.25,185.4 109.50,185.6 109.75,184.7 110.00,185.0 110.25,184.0 110.50,182.5 110.75,182.1 111.00,180.7 111.25,182.1 111.50,183.9 111.75,184.2 112.00,183.4 112.25,185.5 112.50,186.8 112.75,186.1 113.00,188.3 113.25,187.4 113.50,188.2 113.75,187.4 114.00,188.8 114.25,187.5 114.50,185.4 114.75,181.4 115.00,178.3 115.25,172.7 115.50,171.0 116.00,170.9 116.25,175.7 116.50,180.0 116.75,183.2 117.00,186.1 117.25,187.7 117.50,187.1 117.75,186.2 118.00,187.0 118.25,184.4 118.50,184.7 118.75,183.5 119.25,182.2 119.50,179.7 119.75,180.3 120.00,179.5 120.25,180.4 120.50,181.6 120.75,181.3 121.00,180.3 121.25,182.2 121.50,183.5 121.75,184.3 122.00,183.8 122.25,184.0 122.50,181.2 122.75,183.1 123.00,181.6 123.25,180.4 123.50,180.5 123.75,180.0 124.00,177.6 124.25,179.8 124.50,180.1 124.75,179.3 125.00,181.6 125.25,182.1 125.50,181.7 125.75,183.9 126.00,182.3 126.25,183.6 126.75,181.6 127.00,181.8 127.25,180.8 127.50,179.5 127.75,181.2 128.00,178.6 128.25,178.6 128.75,182.1 129.00,182.5 129.25,183.8 129.50,184.0 129.75,185.4 130.00,185.2 130.25,185.6 130.50,186.6 130.75,185.3 131.00,185.3 131.25,186.7 131.50,184.1 131.75,184.5 132.00,183.0 132.25,180.4 132.75,179.0 133.00,178.8 133.25,177.1 133.50,178.2 134.00,182.2 134.25,183.3 134.50,183.8 134.75,186.3 135.00,188.2 135.25,186.9 135.50,187.7 135.75,187.4 136.00,187.6 136.25,188.8 136.50,187.2 136.75,187.9 137.00,186.6 137.25,183.9 137.50,177.8 137.75,161.7 138.00,143.4 138.25,120.3 138.50,107.6 138.75,109.6 139.00,125.3 139.25,146.6 139.50,167.1 139.75,176.8 140.00,182.8 140.25,180.4 140.50,173.2 140.75,161.4 141.00,146.4 141.25,135.2 141.50,133.2 141.75,142.1 142.00,157.3 142.25,170.4 142.50,179.7 142.75,186.4 143.00,185.9 143.25,188.5 143.50,187.4 144.00,187.3 144.25,186.5 144.50,187.2 144.75,185.4 145.00,184.0 145.25,179.7 145.50,175.9 146.00,163.9 146.25,163.3 146.75,170.4 147.00,175.4 147.25,179.6 147.50,180.4 147.75,179.7 148.00,174.8 148.25,170.3 148.75,167.6 149.00,172.5 149.25,176.8 149.50,180.7 149.75,185.3 150.00,185.9 150.25,188.3 150.50,188.8 150.75,187.6 151.00,187.9 151.25,187.9 151.50,185.6 151.75,182.5 152.00,178.4 152.25,173.8 152.50,169.6 152.75,169.2 153.00,169.5 153.25,174.8 153.50,179.8 153.75,182.8 154.00,185.4 154.25,186.1 154.50,188.8 154.75,187.3 155.00,187.6 155.25,188.5 155.50,185.7 155.75,186.0 156.00,180.2 156.25,174.7 156.75,164.4 157.00,164.0 157.25,165.9 157.50,170.6 157.75,175.8 158.00,181.4 158.25,184.0 158.50,187.5 158.75,187.1 159.00,187.1 159.25,188.1 159.50,186.6 159.75,186.6 160.00,187.2 160.25,182.4 160.50,178.3 160.75,172.8 161.00,166.9 161.25,163.3 161.50,162.4 161.75,166.1 162.00,171.6 162.25,177.3 162.50,182.5 162.75,183.4 163.00,183.0 163.25,181.7 163.50,176.5 163.75,173.9 164.00,174.8 164.25,174.7 164.50,178.6 164.75,180.2 165.00,184.2 165.25,187.0 165.50,186.7 165.75,188.3 166.00,188.0 166.25,187.5 166.50,189.2 166.75,187.5 167.25,188.1 167.50,187.3 167.75,188.7 168.00,188.1 168.50,187.9 168.75,189.1 169.00,189.0 169.25,188.2 169.50,185.5 169.75,181.5 170.00,173.7 170.25,159.6 170.50,145.2 170.75,137.1 171.00,133.5 171.25,144.5 171.50,157.2 171.75,169.4 172.00,172.5 172.25,172.3 172.50,169.2 172.75,162.3 173.00,160.7 173.25,163.5 173.50,168.3 173.75,174.6 174.00,181.4 174.25,183.4 174.50,187.8 174.75,187.8 175.00,186.3 175.25,188.6 175.50,186.3 175.75,185.9 176.00,184.0 176.25,179.7 176.50,177.1 176.75,172.8 177.00,172.0 177.25,175.2 177.75,180.8 178.00,184.4 178.25,187.0 178.50,186.1 178.75,187.5 179.00,186.7 179.50,186.7 179.75,187.0 180.00,186.5 180.50,187.0 180.75,186.9 181.00,185.5 181.25,181.6 181.50,174.8 181.75,166.5 182.25,155.0 182.50,156.4 182.75,164.3 183.00,171.5 183.25,177.4 183.50,182.8 183.75,185.3 184.00,186.9 184.25,187.4 184.50,187.5 184.75,188.6 185.00,188.6 185.50,187.2 185.75,186.0 186.00,185.9 186.25,184.4 186.50,179.9 187.00,178.4 187.25,179.0 187.50,179.3 187.75,183.2 188.00,184.3 188.25,185.7 188.50,187.5 188.75,188.0 189.00,188.1 189.25,188.5 189.50,188.4 189.75,187.7 190.00,186.4 190.25,188.1 190.50,187.5 190.75,186.0 191.00,183.0 191.25,178.5 191.50,176.3 191.75,174.7 192.50,180.7 192.75,185.5 193.00,187.4 193.25,188.2 193.50,187.4 194.00,187.0 194.25,188.6 194.50,188.2 194.75,186.6 195.00,187.4 195.25,184.6 195.50,181.2 195.75,177.6 196.25,172.7 196.75,175.3 197.00,180.6 197.25,182.7 197.50,186.7 197.75,186.0 198.00,186.8 198.25,187.3 198.50,186.4 198.75,185.8 199.00,185.4 199.25,181.6 199.50,181.4 199.75,179.8 200.25,179.2 200.75,182.0 201.00,184.1 201.25,184.7 201.50,184.8 201.75,184.7 202.25,178.2 202.50,173.7 202.75,168.9 203.00,166.9 203.25,169.7 203.50,174.5 203.75,177.6 204.00,182.9 204.25,185.8 204.50,187.9 204.75,188.0 205.00,187.1 205.25,186.7 205.50,187.9 205.75,185.1 206.00,182.0 206.25,180.8 206.50,174.8 206.75,171.6 207.00,170.3 207.25,171.5 207.50,176.3 207.75,179.3 208.00,183.2 208.50,187.9 208.75,186.2 209.00,187.9 209.25,186.7 209.50,186.7 209.75,187.8 210.00,186.9 210.25,185.6 210.50,186.5 210.75,186.6 211.00,184.9 211.25,183.5 211.50,183.5 211.75,183.2 212.00,180.8 212.25,181.5 212.50,183.9 212.75,184.7 213.00,183.7 213.25,186.0 213.50,187.3 213.75,187.1 214.00,187.8 214.25,187.6 214.50,186.9 214.75,186.9 215.00,186.5 215.25,188.3 215.50,186.8 215.75,188.1 216.00,187.5 216.25,187.6 216.50,189.1 216.75,187.5 217.00,187.7 217.50,186.9 217.75,186.8 218.25,187.9 218.50,185.3 218.75,187.1 219.00,185.5 219.25,183.0 219.50,184.1 219.75,182.7 220.00,182.8 220.25,181.9 220.50,183.5 220.75,184.3 221.00,185.8 221.25,186.1 221.50,187.1 221.75,187.6 222.00,186.6 222.25,186.2 222.50,187.6 222.75,186.7 223.00,186.8 223.50,187.9 224.00,188.2 224.25,189.0 224.50,186.7 224.75,188.0 225.00,186.6 225.25,188.3 225.75,186.8 226.00,187.3 226.25,188.2 226.50,187.7 226.75,189.0 227.00,187.2 227.25,187.0 227.50,188.2 227.75,186.7 228.00,184.3 228.25,185.0 228.50,182.7 228.75,183.4 229.00,182.2 229.25,183.0 229.50,184.2 229.75,184.3 230.00,186.7 230.25,185.1 230.50,186.6 230.75,188.4 231.00,186.3 231.25,188.2 231.50,189.2 231.75,188.4 232.00,188.8 232.25,186.6 232.50,187.9 232.75,188.1 233.00,187.6 233.25,187.6 233.50,188.6 233.75,186.9 234.00,186.5 234.25,188.1 234.50,189.1 235.00,188.3 235.25,187.2 235.50,188.9 235.75,186.5 236.00,187.1 236.25,188.6 236.50,188.9 236.75,187.5 237.00,188.9 237.25,186.7 237.50,187.9 237.75,186.3 238.00,186.6 238.25,186.1 238.50,185.1 238.75,185.6 239.00,185.0 239.25,183.6 239.50,183.9 239.75,181.7 240.00,182.8 240.50,183.2 240.75,185.4 241.00,184.0 241.25,185.6 241.50,186.4 241.75,186.6 242.00,188.7 242.25,187.8 243.00,187.6 243.25,189.1 243.75,188.2 244.00,186.9 244.25,188.1 244.50,186.8 244.75,187.4 245.00,186.5 245.25,188.4 245.50,189.1 245.75,188.2 246.00,188.0 246.25,187.1 246.50,187.6 247.00,187.6 247.25,187.1 247.50,186.9 247.75,188.3 248.00,188.7 248.25,188.1 248.50,187.1 248.75,184.9 249.00,185.0 249.25,185.9 249.50,185.7 249.75,184.1 250.00,184.0 250.25,184.5 250.50,183.6 250.75,185.5 251.00,185.2 251.25,187.2 251.50,186.6 251.75,187.6 252.50,187.6 252.75,189.0 253.00,188.5 253.25,187.6 253.50,187.8 253.75,188.9 254.25,188.2 254.50,189.1 254.75,186.7 255.00,188.1 255.25,188.1 255.50,187.7 255.75,189.1 256.00,189.1 256.25,187.5 256.75,188.5 257.00,188.3 257.25,187.3 257.50,188.2 258.00,184.4 258.25,184.0 258.50,181.8 258.75,179.3 259.00,178.8 259.25,180.9 259.50,182.2 259.75,183.3 260.00,186.6 260.50,187.1 260.75,188.1 261.25,188.9 261.50,188.3 261.75,188.3 262.00,187.5 262.25,186.4 262.50,187.3 262.75,185.9 263.00,187.2 263.25,184.1 263.75,182.0 264.00,179.9 264.25,182.3 264.50,182.3 264.75,183.3 265.00,186.2 265.25,186.7 265.50,188.6 266.00,186.6 266.50,186.5 266.75,187.8 267.00,188.4 267.25,186.5 267.50,187.3 267.75,187.7 268.00,188.9 268.25,188.9 268.50,188.3 269.00,185.1 269.25,181.8 269.50,180.2 269.75,176.7 270.00,176.2 270.25,178.6 270.50,180.1 270.75,183.2 271.00,184.8 271.25,185.8 271.50,187.3 271.75,187.8 272.00,187.0 272.25,188.8 272.50,189.1 272.75,186.9 273.00,187.0 273.25,188.6 273.50,188.3 273.75,186.7 274.00,187.5 274.25,186.1 274.50,187.2 274.75,185.7 275.00,184.5 275.25,182.6 275.75,181.9 276.25,181.1 276.50,181.8 276.75,184.1 277.00,185.7 277.25,186.4 277.50,186.5 277.75,187.6 278.00,186.2 278.25,186.7 278.50,188.2 278.75,186.3 279.00,186.6 279.25,188.6 279.50,186.9 279.75,186.9 280.00,187.5 280.25,188.7 280.50,186.4 280.75,188.9 281.00,187.3 281.25,188.0 281.50,187.7 281.75,186.7 282.00,189.1 282.25,186.9 282.50,188.7 282.75,188.9 283.00,187.6 283.25,189.0 283.50,186.5 283.75,186.6 284.00,187.3 284.25,185.8 284.50,187.3 284.75,185.9 285.00,185.9 285.25,183.6 285.50,182.2 285.75,184.1 286.00,182.0 286.25,182.7 286.50,182.4 286.75,184.5 287.00,184.9 287.50,185.2 287.75,186.5 288.00,188.1 288.25,186.6 288.50,186.9 288.75,188.1 289.00,188.2 289.25,188.6 289.50,188.2 289.75,188.8 290.00,186.8 290.25,189.0 290.50,186.5 290.75,186.7 291.00,186.7 291.25,188.6 291.50,187.8 291.75,189.0 292.25,189.1 292.75,187.4 293.00,189.1 293.25,188.5 293.50,186.9 293.75,187.9 294.00,186.5 294.25,186.4 294.50,188.2 295.00,188.8 295.25,188.5 295.50,186.8 295.75,188.5 296.00,189.1 296.25,188.3 297.00,186.6 297.25,188.1 297.50,189.0 297.75,186.5 298.00,188.3 298.25,188.3 298.50,186.3 298.75,187.2 299.00,184.6 299.25,184.4 299.50,184.5 299.75,185.0 300.25,182.8 300.50,185.6 300.75,185.1 301.00,186.4 301.25,185.5 301.50,186.3 301.75,186.0 302.00,186.6 302.25,187.4 302.50,187.5 303.00,188.7 303.25,187.3 303.50,189.0 304.00,187.4 304.25,186.9 304.50,189.1 304.75,188.2 305.00,186.5 305.25,188.3 305.50,187.5 305.75,187.6 306.00,188.5 306.25,187.0 306.50,187.2 306.75,187.9 307.00,188.9 307.25,186.6 307.50,188.7 307.75,188.4 308.00,186.9 308.25,188.3 308.50,188.1 308.75,188.4 309.25,187.2 309.50,187.7 309.75,186.8 310.00,187.2 310.25,186.7 310.50,185.4 311.00,184.6 311.25,183.9 311.50,183.7 311.75,183.7 312.00,182.1 312.25,183.1 312.50,183.0 313.00,184.0 313.25,187.1 313.50,187.7 313.75,187.9 314.00,186.4 314.50,186.6 315.00,187.6 315.25,186.4 315.50,187.6 315.75,188.3 316.00,188.7 316.25,186.9 316.50,186.4 316.75,188.6 317.00,187.5 317.25,187.3 317.50,186.8 317.75,187.2 318.50,187.1 319.00,188.7 319.25,187.3 319.75,187.8 320.00,188.8 320.25,188.5 320.50,189.2 320.75,186.9 321.00,188.7 321.25,187.2 321.50,188.0 321.75,187.9 322.00,188.0 322.50,186.5 322.75,186.2 323.00,188.6 323.25,188.2 323.75,185.1 324.00,186.5 324.25,184.9 324.50,184.3 324.75,184.3 325.00,182.8 325.25,183.2 325.50,185.2 325.75,185.6 326.00,186.9 326.25,186.0 326.50,188.1 326.75,188.2 327.00,187.4 327.25,188.7 327.50,186.8 327.75,186.6 328.00,188.7 328.25,186.8 328.50,187.8 328.75,188.5 329.00,188.3 329.25,187.0 329.50,188.6 329.75,186.5 330.00,188.0 330.25,188.9 330.50,187.9 330.75,187.2 331.00,189.2 331.25,188.4 332.00,189.0 332.25,188.0 332.50,188.6 333.00,186.6 333.25,186.4 333.50,185.8 333.75,184.5 334.00,185.4 334.25,183.9 334.50,184.6 334.75,181.7 335.00,183.6 335.25,182.1 335.75,183.6 336.00,186.3 336.25,186.2 336.50,186.4 336.75,186.1 337.00,186.1 337.25,187.2 337.50,189.0 337.75,187.6 338.25,188.8 338.50,186.4 338.75,187.0 339.00,187.0 339.25,186.1 339.75,185.9 340.00,183.5 340.25,184.0 340.50,182.1 340.75,182.5 341.00,180.9 341.25,182.8 341.50,182.4 341.75,184.4 342.00,185.8 342.25,185.7 342.50,184.9 342.75,186.5 343.00,188.6 343.25,187.9 343.50,188.4 343.75,187.7 344.00,189.0" fill="none" stroke="#d8d822" stroke-width="0.80" stroke-linejoin="round"/>
<polyline points="42.00,282.6 42.25,283.1 42.50,282.8 42.75,283.1 43.00,283.2 43.25,282.4 43.50,282.3 43.75,283.5 44.00,282.7 44.25,282.6 44.50,283.7 44.75,283.0 45.00,283.5 45.25,283.0 45.50,283.2 45.75,282.5 46.00,283.2 46.25,283.5 46.50,283.0 46.75,283.3 47.00,283.2 47.25,282.4 47.50,283.4 48.25,282.3 48.50,283.5 48.75,283.0 49.25,283.5 49.50,283.3 49.75,283.6 50.00,282.9 50.25,283.4 50.50,282.9 50.75,283.6 51.00,283.5 51.25,282.4 51.75,282.6 52.00,283.7 52.25,282.9 52.50,283.2 52.75,282.7 53.00,283.0 53.50,282.8 53.75,283.1 54.00,283.1 54.25,283.6 54.50,283.3 54.75,283.6 55.00,283.5 55.25,283.7 55.50,283.2 55.75,282.5 56.00,283.5 56.50,283.6 56.75,283.1 57.00,283.2 57.25,282.1 57.50,281.8 57.75,278.5 58.00,272.8 58.25,266.1 58.50,262.9 58.75,263.6 59.00,267.4 59.25,274.7 59.50,279.0 59.75,281.2 60.25,283.3 60.50,283.5 60.75,282.4 61.00,283.2 61.25,282.4 61.50,283.3 61.75,282.8 62.00,283.5 62.25,283.7 62.50,283.0 62.75,283.7 63.00,282.7 63.25,282.4 63.50,283.1 63.75,282.3 64.50,283.2 64.75,282.5 65.00,282.4 65.25,283.5 65.50,282.7 65.75,283.6 66.00,283.6 66.25,282.8 67.00,283.2 67.75,283.2 68.00,283.6 68.25,283.0 68.50,282.9 68.75,283.3 69.00,282.6 69.25,282.7 69.50,283.7 69.75,283.0 70.00,283.1 70.25,282.3 70.50,282.9 70.75,283.1 71.00,282.3 71.25,283.2 71.50,283.2 71.75,282.4 72.00,283.2 72.25,283.0 72.50,283.3 72.75,282.8 73.00,283.3 73.25,283.3 73.50,282.3 73.75,282.4 74.00,283.2 74.25,283.6 74.50,282.7 75.00,283.1 75.25,282.7 76.00,282.8 76.25,283.1 76.50,282.7 76.75,282.8 77.00,283.4 77.25,282.3 77.50,283.1 77.75,283.3 78.00,282.7 78.25,282.6 78.50,283.4 78.75,282.6 79.00,282.6 79.50,283.3 79.75,282.4 80.00,282.8 80.25,282.8 80.50,283.5 80.75,282.9 81.00,283.5 81.25,282.5 82.00,283.5 82.25,282.9 82.75,282.5 83.00,283.0 83.25,282.6 83.50,283.4 83.75,283.3 84.00,282.0 84.25,281.1 84.50,279.8 85.25,269.3 85.50,268.7 85.75,271.3 86.00,275.7 86.25,278.4 86.50,280.9 86.75,282.2 87.00,282.7 87.25,282.8 87.50,283.6 87.75,282.5 88.00,282.3 88.25,283.6 88.75,283.7 89.00,282.9 89.25,283.6 89.50,283.6 89.75,282.6 90.00,283.3 90.25,283.5 91.00,282.7 91.50,282.6 91.75,282.4 92.00,283.1 92.25,282.7 92.50,283.4 92.75,282.4 93.00,283.6 93.25,283.3 93.50,283.6 94.00,283.6 94.25,283.1 94.50,282.3 94.75,283.3 95.00,282.5 95.25,282.7 95.50,283.2 96.00,282.9 96.25,283.6 96.75,282.8 97.00,282.7 97.25,283.5 97.50,283.0 97.75,283.4 98.00,282.8 98.25,282.6 98.75,283.4 99.00,282.5 99.25,283.4 99.50,283.6 100.00,283.5 100.25,282.3 100.50,283.2 100.75,283.4 101.00,282.0 101.25,281.3 101.50,278.6 101.75,273.1 102.00,263.3 102.25,251.5 102.50,242.2 102.75,238.5 103.00,244.4 103.50,266.5 103.75,273.7 104.00,277.5 104.25,276.5 104.50,272.9 104.75,271.0 105.00,269.7 105.25,270.8 105.50,273.5 105.75,277.1 106.00,279.7 106.25,281.2 106.75,282.5 107.00,282.4 107.25,283.1 107.50,283.3 108.00,282.4 109.00,283.4 109.25,282.8 109.50,283.4 110.25,282.8 110.75,283.3 111.00,282.9 111.25,283.2 111.75,282.5 112.00,282.8 112.25,282.8 112.50,281.6 112.75,281.7 113.00,281.2 113.25,281.4 113.50,281.0 113.75,279.9 114.00,280.6 114.25,280.5 114.50,280.1 114.75,280.8 115.00,280.8 115.25,282.3 115.50,282.4 115.75,283.1 116.50,283.3 116.75,283.1 117.00,282.4 117.25,283.1 117.50,282.3 117.75,282.5 118.00,283.4 118.25,282.4 118.75,282.4 119.00,283.5 119.25,282.6 119.50,282.3 119.75,283.5 120.00,282.5 120.25,283.5 120.50,283.2 121.00,283.6 121.25,283.1 121.50,283.4 121.75,282.4 122.00,283.4 122.25,283.0 122.50,283.3 122.75,282.4 123.00,283.3 123.25,283.6 123.50,282.4 124.25,283.5 124.50,282.6 125.00,282.6 125.25,283.2 125.50,283.4 125.75,282.9 126.75,282.9 127.00,282.4 127.50,283.7 127.75,282.9 128.00,283.3 128.25,282.5 128.50,283.3 129.00,283.2 129.50,283.0 130.00,283.6 130.25,282.5 130.50,282.4 130.75,283.3 131.00,283.5 131.75,281.6 132.00,278.6 132.25,275.2 132.50,271.1 132.75,268.7 133.00,268.0 133.25,270.4 133.50,275.0 133.75,279.1 134.00,280.7 134.25,282.5 134.50,282.7 134.75,283.4 135.25,282.7 135.75,282.3 136.00,283.0 136.50,282.5 136.75,282.7 137.25,282.2 137.75,276.7 138.00,270.3 138.25,264.3 138.50,260.3 138.75,261.3 139.00,265.6 139.25,271.0 139.50,275.0 139.75,275.5 140.00,271.5 140.25,263.2 140.50,255.7 140.75,251.8 141.00,253.0 141.25,259.7 141.50,268.4 141.75,276.0 142.00,280.1 142.25,282.2 142.50,282.2 143.25,277.9 143.50,276.2 143.75,275.7 144.00,275.5 144.50,276.3 144.75,278.8 145.00,279.6 145.50,282.3 145.75,282.0 146.00,282.2 146.25,283.4 146.50,282.7 147.25,283.2 147.50,282.2 147.75,282.5 148.25,282.2 148.50,281.3 149.00,280.9 149.25,279.3 149.50,278.8 149.75,277.6 150.00,277.7 150.25,278.4 150.50,278.1 150.75,280.0 151.00,280.8 151.25,280.5 151.50,282.3 151.75,282.0 152.00,282.9 152.25,282.7 152.50,281.0 152.75,277.7 153.00,268.7 153.25,254.2 153.50,237.1 153.75,228.6 154.00,233.1 154.25,247.2 154.50,263.3 154.75,274.1 155.00,280.3 155.25,282.1 155.50,283.2 156.00,283.1 156.25,282.6 156.50,283.2 156.75,283.0 157.00,282.0 157.25,281.7 157.50,278.1 157.75,270.9 158.00,262.6 158.25,251.5 158.50,245.4 158.75,246.7 159.00,253.9 159.25,264.1 159.50,273.0 159.75,278.0 160.00,279.5 160.25,278.0 160.50,274.2 160.75,269.6 161.00,264.0 161.25,259.8 161.50,259.7 161.75,262.4 162.00,267.8 162.25,273.7 162.50,278.7 163.00,281.3 163.25,278.6 163.50,270.9 163.75,251.9 164.25,195.1 164.50,183.0 164.75,195.6 165.00,223.3 165.25,251.9 165.50,268.1 165.75,273.9 166.00,271.0 166.25,263.4 166.50,254.7 166.75,246.5 167.00,242.6 167.25,245.8 167.50,254.2 167.75,264.5 168.00,272.9 168.25,278.4 168.50,281.1 169.00,282.6 169.25,282.5 169.50,282.9 169.75,282.8 170.00,282.0 170.25,281.7 170.50,281.8 170.75,280.0 171.00,280.1 171.50,278.5 171.75,277.1 172.00,277.1 172.25,277.3 172.50,278.0 172.75,279.4 173.25,280.3 173.50,281.9 173.75,282.0 174.25,283.0 174.50,282.2 174.75,283.3 175.25,283.0 175.75,282.9 176.00,282.6 176.25,283.0 176.50,282.4 176.75,283.0 177.00,283.2 177.25,282.9 177.50,283.1 177.75,283.6 178.00,283.4 178.25,281.9 178.50,281.8 178.75,279.1 179.00,273.7 179.25,267.2 179.50,259.0 179.75,252.1 180.00,250.1 180.25,253.2 180.50,259.1 180.75,268.0 181.00,274.6 181.25,278.2 181.50,281.3 181.75,281.0 182.00,279.6 182.25,275.5 182.50,269.8 182.75,262.9 183.00,258.8 183.25,257.7 183.50,260.5 183.75,265.6 184.00,272.3 184.25,277.0 184.50,279.7 184.75,281.3 185.00,281.8 185.25,281.0 185.50,277.3 185.75,268.6 186.00,252.6 186.25,232.7 186.50,219.2 186.75,221.2 187.00,236.2 187.25,256.0 187.50,271.2 187.75,278.1 188.00,279.4 188.25,278.0 188.50,271.8 188.75,262.8 189.00,254.4 189.25,250.2 189.50,252.2 189.75,258.9 190.00,267.3 190.25,274.5 190.50,278.8 190.75,278.7 191.00,277.9 191.50,273.1 191.75,271.2 192.00,270.9 192.25,271.2 192.50,272.8 193.25,280.2 193.75,281.6 194.00,282.6 194.25,282.8 194.50,283.2 194.75,282.4 195.00,282.9 195.25,282.9 195.50,282.3 195.75,283.7 196.00,282.6 196.25,282.4 196.50,283.0 196.75,282.5 197.00,283.2 197.50,282.5 197.75,282.4 198.00,283.3 198.25,282.7 198.50,283.4 198.75,283.0 199.00,283.6 199.25,282.7 199.75,282.7 200.00,283.4 200.75,282.2 201.00,282.9 201.25,283.0 201.50,282.1 201.75,280.7 202.75,278.5 203.00,278.4 203.50,280.1 203.75,279.7 204.00,281.5 204.25,281.4 204.50,282.4 204.75,282.9 205.00,283.2 205.25,282.2 206.00,283.6 206.25,282.4 206.50,282.7 206.75,283.5 207.00,282.5 207.25,282.8 207.50,282.8 208.00,283.6 208.25,282.5 208.50,283.3 209.00,283.4 209.25,283.0 209.50,283.5 209.75,282.6 210.00,282.4 210.25,281.8 210.50,282.1 211.25,279.0 211.50,279.0 211.75,278.3 212.25,278.0 212.50,278.7 212.75,278.9 213.00,280.5 213.25,280.4 213.50,281.6 213.75,282.6 214.00,282.8 214.25,282.2 214.50,282.5 214.75,283.4 215.00,283.2 215.25,283.5 215.50,283.5 215.75,282.9 216.00,283.6 216.25,283.3 216.50,282.8 216.75,282.8 217.00,282.4 217.25,282.8 217.50,283.5 217.75,282.2 218.00,282.5 218.25,281.5 218.50,280.8 218.75,280.8 219.00,279.3 219.25,278.1 219.50,277.3 219.75,277.4 220.00,277.1 220.25,276.5 220.50,277.5 220.75,279.4 221.00,279.3 221.25,280.7 221.50,281.3 221.75,282.4 222.00,282.6 222.25,283.1 222.75,282.5 223.25,282.4 223.50,283.5 223.75,282.5 224.00,282.3 224.25,283.7 224.50,282.6 224.75,283.5 225.00,282.3 225.25,282.6 225.50,281.1 225.75,278.8 226.00,272.0 226.25,262.9 226.50,254.9 226.75,252.7 227.00,257.1 227.25,266.7 227.50,274.8 227.75,279.4 228.00,282.6 228.50,283.3 228.75,282.1 229.00,281.6 229.25,279.1 229.50,275.0 229.75,267.8 230.00,262.1 230.25,259.1 230.50,259.9 230.75,265.9 231.00,272.6 231.25,277.5 231.50,280.9 231.75,282.2 232.25,281.3 232.50,280.5 232.75,277.1 233.25,271.4 233.50,270.6 233.75,271.5 234.00,275.0 234.50,280.4 234.75,282.2 235.00,282.6 235.25,283.4 235.50,283.0 235.75,282.9 236.00,283.6 236.50,283.6 236.75,283.0 237.00,283.4 237.25,282.9 237.50,283.7 237.75,283.6 238.00,282.7 238.25,283.6 238.50,282.6 238.75,282.4 239.00,283.3 239.25,282.7 239.75,282.9 240.00,281.9 240.25,282.5 240.50,281.4 240.75,280.9 241.00,280.0 241.25,279.8 241.50,279.0 241.75,277.9 242.00,277.4 242.50,278.6 242.75,278.8 243.00,279.8 243.25,281.4 243.50,282.0 243.75,282.9 244.00,283.2 244.25,283.3 244.50,282.7 244.75,282.5 245.50,283.0 245.75,283.1 246.00,282.8 246.25,283.5 246.50,282.7 246.75,282.9 247.00,283.5 247.25,283.4 247.50,282.7 247.75,282.6 248.00,283.4 248.25,282.3 248.50,282.5 248.75,283.0 249.00,283.1 249.25,282.5 249.50,282.4 249.75,282.6 250.00,283.4 250.25,283.0 250.50,283.7 250.75,283.4 251.00,283.7 251.25,282.3 251.50,282.6 251.75,282.3 252.00,282.9 252.25,282.8 252.50,282.4 252.75,283.1 253.00,282.4 253.25,282.7 253.50,282.6 253.75,283.4 254.25,282.4 254.50,281.4 254.75,279.9 255.00,275.5 255.25,267.4 255.50,257.1 255.75,247.3 256.00,242.6 256.25,246.3 256.75,266.7 257.00,273.0 257.25,275.4 257.50,272.7 258.00,263.0 258.25,260.4 258.50,262.3 258.75,266.8 259.00,272.1 259.25,276.3 259.50,279.9 259.75,282.0 260.00,282.4 260.25,282.0 260.75,280.6 261.00,279.2 261.25,278.3 261.75,277.9 262.00,277.1 262.25,277.1 262.50,277.6 262.75,278.6 263.00,280.1 263.25,280.6 263.50,282.1 263.75,281.5 264.25,282.7 264.50,282.7 264.75,283.4 265.25,283.6 265.50,283.2 265.75,282.3 266.00,283.1 266.50,283.0 266.75,282.7 267.00,283.3 267.25,283.6 267.50,282.4 267.75,283.2 268.00,282.8 268.25,283.0 268.50,283.6 268.75,283.6 269.25,282.6 269.50,283.6 269.75,282.6 270.00,282.8 270.25,283.5 270.50,282.7 270.75,282.7 271.00,283.6 271.25,283.6 271.50,282.7 271.75,282.8 272.25,282.5 272.50,282.7 272.75,283.7 273.00,282.4 273.25,282.6 273.75,282.4 274.00,283.0 274.50,283.5 274.75,283.2 275.00,283.4 275.25,282.3 275.50,282.7 275.75,283.6 276.00,282.4 276.50,283.0 276.75,282.7 277.00,283.1 277.25,282.4 277.50,282.6 277.75,283.4 278.00,281.6 278.25,281.0 278.75,272.2 279.00,265.6 279.25,261.0 279.50,259.9 279.75,263.6 280.00,270.7 280.25,275.5 280.50,279.3 280.75,281.8 281.00,281.9 281.25,279.5 281.50,278.5 281.75,275.0 282.00,272.2 282.25,270.5 282.50,271.5 282.75,274.5 283.00,276.5 283.25,278.9 283.50,280.8 284.25,283.5 284.50,282.4 284.75,282.6 285.00,283.6 285.50,283.7 285.75,282.6 286.00,282.8 286.25,283.6 286.50,283.0 286.75,283.3 287.25,282.3 287.75,283.1 288.00,283.0 288.75,281.5 289.25,280.2 289.50,280.0 289.75,278.7 290.25,279.8 290.50,280.0 290.75,279.7 291.00,281.4 291.25,281.9 291.50,281.5 291.75,282.0 292.25,282.2 292.50,283.5 292.75,282.8 293.00,283.3 293.25,282.0 293.50,281.3 293.75,281.6 294.25,278.9 294.50,276.9 294.75,275.5 295.00,275.4 295.25,274.9 295.50,276.7 295.75,278.2 296.00,279.3 296.25,281.3 296.50,281.8 296.75,282.5 297.50,282.8 298.00,283.7 298.75,283.5 299.00,282.7 299.25,283.7 299.50,282.7 299.75,282.5 300.25,283.3 300.50,282.8 300.75,283.2 301.00,282.7 301.25,283.7 301.50,282.9 302.00,283.0 302.25,283.4 302.50,283.5 302.75,282.6 303.25,281.9 303.50,280.3 304.00,279.1 304.25,277.7 304.50,275.5 304.75,275.8 305.00,274.8 305.25,276.0 305.50,275.9 305.75,276.9 306.25,280.4 306.50,280.8 306.75,282.2 307.00,282.6 307.25,282.4 307.50,282.5 307.75,282.9 308.25,282.8 308.75,283.5 309.25,282.4 310.00,282.7 310.25,281.7 310.50,281.1 310.75,280.8 311.00,279.9 311.25,278.8 311.75,278.8 312.00,278.0 312.50,279.1 313.00,280.8 313.25,280.9 313.50,281.9 313.75,281.7 314.00,283.1 314.25,282.6 314.50,282.8 314.75,283.5 315.00,282.7 315.25,282.5 315.50,283.4 315.75,282.9 316.00,282.0 316.25,281.7 316.50,281.7 316.75,280.7 317.00,281.3 317.25,279.7 317.75,279.0 318.25,279.1 318.75,280.4 319.25,280.9 319.50,282.6 319.75,282.6 320.00,282.0 320.50,283.3 320.75,283.6 321.00,282.4 321.25,282.3 321.50,283.0 321.75,282.9 322.00,283.6 322.25,283.5 322.50,282.8 323.00,283.1 323.25,283.5 323.50,282.6 323.75,282.8 324.00,282.4 324.25,283.2 324.50,282.3 324.75,283.6 325.00,283.0 325.25,283.1 325.50,282.4 326.00,283.0 326.25,283.5 326.75,282.7 327.00,283.7 327.25,283.2 327.50,283.0 327.75,282.6 328.00,282.7 328.25,283.5 328.50,282.4 328.75,282.8 329.00,282.7 329.25,282.0 329.50,282.1 329.75,281.6 330.25,279.8 330.50,278.3 330.75,277.6 331.00,277.9 331.25,277.9 331.50,278.3 331.75,279.9 332.00,279.8 332.25,281.5 332.50,282.3 332.75,281.7 333.00,283.1 333.25,282.6 334.00,282.3 334.25,283.0 334.50,282.8 334.75,283.5 335.00,283.5 335.25,282.4 335.50,282.9 335.75,282.8 336.00,282.5 336.50,282.7 336.75,283.3 337.25,282.5 338.00,283.1 338.25,282.6 338.50,283.3 338.75,282.6 339.00,283.2 339.25,283.2 339.50,282.5 339.75,283.4 340.00,282.9 340.75,283.2 341.00,282.9 341.25,282.4 341.50,283.4 341.75,283.5 342.00,283.0 342.25,283.1 342.50,282.7 342.75,283.6 343.00,283.3 343.25,282.6 343.50,283.4 343.75,283.7 344.00,282.8" fill="none" stroke="#d8d822" stroke-width="0.80" stroke-linejoin="round"/>
<polyline points="79.50,379.2 79.75,379.1 80.00,379.3 80.50,379.1 81.00,379.7 81.50,379.6 81.75,379.2 82.00,379.4 82.75,378.6 83.25,377.3 83.50,375.0 83.75,371.8 84.00,367.8 84.25,363.1 84.50,359.9 84.75,358.5 85.00,359.3 85.25,362.2 85.50,366.2 85.75,369.7 86.00,373.7 86.25,376.3 86.50,377.8 87.00,379.1 87.25,379.0 87.50,379.7 88.25,379.2 88.50,379.7 88.75,379.5 89.00,379.7 89.25,379.7 89.75,379.3 90.00,379.5 90.50,379.1 90.75,379.2 91.00,379.7 91.25,379.0 91.50,379.0 91.75,379.5 92.00,379.2 92.25,379.4 92.75,379.3 93.00,379.8 93.25,379.2 93.50,379.3 93.75,379.2 94.00,379.5 94.25,379.2 94.50,379.3 94.75,379.6 95.00,379.3 95.50,379.7 95.75,379.1 96.25,379.2 96.50,379.6 97.00,379.2 97.50,379.1 97.75,379.3 98.00,378.9 98.25,379.1 98.50,378.5 98.75,376.8 99.00,372.8 99.25,366.1 99.50,354.2 99.75,339.1 100.25,304.5 100.50,292.5 100.75,290.0 101.00,296.5 101.25,311.0 101.50,328.5 101.75,345.6 102.00,359.5 102.25,368.6 102.50,374.4 102.75,377.7 103.00,378.5 103.75,379.1 104.00,379.6 104.25,379.3 104.75,379.1 105.00,379.8 105.25,379.3 106.00,379.0 106.25,379.1 106.50,379.5 106.75,379.1 107.00,379.0 107.25,379.4 107.50,379.2 107.75,379.8 108.00,379.1 108.50,379.6 108.75,379.3 109.00,379.8 109.50,379.2 109.75,379.3 110.00,379.0 110.25,379.3 110.50,379.2 110.75,379.7 111.25,379.4 111.50,379.0 112.50,379.2 112.75,379.7 113.00,379.1 113.25,379.0 113.50,379.7 113.75,379.5 114.00,379.8 114.25,379.3 114.50,379.7 114.75,379.5 115.25,379.6 115.75,379.1 116.00,379.2 116.25,379.7 116.75,379.7 117.00,379.3 117.50,379.6 117.75,379.5 118.00,379.7 118.25,379.4 118.75,379.5 119.00,379.2 119.25,379.7 119.50,379.8 119.75,379.1 120.00,379.8 120.50,379.5 120.75,379.0 121.00,379.7 121.25,379.1 121.50,379.7 121.75,379.4 122.00,378.8 122.50,378.5 123.00,376.6 123.25,375.2 123.50,372.8 123.75,370.9 124.00,370.4 124.25,369.0 124.50,370.0 124.75,370.4 125.00,372.6 125.50,376.1 126.00,378.4 126.25,378.5 126.50,379.2 126.75,379.1 127.00,379.7 127.50,379.4 127.75,379.4 128.00,379.0 128.25,379.0 128.50,379.5 128.75,379.4 129.00,379.7 129.50,379.1 130.00,379.6 130.50,379.0 130.75,379.7 131.00,379.7 131.25,379.1 131.50,379.4 131.75,379.3 132.00,379.6 132.25,379.2 132.50,379.2 133.00,379.8 133.25,379.1 133.50,379.1 134.00,379.6 134.75,378.3 135.00,377.0 135.25,374.6 135.50,372.9 135.75,370.0 136.00,368.2 136.25,367.7 136.50,367.8 137.00,371.4 137.25,374.3 137.75,377.3 138.00,378.5 138.75,379.7 139.00,379.6 139.25,379.0 139.75,379.4 140.25,379.6 140.75,379.1 141.00,379.2 141.25,379.7 141.50,379.3 142.00,379.8 142.25,379.5 142.75,379.5 143.00,379.3 143.25,379.7 143.50,379.4 143.75,379.7 144.00,379.2 144.25,379.7 145.25,379.1 145.50,379.6 145.75,379.3 146.00,379.5 146.25,379.1 146.75,379.1 147.00,379.6 147.25,379.1 147.50,379.7 147.75,379.3 148.00,379.5 148.25,379.3 148.50,379.5 148.75,379.1 149.25,379.7 149.50,378.9 149.75,378.9 150.00,377.6 150.25,375.6 150.50,371.7 150.75,366.2 151.00,359.4 151.25,350.9 151.50,343.2 151.75,338.5 152.00,338.1 152.25,341.5 152.50,349.0 152.75,357.3 153.00,365.1 153.25,371.1 153.50,374.4 153.75,375.9 154.00,374.8 154.25,373.4 154.50,370.5 155.00,363.2 155.25,360.4 155.50,358.4 155.75,359.1 156.00,360.6 156.25,363.9 156.50,367.9 156.75,371.3 157.00,374.0 157.25,376.1 157.50,377.6 157.75,378.7 158.00,379.4 158.25,379.6 158.50,379.3 158.75,379.3 159.00,379.6 159.25,379.2 159.50,379.3 159.75,379.0 160.25,379.1 160.50,378.6 160.75,376.8 161.00,372.7 161.25,365.9 161.50,354.3 161.75,339.5 162.00,325.1 162.25,316.5 162.50,315.5 162.75,323.4 163.00,336.8 163.25,351.3 163.50,363.3 163.75,371.5 164.00,375.9 164.25,378.6 164.50,379.3 164.75,379.5 165.00,379.1 165.50,379.2 165.75,379.8 166.00,379.1 166.25,379.6 166.75,379.4 167.00,379.8 167.25,379.2 167.50,379.4 167.75,379.1 168.25,379.0 168.50,379.3 169.00,379.0 169.25,379.8 169.50,379.2 169.75,379.7 170.50,379.5 170.75,379.8 171.50,379.4 172.00,379.6 172.50,379.4 172.75,379.1 173.00,379.6 173.75,378.3 174.00,377.6 174.25,374.8 174.50,370.9 174.75,365.4 175.00,358.3 175.25,350.3 175.50,344.2 175.75,341.4 176.00,342.4 176.25,348.0 176.50,354.5 176.75,362.8 177.00,368.6 177.25,373.3 177.50,376.8 177.75,378.4 178.00,378.7 178.25,379.3 178.75,379.6 179.00,379.1 179.25,379.7 179.50,379.8 179.75,379.6 180.25,379.7 180.50,379.3 180.75,379.6 181.00,379.5 181.25,378.9 181.75,376.4 182.00,373.7 182.25,368.5 182.50,362.6 183.00,349.1 183.25,344.7 183.50,344.8 183.75,347.8 184.00,354.3 184.25,361.2 184.50,367.4 184.75,372.9 185.00,376.0 185.25,377.6 185.50,379.0 185.75,379.5 186.25,379.7 187.25,379.4 187.50,379.8 187.75,379.3 188.00,379.1 188.25,379.6 189.00,379.5 189.75,379.1 190.00,379.6 190.25,379.7 190.50,379.6 190.75,379.1 191.00,379.8 191.50,379.4 191.75,379.0 192.00,379.7 192.50,379.5 192.75,379.0 193.00,379.6 193.25,379.0 193.50,379.4 193.75,379.1 194.00,379.3 194.25,379.7 194.75,379.7 195.00,379.2 195.50,379.5 195.75,379.0 196.25,379.8 196.50,379.6 196.75,379.7 197.00,379.2 197.50,379.6 198.50,379.0 198.75,379.7 199.00,379.7 199.25,379.2 199.50,379.6 199.75,379.3 200.25,379.7 200.50,379.3 200.75,379.5 201.00,379.2 201.25,379.4 201.50,379.0 202.00,379.2 202.25,379.7 202.50,379.1 202.75,379.6 203.00,379.1 203.25,379.8 203.50,379.1 204.00,379.2 204.25,379.7 204.50,379.5 204.75,379.7 205.25,379.1 205.75,379.3 206.00,379.6 206.25,378.7 206.75,378.5 207.00,377.2 207.25,376.9 207.50,375.3 208.00,373.5 208.25,373.0 208.50,372.1 208.75,372.9 209.00,373.1 209.25,374.5 209.50,375.1 209.75,376.8 210.00,377.2 210.25,378.0 210.75,378.9 211.00,379.1 211.25,379.7 211.75,379.3 212.00,379.8 212.25,379.1 212.50,379.2 212.75,379.8 213.25,379.5 213.50,379.8 213.75,379.0 214.00,379.7 214.50,379.5 214.75,379.7 215.00,379.1 215.50,379.1 216.25,379.4 216.50,379.3 217.00,379.7 217.25,379.6 217.50,379.0 218.25,379.2 218.50,379.5 218.75,379.2 219.00,379.5 219.25,379.3 219.50,379.3 220.00,379.8 220.25,379.2 220.50,379.3 220.75,379.8 221.00,379.2 221.25,379.0 221.50,379.2 221.75,379.7 222.00,379.6 222.25,379.8 222.75,379.0 223.25,379.6 223.75,379.1 224.25,379.4 224.75,379.3 225.25,378.9 225.50,379.4 225.75,379.1 226.00,378.3 226.50,375.6 226.75,373.5 227.00,370.8 227.25,367.3 227.75,362.2 228.00,361.1 228.25,362.3 228.50,364.4 228.75,367.4 229.00,370.7 229.25,373.1 229.50,375.7 229.75,377.6 230.50,378.9 231.00,379.3 231.25,379.2 231.50,379.5 231.75,379.1 232.25,379.5 232.50,379.4 232.75,379.8 233.00,379.7 233.25,379.2 234.00,379.4 234.25,379.3 234.50,379.7 234.75,379.1 235.00,379.3 235.25,378.9 235.50,379.3 235.75,378.8 236.00,378.6 236.25,377.4 236.50,377.1 236.75,376.2 237.00,375.0 237.25,375.0 237.50,374.7 237.75,374.1 238.00,375.2 239.00,377.6 239.25,378.0 239.75,379.3 240.00,379.0 240.25,379.3 240.50,379.2 241.00,379.8 241.25,379.7 241.50,379.2 241.75,379.3 242.00,379.0 242.50,379.7 242.75,379.7 243.00,379.1 243.25,379.3 243.50,379.1 244.00,379.7 244.25,379.2 244.50,379.7 245.00,379.7 245.25,379.2 245.50,379.7 246.00,379.8 246.25,379.0 247.00,379.4 247.50,379.1 247.75,379.5 248.25,379.2 248.75,378.3 249.00,377.4 249.25,375.5 249.50,373.8 250.00,369.0 250.50,366.4 250.75,366.5 251.00,367.6 251.25,369.8 251.50,371.8 251.75,374.4 252.00,375.8 252.25,377.9 252.50,378.1 252.75,379.1 253.75,379.3 254.00,379.6 254.75,379.2 255.00,379.5 255.25,379.1 255.75,379.5 256.50,379.5 256.75,379.2 257.00,379.8 257.25,379.5 257.75,379.8 258.00,379.4 259.50,379.2 259.75,379.4 260.25,379.2 260.50,379.3 260.75,378.9 261.00,379.1 261.25,378.6 261.50,377.7 261.75,377.5 262.00,376.4 262.25,375.7 262.50,376.0 262.75,375.0 263.00,375.1 263.25,376.1 263.50,376.0 263.75,377.1 264.00,377.7 264.50,378.4 264.75,379.3 265.00,379.1 265.75,379.6 266.25,379.1 266.50,379.6 266.75,379.1 267.25,379.0 267.50,379.8 267.75,379.3 268.00,379.6 268.25,379.4 268.50,379.8 268.75,379.3 269.00,379.3 269.25,379.5 269.50,379.0 270.00,379.6 270.50,379.3 270.75,379.7 271.00,379.2 271.25,379.3 271.75,378.3 272.00,378.1 272.50,376.6 272.75,376.0 273.00,375.1 273.75,373.8 274.00,373.7 274.25,373.4 274.75,374.9 275.00,375.3 275.25,376.5 275.50,376.6 275.75,378.0 276.25,379.0 276.75,379.3 277.00,379.2 277.50,379.7 277.75,379.4 278.25,379.7 278.50,379.2 278.75,379.3 279.00,379.0 279.25,379.7 279.75,379.5 280.00,379.2 280.25,379.1 280.75,379.7 281.00,379.3 281.50,379.3 281.75,379.7 282.00,379.1 282.25,379.7 282.50,379.0 282.75,379.6 283.00,379.6 283.25,379.4 283.50,379.6 283.75,379.2 284.00,379.1 284.25,379.3 284.50,379.2 284.75,379.6 285.25,379.5 285.50,379.8 286.00,379.6 286.50,379.7 287.00,379.3 288.00,379.7 288.50,379.5 288.75,379.2 289.00,379.5 289.25,379.1 289.50,379.5 289.75,379.1 290.00,379.0 290.25,379.8 290.50,379.7 290.75,379.2 291.00,379.0 291.25,379.7 291.50,379.6 291.75,379.1 292.00,379.7 293.00,379.0 293.25,379.1 293.75,379.6 294.00,379.5 294.25,379.2 294.50,379.6 294.75,379.1 295.00,379.5 295.50,379.0 295.75,379.2 296.00,379.6 296.25,379.2 296.50,379.0 296.75,379.4 297.00,379.3 298.00,379.7 298.25,379.3 298.50,379.5 298.75,379.1 299.25,379.1 299.50,379.7 299.75,379.3 300.25,379.7 300.50,379.3 301.00,379.2 301.25,379.4 301.75,379.1 302.00,379.7 302.25,379.5 303.50,379.6 303.75,379.3 304.25,379.7 304.50,379.1 305.00,379.1 305.50,379.7 305.75,379.4 306.00,379.7 306.25,379.3 306.50,379.5 306.75,379.2 307.00,379.5 307.50,379.0 308.25,379.7 308.50,379.2 308.75,379.7 309.00,379.6 309.25,379.1 309.50,379.6 310.00,379.8 310.50,379.3 311.25,379.5 311.50,379.2 311.75,379.7 312.25,379.1 312.50,379.2 312.75,379.1 313.00,379.4 313.25,379.1 313.50,379.4 313.75,379.2 314.00,379.7 314.25,379.6 314.50,379.2 314.75,379.6 315.25,379.2 315.50,379.7 315.75,379.0 316.25,379.5 316.50,379.1 317.00,379.7 317.25,379.3 317.50,379.6 317.75,379.2 318.00,379.8 318.25,379.8 318.50,379.1 318.75,379.6 319.25,379.0 319.50,379.2 319.75,379.6 320.00,379.4 320.25,379.4 320.50,379.1 321.50,379.7 322.00,379.3 322.25,379.7 323.00,379.6 323.75,379.1 324.00,379.5 324.75,379.7 325.00,379.4 325.25,379.4 325.50,379.8 325.75,379.1 326.75,379.5 327.00,379.1 327.25,379.4 327.50,379.1 327.75,379.3 328.00,379.1 328.50,379.5 329.00,379.1 329.50,379.5 329.75,379.2 330.50,379.6 330.75,379.0 331.00,379.5 331.25,379.0 331.50,379.7 331.75,379.2 332.00,379.7 332.25,379.0 332.50,379.4 332.75,379.2 333.00,379.6 333.25,379.6 333.50,379.1 333.75,379.0 334.00,379.6 335.00,379.3 335.25,379.5 335.75,379.1 336.25,379.8 336.75,379.6 337.00,379.7 337.25,379.4 337.50,379.3 337.75,379.6 338.00,379.1 338.25,379.6 338.50,379.1 338.75,379.4 339.00,379.3 339.25,379.4 339.50,378.6 339.75,378.9 340.00,378.6 340.25,377.6 340.50,377.5 340.75,376.5 341.25,375.8 341.50,374.5 342.00,374.4 342.50,375.2 342.75,375.0 343.50,377.6 343.75,378.2 344.00,378.4" fill="none" stroke="#d8d822" stroke-width="0.80" stroke-linejoin="round"/>
<polyline points="79.50,381.3 80.00,381.0 80.25,381.6 80.50,381.0 81.00,381.6 81.25,381.0 81.50,381.3 81.75,381.4 82.00,381.0 82.50,381.4 82.75,381.3 83.00,381.5 83.25,381.0 83.50,381.0 84.00,380.3 84.25,379.5 84.50,378.0 84.75,377.5 85.00,377.5 85.25,378.9 86.00,381.2 86.25,381.4 86.75,381.0 87.50,381.1 87.75,381.5 88.00,381.1 88.25,381.6 88.50,381.6 88.75,381.0 89.25,381.3 89.50,381.0 90.00,381.6 90.25,381.0 90.50,381.4 90.75,381.0 91.25,381.6 91.50,381.1 92.00,381.0 92.25,381.3 92.50,381.0 92.75,381.0 93.25,381.6 93.50,381.2 94.00,381.4 94.25,381.0 94.50,381.4 94.75,381.1 95.25,381.6 95.50,381.0 95.75,381.3 96.00,381.4 96.25,381.1 96.50,381.1 96.75,381.6 97.00,381.6 97.25,381.0 97.75,381.6 98.00,381.1 98.25,381.4 98.50,381.0 99.00,381.4 99.50,381.0 99.75,379.5 100.00,377.6 100.25,375.0 100.50,372.2 100.75,371.3 101.00,372.9 101.25,376.3 101.50,378.7 102.00,381.2 102.75,381.1 103.00,381.3 103.50,381.0 103.75,381.4 104.00,381.0 104.25,381.5 104.50,381.0 104.75,381.5 105.25,381.3 105.50,381.4 105.75,381.1 106.00,381.5 106.50,381.1 106.75,381.6 107.00,381.2 107.25,381.2 107.50,381.6 107.75,381.2 108.00,381.4 108.25,381.1 108.50,381.5 108.75,381.1 109.00,381.0 109.25,381.6 109.50,381.1 109.75,381.6 110.00,381.6 110.50,381.0 111.75,381.6 112.00,381.2 112.25,381.0 112.50,381.3 112.75,381.0 113.00,381.0 113.50,381.4 113.75,381.0 114.25,381.4 114.50,381.5 114.75,381.2 115.00,381.6 115.25,381.1 115.50,381.5 116.00,381.6 116.50,381.0 116.75,381.0 117.00,381.3 117.25,381.1 117.50,381.4 117.75,381.0 118.00,381.5 118.25,381.1 118.50,381.0 119.25,381.3 119.75,381.1 120.25,381.6 120.50,381.3 120.75,381.6 121.00,381.0 121.25,381.6 122.25,381.3 122.50,381.6 122.75,381.0 123.00,381.3 123.25,381.0 123.50,380.5 123.75,380.2 124.25,379.0 124.50,379.6 124.75,379.8 125.25,380.9 125.50,380.8 125.75,381.3 126.00,381.2 126.25,381.6 126.50,381.1 126.75,381.5 127.25,381.4 127.50,381.6 127.75,381.0 128.00,381.4 128.50,381.4 129.00,381.0 129.50,381.4 130.00,381.0 130.75,381.3 131.00,381.0 131.25,381.5 131.50,381.2 131.75,381.5 132.00,381.0 132.25,381.6 132.50,381.4 132.75,381.6 133.25,381.5 133.50,381.0 133.75,381.2 134.00,381.1 134.25,381.5 134.50,381.1 135.25,380.8 135.50,381.1 135.75,380.6 136.00,379.6 136.50,379.4 137.25,381.1 137.75,381.1 138.00,381.3 138.25,381.1 138.75,381.6 139.00,381.0 139.25,381.0 139.50,381.5 139.75,381.0 140.00,381.1 140.25,381.5 141.00,381.0 141.50,381.2 142.00,381.6 143.50,381.6 143.75,381.0 144.25,381.1 144.50,381.4 145.00,381.2 145.25,381.5 145.75,381.1 146.75,381.3 147.25,381.1 148.00,381.1 148.25,381.3 148.50,381.1 148.75,381.4 149.00,381.4 149.25,381.0 149.50,381.4 149.75,381.2 150.50,381.4 150.75,381.1 151.00,380.2 151.75,374.5 152.00,374.1 152.25,375.9 152.75,380.0 153.25,381.4 153.75,381.0 154.00,381.4 154.25,381.0 154.50,380.8 155.00,378.7 155.25,378.3 155.50,377.0 155.75,377.2 156.00,378.0 156.25,379.0 156.50,380.5 156.75,381.2 157.25,381.2 157.50,381.6 158.00,381.0 158.25,381.4 158.75,381.1 159.25,381.2 159.50,381.1 160.00,381.6 160.50,381.0 160.75,381.4 161.00,380.8 161.25,380.6 161.50,379.2 161.75,375.7 162.00,371.2 162.25,367.2 162.50,366.5 162.75,369.7 163.00,374.7 163.25,378.6 163.50,380.2 163.75,381.0 164.00,381.4 164.25,381.2 164.75,381.3 165.00,381.6 165.25,381.0 165.50,381.1 165.75,381.5 166.00,381.4 166.25,381.0 166.75,381.1 167.25,381.6 167.50,381.1 167.75,381.1 168.00,381.4 168.25,381.2 168.75,381.6 169.50,381.3 169.75,381.0 170.00,381.5 170.25,381.2 171.00,381.6 171.25,381.3 171.75,381.6 172.00,381.0 172.50,381.6 173.00,381.6 173.25,381.1 173.75,381.6 174.00,381.3 174.50,381.3 174.75,379.9 175.00,377.8 175.25,375.2 175.50,371.4 175.75,369.2 176.00,370.5 176.25,373.3 176.50,376.7 176.75,379.3 177.00,380.4 177.25,381.1 177.50,381.5 177.75,381.3 178.00,381.6 178.25,381.0 178.75,381.1 179.00,381.4 179.25,381.1 179.50,381.4 180.00,381.4 180.75,381.6 181.00,381.1 181.25,381.2 181.50,381.6 181.75,381.2 182.25,380.9 182.75,379.1 183.25,375.3 183.50,375.7 183.75,376.7 184.25,380.1 184.50,381.1 185.00,380.9 185.25,381.1 185.50,381.0 185.75,381.3 186.00,381.2 186.25,381.5 186.50,381.1 186.75,381.0 187.00,381.3 187.25,381.0 188.00,381.1 188.50,381.6 188.75,381.2 189.00,381.4 189.25,381.2 189.50,381.6 190.00,381.0 190.25,381.5 190.50,381.1 191.00,381.0 191.25,381.5 191.75,381.2 192.25,381.4 192.50,381.0 192.75,381.4 193.25,381.6 193.50,381.0 193.75,381.4 194.00,381.3 194.25,381.5 194.50,381.2 195.00,381.6 195.25,381.2 195.75,381.6 196.00,381.0 196.25,381.6 196.50,381.2 197.00,381.2 197.25,381.5 197.50,381.3 197.75,381.5 198.00,381.0 198.25,381.6 198.75,381.4 199.00,381.1 199.50,381.3 199.75,381.0 200.00,381.6 200.25,381.2 200.50,381.6 200.75,381.1 201.25,381.5 202.00,381.0 202.25,381.3 202.50,381.2 202.75,381.6 203.50,381.6 203.75,381.1 204.00,381.0 204.25,381.2 204.50,381.0 204.75,381.0 205.00,381.4 205.25,381.1 205.50,381.4 206.00,381.1 206.25,381.6 206.50,381.1 206.75,381.6 207.00,381.3 207.25,381.4 207.50,381.1 207.75,381.5 208.00,381.6 208.25,381.1 208.75,381.4 209.00,381.3 209.25,381.5 209.75,381.2 210.25,381.5 210.50,381.3 211.25,381.3 211.50,381.0 212.00,381.5 212.25,381.5 212.50,381.0 213.00,381.4 213.50,381.1 213.75,381.4 214.25,381.3 214.50,381.6 215.00,381.0 215.50,381.4 215.75,381.0 216.00,381.6 216.50,381.5 216.75,381.1 217.00,381.0 217.25,381.6 217.75,381.3 218.25,381.5 218.50,381.2 218.75,381.5 219.00,381.1 219.25,381.6 219.75,381.2 220.25,381.6 220.50,381.2 221.25,381.6 221.50,381.1 221.75,381.5 222.00,381.4 222.25,381.5 222.50,381.0 223.25,381.5 223.75,381.0 224.00,381.1 224.25,381.5 224.50,381.6 225.00,381.0 225.25,381.5 225.50,381.6 225.75,381.1 226.00,381.3 226.50,380.9 226.75,381.1 227.25,379.0 227.50,378.3 227.75,376.5 228.00,376.5 228.25,377.0 228.50,377.8 228.75,379.2 229.25,381.1 229.50,381.5 230.50,381.2 230.75,381.5 231.00,381.1 231.25,381.1 231.50,381.4 231.75,381.1 232.00,381.6 232.75,381.0 233.00,381.4 233.25,381.0 234.00,381.5 234.25,381.2 234.75,381.5 235.00,381.0 235.50,381.5 235.75,381.2 236.00,381.6 236.25,381.0 237.25,381.2 237.50,381.1 238.00,381.6 238.25,381.6 238.75,381.1 239.00,381.4 239.50,381.0 239.75,381.5 240.00,381.1 240.25,381.1 240.50,381.5 240.75,381.0 241.25,381.1 241.50,381.6 242.25,381.0 242.50,381.6 242.75,381.0 243.00,381.5 244.25,381.1 244.50,381.4 244.75,381.1 245.00,381.3 245.50,381.2 245.75,381.6 246.00,381.3 246.50,381.4 246.75,381.0 247.00,381.5 247.75,381.3 248.25,381.6 248.50,381.1 249.00,381.1 249.50,380.7 250.00,379.3 250.25,378.8 250.50,378.0 250.75,378.4 251.25,380.0 251.50,380.2 251.75,381.1 252.00,381.0 252.25,381.5 253.00,381.3 253.25,381.6 253.50,381.1 253.75,381.6 254.00,381.1 254.75,381.0 255.00,381.5 255.25,381.1 255.50,381.4 255.75,381.1 256.00,381.2 256.25,381.5 256.75,381.1 257.00,381.5 257.25,381.1 257.50,381.0 257.75,381.4 258.50,381.4 259.00,381.6 259.50,381.1 259.75,381.4 260.00,381.2 260.25,381.4 260.75,381.0 261.25,381.0 261.50,381.5 262.25,381.2 262.50,381.5 263.25,381.1 263.50,381.6 263.75,381.3 264.25,381.1 265.00,381.2 265.25,381.5 265.50,381.2 266.00,381.4 266.25,381.0 266.50,381.5 266.75,381.0 267.00,381.1 267.25,381.5 267.50,381.0 268.00,381.2 268.25,381.6 268.50,381.6 268.75,381.1 269.25,381.5 270.75,381.0 271.00,381.5 271.25,381.4 271.50,381.0 271.75,381.6 272.00,381.6 272.25,381.2 272.50,381.2 272.75,381.6 273.25,381.5 273.50,381.1 273.75,381.5 274.25,381.0 275.25,381.1 275.50,381.6 276.50,381.0 277.00,381.2 277.25,381.0 277.50,381.3 278.00,381.0 278.25,381.3 278.75,381.1 279.00,381.5 279.50,381.2 280.00,381.5 280.25,381.4 280.50,381.6 281.00,381.2 281.25,381.6 281.50,381.0 283.00,381.4 283.25,381.2 284.25,381.6 284.50,381.2 284.75,381.2 285.00,381.6 285.50,381.6 285.75,381.0 286.25,381.2 286.75,381.3 287.00,381.6 287.25,381.2 287.75,381.2 288.25,381.3 288.75,381.0 289.00,381.5 289.25,381.5 289.50,381.2 290.00,381.0 290.25,381.4 290.50,381.4 290.75,381.6 291.50,381.4 292.00,381.6 292.25,381.1 293.00,381.0 293.25,381.5 293.50,381.6 293.75,381.3 294.00,381.5 294.75,381.2 295.00,381.6 295.25,381.2 295.75,381.0 296.00,381.5 296.75,381.5 297.00,381.1 297.50,381.1 297.75,381.6 298.00,381.0 298.50,381.4 298.75,381.4 299.00,381.0 300.00,381.3 300.25,381.0 300.50,381.5 300.75,381.3 301.00,381.4 301.25,381.2 301.50,381.5 301.75,381.0 302.00,381.6 302.25,381.1 303.00,381.4 303.50,381.5 303.75,381.0 304.00,381.3 304.50,381.4 304.75,381.0 305.00,381.4 305.25,381.0 305.75,381.0 306.00,381.6 306.25,381.1 306.50,381.4 306.75,381.0 307.00,381.4 307.25,381.1 307.75,381.5 308.25,381.3 308.50,381.5 308.75,381.0 309.75,381.5 310.00,381.0 310.50,381.3 311.00,381.0 311.25,381.1 311.75,381.0 312.00,381.5 312.25,381.2 312.50,381.5 312.75,381.1 313.00,381.5 313.25,381.6 313.50,381.0 314.00,381.6 314.25,381.5 314.50,381.0 314.75,381.5 315.00,381.5 315.25,381.1 315.50,381.4 315.75,381.4 316.00,381.1 316.25,381.5 316.50,381.5 316.75,381.0 317.25,381.4 317.50,381.0 318.00,381.6 318.25,381.2 318.75,381.6 319.25,381.6 319.50,381.0 319.75,381.6 320.00,381.2 320.50,381.1 320.75,381.5 322.00,381.4 322.25,381.1 322.50,381.5 323.00,381.0 323.25,381.6 323.50,381.0 323.75,381.5 324.25,381.2 324.50,381.4 325.00,381.1 325.25,381.6 326.00,381.3 326.25,381.0 326.50,381.5 326.75,381.6 327.00,381.2 327.25,381.4 327.50,381.1 327.75,381.6 328.00,381.4 328.25,381.0 328.50,381.4 329.00,381.3 329.50,381.6 330.00,381.3 330.25,381.6 330.50,381.4 330.75,381.5 331.00,381.3 331.50,381.5 332.25,381.1 332.50,381.4 332.75,381.5 333.25,381.0 333.50,381.4 334.00,381.4 334.25,381.1 334.50,381.6 335.00,381.5 335.25,381.1 335.75,381.3 336.00,381.0 336.25,381.6 336.50,381.1 336.75,381.1 337.00,381.5 337.25,381.1 337.75,381.4 338.25,381.0 338.50,381.4 339.00,381.5 339.25,381.0 339.75,381.3 340.00,381.0 340.25,381.6 341.25,381.5 341.50,381.2 342.00,381.6 342.25,381.0 342.50,381.0 342.75,381.6 343.00,381.0 343.25,381.6 343.50,381.2 344.00,381.2" fill="none" stroke="#28d028" stroke-width="1.50" stroke-linejoin="round"/>
<line x1="41.5" y1="1" x2="41.5" y2="382.5" stroke="#cfcfcf" stroke-width="1"/>
<line x1="344.5" y1="1" x2="344.5" y2="382.5" stroke="#cfcfcf" stroke-width="1"/>
<line x1="41.5" y1="8.00" x2="41.5" y2="96.50" stroke="#1a1a1a" stroke-width="1"/>
<line x1="344.5" y1="8.00" x2="344.5" y2="96.50" stroke="#7a7a7a" stroke-width="1"/>
<line x1="344" y1="17.0" x2="342" y2="17.0" stroke="#555" stroke-width="1"/>
<line x1="344" y1="32.9" x2="342" y2="32.9" stroke="#555" stroke-width="1"/>
<line x1="344" y1="48.8" x2="342" y2="48.8" stroke="#555" stroke-width="1"/>
<line x1="344" y1="64.7" x2="342" y2="64.7" stroke="#555" stroke-width="1"/>
<line x1="344" y1="80.6" x2="342" y2="80.6" stroke="#555" stroke-width="1"/>
<line x1="41" y1="96.50" x2="345" y2="96.50" stroke="#6a6a6a" stroke-width="1"/>
<line x1="79.8" y1="96.50" x2="79.8" y2="99.00" stroke="#6a6a6a" stroke-width="0.8"/>
<line x1="117.5" y1="96.50" x2="117.5" y2="99.00" stroke="#6a6a6a" stroke-width="0.8"/>
<line x1="155.2" y1="96.50" x2="155.2" y2="99.00" stroke="#6a6a6a" stroke-width="0.8"/>
<line x1="193.0" y1="96.50" x2="193.0" y2="99.00" stroke="#6a6a6a" stroke-width="0.8"/>
<line x1="230.8" y1="96.50" x2="230.8" y2="99.00" stroke="#6a6a6a" stroke-width="0.8"/>
<line x1="268.5" y1="96.50" x2="268.5" y2="99.00" stroke="#6a6a6a" stroke-width="0.8"/>
<line x1="306.2" y1="96.50" x2="306.2" y2="99.00" stroke="#6a6a6a" stroke-width="0.8"/>
<line x1="41.5" y1="106.00" x2="41.5" y2="190.80" stroke="#1a1a1a" stroke-width="1"/>
<line x1="344.5" y1="106.00" x2="344.5" y2="190.80" stroke="#7a7a7a" stroke-width="1"/>
<line x1="344" y1="112.0" x2="342" y2="112.0" stroke="#555" stroke-width="1"/>
<line x1="344" y1="128.6" x2="342" y2="128.6" stroke="#555" stroke-width="1"/>
<line x1="344" y1="145.2" x2="342" y2="145.2" stroke="#555" stroke-width="1"/>
<line x1="344" y1="161.8" x2="342" y2="161.8" stroke="#555" stroke-width="1"/>
<line x1="344" y1="178.4" x2="342" y2="178.4" stroke="#555" stroke-width="1"/>
<line x1="41" y1="190.80" x2="345" y2="190.80" stroke="#6a6a6a" stroke-width="1"/>
<line x1="79.8" y1="190.80" x2="79.8" y2="193.30" stroke="#6a6a6a" stroke-width="0.8"/>
<line x1="117.5" y1="190.80" x2="117.5" y2="193.30" stroke="#6a6a6a" stroke-width="0.8"/>
<line x1="155.2" y1="190.80" x2="155.2" y2="193.30" stroke="#6a6a6a" stroke-width="0.8"/>
<line x1="193.0" y1="190.80" x2="193.0" y2="193.30" stroke="#6a6a6a" stroke-width="0.8"/>
<line x1="230.8" y1="190.80" x2="230.8" y2="193.30" stroke="#6a6a6a" stroke-width="0.8"/>
<line x1="268.5" y1="190.80" x2="268.5" y2="193.30" stroke="#6a6a6a" stroke-width="0.8"/>
<line x1="306.2" y1="190.80" x2="306.2" y2="193.30" stroke="#6a6a6a" stroke-width="0.8"/>
<line x1="41.5" y1="208.00" x2="41.5" y2="286.30" stroke="#1a1a1a" stroke-width="1"/>
<line x1="344.5" y1="208.00" x2="344.5" y2="286.30" stroke="#7a7a7a" stroke-width="1"/>
<line x1="344" y1="223.5" x2="342" y2="223.5" stroke="#555" stroke-width="1"/>
<line x1="344" y1="239.5" x2="342" y2="239.5" stroke="#555" stroke-width="1"/>
<line x1="344" y1="255.5" x2="342" y2="255.5" stroke="#555" stroke-width="1"/>
<line x1="344" y1="271.5" x2="342" y2="271.5" stroke="#555" stroke-width="1"/>
<line x1="41" y1="286.30" x2="345" y2="286.30" stroke="#6a6a6a" stroke-width="1"/>
<line x1="79.8" y1="286.30" x2="79.8" y2="288.80" stroke="#6a6a6a" stroke-width="0.8"/>
<line x1="117.5" y1="286.30" x2="117.5" y2="288.80" stroke="#6a6a6a" stroke-width="0.8"/>
<line x1="155.2" y1="286.30" x2="155.2" y2="288.80" stroke="#6a6a6a" stroke-width="0.8"/>
<line x1="193.0" y1="286.30" x2="193.0" y2="288.80" stroke="#6a6a6a" stroke-width="0.8"/>
<line x1="230.8" y1="286.30" x2="230.8" y2="288.80" stroke="#6a6a6a" stroke-width="0.8"/>
<line x1="268.5" y1="286.30" x2="268.5" y2="288.80" stroke="#6a6a6a" stroke-width="0.8"/>
<line x1="306.2" y1="286.30" x2="306.2" y2="288.80" stroke="#6a6a6a" stroke-width="0.8"/>
<line x1="41.5" y1="303.00" x2="41.5" y2="382.00" stroke="#1a1a1a" stroke-width="1"/>
<line x1="344.5" y1="303.00" x2="344.5" y2="382.00" stroke="#7a7a7a" stroke-width="1"/>
<line x1="344" y1="318.0" x2="342" y2="318.0" stroke="#555" stroke-width="1"/>
<line x1="344" y1="334.5" x2="342" y2="334.5" stroke="#555" stroke-width="1"/>
<line x1="344" y1="350.5" x2="342" y2="350.5" stroke="#555" stroke-width="1"/>
<line x1="344" y1="366.8" x2="342" y2="366.8" stroke="#555" stroke-width="1"/>
<line x1="41" y1="1" x2="345" y2="1" stroke="#8c8c8c" stroke-width="1.2"/>
<line x1="41.5" y1="1" x2="41.5" y2="8" stroke="#555" stroke-width="1"/>
<line x1="344.5" y1="1" x2="344.5" y2="8" stroke="#888" stroke-width="1"/>
<line x1="79.8" y1="1.5" x2="79.8" y2="4" stroke="#707070" stroke-width="0.8"/>
<line x1="117.5" y1="1.5" x2="117.5" y2="4" stroke="#707070" stroke-width="0.8"/>
<line x1="155.2" y1="1.5" x2="155.2" y2="4" stroke="#707070" stroke-width="0.8"/>
<line x1="193.0" y1="1.5" x2="193.0" y2="4" stroke="#707070" stroke-width="0.8"/>
<line x1="230.8" y1="1.5" x2="230.8" y2="4" stroke="#707070" stroke-width="0.8"/>
<line x1="268.5" y1="1.5" x2="268.5" y2="4" stroke="#707070" stroke-width="0.8"/>
<line x1="306.2" y1="1.5" x2="306.2" y2="4" stroke="#707070" stroke-width="0.8"/>
<line x1="42" y1="20.6" x2="44.5" y2="20.6" stroke="#222" stroke-width="0.9"/>
<line x1="42" y1="58.3" x2="44.5" y2="58.3" stroke="#222" stroke-width="0.9"/>
<line x1="42" y1="95.9" x2="44.5" y2="95.9" stroke="#222" stroke-width="0.9"/>
<line x1="42" y1="110.2" x2="44.5" y2="110.2" stroke="#222" stroke-width="0.9"/>
<line x1="42" y1="137.6" x2="44.5" y2="137.6" stroke="#222" stroke-width="0.9"/>
<line x1="42" y1="165.0" x2="44.5" y2="165.0" stroke="#222" stroke-width="0.9"/>
<line x1="42" y1="192.2" x2="44.5" y2="192.2" stroke="#222" stroke-width="0.9"/>
<line x1="42" y1="224.6" x2="44.5" y2="224.6" stroke="#222" stroke-width="0.9"/>
<line x1="42" y1="255.7" x2="44.5" y2="255.7" stroke="#222" stroke-width="0.9"/>
<line x1="42" y1="287.2" x2="44.5" y2="287.2" stroke="#222" stroke-width="0.9"/>
<line x1="42" y1="309.9" x2="44.5" y2="309.9" stroke="#222" stroke-width="0.9"/>
<line x1="42" y1="335.4" x2="44.5" y2="335.4" stroke="#222" stroke-width="0.9"/>
<line x1="42" y1="359.2" x2="44.5" y2="359.2" stroke="#222" stroke-width="0.9"/>
<line x1="42" y1="381.7" x2="44.5" y2="381.7" stroke="#222" stroke-width="0.9"/>
<text x="38.6" y="24.6" font-size="10.4" text-anchor="end" fill="#1a1a1a">1000</text>
<text x="38.6" y="62.3" font-size="10.4" text-anchor="end" fill="#1a1a1a">500</text>
<text x="38.6" y="99.9" font-size="10.4" text-anchor="end" fill="#1a1a1a">0</text>
<text x="38.6" y="114.2" font-size="10.4" text-anchor="end" fill="#1a1a1a">400</text>
<text x="38.6" y="141.6" font-size="10.4" text-anchor="end" fill="#1a1a1a">200</text>
<text x="38.6" y="169.0" font-size="10.4" text-anchor="end" fill="#1a1a1a">100</text>
<text x="38.6" y="196.2" font-size="10.4" text-anchor="end" fill="#1a1a1a">400</text>
<text x="38.6" y="228.6" font-size="10.4" text-anchor="end" fill="#1a1a1a">200</text>
<text x="38.6" y="259.7" font-size="10.4" text-anchor="end" fill="#1a1a1a">100</text>
<text x="38.6" y="291.2" font-size="10.4" text-anchor="end" fill="#1a1a1a">0</text>
<text x="38.6" y="313.9" font-size="10.4" text-anchor="end" fill="#1a1a1a">400</text>
<text x="38.6" y="339.4" font-size="10.4" text-anchor="end" fill="#1a1a1a">200</text>
<text x="38.6" y="363.2" font-size="10.4" text-anchor="end" fill="#1a1a1a">100</text>
<text x="38.6" y="385.7" font-size="10.4" text-anchor="end" fill="#1a1a1a">0</text>
<text x="42.0" y="394.2" font-size="10.4" text-anchor="middle" fill="#1a1a1a">10</text>
<text x="117.5" y="394.2" font-size="10.4" text-anchor="middle" fill="#1a1a1a">20</text>
<text x="193.0" y="394.2" font-size="10.4" text-anchor="middle" fill="#1a1a1a">30</text>
<text x="268.5" y="394.2" font-size="10.4" text-anchor="middle" fill="#1a1a1a">40</text>
<text x="344.0" y="394.2" font-size="10.4" text-anchor="middle" fill="#1a1a1a">50</text>
<text x="196.5" y="408.8" font-size="13.2" text-anchor="middle" fill="#1a1a1a">Scattering angle (deg.)</text>
<text transform="translate(10.9,190) rotate(-90)" font-size="13.2" text-anchor="middle" fill="#1a1a1a">Intensity (cps)</text>
<text x="260" y="14.9" font-size="13" fill="#111">(a) LiPO<tspan font-size="9.5" dy="4.5">2</tspan><tspan dy="-4.5">F</tspan><tspan font-size="9.5" dy="4.5">2</tspan></text>
<text x="260" y="115.0" font-size="13" fill="#111">(b) NaPO<tspan font-size="9.5" dy="4.5">2</tspan><tspan dy="-4.5">F</tspan><tspan font-size="9.5" dy="4.5">2</tspan></text>
<text x="260" y="209.8" font-size="13" fill="#111">(c) KPO<tspan font-size="9.5" dy="4.5">2</tspan><tspan dy="-4.5">F</tspan><tspan font-size="9.5" dy="4.5">2</tspan></text>
<text x="260" y="306.6" font-size="13" fill="#111">(d) NH<tspan font-size="9.5" dy="4.5">4</tspan><tspan dy="-4.5">PO</tspan><tspan font-size="9.5" dy="4.5">2</tspan><tspan dy="-4.5">F</tspan><tspan font-size="9.5" dy="4.5">2</tspan></text>
</svg>
</body></html>
